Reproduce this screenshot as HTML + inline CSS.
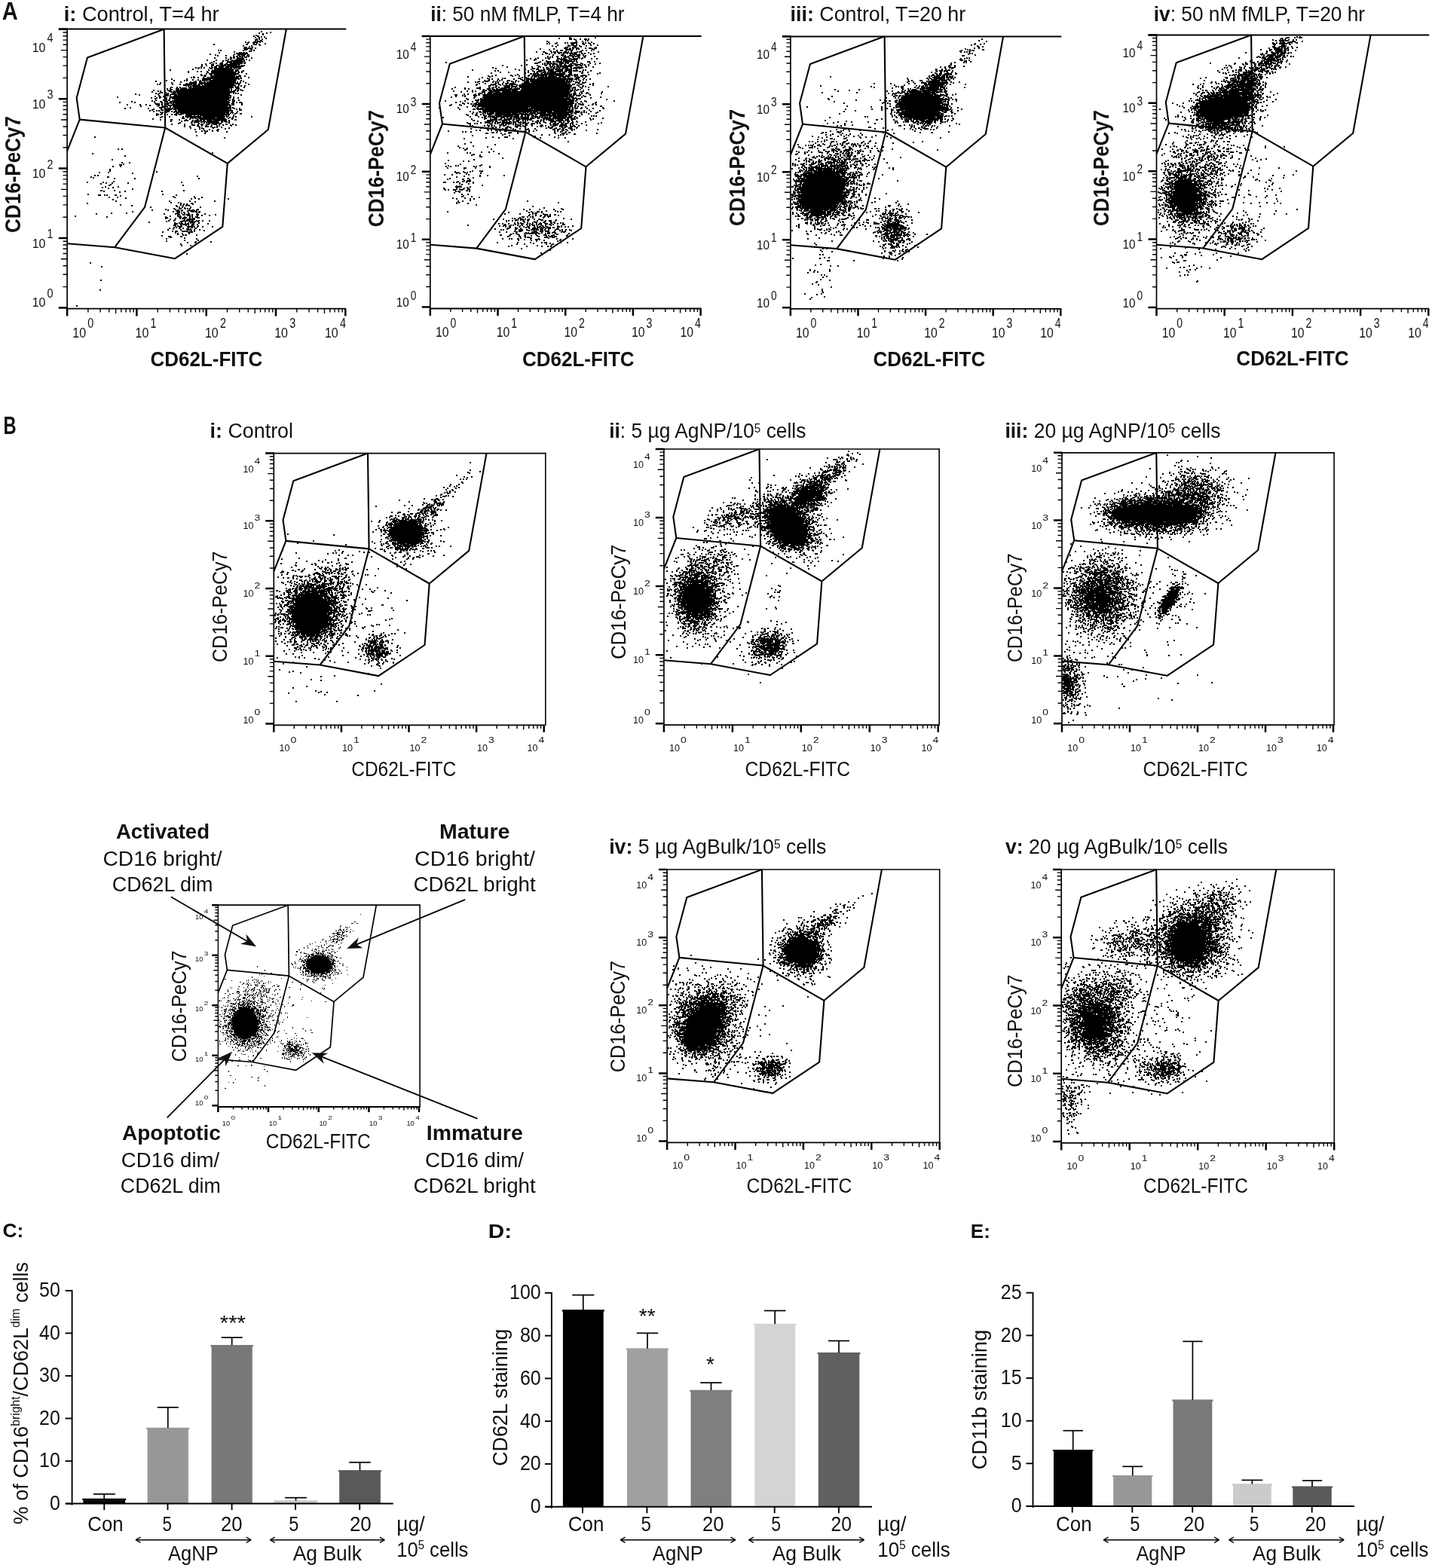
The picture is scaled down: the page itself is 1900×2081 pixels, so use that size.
<!DOCTYPE html>
<html><head><meta charset="utf-8"><title>Figure</title><style>html,body{margin:0;padding:0;background:#fff;}svg{display:block;}text{font-family:"Liberation Sans",Arial,sans-serif;fill:#111;}</style></head><body>
<svg width="1900" height="2081" viewBox="0 0 1900 2081">
<path d="M89.1 200.3 L105.7 158.6 L101.7 130.1 L115.9 76.5 L217.6 38.8" fill="none" stroke="#000" stroke-width="2.1" stroke-linejoin="round"/>
<path d="M217.6 38.8 L219.2 169.5" fill="none" stroke="#000" stroke-width="2.1" stroke-linejoin="round"/>
<path d="M105.7 158.6 L219.2 169.5" fill="none" stroke="#000" stroke-width="2.1" stroke-linejoin="round"/>
<path d="M219.2 169.5 L301.8 216.9 L355.8 172 L379.8 38.8" fill="none" stroke="#000" stroke-width="2.1" stroke-linejoin="round"/>
<path d="M219.2 169.5 L192.1 274.8 L152.2 328.2" fill="none" stroke="#000" stroke-width="2.1" stroke-linejoin="round"/>
<path d="M152.2 328.2 L232.2 343.2 L295.3 300.8 L301.8 216.9" fill="none" stroke="#000" stroke-width="2.1" stroke-linejoin="round"/>
<path d="M89.1 323.2 L152.2 328.2" fill="none" stroke="#000" stroke-width="2.1" stroke-linejoin="round"/>
<line x1="77.8" y1="38.5" x2="459.3" y2="38.5" stroke="#000" stroke-width="2"/>
<line x1="89.1" y1="37.5" x2="89.1" y2="410.7" stroke="#000" stroke-width="1.7"/>
<line x1="89.1" y1="409.7" x2="459.1" y2="409.7" stroke="#000" stroke-width="1.8"/>
<path d="M77.8 408.4h11.3M77.8 316h11.3M77.8 223.6h11.3M77.8 131.2h11.3M77.8 38.8h11.3M89.1 409.7v9.7M181.4 409.7v9.7M273.7 409.7v9.7M366 409.7v9.7M458.3 409.7v9.7" stroke="#000" stroke-width="2.5"/>
<path d="M83.5 380.6h5.6M83.5 364.3h5.6M83.5 352.8h5.6M80.9 343.8h8.2M83.5 336.5h5.6M83.5 330.3h5.6M83.5 325h5.6M83.5 320.2h5.6M83.5 288.2h5.6M83.5 271.9h5.6M83.5 260.4h5.6M80.9 251.4h8.2M83.5 244.1h5.6M83.5 237.9h5.6M83.5 232.6h5.6M83.5 227.8h5.6M83.5 195.8h5.6M83.5 179.5h5.6M83.5 168h5.6M80.9 159h8.2M83.5 151.7h5.6M83.5 145.5h5.6M83.5 140.2h5.6M83.5 135.4h5.6M83.5 103.4h5.6M83.5 87.1h5.6M83.5 75.6h5.6M80.9 66.6h8.2M83.5 59.3h5.6M83.5 53.1h5.6M83.5 47.8h5.6M83.5 43h5.6M116.9 409.7v4.7M133.1 409.7v4.7M144.7 409.7v4.7M153.6 409.7v6.2M160.9 409.7v4.7M167.1 409.7v4.7M172.5 409.7v4.7M177.2 409.7v4.7M209.2 409.7v4.7M225.4 409.7v4.7M237 409.7v4.7M245.9 409.7v6.2M253.2 409.7v4.7M259.4 409.7v4.7M264.8 409.7v4.7M269.5 409.7v4.7M301.5 409.7v4.7M317.7 409.7v4.7M329.3 409.7v4.7M338.2 409.7v6.2M345.5 409.7v4.7M351.7 409.7v4.7M357.1 409.7v4.7M361.8 409.7v4.7M393.8 409.7v4.7M410 409.7v4.7M421.6 409.7v4.7M430.5 409.7v6.2M437.8 409.7v4.7M444 409.7v4.7M449.4 409.7v4.7M454.1 409.7v4.7" stroke="#000" stroke-width="1.4"/>
<text x="60.4" y="407.4" font-size="16.2" text-anchor="end" textLength="17.7" lengthAdjust="spacingAndGlyphs">10</text>
<text x="62.6" y="394.5" font-size="16.2" textLength="8" lengthAdjust="spacingAndGlyphs">0</text>
<text x="60.4" y="328.8" font-size="16.2" text-anchor="end" textLength="17.7" lengthAdjust="spacingAndGlyphs">10</text>
<text x="62.6" y="315.9" font-size="16.2" textLength="8" lengthAdjust="spacingAndGlyphs">1</text>
<text x="60.4" y="236.4" font-size="16.2" text-anchor="end" textLength="17.7" lengthAdjust="spacingAndGlyphs">10</text>
<text x="62.6" y="223.5" font-size="16.2" textLength="8" lengthAdjust="spacingAndGlyphs">2</text>
<text x="60.4" y="144" font-size="16.2" text-anchor="end" textLength="17.7" lengthAdjust="spacingAndGlyphs">10</text>
<text x="62.6" y="131.1" font-size="16.2" textLength="8" lengthAdjust="spacingAndGlyphs">3</text>
<text x="60.4" y="69.3" font-size="16.2" text-anchor="end" textLength="17.7" lengthAdjust="spacingAndGlyphs">10</text>
<text x="62.6" y="56.4" font-size="16.2" textLength="8" lengthAdjust="spacingAndGlyphs">4</text>
<text x="96.3" y="448.4" font-size="18" textLength="17.8" lengthAdjust="spacingAndGlyphs">10</text>
<text x="116.3" y="435.4" font-size="18" textLength="8" lengthAdjust="spacingAndGlyphs">0</text>
<text x="179.6" y="448.4" font-size="18" textLength="17.8" lengthAdjust="spacingAndGlyphs">10</text>
<text x="199.6" y="435.4" font-size="18" textLength="8" lengthAdjust="spacingAndGlyphs">1</text>
<text x="271.9" y="448.4" font-size="18" textLength="17.8" lengthAdjust="spacingAndGlyphs">10</text>
<text x="291.9" y="435.4" font-size="18" textLength="8" lengthAdjust="spacingAndGlyphs">2</text>
<text x="364.2" y="448.4" font-size="18" textLength="17.8" lengthAdjust="spacingAndGlyphs">10</text>
<text x="384.2" y="435.4" font-size="18" textLength="8" lengthAdjust="spacingAndGlyphs">3</text>
<text x="430.9" y="448.4" font-size="18" textLength="17.8" lengthAdjust="spacingAndGlyphs">10</text>
<text x="450.9" y="435.4" font-size="18" textLength="8" lengthAdjust="spacingAndGlyphs">4</text>
<path d="M570.8 205.1 L586.9 164.5 L583 136.8 L596.8 84.7 L695.7 48" fill="none" stroke="#000" stroke-width="2.1" stroke-linejoin="round"/>
<path d="M695.7 48 L697.3 175.1" fill="none" stroke="#000" stroke-width="2.1" stroke-linejoin="round"/>
<path d="M586.9 164.5 L697.3 175.1" fill="none" stroke="#000" stroke-width="2.1" stroke-linejoin="round"/>
<path d="M697.3 175.1 L777.5 221.3 L830 177.6 L853.4 48" fill="none" stroke="#000" stroke-width="2.1" stroke-linejoin="round"/>
<path d="M697.3 175.1 L670.9 277.6 L632.2 329.6" fill="none" stroke="#000" stroke-width="2.1" stroke-linejoin="round"/>
<path d="M632.2 329.6 L709.8 344.1 L771.2 303 L777.5 221.3" fill="none" stroke="#000" stroke-width="2.1" stroke-linejoin="round"/>
<path d="M570.8 324.7 L632.2 329.6" fill="none" stroke="#000" stroke-width="2.1" stroke-linejoin="round"/>
<line x1="559.8" y1="47.9" x2="930.6" y2="47.9" stroke="#000" stroke-width="2"/>
<line x1="570.8" y1="46.9" x2="570.8" y2="410.5" stroke="#000" stroke-width="1.7"/>
<line x1="570.8" y1="409.5" x2="930.4" y2="409.5" stroke="#000" stroke-width="1.8"/>
<path d="M559.8 407.6h11M559.8 317.7h11M559.8 227.8h11M559.8 137.9h11M559.8 48h11M570.8 409.5v9.5M660.5 409.5v9.5M750.2 409.5v9.5M839.9 409.5v9.5M929.6 409.5v9.5" stroke="#000" stroke-width="2.5"/>
<path d="M565.3 380.5h5.5M565.3 364.7h5.5M565.3 353.5h5.5M562.8 344.8h8M565.3 337.6h5.5M565.3 331.6h5.5M565.3 326.4h5.5M565.3 321.8h5.5M565.3 290.6h5.5M565.3 274.8h5.5M565.3 263.6h5.5M562.8 254.9h8M565.3 247.7h5.5M565.3 241.7h5.5M565.3 236.5h5.5M565.3 231.9h5.5M565.3 200.7h5.5M565.3 184.9h5.5M565.3 173.7h5.5M562.8 165h8M565.3 157.8h5.5M565.3 151.8h5.5M565.3 146.6h5.5M565.3 142h5.5M565.3 110.8h5.5M565.3 95h5.5M565.3 83.8h5.5M562.8 75.1h8M565.3 67.9h5.5M565.3 61.9h5.5M565.3 56.7h5.5M565.3 52.1h5.5M597.8 409.5v4.6M613.6 409.5v4.6M624.8 409.5v4.6M633.5 409.5v6M640.6 409.5v4.6M646.6 409.5v4.6M651.8 409.5v4.6M656.4 409.5v4.6M687.5 409.5v4.6M703.3 409.5v4.6M714.5 409.5v4.6M723.2 409.5v6M730.3 409.5v4.6M736.3 409.5v4.6M741.5 409.5v4.6M746.1 409.5v4.6M777.2 409.5v4.6M793 409.5v4.6M804.2 409.5v4.6M812.9 409.5v6M820 409.5v4.6M826 409.5v4.6M831.2 409.5v4.6M835.8 409.5v4.6M866.9 409.5v4.6M882.7 409.5v4.6M893.9 409.5v4.6M902.6 409.5v6M909.7 409.5v4.6M915.7 409.5v4.6M920.9 409.5v4.6M925.5 409.5v4.6" stroke="#000" stroke-width="1.4"/>
<text x="542.8" y="407.3" font-size="15.8" text-anchor="end" textLength="17" lengthAdjust="spacingAndGlyphs">10</text>
<text x="544.8" y="397.8" font-size="15.8" textLength="7.6" lengthAdjust="spacingAndGlyphs">0</text>
<text x="542.8" y="330" font-size="15.8" text-anchor="end" textLength="17" lengthAdjust="spacingAndGlyphs">10</text>
<text x="544.8" y="320.5" font-size="15.8" textLength="7.6" lengthAdjust="spacingAndGlyphs">1</text>
<text x="542.8" y="240.1" font-size="15.8" text-anchor="end" textLength="17" lengthAdjust="spacingAndGlyphs">10</text>
<text x="544.8" y="230.6" font-size="15.8" textLength="7.6" lengthAdjust="spacingAndGlyphs">2</text>
<text x="542.8" y="150.2" font-size="15.8" text-anchor="end" textLength="17" lengthAdjust="spacingAndGlyphs">10</text>
<text x="544.8" y="140.7" font-size="15.8" textLength="7.6" lengthAdjust="spacingAndGlyphs">3</text>
<text x="542.8" y="77.5" font-size="15.8" text-anchor="end" textLength="17" lengthAdjust="spacingAndGlyphs">10</text>
<text x="544.8" y="68" font-size="15.8" textLength="7.6" lengthAdjust="spacingAndGlyphs">4</text>
<text x="578" y="447.3" font-size="18" textLength="17.5" lengthAdjust="spacingAndGlyphs">10</text>
<text x="597.5" y="434.8" font-size="18" textLength="7.8" lengthAdjust="spacingAndGlyphs">0</text>
<text x="658.7" y="447.3" font-size="18" textLength="17.5" lengthAdjust="spacingAndGlyphs">10</text>
<text x="678.2" y="434.8" font-size="18" textLength="7.8" lengthAdjust="spacingAndGlyphs">1</text>
<text x="748.4" y="447.3" font-size="18" textLength="17.5" lengthAdjust="spacingAndGlyphs">10</text>
<text x="767.9" y="434.8" font-size="18" textLength="7.8" lengthAdjust="spacingAndGlyphs">2</text>
<text x="838.1" y="447.3" font-size="18" textLength="17.5" lengthAdjust="spacingAndGlyphs">10</text>
<text x="857.6" y="434.8" font-size="18" textLength="7.8" lengthAdjust="spacingAndGlyphs">3</text>
<text x="902.6" y="447.3" font-size="18" textLength="17.5" lengthAdjust="spacingAndGlyphs">10</text>
<text x="922.1" y="434.8" font-size="18" textLength="7.8" lengthAdjust="spacingAndGlyphs">4</text>
<path d="M1048.9 205.5 L1065 164.8 L1061.1 137.1 L1074.9 84.9 L1173.6 48.2" fill="none" stroke="#000" stroke-width="2.1" stroke-linejoin="round"/>
<path d="M1173.6 48.2 L1175.2 175.5" fill="none" stroke="#000" stroke-width="2.1" stroke-linejoin="round"/>
<path d="M1065 164.8 L1175.2 175.5" fill="none" stroke="#000" stroke-width="2.1" stroke-linejoin="round"/>
<path d="M1175.2 175.5 L1255.3 221.7 L1307.8 178 L1331.1 48.2" fill="none" stroke="#000" stroke-width="2.1" stroke-linejoin="round"/>
<path d="M1175.2 175.5 L1148.9 278.1 L1110.2 330.1" fill="none" stroke="#000" stroke-width="2.1" stroke-linejoin="round"/>
<path d="M1110.2 330.1 L1187.8 344.7 L1249.1 303.4 L1255.3 221.7" fill="none" stroke="#000" stroke-width="2.1" stroke-linejoin="round"/>
<path d="M1048.9 325.2 L1110.2 330.1" fill="none" stroke="#000" stroke-width="2.1" stroke-linejoin="round"/>
<line x1="1037.9" y1="48.4" x2="1408.3" y2="48.4" stroke="#000" stroke-width="2"/>
<line x1="1048.9" y1="47.4" x2="1048.9" y2="410.8" stroke="#000" stroke-width="1.7"/>
<line x1="1048.9" y1="409.8" x2="1408.1" y2="409.8" stroke="#000" stroke-width="1.8"/>
<path d="M1037.9 408.2h11M1037.9 318.2h11M1037.9 228.2h11M1037.9 138.2h11M1037.9 48.2h11M1048.9 409.8v9.5M1138.5 409.8v9.5M1228.1 409.8v9.5M1317.7 409.8v9.5M1407.3 409.8v9.5" stroke="#000" stroke-width="2.5"/>
<path d="M1043.4 381.1h5.5M1043.4 365.3h5.5M1043.4 354h5.5M1040.9 345.3h8M1043.4 338.2h5.5M1043.4 332.1h5.5M1043.4 326.9h5.5M1043.4 322.3h5.5M1043.4 291.1h5.5M1043.4 275.3h5.5M1043.4 264h5.5M1040.9 255.3h8M1043.4 248.2h5.5M1043.4 242.1h5.5M1043.4 236.9h5.5M1043.4 232.3h5.5M1043.4 201.1h5.5M1043.4 185.3h5.5M1043.4 174h5.5M1040.9 165.3h8M1043.4 158.2h5.5M1043.4 152.1h5.5M1043.4 146.9h5.5M1043.4 142.3h5.5M1043.4 111.1h5.5M1043.4 95.3h5.5M1043.4 84h5.5M1040.9 75.3h8M1043.4 68.2h5.5M1043.4 62.1h5.5M1043.4 56.9h5.5M1043.4 52.3h5.5M1075.9 409.8v4.6M1091.7 409.8v4.6M1102.8 409.8v4.6M1111.5 409.8v6M1118.6 409.8v4.6M1124.6 409.8v4.6M1129.8 409.8v4.6M1134.4 409.8v4.6M1165.5 409.8v4.6M1181.3 409.8v4.6M1192.4 409.8v4.6M1201.1 409.8v6M1208.2 409.8v4.6M1214.2 409.8v4.6M1219.4 409.8v4.6M1224 409.8v4.6M1255.1 409.8v4.6M1270.9 409.8v4.6M1282 409.8v4.6M1290.7 409.8v6M1297.8 409.8v4.6M1303.8 409.8v4.6M1309 409.8v4.6M1313.6 409.8v4.6M1344.7 409.8v4.6M1360.5 409.8v4.6M1371.6 409.8v4.6M1380.3 409.8v6M1387.4 409.8v4.6M1393.4 409.8v4.6M1398.6 409.8v4.6M1403.2 409.8v4.6" stroke="#000" stroke-width="1.4"/>
<text x="1020.9" y="407.9" font-size="15.8" text-anchor="end" textLength="17" lengthAdjust="spacingAndGlyphs">10</text>
<text x="1022.9" y="398.4" font-size="15.8" textLength="7.6" lengthAdjust="spacingAndGlyphs">0</text>
<text x="1020.9" y="330.5" font-size="15.8" text-anchor="end" textLength="17" lengthAdjust="spacingAndGlyphs">10</text>
<text x="1022.9" y="321" font-size="15.8" textLength="7.6" lengthAdjust="spacingAndGlyphs">1</text>
<text x="1020.9" y="240.5" font-size="15.8" text-anchor="end" textLength="17" lengthAdjust="spacingAndGlyphs">10</text>
<text x="1022.9" y="231" font-size="15.8" textLength="7.6" lengthAdjust="spacingAndGlyphs">2</text>
<text x="1020.9" y="150.5" font-size="15.8" text-anchor="end" textLength="17" lengthAdjust="spacingAndGlyphs">10</text>
<text x="1022.9" y="141" font-size="15.8" textLength="7.6" lengthAdjust="spacingAndGlyphs">3</text>
<text x="1020.9" y="77.7" font-size="15.8" text-anchor="end" textLength="17" lengthAdjust="spacingAndGlyphs">10</text>
<text x="1022.9" y="68.2" font-size="15.8" textLength="7.6" lengthAdjust="spacingAndGlyphs">4</text>
<text x="1056.1" y="447.9" font-size="18" textLength="17.5" lengthAdjust="spacingAndGlyphs">10</text>
<text x="1075.6" y="435.4" font-size="18" textLength="7.8" lengthAdjust="spacingAndGlyphs">0</text>
<text x="1136.7" y="447.9" font-size="18" textLength="17.5" lengthAdjust="spacingAndGlyphs">10</text>
<text x="1156.2" y="435.4" font-size="18" textLength="7.8" lengthAdjust="spacingAndGlyphs">1</text>
<text x="1226.3" y="447.9" font-size="18" textLength="17.5" lengthAdjust="spacingAndGlyphs">10</text>
<text x="1245.8" y="435.4" font-size="18" textLength="7.8" lengthAdjust="spacingAndGlyphs">2</text>
<text x="1315.9" y="447.9" font-size="18" textLength="17.5" lengthAdjust="spacingAndGlyphs">10</text>
<text x="1335.4" y="435.4" font-size="18" textLength="7.8" lengthAdjust="spacingAndGlyphs">3</text>
<text x="1380.3" y="447.9" font-size="18" textLength="17.5" lengthAdjust="spacingAndGlyphs">10</text>
<text x="1399.8" y="435.4" font-size="18" textLength="7.8" lengthAdjust="spacingAndGlyphs">4</text>
<path d="M1534.5 204.4 L1550.7 163.6 L1546.8 135.7 L1560.7 83.3 L1660.1 46.4" fill="none" stroke="#000" stroke-width="2.1" stroke-linejoin="round"/>
<path d="M1660.1 46.4 L1661.7 174.2" fill="none" stroke="#000" stroke-width="2.1" stroke-linejoin="round"/>
<path d="M1550.7 163.6 L1661.7 174.2" fill="none" stroke="#000" stroke-width="2.1" stroke-linejoin="round"/>
<path d="M1661.7 174.2 L1742.3 220.7 L1795.2 176.8 L1818.6 46.4" fill="none" stroke="#000" stroke-width="2.1" stroke-linejoin="round"/>
<path d="M1661.7 174.2 L1635.2 277.3 L1596.2 329.5" fill="none" stroke="#000" stroke-width="2.1" stroke-linejoin="round"/>
<path d="M1596.2 329.5 L1674.3 344.2 L1736 302.8 L1742.3 220.7" fill="none" stroke="#000" stroke-width="2.1" stroke-linejoin="round"/>
<path d="M1534.5 324.7 L1596.2 329.5" fill="none" stroke="#000" stroke-width="2.1" stroke-linejoin="round"/>
<line x1="1523.5" y1="46.5" x2="1896.3" y2="46.5" stroke="#000" stroke-width="2"/>
<line x1="1534.5" y1="45.5" x2="1534.5" y2="410.7" stroke="#000" stroke-width="1.7"/>
<line x1="1534.5" y1="409.7" x2="1896.1" y2="409.7" stroke="#000" stroke-width="1.8"/>
<path d="M1523.5 408h11M1523.5 317.6h11M1523.5 227.2h11M1523.5 136.8h11M1523.5 46.4h11M1534.5 409.7v9.5M1624.7 409.7v9.5M1714.9 409.7v9.5M1805.1 409.7v9.5M1895.3 409.7v9.5" stroke="#000" stroke-width="2.5"/>
<path d="M1529 380.8h5.5M1529 364.9h5.5M1529 353.6h5.5M1526.5 344.8h8M1529 337.7h5.5M1529 331.6h5.5M1529 326.4h5.5M1529 321.7h5.5M1529 290.4h5.5M1529 274.5h5.5M1529 263.2h5.5M1526.5 254.4h8M1529 247.3h5.5M1529 241.2h5.5M1529 236h5.5M1529 231.3h5.5M1529 200h5.5M1529 184.1h5.5M1529 172.8h5.5M1526.5 164h8M1529 156.9h5.5M1529 150.8h5.5M1529 145.6h5.5M1529 140.9h5.5M1529 109.6h5.5M1529 93.7h5.5M1529 82.4h5.5M1526.5 73.6h8M1529 66.5h5.5M1529 60.4h5.5M1529 55.2h5.5M1529 50.5h5.5M1561.7 409.7v4.6M1577.5 409.7v4.6M1588.8 409.7v4.6M1597.5 409.7v6M1604.7 409.7v4.6M1610.7 409.7v4.6M1616 409.7v4.6M1620.6 409.7v4.6M1651.9 409.7v4.6M1667.7 409.7v4.6M1679 409.7v4.6M1687.7 409.7v6M1694.9 409.7v4.6M1700.9 409.7v4.6M1706.2 409.7v4.6M1710.8 409.7v4.6M1742.1 409.7v4.6M1757.9 409.7v4.6M1769.2 409.7v4.6M1777.9 409.7v6M1785.1 409.7v4.6M1791.1 409.7v4.6M1796.4 409.7v4.6M1801 409.7v4.6M1832.3 409.7v4.6M1848.1 409.7v4.6M1859.4 409.7v4.6M1868.1 409.7v6M1875.3 409.7v4.6M1881.3 409.7v4.6M1886.6 409.7v4.6M1891.2 409.7v4.6" stroke="#000" stroke-width="1.4"/>
<text x="1506.5" y="407.7" font-size="15.8" text-anchor="end" textLength="17" lengthAdjust="spacingAndGlyphs">10</text>
<text x="1508.5" y="398.2" font-size="15.8" textLength="7.6" lengthAdjust="spacingAndGlyphs">0</text>
<text x="1506.5" y="329.9" font-size="15.8" text-anchor="end" textLength="17" lengthAdjust="spacingAndGlyphs">10</text>
<text x="1508.5" y="320.4" font-size="15.8" textLength="7.6" lengthAdjust="spacingAndGlyphs">1</text>
<text x="1506.5" y="239.5" font-size="15.8" text-anchor="end" textLength="17" lengthAdjust="spacingAndGlyphs">10</text>
<text x="1508.5" y="230" font-size="15.8" textLength="7.6" lengthAdjust="spacingAndGlyphs">2</text>
<text x="1506.5" y="149.1" font-size="15.8" text-anchor="end" textLength="17" lengthAdjust="spacingAndGlyphs">10</text>
<text x="1508.5" y="139.6" font-size="15.8" textLength="7.6" lengthAdjust="spacingAndGlyphs">3</text>
<text x="1506.5" y="75.9" font-size="15.8" text-anchor="end" textLength="17" lengthAdjust="spacingAndGlyphs">10</text>
<text x="1508.5" y="66.4" font-size="15.8" textLength="7.6" lengthAdjust="spacingAndGlyphs">4</text>
<text x="1541.7" y="447.7" font-size="18" textLength="17.5" lengthAdjust="spacingAndGlyphs">10</text>
<text x="1561.2" y="435.2" font-size="18" textLength="7.8" lengthAdjust="spacingAndGlyphs">0</text>
<text x="1622.9" y="447.7" font-size="18" textLength="17.5" lengthAdjust="spacingAndGlyphs">10</text>
<text x="1642.4" y="435.2" font-size="18" textLength="7.8" lengthAdjust="spacingAndGlyphs">1</text>
<text x="1713.1" y="447.7" font-size="18" textLength="17.5" lengthAdjust="spacingAndGlyphs">10</text>
<text x="1732.6" y="435.2" font-size="18" textLength="7.8" lengthAdjust="spacingAndGlyphs">2</text>
<text x="1803.3" y="447.7" font-size="18" textLength="17.5" lengthAdjust="spacingAndGlyphs">10</text>
<text x="1822.8" y="435.2" font-size="18" textLength="7.8" lengthAdjust="spacingAndGlyphs">3</text>
<text x="1868.3" y="447.7" font-size="18" textLength="17.5" lengthAdjust="spacingAndGlyphs">10</text>
<text x="1887.8" y="435.2" font-size="18" textLength="7.8" lengthAdjust="spacingAndGlyphs">4</text>
<path d="M363.3 758.4 L379.4 717.9 L375.5 690.2 L389.3 638.2 L488 601.6" fill="none" stroke="#000" stroke-width="2.1" stroke-linejoin="round"/>
<path d="M488 601.6 L489.6 728.4" fill="none" stroke="#000" stroke-width="2.1" stroke-linejoin="round"/>
<path d="M379.4 717.9 L489.6 728.4" fill="none" stroke="#000" stroke-width="2.1" stroke-linejoin="round"/>
<path d="M489.6 728.4 L569.7 774.5 L622.2 730.9 L645.5 601.6" fill="none" stroke="#000" stroke-width="2.1" stroke-linejoin="round"/>
<path d="M489.6 728.4 L463.3 830.7 L424.6 882.5" fill="none" stroke="#000" stroke-width="2.1" stroke-linejoin="round"/>
<path d="M424.6 882.5 L502.2 897.1 L563.5 856 L569.7 774.5" fill="none" stroke="#000" stroke-width="2.1" stroke-linejoin="round"/>
<path d="M363.3 877.7 L424.6 882.5" fill="none" stroke="#000" stroke-width="2.1" stroke-linejoin="round"/>
<line x1="352.3" y1="601.6" x2="723.8" y2="601.6" stroke="#000" stroke-width="1.7"/>
<line x1="723.8" y1="600.8" x2="723.8" y2="963.1" stroke="#000" stroke-width="1.6"/>
<line x1="363.3" y1="600.6" x2="363.3" y2="963.3" stroke="#000" stroke-width="1.7"/>
<line x1="363.3" y1="962.3" x2="722.5" y2="962.3" stroke="#000" stroke-width="1.8"/>
<path d="M352.3 960.4h11M352.3 870.7h11M352.3 781h11M352.3 691.3h11M352.3 601.6h11M363.3 962.3v9.5M452.9 962.3v9.5M542.5 962.3v9.5M632.1 962.3v9.5M721.7 962.3v9.5" stroke="#000" stroke-width="2.5"/>
<path d="M357.8 933.4h5.5M357.8 917.6h5.5M357.8 906.4h5.5M355.3 897.7h8M357.8 890.6h5.5M357.8 884.6h5.5M357.8 879.4h5.5M357.8 874.8h5.5M357.8 843.7h5.5M357.8 827.9h5.5M357.8 816.7h5.5M355.3 808h8M357.8 800.9h5.5M357.8 794.9h5.5M357.8 789.7h5.5M357.8 785.1h5.5M357.8 754h5.5M357.8 738.2h5.5M357.8 727h5.5M355.3 718.3h8M357.8 711.2h5.5M357.8 705.2h5.5M357.8 700h5.5M357.8 695.4h5.5M357.8 664.3h5.5M357.8 648.5h5.5M357.8 637.3h5.5M355.3 628.6h8M357.8 621.5h5.5M357.8 615.5h5.5M357.8 610.3h5.5M357.8 605.7h5.5M390.3 962.3v4.6M406.1 962.3v4.6M417.2 962.3v4.6M425.9 962.3v6M433 962.3v4.6M439 962.3v4.6M444.2 962.3v4.6M448.8 962.3v4.6M479.9 962.3v4.6M495.7 962.3v4.6M506.8 962.3v4.6M515.5 962.3v6M522.6 962.3v4.6M528.6 962.3v4.6M533.8 962.3v4.6M538.4 962.3v4.6M569.5 962.3v4.6M585.3 962.3v4.6M596.4 962.3v4.6M605.1 962.3v6M612.2 962.3v4.6M618.2 962.3v4.6M623.4 962.3v4.6M628 962.3v4.6M659.1 962.3v4.6M674.9 962.3v4.6M686 962.3v4.6M694.7 962.3v6M701.8 962.3v4.6M707.8 962.3v4.6M713 962.3v4.6M717.6 962.3v4.6" stroke="#000" stroke-width="1.4"/>
<text x="336.5" y="960.4" font-size="12" text-anchor="end" textLength="14" lengthAdjust="spacingAndGlyphs">10</text>
<text x="337.5" y="949.4" font-size="11.2" textLength="7.8" lengthAdjust="spacingAndGlyphs">0</text>
<text x="336.5" y="881.7" font-size="12" text-anchor="end" textLength="14" lengthAdjust="spacingAndGlyphs">10</text>
<text x="337.5" y="870.7" font-size="11.2" textLength="7.8" lengthAdjust="spacingAndGlyphs">1</text>
<text x="336.5" y="792" font-size="12" text-anchor="end" textLength="14" lengthAdjust="spacingAndGlyphs">10</text>
<text x="337.5" y="781" font-size="11.2" textLength="7.8" lengthAdjust="spacingAndGlyphs">2</text>
<text x="336.5" y="702.3" font-size="12" text-anchor="end" textLength="14" lengthAdjust="spacingAndGlyphs">10</text>
<text x="337.5" y="691.3" font-size="11.2" textLength="7.8" lengthAdjust="spacingAndGlyphs">3</text>
<text x="336.5" y="626.9" font-size="12" text-anchor="end" textLength="14" lengthAdjust="spacingAndGlyphs">10</text>
<text x="337.5" y="615.9" font-size="11.2" textLength="7.8" lengthAdjust="spacingAndGlyphs">4</text>
<text x="370.5" y="996.9" font-size="12" textLength="14" lengthAdjust="spacingAndGlyphs">10</text>
<text x="385.5" y="985.9" font-size="11.2" textLength="7.8" lengthAdjust="spacingAndGlyphs">0</text>
<text x="453.9" y="996.9" font-size="12" textLength="14" lengthAdjust="spacingAndGlyphs">10</text>
<text x="468.9" y="985.9" font-size="11.2" textLength="7.8" lengthAdjust="spacingAndGlyphs">1</text>
<text x="543.5" y="996.9" font-size="12" textLength="14" lengthAdjust="spacingAndGlyphs">10</text>
<text x="558.5" y="985.9" font-size="11.2" textLength="7.8" lengthAdjust="spacingAndGlyphs">2</text>
<text x="633.1" y="996.9" font-size="12" textLength="14" lengthAdjust="spacingAndGlyphs">10</text>
<text x="648.1" y="985.9" font-size="11.2" textLength="7.8" lengthAdjust="spacingAndGlyphs">3</text>
<text x="699.4" y="996.9" font-size="12" textLength="14" lengthAdjust="spacingAndGlyphs">10</text>
<text x="714.4" y="985.9" font-size="11.2" textLength="7.8" lengthAdjust="spacingAndGlyphs">4</text>
<path d="M880.9 755.1 L897.3 714 L893.3 685.9 L907.3 633.1 L1007.5 595.9" fill="none" stroke="#000" stroke-width="2.1" stroke-linejoin="round"/>
<path d="M1007.5 595.9 L1009.1 724.7" fill="none" stroke="#000" stroke-width="2.1" stroke-linejoin="round"/>
<path d="M897.3 714 L1009.1 724.7" fill="none" stroke="#000" stroke-width="2.1" stroke-linejoin="round"/>
<path d="M1009.1 724.7 L1090.4 771.5 L1143.7 727.3 L1167.4 595.9" fill="none" stroke="#000" stroke-width="2.1" stroke-linejoin="round"/>
<path d="M1009.1 724.7 L982.4 828.6 L943.1 881.2" fill="none" stroke="#000" stroke-width="2.1" stroke-linejoin="round"/>
<path d="M943.1 881.2 L1021.9 896 L1084.1 854.3 L1090.4 771.5" fill="none" stroke="#000" stroke-width="2.1" stroke-linejoin="round"/>
<path d="M880.9 876.3 L943.1 881.2" fill="none" stroke="#000" stroke-width="2.1" stroke-linejoin="round"/>
<line x1="869.8" y1="596" x2="1246.2" y2="596" stroke="#000" stroke-width="1.7"/>
<line x1="1246.2" y1="595.2" x2="1246.2" y2="963" stroke="#000" stroke-width="1.6"/>
<line x1="880.9" y1="595" x2="880.9" y2="963.2" stroke="#000" stroke-width="1.7"/>
<line x1="880.9" y1="962.2" x2="1245.5" y2="962.2" stroke="#000" stroke-width="1.8"/>
<path d="M869.8 960.3h11.1M869.8 869.2h11.1M869.8 778.1h11.1M869.8 687h11.1M869.8 595.9h11.1M880.9 962.2v9.6M971.9 962.2v9.6M1062.8 962.2v9.6M1153.8 962.2v9.6M1244.7 962.2v9.6" stroke="#000" stroke-width="2.5"/>
<path d="M875.3 932.9h5.6M875.3 916.8h5.6M875.3 905.5h5.6M872.8 896.6h8.1M875.3 889.4h5.6M875.3 883.3h5.6M875.3 878h5.6M875.3 873.4h5.6M875.3 841.8h5.6M875.3 825.7h5.6M875.3 814.4h5.6M872.8 805.5h8.1M875.3 798.3h5.6M875.3 792.2h5.6M875.3 786.9h5.6M875.3 782.3h5.6M875.3 750.7h5.6M875.3 734.6h5.6M875.3 723.3h5.6M872.8 714.4h8.1M875.3 707.2h5.6M875.3 701.1h5.6M875.3 695.8h5.6M875.3 691.2h5.6M875.3 659.6h5.6M875.3 643.5h5.6M875.3 632.2h5.6M872.8 623.3h8.1M875.3 616.1h5.6M875.3 610h5.6M875.3 604.7h5.6M875.3 600.1h5.6M908.3 962.2v4.6M924.3 962.2v4.6M935.7 962.2v4.6M944.5 962.2v6.1M951.7 962.2v4.6M957.8 962.2v4.6M963 962.2v4.6M967.7 962.2v4.6M999.2 962.2v4.6M1015.2 962.2v4.6M1026.6 962.2v4.6M1035.4 962.2v6.1M1042.6 962.2v4.6M1048.7 962.2v4.6M1054 962.2v4.6M1058.6 962.2v4.6M1090.2 962.2v4.6M1106.2 962.2v4.6M1117.6 962.2v4.6M1126.4 962.2v6.1M1133.6 962.2v4.6M1139.7 962.2v4.6M1144.9 962.2v4.6M1149.6 962.2v4.6M1181.1 962.2v4.6M1197.1 962.2v4.6M1208.5 962.2v4.6M1217.3 962.2v6.1M1224.5 962.2v4.6M1230.6 962.2v4.6M1235.9 962.2v4.6M1240.5 962.2v4.6" stroke="#000" stroke-width="1.4"/>
<text x="854.1" y="960.3" font-size="12" text-anchor="end" textLength="14" lengthAdjust="spacingAndGlyphs">10</text>
<text x="855.1" y="949.3" font-size="11.2" textLength="7.8" lengthAdjust="spacingAndGlyphs">0</text>
<text x="854.1" y="880.2" font-size="12" text-anchor="end" textLength="14" lengthAdjust="spacingAndGlyphs">10</text>
<text x="855.1" y="869.2" font-size="11.2" textLength="7.8" lengthAdjust="spacingAndGlyphs">1</text>
<text x="854.1" y="789.1" font-size="12" text-anchor="end" textLength="14" lengthAdjust="spacingAndGlyphs">10</text>
<text x="855.1" y="778.1" font-size="11.2" textLength="7.8" lengthAdjust="spacingAndGlyphs">2</text>
<text x="854.1" y="698" font-size="12" text-anchor="end" textLength="14" lengthAdjust="spacingAndGlyphs">10</text>
<text x="855.1" y="687" font-size="11.2" textLength="7.8" lengthAdjust="spacingAndGlyphs">3</text>
<text x="854.1" y="621.2" font-size="12" text-anchor="end" textLength="14" lengthAdjust="spacingAndGlyphs">10</text>
<text x="855.1" y="610.2" font-size="11.2" textLength="7.8" lengthAdjust="spacingAndGlyphs">4</text>
<text x="888.1" y="996.8" font-size="12" textLength="14" lengthAdjust="spacingAndGlyphs">10</text>
<text x="903.1" y="985.8" font-size="11.2" textLength="7.8" lengthAdjust="spacingAndGlyphs">0</text>
<text x="972.9" y="996.8" font-size="12" textLength="14" lengthAdjust="spacingAndGlyphs">10</text>
<text x="987.9" y="985.8" font-size="11.2" textLength="7.8" lengthAdjust="spacingAndGlyphs">1</text>
<text x="1063.8" y="996.8" font-size="12" textLength="14" lengthAdjust="spacingAndGlyphs">10</text>
<text x="1078.8" y="985.8" font-size="11.2" textLength="7.8" lengthAdjust="spacingAndGlyphs">2</text>
<text x="1154.8" y="996.8" font-size="12" textLength="14" lengthAdjust="spacingAndGlyphs">10</text>
<text x="1169.8" y="985.8" font-size="11.2" textLength="7.8" lengthAdjust="spacingAndGlyphs">3</text>
<text x="1222.4" y="996.8" font-size="12" textLength="14" lengthAdjust="spacingAndGlyphs">10</text>
<text x="1237.4" y="985.8" font-size="11.2" textLength="7.8" lengthAdjust="spacingAndGlyphs">4</text>
<path d="M1409 757.8 L1425.2 717.2 L1421.2 689.5 L1435.1 637.4 L1534.3 600.7" fill="none" stroke="#000" stroke-width="2.1" stroke-linejoin="round"/>
<path d="M1534.3 600.7 L1535.9 727.8" fill="none" stroke="#000" stroke-width="2.1" stroke-linejoin="round"/>
<path d="M1425.2 717.2 L1535.9 727.8" fill="none" stroke="#000" stroke-width="2.1" stroke-linejoin="round"/>
<path d="M1535.9 727.8 L1616.4 774 L1669.1 730.3 L1692.5 600.7" fill="none" stroke="#000" stroke-width="2.1" stroke-linejoin="round"/>
<path d="M1535.9 727.8 L1509.4 830.3 L1470.6 882.3" fill="none" stroke="#000" stroke-width="2.1" stroke-linejoin="round"/>
<path d="M1470.6 882.3 L1548.5 896.8 L1610.1 855.7 L1616.4 774" fill="none" stroke="#000" stroke-width="2.1" stroke-linejoin="round"/>
<path d="M1409 877.4 L1470.6 882.3" fill="none" stroke="#000" stroke-width="2.1" stroke-linejoin="round"/>
<line x1="1398" y1="600.8" x2="1770.1" y2="600.8" stroke="#000" stroke-width="1.7"/>
<line x1="1770.1" y1="600" x2="1770.1" y2="963" stroke="#000" stroke-width="1.6"/>
<line x1="1409" y1="599.8" x2="1409" y2="963.2" stroke="#000" stroke-width="1.7"/>
<line x1="1409" y1="962.2" x2="1769.8" y2="962.2" stroke="#000" stroke-width="1.8"/>
<path d="M1398 960.3h11M1398 870.4h11M1398 780.5h11M1398 690.6h11M1398 600.7h11M1409 962.2v9.5M1499 962.2v9.5M1589 962.2v9.5M1679 962.2v9.5M1769 962.2v9.5" stroke="#000" stroke-width="2.5"/>
<path d="M1403.5 933.2h5.5M1403.5 917.4h5.5M1403.5 906.2h5.5M1401 897.5h8M1403.5 890.3h5.5M1403.5 884.3h5.5M1403.5 879.1h5.5M1403.5 874.5h5.5M1403.5 843.3h5.5M1403.5 827.5h5.5M1403.5 816.3h5.5M1401 807.6h8M1403.5 800.4h5.5M1403.5 794.4h5.5M1403.5 789.2h5.5M1403.5 784.6h5.5M1403.5 753.4h5.5M1403.5 737.6h5.5M1403.5 726.4h5.5M1401 717.7h8M1403.5 710.5h5.5M1403.5 704.5h5.5M1403.5 699.3h5.5M1403.5 694.7h5.5M1403.5 663.5h5.5M1403.5 647.7h5.5M1403.5 636.5h5.5M1401 627.8h8M1403.5 620.6h5.5M1403.5 614.6h5.5M1403.5 609.4h5.5M1403.5 604.8h5.5M1436.1 962.2v4.6M1451.9 962.2v4.6M1463.2 962.2v4.6M1471.9 962.2v6M1479 962.2v4.6M1485.1 962.2v4.6M1490.3 962.2v4.6M1494.9 962.2v4.6M1526.1 962.2v4.6M1541.9 962.2v4.6M1553.2 962.2v4.6M1561.9 962.2v6M1569 962.2v4.6M1575.1 962.2v4.6M1580.3 962.2v4.6M1584.9 962.2v4.6M1616.1 962.2v4.6M1631.9 962.2v4.6M1643.2 962.2v4.6M1651.9 962.2v6M1659 962.2v4.6M1665.1 962.2v4.6M1670.3 962.2v4.6M1674.9 962.2v4.6M1706.1 962.2v4.6M1721.9 962.2v4.6M1733.2 962.2v4.6M1741.9 962.2v6M1749 962.2v4.6M1755.1 962.2v4.6M1760.3 962.2v4.6M1764.9 962.2v4.6" stroke="#000" stroke-width="1.4"/>
<text x="1382.2" y="960.3" font-size="12" text-anchor="end" textLength="14" lengthAdjust="spacingAndGlyphs">10</text>
<text x="1383.2" y="949.3" font-size="11.2" textLength="7.8" lengthAdjust="spacingAndGlyphs">0</text>
<text x="1382.2" y="881.4" font-size="12" text-anchor="end" textLength="14" lengthAdjust="spacingAndGlyphs">10</text>
<text x="1383.2" y="870.4" font-size="11.2" textLength="7.8" lengthAdjust="spacingAndGlyphs">1</text>
<text x="1382.2" y="791.5" font-size="12" text-anchor="end" textLength="14" lengthAdjust="spacingAndGlyphs">10</text>
<text x="1383.2" y="780.5" font-size="11.2" textLength="7.8" lengthAdjust="spacingAndGlyphs">2</text>
<text x="1382.2" y="701.6" font-size="12" text-anchor="end" textLength="14" lengthAdjust="spacingAndGlyphs">10</text>
<text x="1383.2" y="690.6" font-size="11.2" textLength="7.8" lengthAdjust="spacingAndGlyphs">3</text>
<text x="1382.2" y="626" font-size="12" text-anchor="end" textLength="14" lengthAdjust="spacingAndGlyphs">10</text>
<text x="1383.2" y="615" font-size="11.2" textLength="7.8" lengthAdjust="spacingAndGlyphs">4</text>
<text x="1416.2" y="996.8" font-size="12" textLength="14" lengthAdjust="spacingAndGlyphs">10</text>
<text x="1431.2" y="985.8" font-size="11.2" textLength="7.8" lengthAdjust="spacingAndGlyphs">0</text>
<text x="1500" y="996.8" font-size="12" textLength="14" lengthAdjust="spacingAndGlyphs">10</text>
<text x="1515" y="985.8" font-size="11.2" textLength="7.8" lengthAdjust="spacingAndGlyphs">1</text>
<text x="1590" y="996.8" font-size="12" textLength="14" lengthAdjust="spacingAndGlyphs">10</text>
<text x="1605" y="985.8" font-size="11.2" textLength="7.8" lengthAdjust="spacingAndGlyphs">2</text>
<text x="1680" y="996.8" font-size="12" textLength="14" lengthAdjust="spacingAndGlyphs">10</text>
<text x="1695" y="985.8" font-size="11.2" textLength="7.8" lengthAdjust="spacingAndGlyphs">3</text>
<text x="1746.7" y="996.8" font-size="12" textLength="14" lengthAdjust="spacingAndGlyphs">10</text>
<text x="1761.7" y="985.8" font-size="11.2" textLength="7.8" lengthAdjust="spacingAndGlyphs">4</text>
<path d="M885.1 1311.6 L901.4 1270.9 L897.4 1243.1 L911.3 1190.9 L1010.9 1154.1" fill="none" stroke="#000" stroke-width="2.1" stroke-linejoin="round"/>
<path d="M1010.9 1154.1 L1012.6 1281.5" fill="none" stroke="#000" stroke-width="2.1" stroke-linejoin="round"/>
<path d="M901.4 1270.9 L1012.6 1281.5" fill="none" stroke="#000" stroke-width="2.1" stroke-linejoin="round"/>
<path d="M1012.6 1281.5 L1093.4 1327.8 L1146.4 1284 L1169.9 1154.1" fill="none" stroke="#000" stroke-width="2.1" stroke-linejoin="round"/>
<path d="M1012.6 1281.5 L986 1384.2 L946.9 1436.3" fill="none" stroke="#000" stroke-width="2.1" stroke-linejoin="round"/>
<path d="M946.9 1436.3 L1025.2 1450.9 L1087.1 1409.6 L1093.4 1327.8" fill="none" stroke="#000" stroke-width="2.1" stroke-linejoin="round"/>
<path d="M885.1 1431.4 L946.9 1436.3" fill="none" stroke="#000" stroke-width="2.1" stroke-linejoin="round"/>
<line x1="874.1" y1="1154" x2="1246.7" y2="1154" stroke="#000" stroke-width="1.7"/>
<line x1="1246.7" y1="1153.2" x2="1246.7" y2="1517.2" stroke="#000" stroke-width="1.6"/>
<line x1="885.1" y1="1153" x2="885.1" y2="1517.4" stroke="#000" stroke-width="1.7"/>
<line x1="885.1" y1="1516.4" x2="1247.5" y2="1516.4" stroke="#000" stroke-width="1.8"/>
<path d="M874.1 1514.5h11M874.1 1424.4h11M874.1 1334.3h11M874.1 1244.2h11M874.1 1154.1h11M885.1 1516.4v9.5M975.5 1516.4v9.5M1065.9 1516.4v9.5M1156.3 1516.4v9.5M1246.7 1516.4v9.5" stroke="#000" stroke-width="2.5"/>
<path d="M879.6 1487.4h5.5M879.6 1471.5h5.5M879.6 1460.3h5.5M877.1 1451.5h8M879.6 1444.4h5.5M879.6 1438.4h5.5M879.6 1433.1h5.5M879.6 1428.5h5.5M879.6 1397.3h5.5M879.6 1381.4h5.5M879.6 1370.2h5.5M877.1 1361.4h8M879.6 1354.3h5.5M879.6 1348.3h5.5M879.6 1343h5.5M879.6 1338.4h5.5M879.6 1307.2h5.5M879.6 1291.3h5.5M879.6 1280.1h5.5M877.1 1271.3h8M879.6 1264.2h5.5M879.6 1258.2h5.5M879.6 1252.9h5.5M879.6 1248.3h5.5M879.6 1217.1h5.5M879.6 1201.2h5.5M879.6 1190h5.5M877.1 1181.2h8M879.6 1174.1h5.5M879.6 1168.1h5.5M879.6 1162.8h5.5M879.6 1158.2h5.5M912.3 1516.4v4.6M928.2 1516.4v4.6M939.5 1516.4v4.6M948.3 1516.4v6M955.4 1516.4v4.6M961.5 1516.4v4.6M966.7 1516.4v4.6M971.4 1516.4v4.6M1002.7 1516.4v4.6M1018.6 1516.4v4.6M1029.9 1516.4v4.6M1038.7 1516.4v6M1045.8 1516.4v4.6M1051.9 1516.4v4.6M1057.1 1516.4v4.6M1061.8 1516.4v4.6M1093.1 1516.4v4.6M1109 1516.4v4.6M1120.3 1516.4v4.6M1129.1 1516.4v6M1136.2 1516.4v4.6M1142.3 1516.4v4.6M1147.5 1516.4v4.6M1152.2 1516.4v4.6M1183.5 1516.4v4.6M1199.4 1516.4v4.6M1210.7 1516.4v4.6M1219.5 1516.4v6M1226.6 1516.4v4.6M1232.7 1516.4v4.6M1237.9 1516.4v4.6M1242.6 1516.4v4.6" stroke="#000" stroke-width="1.4"/>
<text x="858.3" y="1514.5" font-size="12" text-anchor="end" textLength="14" lengthAdjust="spacingAndGlyphs">10</text>
<text x="859.3" y="1503.5" font-size="11.2" textLength="7.8" lengthAdjust="spacingAndGlyphs">0</text>
<text x="858.3" y="1435.4" font-size="12" text-anchor="end" textLength="14" lengthAdjust="spacingAndGlyphs">10</text>
<text x="859.3" y="1424.4" font-size="11.2" textLength="7.8" lengthAdjust="spacingAndGlyphs">1</text>
<text x="858.3" y="1345.3" font-size="12" text-anchor="end" textLength="14" lengthAdjust="spacingAndGlyphs">10</text>
<text x="859.3" y="1334.3" font-size="11.2" textLength="7.8" lengthAdjust="spacingAndGlyphs">2</text>
<text x="858.3" y="1255.2" font-size="12" text-anchor="end" textLength="14" lengthAdjust="spacingAndGlyphs">10</text>
<text x="859.3" y="1244.2" font-size="11.2" textLength="7.8" lengthAdjust="spacingAndGlyphs">3</text>
<text x="858.3" y="1179.4" font-size="12" text-anchor="end" textLength="14" lengthAdjust="spacingAndGlyphs">10</text>
<text x="859.3" y="1168.4" font-size="11.2" textLength="7.8" lengthAdjust="spacingAndGlyphs">4</text>
<text x="892.3" y="1551" font-size="12" textLength="14" lengthAdjust="spacingAndGlyphs">10</text>
<text x="907.3" y="1540" font-size="11.2" textLength="7.8" lengthAdjust="spacingAndGlyphs">0</text>
<text x="976.5" y="1551" font-size="12" textLength="14" lengthAdjust="spacingAndGlyphs">10</text>
<text x="991.5" y="1540" font-size="11.2" textLength="7.8" lengthAdjust="spacingAndGlyphs">1</text>
<text x="1066.9" y="1551" font-size="12" textLength="14" lengthAdjust="spacingAndGlyphs">10</text>
<text x="1081.9" y="1540" font-size="11.2" textLength="7.8" lengthAdjust="spacingAndGlyphs">2</text>
<text x="1157.3" y="1551" font-size="12" textLength="14" lengthAdjust="spacingAndGlyphs">10</text>
<text x="1172.3" y="1540" font-size="11.2" textLength="7.8" lengthAdjust="spacingAndGlyphs">3</text>
<text x="1224.4" y="1551" font-size="12" textLength="14" lengthAdjust="spacingAndGlyphs">10</text>
<text x="1239.4" y="1540" font-size="11.2" textLength="7.8" lengthAdjust="spacingAndGlyphs">4</text>
<path d="M1408.2 1311.8 L1424.5 1271 L1420.5 1243.2 L1434.4 1190.8 L1534.2 1154" fill="none" stroke="#000" stroke-width="2.1" stroke-linejoin="round"/>
<path d="M1534.2 1154 L1535.8 1281.6" fill="none" stroke="#000" stroke-width="2.1" stroke-linejoin="round"/>
<path d="M1424.5 1271 L1535.8 1281.6" fill="none" stroke="#000" stroke-width="2.1" stroke-linejoin="round"/>
<path d="M1535.8 1281.6 L1616.7 1328 L1669.7 1284.1 L1693.3 1154" fill="none" stroke="#000" stroke-width="2.1" stroke-linejoin="round"/>
<path d="M1535.8 1281.6 L1509.2 1384.5 L1470.1 1436.7" fill="none" stroke="#000" stroke-width="2.1" stroke-linejoin="round"/>
<path d="M1470.1 1436.7 L1548.5 1451.3 L1610.4 1409.9 L1616.7 1328" fill="none" stroke="#000" stroke-width="2.1" stroke-linejoin="round"/>
<path d="M1408.2 1431.8 L1470.1 1436.7" fill="none" stroke="#000" stroke-width="2.1" stroke-linejoin="round"/>
<line x1="1397.1" y1="1154" x2="1770.3" y2="1154" stroke="#000" stroke-width="1.7"/>
<line x1="1770.3" y1="1153.2" x2="1770.3" y2="1517.7" stroke="#000" stroke-width="1.6"/>
<line x1="1408.2" y1="1153" x2="1408.2" y2="1517.9" stroke="#000" stroke-width="1.7"/>
<line x1="1408.2" y1="1516.9" x2="1771" y2="1516.9" stroke="#000" stroke-width="1.8"/>
<path d="M1397.1 1515h11.1M1397.1 1424.8h11.1M1397.1 1334.5h11.1M1397.1 1244.2h11.1M1397.1 1154h11.1M1408.2 1516.9v9.6M1498.7 1516.9v9.6M1589.2 1516.9v9.6M1679.7 1516.9v9.6M1770.2 1516.9v9.6" stroke="#000" stroke-width="2.5"/>
<path d="M1402.7 1487.8h5.5M1402.7 1471.9h5.5M1402.7 1460.7h5.5M1400.2 1451.9h8M1402.7 1444.8h5.5M1402.7 1438.7h5.5M1402.7 1433.5h5.5M1402.7 1428.9h5.5M1402.7 1397.6h5.5M1402.7 1381.7h5.5M1402.7 1370.4h5.5M1400.2 1361.7h8M1402.7 1354.5h5.5M1402.7 1348.5h5.5M1402.7 1343.2h5.5M1402.7 1338.6h5.5M1402.7 1307.3h5.5M1402.7 1291.4h5.5M1402.7 1280.2h5.5M1400.2 1271.4h8M1402.7 1264.3h5.5M1402.7 1258.2h5.5M1402.7 1253h5.5M1402.7 1248.4h5.5M1402.7 1217.1h5.5M1402.7 1201.2h5.5M1402.7 1189.9h5.5M1400.2 1181.2h8M1402.7 1174h5.5M1402.7 1168h5.5M1402.7 1162.7h5.5M1402.7 1158.1h5.5M1435.4 1516.9v4.6M1451.4 1516.9v4.6M1462.7 1516.9v4.6M1471.5 1516.9v6M1478.6 1516.9v4.6M1484.7 1516.9v4.6M1489.9 1516.9v4.6M1494.6 1516.9v4.6M1525.9 1516.9v4.6M1541.9 1516.9v4.6M1553.2 1516.9v4.6M1562 1516.9v6M1569.1 1516.9v4.6M1575.2 1516.9v4.6M1580.4 1516.9v4.6M1585.1 1516.9v4.6M1616.4 1516.9v4.6M1632.4 1516.9v4.6M1643.7 1516.9v4.6M1652.5 1516.9v6M1659.6 1516.9v4.6M1665.7 1516.9v4.6M1670.9 1516.9v4.6M1675.6 1516.9v4.6M1706.9 1516.9v4.6M1722.9 1516.9v4.6M1734.2 1516.9v4.6M1743 1516.9v6M1750.1 1516.9v4.6M1756.2 1516.9v4.6M1761.4 1516.9v4.6M1766.1 1516.9v4.6" stroke="#000" stroke-width="1.4"/>
<text x="1381.4" y="1515" font-size="12" text-anchor="end" textLength="14" lengthAdjust="spacingAndGlyphs">10</text>
<text x="1382.4" y="1504" font-size="11.2" textLength="7.8" lengthAdjust="spacingAndGlyphs">0</text>
<text x="1381.4" y="1435.8" font-size="12" text-anchor="end" textLength="14" lengthAdjust="spacingAndGlyphs">10</text>
<text x="1382.4" y="1424.8" font-size="11.2" textLength="7.8" lengthAdjust="spacingAndGlyphs">1</text>
<text x="1381.4" y="1345.5" font-size="12" text-anchor="end" textLength="14" lengthAdjust="spacingAndGlyphs">10</text>
<text x="1382.4" y="1334.5" font-size="11.2" textLength="7.8" lengthAdjust="spacingAndGlyphs">2</text>
<text x="1381.4" y="1255.2" font-size="12" text-anchor="end" textLength="14" lengthAdjust="spacingAndGlyphs">10</text>
<text x="1382.4" y="1244.2" font-size="11.2" textLength="7.8" lengthAdjust="spacingAndGlyphs">3</text>
<text x="1381.4" y="1179.3" font-size="12" text-anchor="end" textLength="14" lengthAdjust="spacingAndGlyphs">10</text>
<text x="1382.4" y="1168.3" font-size="11.2" textLength="7.8" lengthAdjust="spacingAndGlyphs">4</text>
<text x="1415.4" y="1551.5" font-size="12" textLength="14" lengthAdjust="spacingAndGlyphs">10</text>
<text x="1430.4" y="1540.5" font-size="11.2" textLength="7.8" lengthAdjust="spacingAndGlyphs">0</text>
<text x="1499.7" y="1551.5" font-size="12" textLength="14" lengthAdjust="spacingAndGlyphs">10</text>
<text x="1514.7" y="1540.5" font-size="11.2" textLength="7.8" lengthAdjust="spacingAndGlyphs">1</text>
<text x="1590.2" y="1551.5" font-size="12" textLength="14" lengthAdjust="spacingAndGlyphs">10</text>
<text x="1605.2" y="1540.5" font-size="11.2" textLength="7.8" lengthAdjust="spacingAndGlyphs">2</text>
<text x="1680.7" y="1551.5" font-size="12" textLength="14" lengthAdjust="spacingAndGlyphs">10</text>
<text x="1695.7" y="1540.5" font-size="11.2" textLength="7.8" lengthAdjust="spacingAndGlyphs">3</text>
<text x="1747.9" y="1551.5" font-size="12" textLength="14" lengthAdjust="spacingAndGlyphs">10</text>
<text x="1762.9" y="1540.5" font-size="11.2" textLength="7.8" lengthAdjust="spacingAndGlyphs">4</text>
<path d="M289.4 1317.4 L301.4 1287.4 L298.5 1266.9 L308.7 1228.3 L382.2 1201.2" fill="none" stroke="#000" stroke-width="1.7" stroke-linejoin="round"/>
<path d="M382.2 1201.2 L383.4 1295.2" fill="none" stroke="#000" stroke-width="1.7" stroke-linejoin="round"/>
<path d="M301.4 1287.4 L383.4 1295.2" fill="none" stroke="#000" stroke-width="1.7" stroke-linejoin="round"/>
<path d="M383.4 1295.2 L443 1329.4 L482 1297.1 L499.3 1201.2" fill="none" stroke="#000" stroke-width="1.7" stroke-linejoin="round"/>
<path d="M383.4 1295.2 L363.8 1371 L335 1409.5" fill="none" stroke="#000" stroke-width="1.7" stroke-linejoin="round"/>
<path d="M335 1409.5 L392.7 1420.3 L438.3 1389.8 L443 1329.4" fill="none" stroke="#000" stroke-width="1.7" stroke-linejoin="round"/>
<path d="M289.4 1405.9 L335 1409.5" fill="none" stroke="#000" stroke-width="1.7" stroke-linejoin="round"/>
<line x1="281.3" y1="1201.1" x2="557.1" y2="1201.1" stroke="#000" stroke-width="1.7"/>
<line x1="557.1" y1="1200.3" x2="557.1" y2="1469.8" stroke="#000" stroke-width="1.6"/>
<line x1="289.4" y1="1200.1" x2="289.4" y2="1470" stroke="#000" stroke-width="1.4"/>
<line x1="289.4" y1="1469" x2="556.8" y2="1469" stroke="#000" stroke-width="1.8"/>
<path d="M281.3 1467.2h8.1M281.3 1400.7h8.1M281.3 1334.2h8.1M281.3 1267.7h8.1M281.3 1201.2h8.1M289.4 1469v7M356 1469v7M422.7 1469v7M489.4 1469v7M556 1469v7" stroke="#000" stroke-width="2.5"/>
<path d="M285.3 1447.2h4.1M285.3 1435.5h4.1M285.3 1427.2h4.1M283.5 1420.7h5.9M285.3 1415.5h4.1M285.3 1411h4.1M285.3 1407.1h4.1M285.3 1403.7h4.1M285.3 1380.7h4.1M285.3 1369h4.1M285.3 1360.7h4.1M283.5 1354.2h5.9M285.3 1349h4.1M285.3 1344.5h4.1M285.3 1340.6h4.1M285.3 1337.2h4.1M285.3 1314.2h4.1M285.3 1302.5h4.1M285.3 1294.2h4.1M283.5 1287.7h5.9M285.3 1282.5h4.1M285.3 1278h4.1M285.3 1274.1h4.1M285.3 1270.7h4.1M285.3 1247.7h4.1M285.3 1236h4.1M285.3 1227.7h4.1M283.5 1221.2h5.9M285.3 1216h4.1M285.3 1211.5h4.1M285.3 1207.6h4.1M285.3 1204.2h4.1M309.5 1469v3.4M321.2 1469v3.4M329.5 1469v3.4M336 1469v4.4M341.3 1469v3.4M345.7 1469v3.4M349.6 1469v3.4M353 1469v3.4M376.1 1469v3.4M387.9 1469v3.4M396.2 1469v3.4M402.6 1469v4.4M407.9 1469v3.4M412.4 1469v3.4M416.2 1469v3.4M419.7 1469v3.4M442.8 1469v3.4M454.5 1469v3.4M462.8 1469v3.4M469.3 1469v4.4M474.6 1469v3.4M479 1469v3.4M482.9 1469v3.4M486.3 1469v3.4M509.4 1469v3.4M521.2 1469v3.4M529.5 1469v3.4M535.9 1469v4.4M541.2 1469v3.4M545.7 1469v3.4M549.5 1469v3.4M553 1469v3.4" stroke="#000" stroke-width="1.4"/>
<text x="269.4" y="1467.2" font-size="9" text-anchor="end" textLength="10.4" lengthAdjust="spacingAndGlyphs">10</text>
<text x="270.8" y="1459" font-size="8" textLength="5.6" lengthAdjust="spacingAndGlyphs">0</text>
<text x="269.4" y="1408.9" font-size="9" text-anchor="end" textLength="10.4" lengthAdjust="spacingAndGlyphs">10</text>
<text x="270.8" y="1400.7" font-size="8" textLength="5.6" lengthAdjust="spacingAndGlyphs">1</text>
<text x="269.4" y="1342.4" font-size="9" text-anchor="end" textLength="10.4" lengthAdjust="spacingAndGlyphs">10</text>
<text x="270.8" y="1334.2" font-size="8" textLength="5.6" lengthAdjust="spacingAndGlyphs">2</text>
<text x="269.4" y="1275.9" font-size="9" text-anchor="end" textLength="10.4" lengthAdjust="spacingAndGlyphs">10</text>
<text x="270.8" y="1267.7" font-size="8" textLength="5.6" lengthAdjust="spacingAndGlyphs">3</text>
<text x="269.4" y="1220" font-size="9" text-anchor="end" textLength="10.4" lengthAdjust="spacingAndGlyphs">10</text>
<text x="270.8" y="1211.8" font-size="8" textLength="5.6" lengthAdjust="spacingAndGlyphs">4</text>
<text x="294.8" y="1494.4" font-size="9" textLength="10.4" lengthAdjust="spacingAndGlyphs">10</text>
<text x="306.6" y="1486.2" font-size="8" textLength="5.6" lengthAdjust="spacingAndGlyphs">0</text>
<text x="356.7" y="1494.4" font-size="9" textLength="10.4" lengthAdjust="spacingAndGlyphs">10</text>
<text x="368.5" y="1486.2" font-size="8" textLength="5.6" lengthAdjust="spacingAndGlyphs">1</text>
<text x="423.4" y="1494.4" font-size="9" textLength="10.4" lengthAdjust="spacingAndGlyphs">10</text>
<text x="435.2" y="1486.2" font-size="8" textLength="5.6" lengthAdjust="spacingAndGlyphs">2</text>
<text x="490.1" y="1494.4" font-size="9" textLength="10.4" lengthAdjust="spacingAndGlyphs">10</text>
<text x="501.8" y="1486.2" font-size="8" textLength="5.6" lengthAdjust="spacingAndGlyphs">3</text>
<text x="539.4" y="1494.4" font-size="9" textLength="10.4" lengthAdjust="spacingAndGlyphs">10</text>
<text x="551.2" y="1486.2" font-size="8" textLength="5.6" lengthAdjust="spacingAndGlyphs">4</text>
<text x="2.8" y="25.9" font-size="32.5" font-weight="bold" textLength="21" lengthAdjust="spacingAndGlyphs">A</text>
<text x="4.4" y="575.6" font-size="32.5" font-weight="bold" textLength="17.1" lengthAdjust="spacingAndGlyphs">B</text>
<text x="84.7" y="28" font-size="28.5" textLength="206" lengthAdjust="spacingAndGlyphs"><tspan font-weight="bold">i:</tspan> Control, T=4 hr</text>
<text x="571.2" y="27.8" font-size="28.5" textLength="257.3" lengthAdjust="spacingAndGlyphs"><tspan font-weight="bold">ii</tspan>: 50 nM fMLP, T=4 hr</text>
<text x="1048.6" y="27.8" font-size="28.5" textLength="232.6" lengthAdjust="spacingAndGlyphs"><tspan font-weight="bold">iii:</tspan> Control, T=20 hr</text>
<text x="1530.8" y="27.8" font-size="28.5" textLength="280.3" lengthAdjust="spacingAndGlyphs"><tspan font-weight="bold">iv</tspan>: 50 nM fMLP, T=20 hr</text>
<text x="278.6" y="580.9" font-size="27" textLength="110.4" lengthAdjust="spacingAndGlyphs"><tspan font-weight="bold">i:</tspan> Control</text>
<text x="808.2" y="581.2" font-size="27" textLength="261.2" lengthAdjust="spacingAndGlyphs"><tspan font-weight="bold">ii</tspan>: 5 µg AgNP/10<tspan font-size="15.7" dy="-7.5">5</tspan><tspan dy="7.5"> cells</tspan></text>
<text x="1333.4" y="581.2" font-size="27" textLength="286" lengthAdjust="spacingAndGlyphs"><tspan font-weight="bold">iii:</tspan> 20 µg AgNP/10<tspan font-size="15.7" dy="-7.5">5</tspan><tspan dy="7.5"> cells</tspan></text>
<text x="808.2" y="1133.1" font-size="27" textLength="288.2" lengthAdjust="spacingAndGlyphs"><tspan font-weight="bold">iv:</tspan> 5 µg AgBulk/10<tspan font-size="15.7" dy="-7.5">5</tspan><tspan dy="7.5"> cells</tspan></text>
<text x="1333.9" y="1133.1" font-size="27" textLength="295.2" lengthAdjust="spacingAndGlyphs"><tspan font-weight="bold">v:</tspan> 20 µg AgBulk/10<tspan font-size="15.7" dy="-7.5">5</tspan><tspan dy="7.5"> cells</tspan></text>
<text x="199.5" y="485.6" font-size="27" font-weight="bold" textLength="148.7" lengthAdjust="spacingAndGlyphs">CD62L-FITC</text>
<text x="693" y="485.6" font-size="27" font-weight="bold" textLength="148.6" lengthAdjust="spacingAndGlyphs">CD62L-FITC</text>
<text x="1158.6" y="485.6" font-size="27" font-weight="bold" textLength="148.6" lengthAdjust="spacingAndGlyphs">CD62L-FITC</text>
<text x="1640.3" y="485.3" font-size="27" font-weight="bold" textLength="149.4" lengthAdjust="spacingAndGlyphs">CD62L-FITC</text>
<text x="26.5" y="309" font-size="29.5" font-weight="bold" textLength="155" lengthAdjust="spacingAndGlyphs" transform="rotate(-90 26.5 309)">CD16-PeCy7</text>
<text x="509.1" y="301.2" font-size="29.5" font-weight="bold" textLength="155.2" lengthAdjust="spacingAndGlyphs" transform="rotate(-90 509.1 301.2)">CD16-PeCy7</text>
<text x="987.8" y="299.9" font-size="29.5" font-weight="bold" textLength="155.2" lengthAdjust="spacingAndGlyphs" transform="rotate(-90 987.8 299.9)">CD16-PeCy7</text>
<text x="1470.8" y="299.9" font-size="29.5" font-weight="bold" textLength="153.9" lengthAdjust="spacingAndGlyphs" transform="rotate(-90 1470.8 299.9)">CD16-PeCy7</text>
<text x="466.2" y="1029.5" font-size="27" textLength="139" lengthAdjust="spacingAndGlyphs">CD62L-FITC</text>
<text x="988.6" y="1030.2" font-size="27" textLength="139.5" lengthAdjust="spacingAndGlyphs">CD62L-FITC</text>
<text x="1516.4" y="1030.2" font-size="27" textLength="139.5" lengthAdjust="spacingAndGlyphs">CD62L-FITC</text>
<text x="990.5" y="1582.8" font-size="27" textLength="139.8" lengthAdjust="spacingAndGlyphs">CD62L-FITC</text>
<text x="1517" y="1582.8" font-size="27" textLength="138.9" lengthAdjust="spacingAndGlyphs">CD62L-FITC</text>
<text x="352.7" y="1524" font-size="27" textLength="139" lengthAdjust="spacingAndGlyphs">CD62L-FITC</text>
<text x="300.8" y="879" font-size="27" textLength="147.4" lengthAdjust="spacingAndGlyphs" transform="rotate(-90 300.8 879)">CD16-PeCy7</text>
<text x="830.5" y="875.1" font-size="27" textLength="152.6" lengthAdjust="spacingAndGlyphs" transform="rotate(-90 830.5 875.1)">CD16-PeCy7</text>
<text x="1355.8" y="879" font-size="27" textLength="144.7" lengthAdjust="spacingAndGlyphs" transform="rotate(-90 1355.8 879)">CD16-PeCy7</text>
<text x="829.5" y="1423.2" font-size="27" textLength="148.3" lengthAdjust="spacingAndGlyphs" transform="rotate(-90 829.5 1423.2)">CD16-PeCy7</text>
<text x="1355.8" y="1443" font-size="27" textLength="149.7" lengthAdjust="spacingAndGlyphs" transform="rotate(-90 1355.8 1443)">CD16-PeCy7</text>
<text x="247" y="1409.3" font-size="27" textLength="147.7" lengthAdjust="spacingAndGlyphs" transform="rotate(-90 247 1409.3)">CD16-PeCy7</text>
<text x="153.9" y="1112.8" font-size="27" font-weight="bold" textLength="124.1" lengthAdjust="spacingAndGlyphs">Activated</text>
<text x="136.5" y="1148.6" font-size="27" textLength="158.1" lengthAdjust="spacingAndGlyphs">CD16 bright/</text>
<text x="148.7" y="1183.4" font-size="27" textLength="133.8" lengthAdjust="spacingAndGlyphs">CD62L dim</text>
<text x="583.1" y="1112.8" font-size="27" font-weight="bold" textLength="93.2" lengthAdjust="spacingAndGlyphs">Mature</text>
<text x="550.1" y="1148.6" font-size="27" textLength="159.9" lengthAdjust="spacingAndGlyphs">CD16 bright/</text>
<text x="548.4" y="1183.4" font-size="27" textLength="162.3" lengthAdjust="spacingAndGlyphs">CD62L bright</text>
<text x="161.9" y="1513.4" font-size="27" font-weight="bold" textLength="131" lengthAdjust="spacingAndGlyphs">Apoptotic</text>
<text x="160.8" y="1548.5" font-size="27" textLength="130.4" lengthAdjust="spacingAndGlyphs">CD16 dim/</text>
<text x="159.8" y="1583.4" font-size="27" textLength="133.1" lengthAdjust="spacingAndGlyphs">CD62L dim</text>
<text x="565.8" y="1513.4" font-size="27" font-weight="bold" textLength="127.9" lengthAdjust="spacingAndGlyphs">Immature</text>
<text x="564" y="1548.5" font-size="27" textLength="131" lengthAdjust="spacingAndGlyphs">CD16 dim/</text>
<text x="548.4" y="1583.4" font-size="27" textLength="162.3" lengthAdjust="spacingAndGlyphs">CD62L bright</text>
<line x1="226.9" y1="1190.3" x2="328.9" y2="1249.8" stroke="#000" stroke-width="1.8"/>
<path d="M340.1 1256.3L319 1252.7L328 1249.2L326.6 1239.7Z" fill="#111"/>
<line x1="617.2" y1="1193.8" x2="472.2" y2="1253.9" stroke="#000" stroke-width="1.8"/>
<path d="M460.2 1258.9L475.8 1244.3L473.1 1253.5L481.5 1258.2Z" fill="#111"/>
<line x1="221.7" y1="1483.4" x2="299" y2="1405.1" stroke="#000" stroke-width="1.8"/>
<path d="M308.1 1395.8L299.4 1415.3L298.3 1405.8L288.7 1404.8Z" fill="#111"/>
<line x1="633.5" y1="1484.7" x2="425.9" y2="1402.1" stroke="#000" stroke-width="1.8"/>
<path d="M413.8 1397.3L435.2 1397.7L426.8 1402.5L429.6 1411.7Z" fill="#111"/>
<rect x="110.4" y="1989.1" width="55.7" height="6.5" fill="#080808"/>
<line x1="109.2" y1="1989.9" x2="167.3" y2="1989.9" stroke="#080808" stroke-width="2.2"/>
<line x1="138.2" y1="1989.1" x2="138.2" y2="1982.9" stroke="#000" stroke-width="1.7"/>
<line x1="123.8" y1="1982.9" x2="152.8" y2="1982.9" stroke="#000" stroke-width="1.7"/>
<rect x="195.6" y="1895" width="54.3" height="100.6" fill="#979797"/>
<line x1="194.4" y1="1895.8" x2="251.1" y2="1895.8" stroke="#979797" stroke-width="2.2"/>
<line x1="222.8" y1="1895" x2="222.8" y2="1867.8" stroke="#000" stroke-width="1.7"/>
<line x1="208.8" y1="1867.8" x2="236.8" y2="1867.8" stroke="#000" stroke-width="1.7"/>
<rect x="280.6" y="1785.3" width="54.2" height="210.3" fill="#787878"/>
<line x1="279.4" y1="1786.1" x2="336" y2="1786.1" stroke="#787878" stroke-width="2.2"/>
<line x1="307.7" y1="1785.3" x2="307.7" y2="1775.1" stroke="#000" stroke-width="1.7"/>
<line x1="293.7" y1="1775.1" x2="321.7" y2="1775.1" stroke="#000" stroke-width="1.7"/>
<rect x="364.4" y="1991.6" width="56.3" height="4" fill="#cccccc"/>
<line x1="363.2" y1="1992.4" x2="421.9" y2="1992.4" stroke="#cccccc" stroke-width="2.2"/>
<line x1="392.5" y1="1991.6" x2="392.5" y2="1987.7" stroke="#000" stroke-width="1.7"/>
<line x1="378" y1="1987.7" x2="407" y2="1987.7" stroke="#000" stroke-width="1.7"/>
<rect x="450.2" y="1951.5" width="54.7" height="44.1" fill="#595959"/>
<line x1="449" y1="1952.3" x2="506.1" y2="1952.3" stroke="#595959" stroke-width="2.2"/>
<line x1="477.5" y1="1951.5" x2="477.5" y2="1940.8" stroke="#000" stroke-width="1.7"/>
<line x1="463.2" y1="1940.8" x2="491.8" y2="1940.8" stroke="#000" stroke-width="1.7"/>
<line x1="95.6" y1="1712.1" x2="95.6" y2="1997.6" stroke="#000" stroke-width="1.9"/>
<line x1="87.6" y1="1995.6" x2="521.7" y2="1995.6" stroke="#000" stroke-width="2"/>
<line x1="86.6" y1="1995.6" x2="95.6" y2="1995.6" stroke="#000" stroke-width="1.9"/>
<line x1="86.6" y1="1939.1" x2="95.6" y2="1939.1" stroke="#000" stroke-width="1.9"/>
<line x1="86.6" y1="1882.5" x2="95.6" y2="1882.5" stroke="#000" stroke-width="1.9"/>
<line x1="86.6" y1="1826" x2="95.6" y2="1826" stroke="#000" stroke-width="1.9"/>
<line x1="86.6" y1="1769.4" x2="95.6" y2="1769.4" stroke="#000" stroke-width="1.9"/>
<line x1="86.6" y1="1712.9" x2="95.6" y2="1712.9" stroke="#000" stroke-width="1.9"/>
<line x1="138.3" y1="1995.6" x2="138.3" y2="2004.1" stroke="#000" stroke-width="1.9"/>
<line x1="222.5" y1="1995.6" x2="222.5" y2="2004.1" stroke="#000" stroke-width="1.9"/>
<line x1="307.6" y1="1995.6" x2="307.6" y2="2004.1" stroke="#000" stroke-width="1.9"/>
<line x1="392" y1="1995.6" x2="392" y2="2004.1" stroke="#000" stroke-width="1.9"/>
<line x1="477.2" y1="1995.6" x2="477.2" y2="2004.1" stroke="#000" stroke-width="1.9"/>
<text x="65.9" y="2003.9" font-size="27.5" textLength="13.9" lengthAdjust="spacingAndGlyphs">0</text>
<text x="52" y="1947.4" font-size="27.5" textLength="27.8" lengthAdjust="spacingAndGlyphs">10</text>
<text x="52" y="1890.8" font-size="27.5" textLength="27.8" lengthAdjust="spacingAndGlyphs">20</text>
<text x="52" y="1834.3" font-size="27.5" textLength="27.8" lengthAdjust="spacingAndGlyphs">30</text>
<text x="52" y="1777.7" font-size="27.5" textLength="27.8" lengthAdjust="spacingAndGlyphs">40</text>
<text x="52" y="1721.2" font-size="27.5" textLength="27.8" lengthAdjust="spacingAndGlyphs">50</text>
<rect x="746.9" y="1738.6" width="53.8" height="261.1" fill="#000000"/>
<line x1="745.7" y1="1739.4" x2="801.9" y2="1739.4" stroke="#000000" stroke-width="2.2"/>
<line x1="773.8" y1="1738.6" x2="773.8" y2="1718.7" stroke="#000" stroke-width="1.7"/>
<line x1="759.3" y1="1718.7" x2="788.3" y2="1718.7" stroke="#000" stroke-width="1.7"/>
<rect x="832" y="1789.7" width="53.9" height="210" fill="#a0a0a0"/>
<line x1="830.8" y1="1790.5" x2="887.1" y2="1790.5" stroke="#a0a0a0" stroke-width="2.2"/>
<line x1="859" y1="1789.7" x2="859" y2="1769.3" stroke="#000" stroke-width="1.7"/>
<line x1="844.7" y1="1769.3" x2="873.2" y2="1769.3" stroke="#000" stroke-width="1.7"/>
<rect x="916.5" y="1845" width="53.9" height="154.7" fill="#7f7f7f"/>
<line x1="915.3" y1="1845.8" x2="971.6" y2="1845.8" stroke="#7f7f7f" stroke-width="2.2"/>
<line x1="943.5" y1="1845" x2="943.5" y2="1835.1" stroke="#000" stroke-width="1.7"/>
<line x1="929.2" y1="1835.1" x2="957.7" y2="1835.1" stroke="#000" stroke-width="1.7"/>
<rect x="1001.3" y="1757.1" width="53.9" height="242.6" fill="#d4d4d4"/>
<line x1="1000.1" y1="1757.9" x2="1056.4" y2="1757.9" stroke="#d4d4d4" stroke-width="2.2"/>
<line x1="1028.2" y1="1757.1" x2="1028.2" y2="1739.5" stroke="#000" stroke-width="1.7"/>
<line x1="1014" y1="1739.5" x2="1042.5" y2="1739.5" stroke="#000" stroke-width="1.7"/>
<rect x="1085.8" y="1795.4" width="54.5" height="204.3" fill="#606060"/>
<line x1="1084.6" y1="1796.2" x2="1141.5" y2="1796.2" stroke="#606060" stroke-width="2.2"/>
<line x1="1113" y1="1795.4" x2="1113" y2="1779.5" stroke="#000" stroke-width="1.7"/>
<line x1="1099" y1="1779.5" x2="1127" y2="1779.5" stroke="#000" stroke-width="1.7"/>
<line x1="731.9" y1="1715.1" x2="731.9" y2="2001.7" stroke="#000" stroke-width="1.9"/>
<line x1="723.2" y1="1999.7" x2="1157" y2="1999.7" stroke="#000" stroke-width="2"/>
<line x1="722.9" y1="1999.7" x2="731.9" y2="1999.7" stroke="#000" stroke-width="1.9"/>
<line x1="722.9" y1="1942.9" x2="731.9" y2="1942.9" stroke="#000" stroke-width="1.9"/>
<line x1="722.9" y1="1886.2" x2="731.9" y2="1886.2" stroke="#000" stroke-width="1.9"/>
<line x1="722.9" y1="1829.4" x2="731.9" y2="1829.4" stroke="#000" stroke-width="1.9"/>
<line x1="722.9" y1="1772.7" x2="731.9" y2="1772.7" stroke="#000" stroke-width="1.9"/>
<line x1="722.9" y1="1715.9" x2="731.9" y2="1715.9" stroke="#000" stroke-width="1.9"/>
<line x1="773" y1="1999.7" x2="773" y2="2008.2" stroke="#000" stroke-width="1.9"/>
<line x1="858.4" y1="1999.7" x2="858.4" y2="2008.2" stroke="#000" stroke-width="1.9"/>
<line x1="943.3" y1="1999.7" x2="943.3" y2="2008.2" stroke="#000" stroke-width="1.9"/>
<line x1="1027.7" y1="1999.7" x2="1027.7" y2="2008.2" stroke="#000" stroke-width="1.9"/>
<line x1="1112.9" y1="1999.7" x2="1112.9" y2="2008.2" stroke="#000" stroke-width="1.9"/>
<text x="703.8" y="2008" font-size="27.5" textLength="13.9" lengthAdjust="spacingAndGlyphs">0</text>
<text x="689.9" y="1951.2" font-size="27.5" textLength="27.8" lengthAdjust="spacingAndGlyphs">20</text>
<text x="689.9" y="1894.5" font-size="27.5" textLength="27.8" lengthAdjust="spacingAndGlyphs">40</text>
<text x="689.9" y="1837.7" font-size="27.5" textLength="27.8" lengthAdjust="spacingAndGlyphs">60</text>
<text x="689.9" y="1781" font-size="27.5" textLength="27.8" lengthAdjust="spacingAndGlyphs">80</text>
<text x="676" y="1724.2" font-size="27.5" textLength="41.7" lengthAdjust="spacingAndGlyphs">100</text>
<rect x="1398" y="1924.2" width="51.4" height="74.8" fill="#000000"/>
<line x1="1396.8" y1="1925" x2="1450.6" y2="1925" stroke="#000000" stroke-width="2.2"/>
<line x1="1423.7" y1="1924.2" x2="1423.7" y2="1898.7" stroke="#000" stroke-width="1.7"/>
<line x1="1410.5" y1="1898.7" x2="1436.9" y2="1898.7" stroke="#000" stroke-width="1.7"/>
<rect x="1477.2" y="1958.2" width="51.1" height="40.8" fill="#979797"/>
<line x1="1476" y1="1959" x2="1529.5" y2="1959" stroke="#979797" stroke-width="2.2"/>
<line x1="1502.8" y1="1958.2" x2="1502.8" y2="1946.3" stroke="#000" stroke-width="1.7"/>
<line x1="1489.3" y1="1946.3" x2="1516.2" y2="1946.3" stroke="#000" stroke-width="1.7"/>
<rect x="1556.5" y="1857.9" width="51.8" height="141.1" fill="#797979"/>
<line x1="1555.3" y1="1858.7" x2="1609.5" y2="1858.7" stroke="#797979" stroke-width="2.2"/>
<line x1="1582.4" y1="1857.9" x2="1582.4" y2="1780.3" stroke="#000" stroke-width="1.7"/>
<line x1="1569.4" y1="1780.3" x2="1595.5" y2="1780.3" stroke="#000" stroke-width="1.7"/>
<rect x="1636.1" y="1969.5" width="50.7" height="29.5" fill="#cbcbcb"/>
<line x1="1634.9" y1="1970.3" x2="1688" y2="1970.3" stroke="#cbcbcb" stroke-width="2.2"/>
<line x1="1661.4" y1="1969.5" x2="1661.4" y2="1964.4" stroke="#000" stroke-width="1.7"/>
<line x1="1647.5" y1="1964.4" x2="1675.3" y2="1964.4" stroke="#000" stroke-width="1.7"/>
<rect x="1715.3" y="1972.9" width="51.5" height="26.1" fill="#5a5a5a"/>
<line x1="1714.1" y1="1973.7" x2="1768" y2="1973.7" stroke="#5a5a5a" stroke-width="2.2"/>
<line x1="1741" y1="1972.9" x2="1741" y2="1965" stroke="#000" stroke-width="1.7"/>
<line x1="1728" y1="1965" x2="1754.1" y2="1965" stroke="#000" stroke-width="1.7"/>
<line x1="1370.5" y1="1714.9" x2="1370.5" y2="2001" stroke="#000" stroke-width="1.9"/>
<line x1="1361.8" y1="1999" x2="1797" y2="1999" stroke="#000" stroke-width="2"/>
<line x1="1361.5" y1="1999" x2="1370.5" y2="1999" stroke="#000" stroke-width="1.9"/>
<line x1="1361.5" y1="1942.3" x2="1370.5" y2="1942.3" stroke="#000" stroke-width="1.9"/>
<line x1="1361.5" y1="1885.7" x2="1370.5" y2="1885.7" stroke="#000" stroke-width="1.9"/>
<line x1="1361.5" y1="1829" x2="1370.5" y2="1829" stroke="#000" stroke-width="1.9"/>
<line x1="1361.5" y1="1772.4" x2="1370.5" y2="1772.4" stroke="#000" stroke-width="1.9"/>
<line x1="1361.5" y1="1715.7" x2="1370.5" y2="1715.7" stroke="#000" stroke-width="1.9"/>
<line x1="1422.7" y1="1999" x2="1422.7" y2="2007.5" stroke="#000" stroke-width="1.9"/>
<line x1="1502.3" y1="1999" x2="1502.3" y2="2007.5" stroke="#000" stroke-width="1.9"/>
<line x1="1582.2" y1="1999" x2="1582.2" y2="2007.5" stroke="#000" stroke-width="1.9"/>
<line x1="1661.5" y1="1999" x2="1661.5" y2="2007.5" stroke="#000" stroke-width="1.9"/>
<line x1="1740.7" y1="1999" x2="1740.7" y2="2007.5" stroke="#000" stroke-width="1.9"/>
<text x="1341.7" y="2007.3" font-size="27.5" textLength="13.9" lengthAdjust="spacingAndGlyphs">0</text>
<text x="1341.7" y="1950.6" font-size="27.5" textLength="13.9" lengthAdjust="spacingAndGlyphs">5</text>
<text x="1327.8" y="1894" font-size="27.5" textLength="27.8" lengthAdjust="spacingAndGlyphs">10</text>
<text x="1327.8" y="1837.3" font-size="27.5" textLength="27.8" lengthAdjust="spacingAndGlyphs">15</text>
<text x="1327.8" y="1780.7" font-size="27.5" textLength="27.8" lengthAdjust="spacingAndGlyphs">20</text>
<text x="1327.8" y="1724" font-size="27.5" textLength="27.8" lengthAdjust="spacingAndGlyphs">25</text>
<text x="3.5" y="1642.4" font-size="26" font-weight="bold" textLength="27.8" lengthAdjust="spacingAndGlyphs">C:</text>
<text x="647.8" y="1643.4" font-size="26" font-weight="bold" textLength="31.3" lengthAdjust="spacingAndGlyphs">D:</text>
<text x="1287.8" y="1643.4" font-size="26" font-weight="bold" textLength="26.1" lengthAdjust="spacingAndGlyphs">E:</text>
<text x="291.8" y="1764.5" font-size="27" textLength="34.2" lengthAdjust="spacingAndGlyphs">***</text>
<text x="847.7" y="1756" font-size="27" textLength="21.9" lengthAdjust="spacingAndGlyphs">**</text>
<text x="937" y="1819.5" font-size="27" textLength="11" lengthAdjust="spacingAndGlyphs">*</text>
<text x="116.3" y="2031.5" font-size="27.5" textLength="47.2" lengthAdjust="spacingAndGlyphs">Con</text>
<text x="215.4" y="2031.5" font-size="27.5" textLength="12.4" lengthAdjust="spacingAndGlyphs">5</text>
<text x="293" y="2031.5" font-size="27.5" textLength="28.6" lengthAdjust="spacingAndGlyphs">20</text>
<text x="383.3" y="2031.5" font-size="27.5" textLength="13.1" lengthAdjust="spacingAndGlyphs">5</text>
<text x="463.9" y="2031.5" font-size="27.5" textLength="28.9" lengthAdjust="spacingAndGlyphs">20</text>
<text x="753.8" y="2031.5" font-size="27.5" textLength="47.5" lengthAdjust="spacingAndGlyphs">Con</text>
<text x="850.6" y="2031.5" font-size="27.5" textLength="13.4" lengthAdjust="spacingAndGlyphs">5</text>
<text x="932.1" y="2031.5" font-size="27.5" textLength="28.4" lengthAdjust="spacingAndGlyphs">20</text>
<text x="1023.3" y="2031.5" font-size="27.5" textLength="12.8" lengthAdjust="spacingAndGlyphs">5</text>
<text x="1102.4" y="2031.5" font-size="27.5" textLength="27.5" lengthAdjust="spacingAndGlyphs">20</text>
<text x="1401.1" y="2031.5" font-size="27.5" textLength="47.5" lengthAdjust="spacingAndGlyphs">Con</text>
<text x="1499.3" y="2031.5" font-size="27.5" textLength="13.2" lengthAdjust="spacingAndGlyphs">5</text>
<text x="1570.3" y="2031.5" font-size="27.5" textLength="27.9" lengthAdjust="spacingAndGlyphs">20</text>
<text x="1657.7" y="2031.5" font-size="27.5" textLength="12.7" lengthAdjust="spacingAndGlyphs">5</text>
<text x="1731.7" y="2031.5" font-size="27.5" textLength="27.8" lengthAdjust="spacingAndGlyphs">20</text>
<text x="526.2" y="2031.5" font-size="27.5" textLength="37.5" lengthAdjust="spacingAndGlyphs">µg/</text>
<text x="526.2" y="2066.2" font-size="27.5" textLength="95.2" lengthAdjust="spacingAndGlyphs">10<tspan font-size="16" dy="-10">5</tspan><tspan dy="10"> cells</tspan></text>
<text x="1164.3" y="2031.5" font-size="27.5" textLength="38.2" lengthAdjust="spacingAndGlyphs">µg/</text>
<text x="1164.3" y="2066.2" font-size="27.5" textLength="96.5" lengthAdjust="spacingAndGlyphs">10<tspan font-size="16" dy="-10">5</tspan><tspan dy="10"> cells</tspan></text>
<text x="1799.5" y="2031.5" font-size="27.5" textLength="37.2" lengthAdjust="spacingAndGlyphs">µg/</text>
<text x="1799.5" y="2066.2" font-size="27.5" textLength="95.8" lengthAdjust="spacingAndGlyphs">10<tspan font-size="16" dy="-10">5</tspan><tspan dy="10"> cells</tspan></text>
<line x1="180.5" y1="2043.7" x2="332.7" y2="2043.7" stroke="#000" stroke-width="1.4"/>
<path d="M333.2 2043.7l-6.5 -3.6M333.2 2043.7l-6.5 3.6M180 2043.7l6.5 -3.6M180 2043.7l6.5 3.6" stroke="#000" stroke-width="1.4" fill="none"/>
<line x1="358.8" y1="2043.7" x2="509.9" y2="2043.7" stroke="#000" stroke-width="1.4"/>
<path d="M510.4 2043.7l-6.5 -3.6M510.4 2043.7l-6.5 3.6M358.3 2043.7l6.5 -3.6M358.3 2043.7l6.5 3.6" stroke="#000" stroke-width="1.4" fill="none"/>
<text x="223" y="2071" font-size="27.5" textLength="66.9" lengthAdjust="spacingAndGlyphs">AgNP</text>
<text x="388.7" y="2071" font-size="27.5" textLength="91.3" lengthAdjust="spacingAndGlyphs">Ag Bulk</text>
<line x1="823.6" y1="2043.7" x2="975.5" y2="2043.7" stroke="#000" stroke-width="1.4"/>
<path d="M976 2043.7l-6.5 -3.6M976 2043.7l-6.5 3.6M823.1 2043.7l6.5 -3.6M823.1 2043.7l6.5 3.6" stroke="#000" stroke-width="1.4" fill="none"/>
<line x1="993.9" y1="2043.7" x2="1146.1" y2="2043.7" stroke="#000" stroke-width="1.4"/>
<path d="M1146.6 2043.7l-6.5 -3.6M1146.6 2043.7l-6.5 3.6M993.4 2043.7l6.5 -3.6M993.4 2043.7l6.5 3.6" stroke="#000" stroke-width="1.4" fill="none"/>
<text x="865.8" y="2071" font-size="27.5" textLength="67.2" lengthAdjust="spacingAndGlyphs">AgNP</text>
<text x="1024.7" y="2071" font-size="27.5" textLength="91.2" lengthAdjust="spacingAndGlyphs">Ag Bulk</text>
<line x1="1464.6" y1="2043.7" x2="1617.1" y2="2043.7" stroke="#000" stroke-width="1.4"/>
<path d="M1617.6 2043.7l-6.5 -3.6M1617.6 2043.7l-6.5 3.6M1464.1 2043.7l6.5 -3.6M1464.1 2043.7l6.5 3.6" stroke="#000" stroke-width="1.4" fill="none"/>
<line x1="1631" y1="2043.7" x2="1782.8" y2="2043.7" stroke="#000" stroke-width="1.4"/>
<path d="M1783.3 2043.7l-6.5 -3.6M1783.3 2043.7l-6.5 3.6M1630.5 2043.7l6.5 -3.6M1630.5 2043.7l6.5 3.6" stroke="#000" stroke-width="1.4" fill="none"/>
<text x="1507.5" y="2070.5" font-size="27.5" textLength="66" lengthAdjust="spacingAndGlyphs">AgNP</text>
<text x="1662.1" y="2070.5" font-size="27.5" textLength="90.4" lengthAdjust="spacingAndGlyphs">Ag Bulk</text>
<text x="36.8" y="2023.2" font-size="27.5" textLength="348.1" lengthAdjust="spacingAndGlyphs" transform="rotate(-90 36.8 2023.2)">% of CD16<tspan font-size="16" dy="-10.5">bright</tspan><tspan dy="10.5">/CD62L</tspan><tspan font-size="16" dy="-10.5">dim</tspan><tspan dy="10.5"> cells</tspan></text>
<text x="672.8" y="1945.8" font-size="27.5" textLength="182.3" lengthAdjust="spacingAndGlyphs" transform="rotate(-90 672.8 1945.8)">CD62L staining</text>
<text x="1309.2" y="1950.5" font-size="27.5" textLength="185.9" lengthAdjust="spacingAndGlyphs" transform="rotate(-90 1309.2 1950.5)">CD11b staining</text>
<path d="M346 41.5h2m-2 1h2m10 0h2m-17 1h2m8 0h2m3 0h2m-17 1h2m3 0h2m3 0h2m-7 1h2m-11 1h2m7 0h2m-14 1h2m1 0h5m-8 1h2m3 0h3m2 0h2m2 0h2m1368 0h2m2 0h2m-1388 1h2m2 0h3m1 0h2m2 0h2m403 0h2m32 0h2m916 0h4m6 0h2m1 0h2m1 0h5m-1390 1h2m3 0h2m7 0h2m387 0h2m12 0h4m30 0h2m909 0h2m3 0h6m6 0h2m4 0h5m-1388 1h2m1 0h2m2 0h2m3 0h2m387 0h2m12 0h4m2 0h2m6 0h2m4 0h4m1 0h2m520 0h2m394 0h5m2 0h2m-1369 1h4m1 0h2m2 0h2m406 0h4m2 0h4m4 0h2m4 0h4m1 0h2m520 0h2m384 0h2m8 0h2m1 0h2m1 0h2m3 0h2m4 0h2m2 0h2m-1383 1h4m3 0h3m415 0h2m11 0h2m1 0h2m517 0h2m388 0h2m2 0h2m3 0h14m4 0h2m2 0h2m-1383 1h2m1 0h8m376 0h2m37 0h2m6 0h2m2 0h2m1 0h2m517 0h2m8 0h2m382 0h2m3 0h7m1 0h4m5 0h4m9 0h2m-1404 1h2m2 0h2m5 0h10m1 0h2m376 0h4m34 0h3m6 0h2m10 0h2m522 0h2m388 0h2m1 0h4m4 0h11m7 0h2m-1404 1h2m1 0h3m4 0h7m2 0h2m381 0h2m9 0h2m9 0h2m1 0h2m3 0h9m7 0h2m1 0h2m2 0h2m2 0h2m902 0h2m3 0h2m3 0h7m3 0h7m3 0h4m-1394 1h2m5 0h3m2 0h2m9 0h2m372 0h2m1 0h2m6 0h4m9 0h2m1 0h2m3 0h9m6 0h3m1 0h2m2 0h4m3 0h2m504 0h2m10 0h2m381 0h4m1 0h2m2 0h15m1 0h2m5 0h2m-1439 1h2m41 0h3m7 0h5m2 0h2m6 0h2m372 0h2m1 0h2m6 0h2m19 0h5m2 0h2m6 0h4m6 0h2m3 0h2m503 0h3m5 0h2m3 0h2m381 0h5m4 0h11m2 0h3m-1430 1h2m41 0h3m7 0h5m2 0h3m393 0h2m12 0h2m3 0h4m2 0h2m8 0h2m7 0h2m7 0h2m494 0h2m2 0h2m6 0h2m387 0h4m7 0h5m5 0h3m-1391 1h2m9 0h2m9 0h2m386 0h2m5 0h2m12 0h4m1 0h8m2 0h2m7 0h2m4 0h2m7 0h2m494 0h2m6 0h2m392 0h2m8 0h7m-1385 1h2m6 0h2m1 0h2m397 0h2m3 0h2m14 0h4m4 0h4m3 0h4m5 0h2m517 0h3m4 0h2m383 0h4m5 0h10m6 0h2m-1391 1h4m2 0h2m2 0h2m401 0h2m11 0h4m5 0h6m5 0h2m18 0h2m505 0h3m3 0h2m383 0h5m3 0h10m2 0h2m3 0h2m5 0h2m-1399 1h5m1 0h2m1 0h4m2 0h2m408 0h6m1 0h2m2 0h3m1 0h5m8 0h2m3 0h4m3 0h4m500 0h2m4 0h2m383 0h2m4 0h9m2 0h2m1 0h3m1 0h3m4 0h2m4 0h2m-1399 1h12m3 0h2m376 0h2m16 0h2m12 0h5m2 0h3m1 0h3m2 0h5m7 0h2m3 0h6m1 0h4m488 0h2m10 0h2m4 0h2m383 0h2m5 0h12m1 0h7m4 0h2m-1392 1h5m2 0h4m381 0h2m10 0h2m4 0h2m14 0h8m1 0h2m3 0h2m1 0h2m16 0h4m491 0h2m1 0h2m1 0h2m15 0h3m366 0h2m10 0h4m2 0h12m2 0h3m1 0h2m-1421 1h2m1 0h2m28 0h6m5 0h2m1 0h2m390 0h2m8 0h2m3 0h4m3 0h10m4 0h2m6 0h2m3 0h2m5 0h2m1 0h2m486 0h2m6 0h2m1 0h2m1 0h4m10 0h3m366 0h2m10 0h4m3 0h11m1 0h4m1 0h2m8 0h2m-1431 1h2m1 0h2m28 0h2m6 0h4m2 0h2m392 0h2m6 0h2m3 0h4m3 0h2m5 0h3m10 0h4m3 0h2m5 0h2m487 0h4m9 0h2m1 0h4m387 0h2m2 0h2m6 0h10m1 0h4m1 0h2m8 0h2m-1410 1h2m18 0h4m377 0h2m7 0h3m7 0h2m2 0h4m1 0h2m7 0h4m1 0h2m2 0h2m6 0h2m1 0h4m21 0h2m478 0h3m3 0h2m1 0h2m1 0h3m392 0h2m4 0h3m3 0h10m1 0h3m-1416 1h2m18 0h2m5 0h4m1 0h3m1 0h2m383 0h2m7 0h5m6 0h2m1 0h4m1 0h7m1 0h8m2 0h3m1 0h6m1 0h4m8 0h2m11 0h2m479 0h2m3 0h2m1 0h2m1 0h2m365 0h2m26 0h2m4 0h5m1 0h15m2 0h2m1 0h2m-1424 1h2m21 0h16m394 0h4m4 0h2m2 0h3m2 0h6m1 0h7m1 0h5m1 0h4m6 0h3m1 0h2m3 0h2m5 0h2m497 0h2m1 0h2m361 0h2m20 0h2m3 0h3m5 0h10m2 0h8m1 0h3m1 0h2m-1436 1h2m30 0h2m1 0h16m390 0h2m2 0h4m1 0h2m5 0h2m4 0h2m3 0h3m3 0h2m1 0h11m2 0h2m1 0h3m1 0h2m6 0h2m2 0h2m495 0h4m1 0h2m381 0h4m3 0h2m6 0h6m1 0h3m1 0h7m3 0h2m-1432 1h2m5 0h2m23 0h2m3 0h11m2 0h3m388 0h2m7 0h2m3 0h2m9 0h5m7 0h2m1 0h11m3 0h2m8 0h2m499 0h2m7 0h2m377 0h6m3 0h12m1 0h2m1 0h5m1 0h2m-1420 1h2m1 0h2m9 0h2m8 0h2m4 0h4m1 0h5m2 0h4m402 0h2m9 0h4m1 0h2m4 0h5m1 0h2m2 0h5m3 0h2m1 0h2m498 0h4m13 0h2m378 0h2m1 0h2m3 0h12m1 0h11m2 0h2m-1421 1h2m9 0h2m8 0h2m2 0h3m1 0h3m1 0h4m2 0h4m395 0h2m4 0h2m4 0h3m4 0h6m2 0h17m4 0h4m10 0h2m486 0h4m389 0h2m5 0h2m1 0h11m1 0h9m2 0h3m2 0h2m3 0h2m1 0h2m-1412 1h2m2 0h3m1 0h3m1 0h6m1 0h4m1 0h2m395 0h2m1 0h2m1 0h2m4 0h3m7 0h7m4 0h3m1 0h2m1 0h3m5 0h3m11 0h2m877 0h6m1 0h4m1 0h3m1 0h7m1 0h9m1 0h5m6 0h2m1 0h2m-1433 1h2m13 0h2m4 0h3m1 0h3m2 0h4m1 0h4m1 0h4m5 0h2m378 0h2m8 0h2m1 0h2m1 0h2m1 0h2m5 0h2m3 0h2m1 0h6m1 0h2m3 0h3m4 0h4m2 0h2m1 0h2m505 0h2m1 0h2m356 0h2m22 0h2m2 0h2m1 0h6m2 0h8m1 0h7m3 0h2m1 0h2m-1422 1h2m13 0h2m4 0h3m1 0h3m2 0h10m9 0h2m368 0h2m5 0h2m1 0h2m8 0h2m1 0h4m9 0h4m1 0h2m1 0h4m3 0h4m2 0h7m1 0h2m1 0h3m10 0h2m5 0h2m481 0h2m3 0h2m1 0h2m1 0h2m356 0h2m29 0h6m1 0h11m1 0h3m2 0h2m1 0h2m-1401 1h2m1 0h2m6 0h11m2 0h2m375 0h2m4 0h3m15 0h3m9 0h13m3 0h12m4 0h2m11 0h2m5 0h2m480 0h3m3 0h2m393 0h2m1 0h15m1 0h7m1 0h2m-1429 1h2m10 0h2m11 0h2m1 0h2m1 0h4m2 0h14m1 0h2m2 0h2m366 0h2m8 0h4m7 0h2m17 0h3m2 0h13m1 0h9m507 0h5m7 0h2m373 0h2m14 0h17m1 0h6m1 0h2m4 0h2m-1435 1h2m10 0h2m7 0h2m2 0h4m4 0h15m1 0h2m5 0h2m366 0h2m8 0h2m9 0h2m3 0h2m12 0h4m2 0h2m1 0h12m2 0h2m1 0h2m508 0h4m1 0h4m2 0h2m371 0h4m11 0h5m2 0h17m2 0h2m6 0h2m-1426 1h2m10 0h2m4 0h24m391 0h2m6 0h7m2 0h3m1 0h9m1 0h16m1 0h2m13 0h4m5 0h2m489 0h4m4 0h2m369 0h2m8 0h2m3 0h3m1 0h11m2 0h7m1 0h4m4 0h2m-1428 1h2m1 0h2m9 0h2m5 0h7m1 0h14m1 0h2m265 0h2m121 0h4m7 0h6m2 0h3m1 0h11m1 0h7m1 0h4m3 0h3m12 0h4m5 0h2m476 0h2m10 0h2m1 0h2m4 0h2m363 0h2m5 0h6m3 0h2m2 0h3m2 0h7m1 0h5m5 0h7m4 0h2m-1430 1h4m4 0h2m4 0h4m4 0h3m1 0h18m1 0h3m265 0h2m116 0h7m6 0h2m1 0h4m1 0h2m2 0h2m5 0h7m1 0h6m4 0h2m4 0h2m3 0h2m10 0h2m11 0h2m464 0h2m3 0h2m10 0h2m1 0h2m322 0h2m31 0h2m12 0h2m5 0h6m5 0h6m1 0h7m1 0h8m1 0h4m1 0h2m-1429 1h2m4 0h2m2 0h2m2 0h2m3 0h5m3 0h3m3 0h17m1 0h3m383 0h5m5 0h2m1 0h2m1 0h15m2 0h6m1 0h2m1 0h3m1 0h9m5 0h4m8 0h2m5 0h2m4 0h2m464 0h2m342 0h2m30 0h3m8 0h2m2 0h4m7 0h4m2 0h19m1 0h4m1 0h2m3 0h2m9 0h2m-1445 1h2m3 0h2m6 0h4m7 0h5m1 0h22m379 0h2m19 0h2m1 0h2m1 0h2m1 0h3m1 0h8m2 0h4m2 0h3m4 0h4m2 0h10m1 0h2m1 0h2m3 0h2m7 0h2m470 0h2m374 0h2m9 0h3m1 0h4m8 0h3m2 0h5m1 0h2m1 0h10m5 0h3m14 0h2m-1445 1h2m4 0h2m5 0h4m3 0h4m1 0h8m1 0h14m1 0h2m2 0h2m1 0h2m341 0h2m23 0h2m5 0h2m12 0h2m8 0h4m3 0h2m2 0h2m3 0h8m2 0h4m2 0h7m2 0h11m1 0h2m3 0h2m477 0h4m3 0h2m358 0h2m2 0h2m17 0h2m13 0h2m3 0h12m2 0h3m1 0h2m2 0h7m-1431 1h2m4 0h2m5 0h4m2 0h39m341 0h2m23 0h2m19 0h4m7 0h3m3 0h2m1 0h5m1 0h4m1 0h18m2 0h3m4 0h2m4 0h2m2 0h2m476 0h3m5 0h2m10 0h2m346 0h2m2 0h4m17 0h2m11 0h3m2 0h2m2 0h8m2 0h2m1 0h3m2 0h3m1 0h3m-1432 1h3m11 0h2m2 0h4m2 0h7m2 0h24m349 0h2m31 0h2m7 0h4m11 0h5m1 0h2m1 0h21m6 0h5m1 0h2m3 0h3m7 0h2m459 0h2m4 0h2m3 0h4m4 0h2m10 0h2m352 0h2m10 0h2m5 0h2m11 0h3m4 0h3m5 0h3m1 0h2m1 0h2m2 0h4m1 0h2m1 0h2m5 0h2m-1448 1h2m2 0h2m1 0h2m2 0h2m5 0h2m1 0h3m1 0h4m2 0h7m1 0h6m1 0h15m333 0h2m17 0h2m31 0h2m6 0h2m1 0h2m2 0h2m2 0h4m2 0h2m1 0h4m1 0h7m1 0h8m2 0h3m2 0h13m3 0h2m7 0h2m459 0h2m4 0h2m4 0h9m356 0h2m1 0h2m4 0h2m9 0h4m2 0h2m5 0h2m1 0h4m1 0h5m1 0h4m4 0h7m4 0h3m4 0h3m5 0h2m-1448 1h2m1 0h3m1 0h2m2 0h2m5 0h6m1 0h24m2 0h5m1 0h4m333 0h2m2 0h2m47 0h4m3 0h2m5 0h2m2 0h5m1 0h2m1 0h4m1 0h2m1 0h2m3 0h8m3 0h2m1 0h14m479 0h2m4 0h2m1 0h4m358 0h2m1 0h2m4 0h2m11 0h2m2 0h2m5 0h7m1 0h7m1 0h2m1 0h2m1 0h4m1 0h5m1 0h3m4 0h3m-1445 1h2m5 0h2m15 0h2m3 0h28m2 0h5m338 0h2m24 0h2m11 0h2m6 0h6m1 0h4m6 0h2m2 0h5m1 0h4m1 0h12m2 0h9m1 0h2m1 0h3m2 0h2m471 0h2m6 0h2m3 0h2m6 0h2m357 0h2m21 0h4m2 0h2m7 0h4m1 0h8m1 0h6m1 0h2m4 0h8m-1469 1h2m28 0h2m19 0h2m3 0h2m1 0h26m2 0h4m310 0h2m55 0h2m3 0h2m6 0h2m6 0h2m5 0h5m1 0h2m1 0h3m2 0h10m1 0h11m2 0h10m5 0h2m7 0h2m1 0h2m463 0h3m5 0h2m3 0h2m2 0h3m360 0h2m5 0h2m9 0h2m2 0h5m4 0h2m8 0h8m2 0h7m7 0h2m1 0h2m1 0h2m-1469 1h2m49 0h2m3 0h29m2 0h5m5 0h2m302 0h2m28 0h2m2 0h2m26 0h2m10 0h2m4 0h2m6 0h10m3 0h8m3 0h9m2 0h10m1 0h7m6 0h2m1 0h2m5 0h2m456 0h3m2 0h5m1 0h9m2 0h2m350 0h2m11 0h2m5 0h2m2 0h2m2 0h5m4 0h3m1 0h2m1 0h2m1 0h6m1 0h2m1 0h7m1 0h4m-1435 1h2m10 0h2m3 0h2m6 0h2m4 0h30m2 0h5m3 0h4m332 0h2m2 0h2m38 0h2m4 0h4m2 0h8m1 0h3m3 0h8m1 0h11m2 0h4m1 0h5m1 0h7m1 0h3m1 0h2m9 0h2m456 0h3m2 0h5m1 0h6m5 0h2m350 0h2m18 0h2m6 0h5m5 0h2m1 0h7m1 0h2m3 0h7m1 0h7m3 0h2m-1440 1h2m10 0h2m3 0h2m6 0h3m3 0h34m2 0h2m2 0h2m341 0h2m9 0h2m24 0h2m6 0h2m2 0h7m1 0h5m1 0h2m1 0h16m1 0h6m2 0h5m9 0h3m1 0h2m5 0h2m454 0h2m5 0h2m3 0h3m2 0h2m1 0h3m4 0h2m353 0h2m10 0h2m4 0h2m2 0h2m1 0h2m5 0h11m1 0h2m1 0h2m4 0h6m3 0h5m3 0h2m2 0h2m-1444 1h2m23 0h3m3 0h33m2 0h3m2 0h2m329 0h2m10 0h2m9 0h2m20 0h2m2 0h2m6 0h2m1 0h3m4 0h7m1 0h12m4 0h2m1 0h5m4 0h5m12 0h3m5 0h2m14 0h2m438 0h2m3 0h2m5 0h3m6 0h3m3 0h2m3 0h2m348 0h2m3 0h2m1 0h2m2 0h2m8 0h2m1 0h3m4 0h11m1 0h3m10 0h2m4 0h2m2 0h2m2 0h2m1 0h2m-1420 1h2m2 0h40m9 0h2m323 0h2m42 0h3m5 0h3m1 0h8m2 0h3m2 0h28m5 0h4m12 0h3m18 0h2m1 0h2m443 0h4m2 0h4m3 0h10m4 0h3m352 0h2m1 0h3m15 0h2m4 0h6m1 0h4m1 0h5m4 0h2m8 0h2m2 0h2m2 0h2m-1424 1h2m5 0h2m2 0h5m1 0h34m9 0h2m358 0h2m7 0h2m6 0h3m1 0h4m1 0h4m1 0h33m4 0h5m2 0h3m1 0h2m13 0h2m10 0h2m443 0h2m3 0h2m2 0h4m2 0h11m4 0h3m356 0h2m8 0h2m1 0h2m2 0h18m1 0h6m1 0h6m3 0h2m4 0h2m-1420 1h3m2 0h2m6 0h3m2 0h29m4 0h2m338 0h2m18 0h2m4 0h2m1 0h2m13 0h2m3 0h21m1 0h21m1 0h2m1 0h7m1 0h6m5 0h5m3 0h2m454 0h5m1 0h7m1 0h10m1 0h2m368 0h2m1 0h7m1 0h20m1 0h5m1 0h6m3 0h2m-1414 1h3m1 0h4m5 0h33m1 0h2m1 0h4m4 0h2m321 0h2m3 0h2m3 0h2m18 0h4m2 0h2m3 0h2m10 0h3m3 0h20m1 0h9m1 0h11m2 0h7m1 0h2m1 0h6m3 0h9m453 0h2m1 0h6m1 0h7m1 0h4m1 0h3m1 0h2m2 0h2m366 0h2m1 0h2m1 0h2m2 0h9m1 0h8m1 0h5m1 0h2m1 0h2m1 0h2m-1418 1h2m12 0h4m5 0h33m1 0h7m4 0h2m294 0h2m25 0h4m1 0h2m25 0h2m7 0h2m10 0h2m3 0h2m1 0h8m1 0h5m1 0h3m1 0h12m3 0h15m5 0h3m1 0h2m2 0h4m2 0h3m322 0h2m129 0h2m1 0h2m2 0h8m2 0h5m1 0h3m1 0h6m373 0h2m1 0h4m1 0h15m1 0h4m1 0h2m1 0h6m-1423 1h2m1 0h3m3 0h2m5 0h2m4 0h3m1 0h38m1 0h2m9 0h2m289 0h2m17 0h2m8 0h2m41 0h2m3 0h2m5 0h3m1 0h4m2 0h25m1 0h5m1 0h5m1 0h3m7 0h8m2 0h2m2 0h2m323 0h2m129 0h2m3 0h17m1 0h10m1 0h2m331 0h2m24 0h4m9 0h2m1 0h4m2 0h10m1 0h5m1 0h2m1 0h2m1 0h6m4 0h2m-1429 1h2m1 0h3m3 0h2m5 0h4m1 0h43m1 0h3m8 0h2m308 0h2m5 0h2m18 0h2m1 0h2m16 0h4m1 0h2m3 0h5m2 0h2m2 0h2m2 0h33m1 0h5m2 0h7m4 0h6m4 0h2m427 0h2m24 0h3m1 0h2m2 0h17m1 0h5m1 0h4m1 0h2m324 0h2m5 0h2m24 0h4m4 0h7m1 0h4m2 0h13m1 0h8m1 0h5m5 0h2m-1455 1h2m18 0h2m19 0h50m1 0h2m314 0h2m9 0h4m2 0h2m6 0h2m4 0h2m1 0h2m10 0h2m4 0h5m6 0h12m2 0h49m1 0h6m6 0h2m6 0h2m419 0h2m24 0h3m1 0h4m2 0h15m3 0h2m2 0h2m1 0h2m326 0h2m33 0h2m3 0h6m1 0h2m1 0h4m1 0h13m2 0h6m4 0h3m-1448 1h2m18 0h2m6 0h2m5 0h2m4 0h12m2 0h32m2 0h2m317 0h2m11 0h2m2 0h2m6 0h2m3 0h2m14 0h2m7 0h4m4 0h63m1 0h4m1 0h2m4 0h2m2 0h2m3 0h2m420 0h2m25 0h2m2 0h9m1 0h9m1 0h6m3 0h2m357 0h2m7 0h2m1 0h6m1 0h4m1 0h11m1 0h12m1 0h2m-1454 1h2m8 0h2m12 0h2m1 0h2m6 0h2m5 0h2m1 0h2m1 0h46m5 0h2m321 0h2m3 0h3m9 0h2m1 0h2m1 0h2m6 0h4m7 0h2m6 0h3m3 0h4m1 0h51m1 0h5m4 0h2m1 0h4m2 0h2m2 0h2m425 0h2m3 0h2m9 0h4m7 0h2m3 0h21m1 0h3m336 0h2m24 0h2m1 0h2m4 0h9m1 0h2m2 0h21m1 0h4m-1466 1h2m12 0h2m8 0h2m12 0h2m1 0h2m10 0h2m3 0h3m1 0h4m1 0h2m3 0h35m6 0h2m1 0h2m311 0h2m5 0h8m4 0h2m3 0h2m1 0h2m8 0h5m1 0h2m3 0h3m1 0h2m4 0h2m3 0h4m1 0h47m1 0h5m1 0h2m1 0h2m7 0h2m434 0h2m2 0h2m9 0h4m5 0h2m1 0h15m2 0h8m2 0h2m336 0h2m21 0h2m1 0h2m1 0h4m3 0h20m1 0h15m1 0h2m-1466 1h2m31 0h2m11 0h2m2 0h5m3 0h4m3 0h2m1 0h39m1 0h2m2 0h2m2 0h2m296 0h2m8 0h2m1 0h4m3 0h2m1 0h5m5 0h3m1 0h2m1 0h2m5 0h2m3 0h2m4 0h4m1 0h2m2 0h2m6 0h7m1 0h56m1 0h2m1 0h4m1 0h2m2 0h2m2 0h2m425 0h4m4 0h2m10 0h2m4 0h19m1 0h3m1 0h4m4 0h2m9 0h2m333 0h2m3 0h2m6 0h2m1 0h4m1 0h6m1 0h18m1 0h10m3 0h2m1 0h2m3 0h2m-1465 1h2m13 0h2m10 0h2m10 0h10m3 0h9m1 0h39m1 0h2m2 0h2m5 0h2m293 0h2m8 0h2m1 0h2m5 0h2m11 0h2m2 0h2m1 0h2m5 0h2m4 0h2m5 0h2m1 0h2m10 0h8m2 0h52m6 0h7m2 0h6m425 0h2m6 0h2m9 0h7m2 0h27m3 0h2m1 0h2m6 0h2m332 0h3m3 0h2m11 0h2m1 0h6m1 0h17m2 0h15m1 0h2m3 0h2m1 0h2m-1468 1h2m13 0h2m18 0h2m2 0h10m3 0h56m5 0h2m308 0h2m6 0h2m12 0h2m1 0h2m4 0h2m2 0h5m2 0h6m9 0h61m1 0h3m6 0h2m1 0h3m3 0h4m10 0h2m371 0h2m20 0h2m22 0h2m6 0h2m7 0h8m1 0h27m6 0h2m330 0h2m8 0h2m5 0h2m1 0h2m11 0h3m2 0h4m2 0h3m1 0h24m1 0h4m5 0h3m-1473 1h2m1 0h2m15 0h2m8 0h2m5 0h16m2 0h6m1 0h41m1 0h6m11 0h2m301 0h2m1 0h2m6 0h2m6 0h2m1 0h5m2 0h2m3 0h2m2 0h4m1 0h10m7 0h64m3 0h4m4 0h6m9 0h2m2 0h2m371 0h2m20 0h2m22 0h2m6 0h2m11 0h4m1 0h23m1 0h2m3 0h2m18 0h2m300 0h2m8 0h2m2 0h2m15 0h2m1 0h2m2 0h2m7 0h44m6 0h2m-1473 1h2m1 0h2m15 0h2m8 0h2m3 0h12m1 0h5m1 0h4m1 0h2m2 0h41m4 0h2m11 0h2m300 0h3m16 0h8m3 0h4m1 0h2m3 0h2m2 0h12m2 0h7m1 0h61m1 0h4m2 0h2m2 0h4m9 0h2m2 0h2m398 0h2m11 0h2m25 0h27m2 0h2m3 0h2m18 0h2m300 0h2m8 0h2m26 0h2m6 0h12m1 0h26m1 0h4m3 0h2m1 0h2m-1437 1h10m1 0h12m2 0h45m3 0h2m1 0h2m3 0h2m305 0h2m15 0h4m1 0h2m2 0h3m3 0h2m3 0h9m1 0h3m4 0h2m1 0h71m6 0h4m4 0h2m11 0h2m300 0h2m96 0h2m11 0h2m14 0h2m2 0h2m3 0h2m1 0h4m1 0h20m1 0h2m334 0h2m4 0h2m24 0h2m3 0h10m1 0h30m2 0h3m3 0h2m1 0h2m-1434 1h2m1 0h2m1 0h58m1 0h2m2 0h2m2 0h2m3 0h2m322 0h3m6 0h3m8 0h9m1 0h8m2 0h71m8 0h2m3 0h3m1 0h2m28 0h2m280 0h2m65 0h2m31 0h2m1 0h2m2 0h4m16 0h2m2 0h2m1 0h4m1 0h4m2 0h19m1 0h2m334 0h2m4 0h2m10 0h2m6 0h2m4 0h2m1 0h45m3 0h2m4 0h2m-1454 1h3m5 0h2m2 0h2m10 0h4m2 0h54m2 0h5m6 0h2m278 0h2m31 0h2m10 0h2m4 0h2m1 0h2m2 0h2m6 0h8m1 0h8m3 0h69m2 0h4m5 0h2m1 0h2m2 0h2m2 0h2m24 0h2m347 0h2m2 0h2m27 0h2m1 0h2m2 0h4m14 0h2m3 0h2m2 0h6m1 0h17m1 0h7m25 0h2m307 0h2m5 0h2m10 0h2m5 0h3m3 0h3m1 0h9m1 0h7m1 0h20m4 0h3m3 0h2m4 0h2m-1454 1h3m5 0h2m2 0h2m1 0h7m2 0h60m2 0h6m5 0h2m278 0h2m11 0h2m14 0h6m10 0h3m1 0h4m1 0h2m2 0h2m2 0h12m1 0h2m3 0h2m1 0h2m1 0h68m1 0h6m5 0h4m7 0h2m377 0h2m22 0h2m10 0h4m14 0h2m1 0h4m2 0h24m1 0h7m1 0h2m22 0h2m307 0h3m4 0h2m13 0h2m1 0h3m1 0h2m1 0h4m2 0h15m1 0h9m1 0h14m1 0h2m2 0h3m4 0h2m-1459 1h2m2 0h2m6 0h5m1 0h9m2 0h55m1 0h2m5 0h5m281 0h2m15 0h2m3 0h2m9 0h6m8 0h5m1 0h3m3 0h3m2 0h10m1 0h6m1 0h9m2 0h65m1 0h3m1 0h2m7 0h2m410 0h2m11 0h3m5 0h2m1 0h2m7 0h3m1 0h26m1 0h2m2 0h3m1 0h2m332 0h2m1 0h2m16 0h2m1 0h2m2 0h8m2 0h4m2 0h4m1 0h7m1 0h20m1 0h2m2 0h2m1 0h3m-1456 1h2m2 0h4m4 0h5m1 0h66m1 0h2m4 0h2m1 0h2m1 0h2m279 0h2m15 0h2m3 0h2m13 0h2m3 0h2m3 0h5m2 0h4m1 0h32m1 0h66m2 0h2m1 0h2m2 0h2m1 0h2m9 0h2m325 0h2m30 0h2m55 0h3m5 0h2m1 0h2m1 0h6m4 0h7m2 0h22m1 0h3m337 0h2m18 0h2m4 0h4m1 0h6m3 0h29m1 0h5m3 0h7m-1474 1h2m17 0h2m1 0h4m4 0h72m1 0h2m3 0h3m1 0h2m1 0h5m303 0h2m12 0h3m1 0h2m2 0h39m4 0h70m1 0h6m1 0h2m2 0h2m5 0h2m325 0h2m17 0h2m11 0h2m56 0h2m1 0h2m3 0h2m2 0h9m3 0h30m1 0h3m340 0h2m2 0h3m6 0h2m2 0h2m2 0h12m2 0h31m1 0h5m2 0h7m-1473 1h2m4 0h2m1 0h2m8 0h5m3 0h2m1 0h72m1 0h2m1 0h4m1 0h3m3 0h3m278 0h2m16 0h2m5 0h2m2 0h2m8 0h6m2 0h5m1 0h24m1 0h8m3 0h65m1 0h4m1 0h2m1 0h2m7 0h2m336 0h2m13 0h2m48 0h2m5 0h2m11 0h2m2 0h2m2 0h18m1 0h21m3 0h3m3 0h4m338 0h2m2 0h3m6 0h3m5 0h2m1 0h10m1 0h28m1 0h5m3 0h4m3 0h2m-1475 1h2m6 0h2m1 0h2m10 0h5m1 0h82m2 0h2m285 0h2m8 0h2m6 0h2m5 0h2m2 0h2m7 0h5m5 0h14m3 0h93m2 0h3m6 0h5m23 0h2m311 0h2m63 0h2m5 0h2m6 0h2m3 0h5m2 0h32m1 0h15m1 0h5m333 0h2m9 0h2m6 0h2m6 0h3m1 0h23m4 0h16m3 0h2m3 0h2m11 0h2m-1486 1h2m9 0h4m3 0h2m5 0h86m299 0h2m13 0h2m11 0h5m3 0h8m1 0h9m1 0h91m5 0h2m6 0h3m5 0h2m18 0h2m290 0h2m44 0h2m52 0h4m2 0h5m2 0h2m1 0h17m1 0h17m1 0h9m1 0h4m332 0h4m3 0h4m2 0h3m2 0h2m1 0h3m1 0h51m4 0h2m2 0h2m11 0h2m-1481 1h2m3 0h2m1 0h2m3 0h2m1 0h2m5 0h4m2 0h72m2 0h2m1 0h2m1 0h2m318 0h6m1 0h2m3 0h6m1 0h103m3 0h4m4 0h2m1 0h2m4 0h5m15 0h2m291 0h2m44 0h2m40 0h2m4 0h2m1 0h11m2 0h45m9 0h2m327 0h2m3 0h2m4 0h5m3 0h3m1 0h6m1 0h4m1 0h43m3 0h2m2 0h2m4 0h3m17 0h2m-1517 1h2m25 0h2m1 0h4m7 0h4m3 0h78m4 0h2m1 0h2m1 0h2m298 0h2m3 0h2m8 0h2m2 0h5m3 0h2m2 0h110m1 0h2m1 0h5m3 0h2m1 0h2m4 0h2m1 0h2m15 0h2m379 0h2m4 0h6m4 0h2m4 0h6m1 0h28m1 0h6m5 0h2m5 0h4m9 0h2m314 0h2m1 0h2m5 0h3m7 0h2m2 0h5m1 0h7m3 0h6m1 0h33m1 0h2m2 0h2m4 0h3m17 0h2m-1517 1h2m3 0h2m23 0h2m8 0h5m1 0h10m1 0h69m14 0h2m282 0h4m8 0h2m3 0h2m6 0h4m2 0h3m3 0h119m1 0h5m4 0h2m11 0h2m399 0h2m1 0h2m12 0h45m2 0h6m2 0h3m5 0h2m2 0h2m317 0h2m5 0h2m7 0h5m1 0h14m1 0h40m1 0h9m1 0h2m13 0h2m-1507 1h2m24 0h2m7 0h5m1 0h2m4 0h76m12 0h2m282 0h4m6 0h2m1 0h2m10 0h5m1 0h3m3 0h119m1 0h3m1 0h7m2 0h2m7 0h2m399 0h2m2 0h4m2 0h3m1 0h2m1 0h38m1 0h19m5 0h2m321 0h2m4 0h2m3 0h3m1 0h3m1 0h41m1 0h8m1 0h18m15 0h2m-1486 1h2m3 0h3m3 0h2m1 0h5m1 0h2m3 0h77m297 0h2m7 0h2m1 0h2m10 0h5m8 0h113m1 0h7m2 0h6m3 0h5m325 0h2m80 0h6m1 0h4m1 0h53m3 0h4m331 0h2m2 0h4m1 0h21m1 0h28m1 0h12m2 0h2m1 0h6m1 0h2m6 0h2m-1527 1h2m48 0h2m4 0h3m2 0h4m5 0h79m1 0h2m2 0h2m287 0h2m4 0h2m10 0h2m11 0h2m9 0h121m10 0h2m2 0h3m18 0h2m305 0h2m69 0h2m9 0h3m4 0h2m2 0h52m3 0h2m2 0h4m329 0h2m4 0h2m1 0h63m2 0h5m1 0h2m1 0h3m6 0h3m1 0h2m-1531 1h2m43 0h2m5 0h2m2 0h3m3 0h5m3 0h82m2 0h2m4 0h2m281 0h2m28 0h3m9 0h109m1 0h6m1 0h5m1 0h2m6 0h2m10 0h2m11 0h2m376 0h3m10 0h2m2 0h2m2 0h52m4 0h2m4 0h3m1 0h2m328 0h2m3 0h13m1 0h13m1 0h42m2 0h6m1 0h2m4 0h2m1 0h2m-1486 1h2m3 0h4m2 0h2m5 0h4m2 0h3m1 0h78m3 0h2m4 0h2m301 0h2m8 0h2m7 0h3m1 0h116m2 0h7m1 0h4m12 0h2m313 0h2m75 0h2m10 0h2m2 0h2m2 0h57m2 0h2m2 0h2m1 0h2m316 0h2m10 0h2m1 0h6m2 0h63m5 0h2m3 0h2m-1472 1h2m11 0h4m2 0h2m2 0h76m4 0h3m307 0h4m12 0h2m1 0h121m1 0h4m1 0h7m33 0h2m292 0h3m92 0h67m3 0h2m2 0h3m309 0h2m7 0h2m1 0h2m1 0h2m3 0h2m1 0h58m1 0h3m2 0h2m3 0h4m17 0h2m-1488 1h2m8 0h3m1 0h2m1 0h3m5 0h75m2 0h3m5 0h2m302 0h2m8 0h6m1 0h125m2 0h3m37 0h2m293 0h2m34 0h2m30 0h2m4 0h2m14 0h2m1 0h68m3 0h2m2 0h3m316 0h7m2 0h2m2 0h3m1 0h67m1 0h4m5 0h2m10 0h2m-1493 1h2m3 0h2m8 0h3m1 0h2m1 0h3m2 0h74m1 0h3m2 0h4m4 0h2m272 0h2m24 0h2m12 0h6m1 0h116m1 0h8m1 0h3m9 0h2m37 0h2m319 0h2m30 0h2m4 0h4m2 0h3m5 0h4m1 0h2m1 0h57m1 0h2m3 0h2m8 0h2m307 0h2m1 0h2m4 0h7m2 0h64m1 0h6m2 0h2m10 0h2m-1508 1h2m25 0h2m1 0h2m6 0h3m5 0h3m2 0h79m4 0h4m278 0h2m18 0h2m4 0h2m8 0h2m4 0h3m2 0h125m1 0h2m5 0h2m3 0h4m35 0h2m290 0h2m67 0h2m2 0h3m5 0h4m1 0h58m1 0h4m1 0h3m9 0h2m307 0h2m1 0h2m8 0h66m1 0h2m1 0h9m7 0h2m10 0h2m-1532 1h2m14 0h2m2 0h2m24 0h2m6 0h4m4 0h3m2 0h80m3 0h3m2 0h2m2 0h4m283 0h2m4 0h2m14 0h2m4 0h3m2 0h124m4 0h2m3 0h2m5 0h2m11 0h2m314 0h2m64 0h2m13 0h3m2 0h63m1 0h3m324 0h2m6 0h64m3 0h2m1 0h10m1 0h2m2 0h2m10 0h2m-1532 1h2m18 0h2m25 0h2m7 0h2m5 0h7m1 0h76m2 0h4m2 0h2m2 0h5m282 0h2m7 0h2m5 0h2m8 0h132m3 0h2m5 0h2m15 0h3m327 0h2m49 0h4m3 0h2m9 0h63m6 0h2m296 0h2m12 0h2m12 0h2m2 0h75m1 0h2m2 0h4m1 0h2m-1469 1h7m2 0h2m3 0h6m1 0h5m1 0h72m3 0h4m9 0h2m291 0h4m3 0h2m2 0h3m1 0h5m1 0h128m1 0h2m2 0h4m1 0h2m12 0h2m1 0h2m328 0h2m49 0h2m5 0h2m1 0h2m8 0h66m1 0h2m3 0h2m291 0h2m12 0h2m16 0h75m1 0h2m2 0h3m-1502 1h2m15 0h2m6 0h2m11 0h6m2 0h2m2 0h6m4 0h78m1 0h4m9 0h2m276 0h2m9 0h2m4 0h2m7 0h3m1 0h132m3 0h2m2 0h8m10 0h3m2 0h2m388 0h2m7 0h59m2 0h9m3 0h2m297 0h2m23 0h4m1 0h68m3 0h2m2 0h2m-1500 1h2m15 0h2m6 0h2m3 0h2m7 0h5m2 0h2m2 0h2m1 0h85m1 0h4m9 0h2m274 0h4m9 0h4m14 0h2m1 0h130m2 0h3m5 0h5m5 0h2m3 0h2m3 0h2m396 0h71m302 0h2m23 0h4m2 0h67m1 0h4m1 0h3m12 0h2m-1496 1h2m10 0h2m9 0h3m3 0h2m1 0h4m1 0h5m1 0h74m1 0h3m289 0h2m13 0h2m13 0h6m2 0h121m1 0h4m2 0h3m1 0h2m12 0h2m14 0h3m324 0h2m55 0h2m6 0h3m1 0h59m1 0h2m1 0h3m1 0h2m303 0h2m2 0h2m11 0h2m2 0h74m1 0h4m1 0h2m7 0h2m4 0h2m-1496 1h2m21 0h2m3 0h4m2 0h3m2 0h2m2 0h73m1 0h4m312 0h2m5 0h2m1 0h3m1 0h127m2 0h2m2 0h2m8 0h2m18 0h3m271 0h2m51 0h2m30 0h2m12 0h2m9 0h2m6 0h66m1 0h3m1 0h2m303 0h2m2 0h2m11 0h80m3 0h4m6 0h2m-1504 1h2m37 0h7m3 0h2m2 0h2m2 0h78m1 0h2m272 0h2m23 0h2m10 0h2m9 0h2m1 0h2m4 0h64m1 0h54m1 0h2m1 0h2m1 0h2m4 0h2m3 0h2m21 0h2m269 0h2m83 0h2m12 0h2m14 0h2m1 0h70m3 0h2m7 0h2m298 0h2m7 0h2m2 0h78m3 0h4m-1503 1h2m5 0h2m22 0h2m13 0h5m3 0h2m1 0h5m1 0h2m1 0h76m1 0h4m5 0h2m263 0h2m23 0h2m23 0h4m1 0h5m1 0h58m1 0h52m1 0h2m2 0h2m1 0h5m3 0h3m5 0h2m6 0h2m11 0h3m367 0h2m5 0h2m7 0h2m1 0h2m4 0h65m2 0h2m7 0h2m298 0h2m7 0h2m1 0h9m1 0h69m1 0h2m2 0h2m-1503 1h2m29 0h2m5 0h2m8 0h2m4 0h88m3 0h2m1 0h2m2 0h2m290 0h2m16 0h4m1 0h125m1 0h3m1 0h4m4 0h2m6 0h2m6 0h2m12 0h2m319 0h2m33 0h2m11 0h2m5 0h2m4 0h2m8 0h67m1 0h2m13 0h2m261 0h2m40 0h7m1 0h2m1 0h67m1 0h5m2 0h2m-1467 1h4m8 0h4m2 0h9m2 0h4m1 0h69m1 0h2m6 0h2m2 0h4m288 0h2m16 0h4m2 0h74m1 0h49m1 0h3m20 0h2m338 0h2m33 0h2m11 0h2m11 0h4m3 0h75m11 0h2m261 0h2m36 0h2m2 0h2m2 0h4m1 0h70m1 0h4m4 0h2m2 0h2m4 0h2m-1482 1h2m1 0h2m4 0h2m1 0h2m1 0h4m2 0h7m6 0h3m1 0h73m8 0h4m319 0h121m2 0h2m9 0h2m5 0h2m12 0h2m337 0h2m33 0h2m11 0h4m3 0h10m1 0h60m2 0h2m6 0h2m304 0h2m2 0h2m2 0h4m1 0h70m3 0h2m4 0h2m2 0h2m1 0h2m1 0h2m-1482 1h2m3 0h2m2 0h2m1 0h2m7 0h6m2 0h2m2 0h4m1 0h73m5 0h2m307 0h2m10 0h3m2 0h93m1 0h19m1 0h7m2 0h7m4 0h2m7 0h2m10 0h2m322 0h2m13 0h2m46 0h2m6 0h4m2 0h51m1 0h4m1 0h4m4 0h2m7 0h2m305 0h2m8 0h70m5 0h2m2 0h2m4 0h5m-1474 1h2m7 0h2m1 0h2m3 0h5m2 0h2m1 0h74m3 0h2m5 0h2m307 0h2m2 0h2m6 0h4m1 0h66m1 0h7m2 0h17m1 0h27m2 0h7m1 0h2m1 0h2m1 0h2m4 0h2m7 0h2m325 0h2m61 0h2m2 0h2m2 0h3m3 0h51m3 0h6m5 0h4m301 0h2m9 0h2m2 0h2m1 0h2m1 0h70m9 0h2m6 0h2m-1464 1h5m3 0h2m8 0h2m1 0h71m1 0h5m3 0h2m312 0h2m3 0h2m2 0h3m1 0h5m1 0h2m1 0h7m1 0h35m1 0h5m1 0h3m1 0h8m1 0h13m1 0h34m1 0h8m1 0h3m1 0h2m1 0h2m11 0h4m388 0h2m2 0h2m1 0h60m3 0h4m6 0h3m301 0h2m13 0h2m1 0h2m1 0h70m-1450 1h2m5 0h2m17 0h4m2 0h60m1 0h4m1 0h2m1 0h2m1 0h4m3 0h3m305 0h2m3 0h3m6 0h2m1 0h2m1 0h10m1 0h21m1 0h8m1 0h7m1 0h4m2 0h9m1 0h13m1 0h29m2 0h3m1 0h4m5 0h2m8 0h2m8 0h2m321 0h2m66 0h2m6 0h2m1 0h60m10 0h2m2 0h2m316 0h2m1 0h70m6 0h2m-1458 1h4m1 0h4m5 0h2m4 0h2m2 0h13m2 0h59m6 0h2m5 0h3m297 0h2m6 0h2m3 0h2m4 0h2m1 0h2m1 0h2m1 0h9m2 0h40m1 0h9m1 0h6m2 0h15m1 0h27m4 0h2m6 0h2m7 0h2m331 0h2m66 0h3m8 0h55m1 0h4m14 0h2m317 0h6m1 0h57m1 0h6m7 0h2m-1458 1h4m1 0h2m7 0h2m4 0h2m2 0h4m2 0h4m5 0h59m4 0h2m307 0h4m8 0h4m3 0h2m2 0h2m4 0h6m3 0h33m2 0h12m1 0h4m2 0h3m3 0h22m1 0h18m1 0h3m10 0h2m409 0h2m2 0h2m4 0h60m310 0h2m19 0h74m1 0h2m3 0h2m16 0h2m-1476 1h2m24 0h2m11 0h9m2 0h2m3 0h2m1 0h33m1 0h2m1 0h2m5 0h2m309 0h2m8 0h4m7 0h5m2 0h4m1 0h2m1 0h10m1 0h14m1 0h7m2 0h3m2 0h2m1 0h4m2 0h4m1 0h2m4 0h37m1 0h7m7 0h2m14 0h2m1 0h2m1 0h2m391 0h2m1 0h2m4 0h5m2 0h53m2 0h3m1 0h2m2 0h2m298 0h2m15 0h2m2 0h2m2 0h75m19 0h2m-1469 1h2m8 0h2m16 0h2m2 0h21m1 0h31m1 0h4m5 0h2m1 0h2m19 0h2m288 0h2m9 0h2m6 0h4m1 0h10m1 0h31m1 0h4m2 0h2m1 0h3m3 0h9m1 0h9m1 0h2m1 0h4m1 0h19m2 0h6m2 0h2m4 0h2m14 0h2m1 0h2m1 0h2m355 0h2m1 0h2m31 0h2m3 0h2m4 0h4m1 0h52m1 0h5m1 0h2m2 0h2m295 0h2m1 0h2m4 0h2m9 0h2m6 0h64m1 0h2m1 0h3m2 0h2m10 0h2m-1462 1h4m8 0h2m16 0h2m2 0h22m1 0h30m1 0h2m2 0h2m2 0h2m2 0h2m19 0h2m252 0h2m34 0h2m9 0h2m3 0h2m1 0h3m2 0h4m1 0h11m1 0h6m1 0h4m1 0h4m1 0h8m1 0h12m3 0h3m1 0h8m1 0h3m1 0h5m1 0h4m1 0h26m2 0h5m334 0h2m45 0h2m1 0h2m31 0h2m3 0h3m3 0h47m2 0h8m1 0h2m305 0h2m1 0h2m4 0h2m1 0h2m16 0h4m1 0h42m1 0h14m4 0h2m6 0h2m7 0h2m3 0h2m-1467 1h2m27 0h4m3 0h2m2 0h9m1 0h24m1 0h11m4 0h4m1 0h3m277 0h2m50 0h2m1 0h4m4 0h2m1 0h7m4 0h6m2 0h3m1 0h4m1 0h9m1 0h11m1 0h8m1 0h5m1 0h13m2 0h18m1 0h8m1 0h2m1 0h3m15 0h2m15 0h2m299 0h2m87 0h2m4 0h2m1 0h3m1 0h49m12 0h2m279 0h2m25 0h2m6 0h2m6 0h9m2 0h45m5 0h2m2 0h2m1 0h4m4 0h2m6 0h2m4 0h2m-1477 1h2m37 0h4m6 0h3m1 0h2m2 0h4m1 0h36m2 0h2m3 0h3m315 0h2m15 0h4m4 0h2m3 0h5m3 0h3m3 0h3m1 0h7m1 0h2m1 0h18m1 0h6m4 0h3m4 0h31m1 0h3m2 0h7m1 0h2m15 0h2m2 0h2m11 0h2m368 0h2m24 0h3m2 0h4m1 0h5m1 0h40m2 0h2m8 0h3m278 0h2m26 0h2m5 0h2m2 0h2m2 0h7m1 0h38m1 0h3m1 0h4m1 0h2m2 0h3m1 0h3m1 0h4m12 0h2m-1471 1h2m8 0h2m12 0h3m8 0h2m7 0h2m3 0h2m8 0h3m1 0h36m6 0h2m2 0h3m311 0h2m15 0h2m6 0h10m1 0h5m2 0h11m1 0h3m1 0h2m1 0h4m1 0h4m2 0h8m11 0h2m1 0h3m1 0h11m1 0h2m1 0h8m3 0h5m2 0h7m19 0h2m1 0h2m374 0h3m4 0h2m14 0h2m9 0h2m2 0h10m1 0h19m1 0h15m1 0h4m2 0h2m2 0h2m5 0h2m280 0h2m24 0h2m8 0h3m2 0h4m2 0h6m1 0h33m1 0h11m1 0h4m1 0h3m8 0h2m7 0h2m-1461 1h2m12 0h3m8 0h2m5 0h6m5 0h2m1 0h6m1 0h3m1 0h3m2 0h8m1 0h18m2 0h2m6 0h3m313 0h3m16 0h14m1 0h16m3 0h3m1 0h6m3 0h2m4 0h2m1 0h4m6 0h3m2 0h2m1 0h3m1 0h2m1 0h8m3 0h10m1 0h6m3 0h2m23 0h2m309 0h2m66 0h3m20 0h2m13 0h6m2 0h2m1 0h2m2 0h3m1 0h8m2 0h16m2 0h4m6 0h2m3 0h2m282 0h2m22 0h2m9 0h3m3 0h8m1 0h2m3 0h25m3 0h4m3 0h5m1 0h2m2 0h4m1 0h3m8 0h2m7 0h2m-1447 1h2m12 0h2m2 0h6m4 0h3m1 0h10m1 0h4m1 0h18m1 0h8m2 0h2m322 0h3m3 0h2m11 0h9m2 0h3m6 0h7m2 0h2m3 0h2m3 0h4m4 0h2m4 0h2m5 0h2m4 0h3m1 0h3m1 0h2m6 0h20m1 0h2m1 0h4m2 0h2m4 0h2m328 0h2m26 0h2m63 0h4m9 0h6m2 0h5m2 0h4m2 0h17m1 0h3m1 0h2m2 0h3m6 0h2m4 0h2m306 0h2m9 0h3m3 0h6m3 0h3m1 0h24m5 0h4m1 0h15m3 0h3m-1429 1h2m12 0h2m12 0h2m1 0h8m1 0h7m1 0h16m3 0h3m1 0h5m1 0h2m328 0h2m8 0h9m1 0h2m1 0h5m2 0h2m1 0h4m1 0h3m1 0h4m1 0h9m1 0h2m1 0h2m11 0h2m2 0h5m1 0h2m2 0h3m7 0h8m3 0h4m2 0h2m3 0h4m3 0h2m3 0h3m9 0h2m333 0h2m9 0h2m5 0h2m20 0h2m34 0h4m7 0h2m1 0h5m3 0h4m1 0h6m2 0h16m1 0h3m5 0h5m1 0h2m1 0h2m322 0h4m5 0h2m2 0h3m1 0h2m1 0h25m3 0h5m1 0h15m1 0h5m3 0h4m1 0h2m-1427 1h2m13 0h3m1 0h7m2 0h3m1 0h2m1 0h18m2 0h3m3 0h3m1 0h2m314 0h2m16 0h2m4 0h8m1 0h2m2 0h2m1 0h6m1 0h13m1 0h5m2 0h5m1 0h3m4 0h2m8 0h4m1 0h2m4 0h4m5 0h4m1 0h3m3 0h5m1 0h2m4 0h2m3 0h3m4 0h2m9 0h2m19 0h2m306 0h2m4 0h2m16 0h2m20 0h2m34 0h2m1 0h2m6 0h2m1 0h2m1 0h2m5 0h5m1 0h3m1 0h5m1 0h10m2 0h3m6 0h4m1 0h2m325 0h4m5 0h2m2 0h8m1 0h2m1 0h3m1 0h37m1 0h2m1 0h3m5 0h4m1 0h2m-1429 1h4m13 0h2m2 0h2m4 0h2m5 0h2m1 0h2m1 0h18m9 0h2m314 0h6m4 0h2m1 0h2m3 0h2m4 0h2m1 0h5m1 0h2m2 0h2m1 0h5m1 0h14m1 0h2m1 0h2m2 0h5m1 0h3m2 0h4m3 0h5m2 0h2m1 0h3m5 0h2m4 0h2m3 0h4m1 0h3m2 0h4m1 0h6m1 0h5m10 0h2m20 0h2m2 0h2m298 0h2m6 0h2m13 0h2m38 0h2m25 0h2m1 0h2m19 0h4m1 0h3m1 0h5m1 0h11m3 0h2m5 0h2m19 0h2m311 0h3m7 0h2m2 0h2m2 0h29m1 0h9m1 0h7m1 0h3m1 0h2m3 0h2m6 0h2m-1439 1h2m7 0h2m6 0h2m8 0h2m6 0h3m1 0h4m4 0h5m2 0h8m1 0h4m5 0h3m6 0h2m311 0h4m4 0h2m1 0h2m15 0h4m3 0h2m1 0h2m4 0h4m1 0h9m1 0h2m1 0h3m4 0h2m1 0h2m3 0h2m4 0h6m2 0h2m2 0h2m11 0h2m2 0h9m2 0h4m1 0h4m3 0h2m1 0h2m3 0h2m5 0h2m20 0h2m302 0h2m21 0h2m38 0h2m54 0h3m1 0h2m1 0h5m2 0h5m12 0h2m19 0h2m2 0h2m291 0h2m20 0h6m3 0h2m1 0h32m3 0h4m2 0h5m3 0h2m1 0h2m3 0h2m6 0h2m-1439 1h2m15 0h2m8 0h5m3 0h2m2 0h4m3 0h5m2 0h2m1 0h5m2 0h2m3 0h2m2 0h3m3 0h2m1 0h2m2 0h2m309 0h2m21 0h2m3 0h3m8 0h7m1 0h2m2 0h2m4 0h2m1 0h9m6 0h2m4 0h3m11 0h2m10 0h2m1 0h7m3 0h9m4 0h2m1 0h2m3 0h2m11 0h2m341 0h2m8 0h2m67 0h2m5 0h2m1 0h2m6 0h2m6 0h2m2 0h2m1 0h3m37 0h2m291 0h2m20 0h4m3 0h4m1 0h8m1 0h11m1 0h25m4 0h2m-1407 1h2m8 0h5m2 0h3m3 0h2m3 0h3m5 0h2m5 0h2m1 0h2m3 0h2m8 0h3m4 0h2m300 0h2m7 0h2m1 0h2m14 0h2m2 0h4m1 0h3m1 0h2m5 0h4m1 0h5m11 0h2m1 0h5m2 0h2m3 0h2m5 0h2m9 0h5m2 0h2m5 0h2m1 0h7m2 0h10m4 0h2m2 0h3m4 0h2m8 0h2m313 0h2m16 0h2m3 0h2m3 0h2m8 0h2m60 0h4m3 0h2m5 0h2m1 0h2m1 0h2m10 0h2m1 0h6m3 0h2m1 0h2m18 0h2m316 0h2m4 0h2m9 0h4m1 0h2m2 0h4m1 0h18m1 0h2m2 0h14m4 0h3m1 0h2m5 0h2m12 0h2m-1432 1h2m5 0h2m8 0h4m2 0h2m3 0h5m2 0h2m6 0h2m1 0h2m14 0h2m306 0h2m7 0h2m1 0h2m14 0h2m3 0h3m1 0h2m2 0h2m6 0h2m2 0h3m2 0h3m8 0h9m1 0h4m8 0h2m5 0h2m2 0h5m2 0h2m2 0h2m3 0h6m4 0h11m3 0h8m3 0h2m323 0h2m16 0h2m3 0h2m75 0h4m12 0h3m1 0h2m8 0h4m1 0h3m1 0h2m3 0h2m1 0h2m2 0h2m14 0h2m301 0h2m13 0h2m4 0h2m1 0h2m7 0h20m1 0h17m6 0h2m1 0h6m1 0h3m1 0h2m5 0h2m12 0h2m-1432 1h2m5 0h2m10 0h3m6 0h5m2 0h4m1 0h2m1 0h2m4 0h2m335 0h2m7 0h2m6 0h2m3 0h3m2 0h2m3 0h2m8 0h6m5 0h4m3 0h2m3 0h2m15 0h2m3 0h2m8 0h2m2 0h3m8 0h5m2 0h4m3 0h4m2 0h2m1 0h2m385 0h4m52 0h3m1 0h2m8 0h2m2 0h2m7 0h2m6 0h2m317 0h2m17 0h2m3 0h2m2 0h2m6 0h11m1 0h5m1 0h7m1 0h9m1 0h2m1 0h6m1 0h4m1 0h2m1 0h2m4 0h2m-1408 1h2m10 0h2m1 0h2m12 0h5m1 0h2m4 0h2m8 0h2m325 0h2m5 0h4m3 0h2m6 0h4m1 0h2m3 0h2m6 0h4m1 0h4m6 0h2m37 0h2m1 0h7m3 0h2m6 0h6m3 0h5m5 0h3m385 0h4m15 0h2m35 0h2m2 0h2m4 0h3m1 0h6m7 0h2m5 0h2m337 0h2m2 0h2m3 0h7m2 0h15m2 0h2m1 0h4m1 0h12m1 0h3m1 0h2m1 0h6m2 0h2m4 0h2m1 0h2m-1411 1h2m10 0h2m1 0h4m11 0h2m14 0h2m3 0h2m319 0h2m11 0h2m5 0h2m8 0h2m10 0h2m2 0h4m3 0h2m1 0h2m7 0h2m9 0h2m7 0h2m13 0h2m3 0h4m2 0h4m3 0h2m2 0h3m5 0h6m4 0h2m353 0h4m3 0h2m32 0h2m9 0h2m26 0h2m6 0h2m5 0h2m2 0h3m3 0h8m10 0h2m337 0h3m1 0h2m5 0h5m2 0h2m1 0h13m5 0h4m3 0h9m1 0h3m1 0h2m2 0h5m3 0h2m1 0h2m3 0h2m-1405 1h2m4 0h2m3 0h2m6 0h2m9 0h3m7 0h2m324 0h2m20 0h2m16 0h4m1 0h4m7 0h2m1 0h2m4 0h2m7 0h4m7 0h2m22 0h4m2 0h5m1 0h3m2 0h2m4 0h4m1 0h2m29 0h2m315 0h2m8 0h4m2 0h3m32 0h2m21 0h2m14 0h2m6 0h2m1 0h2m2 0h2m5 0h2m3 0h6m2 0h2m2 0h2m327 0h2m2 0h2m8 0h3m16 0h9m1 0h2m1 0h4m3 0h11m3 0h2m3 0h4m2 0h4m4 0h2m1 0h3m3 0h2m-1406 1h2m10 0h2m5 0h2m2 0h2m4 0h4m340 0h2m3 0h2m8 0h3m2 0h2m4 0h2m3 0h4m3 0h4m5 0h2m1 0h4m13 0h2m1 0h2m8 0h2m20 0h4m2 0h3m3 0h4m1 0h4m4 0h2m1 0h2m14 0h2m13 0h2m315 0h2m7 0h2m5 0h2m13 0h2m35 0h2m4 0h2m25 0h2m9 0h2m11 0h2m2 0h2m327 0h2m2 0h2m13 0h2m7 0h2m1 0h15m1 0h13m2 0h2m3 0h2m2 0h4m5 0h2m2 0h2m4 0h2m3 0h2m-1397 1h2m1 0h3m1 0h2m5 0h2m4 0h3m304 0h2m35 0h2m3 0h2m9 0h2m2 0h2m4 0h4m1 0h3m4 0h4m5 0h2m1 0h2m18 0h2m4 0h2m2 0h2m22 0h2m2 0h2m4 0h4m3 0h2m4 0h2m17 0h2m322 0h2m12 0h2m1 0h2m6 0h2m12 0h2m35 0h2m34 0h2m357 0h2m2 0h2m3 0h2m3 0h2m2 0h2m3 0h2m1 0h2m3 0h4m2 0h4m1 0h2m1 0h5m4 0h2m1 0h4m1 0h7m1 0h2m5 0h4m-1394 1h2m6 0h2m2 0h5m5 0h2m5 0h2m10 0h2m292 0h2m17 0h2m2 0h2m5 0h2m33 0h2m2 0h2m4 0h4m13 0h2m5 0h2m6 0h2m4 0h2m26 0h2m2 0h2m2 0h4m3 0h2m349 0h2m7 0h4m1 0h2m9 0h2m85 0h2m43 0h2m312 0h2m2 0h2m3 0h2m7 0h4m9 0h6m2 0h2m1 0h3m1 0h2m6 0h7m3 0h5m1 0h2m1 0h6m3 0h2m8 0h2m-1407 1h2m11 0h2m26 0h2m311 0h2m2 0h2m5 0h2m26 0h4m2 0h2m14 0h5m7 0h2m5 0h2m6 0h2m32 0h2m6 0h2m4 0h3m2 0h3m334 0h2m2 0h2m13 0h6m55 0h2m47 0h2m13 0h3m20 0h2m298 0h2m24 0h2m6 0h2m12 0h4m1 0h2m1 0h3m3 0h2m5 0h5m6 0h2m5 0h4m5 0h2m8 0h2m1 0h2m-1398 1h2m371 0h4m4 0h4m2 0h2m4 0h2m8 0h5m7 0h2m47 0h3m7 0h6m3 0h3m34 0h2m296 0h4m2 0h2m15 0h4m1 0h2m22 0h2m28 0h2m12 0h2m33 0h2m13 0h3m312 0h2m6 0h2m1 0h2m21 0h2m20 0h4m1 0h2m2 0h2m3 0h2m5 0h2m7 0h2m29 0h2m-1398 1h2m371 0h4m16 0h2m3 0h2m4 0h2m9 0h2m48 0h2m7 0h4m2 0h2m8 0h3m27 0h2m296 0h2m13 0h2m11 0h2m8 0h2m12 0h2m42 0h2m363 0h2m9 0h2m28 0h2m8 0h2m8 0h6m3 0h2m2 0h2m10 0h2m-972 1h2m1 0h2m47 0h2m8 0h2m13 0h2m1 0h3m2 0h2m8 0h3m331 0h2m4 0h2m1 0h2m9 0h2m5 0h2m3 0h2m14 0h2m431 0h2m13 0h2m8 0h2m9 0h3m3 0h8m28 0h2m-1396 1h2m364 0h2m38 0h2m7 0h2m41 0h2m8 0h2m10 0h2m1 0h2m1 0h2m347 0h2m4 0h2m12 0h2m5 0h2m1 0h2m11 0h2m3 0h2m16 0h2m413 0h2m5 0h2m1 0h2m1 0h2m16 0h2m3 0h2m3 0h3m1 0h3m7 0h2m21 0h2m-1396 1h2m364 0h2m47 0h2m32 0h2m29 0h2m335 0h2m22 0h2m8 0h2m6 0h2m4 0h2m5 0h2m4 0h2m21 0h2m13 0h2m5 0h2m384 0h2m8 0h2m2 0h2m1 0h2m1 0h2m6 0h2m8 0h2m1 0h2m5 0h2m3 0h2m7 0h2m6 0h2m9 0h2m-1527 1h2m526 0h2m14 0h5m33 0h4m24 0h2m340 0h2m6 0h2m9 0h2m13 0h2m6 0h2m11 0h2m6 0h2m6 0h2m6 0h2m18 0h2m5 0h2m384 0h2m2 0h2m4 0h2m1 0h2m13 0h2m11 0h2m15 0h2m10 0h2m9 0h2m8 0h2m-1537 1h2m170 0h2m345 0h2m7 0h2m6 0h2m6 0h5m33 0h2m7 0h2m17 0h2m3 0h2m7 0h2m334 0h2m3 0h2m4 0h2m24 0h2m16 0h3m5 0h2m6 0h2m23 0h2m64 0h2m324 0h4m2 0h2m1 0h2m6 0h2m9 0h2m7 0h3m8 0h2m4 0h2m31 0h2m-1365 1h2m316 0h2m27 0h2m15 0h2m17 0h2m34 0h2m22 0h2m7 0h2m339 0h2m9 0h4m14 0h5m17 0h2m38 0h2m64 0h2m326 0h2m2 0h2m6 0h2m1 0h2m4 0h2m3 0h2m8 0h2m3 0h2m1 0h4m8 0h2m-1018 1h2m63 0h2m402 0h2m15 0h4m1 0h2m11 0h3m458 0h2m5 0h2m3 0h2m2 0h2m18 0h2m1 0h2m10 0h2m-549 1h2m7 0h2m1 0h2m8 0h2m15 0h2m455 0h2m10 0h2m13 0h2m-516 1h2m1 0h2m25 0h2m29 0h2m418 0h2m31 0h4m3 0h2m-863 1h2m318 0h2m2 0h2m5 0h2m3 0h2m2 0h2m8 0h4m2 0h2m8 0h4m22 0h2m6 0h3m67 0h2m349 0h2m21 0h2m7 0h2m1 0h2m2 0h3m7 0h2m3 0h4m-1008 1h2m127 0h2m318 0h2m2 0h2m5 0h2m3 0h2m2 0h2m7 0h5m2 0h2m7 0h5m20 0h4m6 0h2m56 0h2m10 0h2m331 0h2m14 0h2m12 0h2m1 0h2m6 0h4m5 0h2m5 0h2m8 0h2m3 0h4m-1008 1h2m455 0h2m19 0h2m13 0h4m4 0h2m15 0h3m6 0h2m8 0h2m21 0h2m25 0h2m343 0h2m14 0h2m4 0h4m3 0h3m1 0h2m7 0h3m11 0h2m-998 1h2m463 0h2m8 0h2m8 0h2m7 0h2m2 0h2m1 0h2m3 0h5m3 0h2m1 0h2m2 0h2m3 0h2m3 0h2m2 0h2m8 0h2m21 0h2m369 0h2m16 0h2m3 0h4m3 0h2m10 0h3m12 0h2m-998 1h2m38 0h2m400 0h2m18 0h2m6 0h2m3 0h4m6 0h2m7 0h2m2 0h2m1 0h2m3 0h3m4 0h7m1 0h2m8 0h2m397 0h2m7 0h2m16 0h4m11 0h2m1 0h4m1 0h3m15 0h2m12 0h2m-974 1h2m400 0h2m8 0h2m2 0h2m1 0h2m1 0h2m4 0h4m5 0h2m6 0h2m3 0h3m1 0h2m4 0h3m10 0h2m1 0h4m3 0h4m2 0h2m399 0h2m25 0h4m6 0h2m3 0h2m1 0h4m1 0h2m12 0h3m1 0h2m12 0h2m3 0h2m1 0h2m11 0h2m-1044 1h2m18 0h2m423 0h2m14 0h2m2 0h2m1 0h4m5 0h6m10 0h2m1 0h2m1 0h3m7 0h3m1 0h2m9 0h2m2 0h2m2 0h4m2 0h2m2 0h4m7 0h2m394 0h3m14 0h2m8 0h2m6 0h2m9 0h2m6 0h3m4 0h2m14 0h2m1 0h2m11 0h2m27 0h2m-1073 1h2m18 0h2m17 0h2m404 0h2m5 0h2m16 0h2m1 0h2m6 0h2m9 0h3m1 0h2m4 0h2m9 0h2m4 0h2m3 0h2m2 0h2m3 0h2m7 0h4m7 0h2m9 0h2m379 0h2m2 0h3m1 0h2m10 0h2m19 0h2m6 0h3m6 0h2m4 0h3m22 0h2m35 0h2m23 0h2m-1096 1h2m35 0h2m411 0h4m10 0h6m1 0h2m15 0h4m8 0h2m7 0h4m4 0h3m11 0h2m9 0h2m18 0h2m379 0h2m6 0h2m9 0h3m4 0h2m12 0h5m4 0h2m7 0h2m4 0h2m5 0h2m16 0h2m1 0h2m32 0h2m23 0h2m-1096 1h2m3 0h2m3 0h2m440 0h2m1 0h2m7 0h6m5 0h2m11 0h2m9 0h2m8 0h2m6 0h5m16 0h2m2 0h2m3 0h2m5 0h2m406 0h2m2 0h2m1 0h2m10 0h4m1 0h2m4 0h2m4 0h2m13 0h3m4 0h2m1 0h2m10 0h2m5 0h2m25 0h2m-1524 1h2m3 0h2m451 0h2m2 0h3m30 0h2m411 0h2m18 0h2m17 0h4m1 0h6m7 0h2m3 0h5m16 0h2m7 0h2m5 0h2m18 0h2m356 0h2m12 0h2m8 0h2m8 0h2m8 0h2m3 0h2m8 0h5m2 0h2m13 0h2m3 0h4m1 0h2m17 0h2m-1497 1h2m3 0h2m453 0h4m31 0h2m439 0h3m8 0h5m2 0h5m6 0h8m1 0h2m9 0h2m40 0h2m58 0h2m296 0h2m12 0h2m5 0h2m1 0h4m13 0h2m1 0h3m5 0h3m1 0h2m1 0h5m10 0h2m10 0h4m21 0h2m2 0h2m-1042 1h2m454 0h2m11 0h2m5 0h3m8 0h7m2 0h3m4 0h10m1 0h2m5 0h2m1 0h3m11 0h2m8 0h2m4 0h2m71 0h2m316 0h3m3 0h4m2 0h2m7 0h8m3 0h6m1 0h2m13 0h5m32 0h2m2 0h2m-1004 1h2m400 0h2m14 0h2m11 0h2m8 0h2m2 0h2m2 0h4m1 0h4m3 0h2m2 0h8m7 0h2m1 0h6m1 0h2m8 0h2m8 0h3m3 0h2m380 0h2m3 0h2m2 0h3m3 0h4m2 0h2m9 0h6m2 0h6m2 0h2m3 0h2m2 0h2m5 0h4m3 0h2m2 0h4m9 0h2m-1004 1h2m8 0h2m4 0h2m400 0h2m1 0h2m6 0h2m1 0h2m4 0h2m8 0h4m5 0h6m4 0h2m2 0h3m2 0h3m2 0h2m2 0h4m2 0h2m3 0h2m2 0h2m1 0h2m1 0h2m8 0h2m9 0h2m385 0h2m2 0h3m8 0h2m4 0h4m6 0h7m2 0h2m5 0h2m1 0h5m2 0h2m5 0h4m3 0h2m2 0h4m1 0h5m3 0h2m-1361 1h2m310 0h2m24 0h2m2 0h2m13 0h2m8 0h2m409 0h2m6 0h2m1 0h2m4 0h2m8 0h6m5 0h3m5 0h2m7 0h3m1 0h2m2 0h2m1 0h3m1 0h3m5 0h4m13 0h2m121 0h2m277 0h4m10 0h2m1 0h4m6 0h2m1 0h4m9 0h7m5 0h2m19 0h5m7 0h4m-1526 1h2m157 0h2m310 0h2m24 0h2m2 0h2m36 0h2m394 0h2m8 0h2m21 0h2m5 0h2m9 0h5m4 0h3m1 0h7m1 0h3m5 0h4m136 0h2m265 0h2m12 0h2m3 0h2m1 0h2m2 0h2m6 0h4m6 0h2m5 0h2m2 0h4m2 0h2m3 0h3m8 0h2m7 0h2m12 0h4m-1526 1h2m503 0h3m31 0h2m392 0h4m8 0h2m28 0h2m1 0h2m6 0h5m1 0h2m1 0h2m2 0h2m1 0h4m1 0h2m6 0h2m4 0h2m399 0h2m16 0h3m1 0h2m10 0h4m6 0h2m5 0h2m1 0h5m2 0h4m1 0h3m8 0h3m6 0h2m-1007 1h5m6 0h2m417 0h2m15 0h2m16 0h2m8 0h4m2 0h2m2 0h2m2 0h2m3 0h2m2 0h4m1 0h3m12 0h2m6 0h2m14 0h2m372 0h2m19 0h2m1 0h2m6 0h2m3 0h4m1 0h2m3 0h2m7 0h3m7 0h2m5 0h2m3 0h2m1 0h4m-1461 1h2m458 0h2m9 0h2m434 0h2m12 0h2m2 0h2m6 0h2m2 0h2m2 0h4m4 0h2m3 0h3m1 0h8m2 0h3m10 0h2m3 0h2m6 0h2m6 0h2m372 0h2m11 0h2m4 0h2m3 0h3m5 0h3m2 0h7m3 0h2m5 0h4m3 0h6m1 0h2m3 0h3m2 0h9m6 0h2m23 0h2m-1496 1h2m469 0h4m439 0h2m2 0h2m1 0h2m1 0h2m1 0h2m4 0h2m1 0h2m5 0h2m1 0h2m1 0h2m4 0h2m2 0h5m3 0h4m8 0h4m11 0h2m393 0h2m2 0h4m1 0h2m1 0h2m5 0h3m6 0h2m11 0h3m4 0h6m1 0h3m3 0h2m2 0h3m4 0h2m6 0h2m23 0h2m-1025 1h4m437 0h4m2 0h2m4 0h5m2 0h2m1 0h4m1 0h2m2 0h2m1 0h2m3 0h3m3 0h7m3 0h4m8 0h2m7 0h2m39 0h2m360 0h6m1 0h2m8 0h2m5 0h2m8 0h3m1 0h4m3 0h5m1 0h2m1 0h2m2 0h2m3 0h2m13 0h2m-970 1h2m391 0h2m8 0h2m6 0h6m6 0h3m2 0h12m2 0h2m2 0h2m2 0h3m3 0h2m2 0h2m13 0h2m3 0h2m5 0h2m3 0h2m34 0h2m360 0h2m2 0h2m1 0h2m2 0h2m2 0h2m7 0h3m7 0h3m1 0h2m5 0h4m2 0h2m1 0h2m1 0h3m3 0h2m2 0h2m7 0h4m29 0h2m-1001 1h2m391 0h2m7 0h3m2 0h2m6 0h2m10 0h9m1 0h5m4 0h4m3 0h2m2 0h6m2 0h8m2 0h2m3 0h3m9 0h2m12 0h2m393 0h2m2 0h2m5 0h2m1 0h2m2 0h2m4 0h2m1 0h2m2 0h2m2 0h2m6 0h5m8 0h2m7 0h2m9 0h2m20 0h2m12 0h2m-1533 1h2m478 0h2m425 0h2m11 0h2m3 0h5m8 0h2m5 0h3m2 0h3m1 0h8m1 0h2m1 0h2m3 0h10m2 0h8m7 0h4m6 0h2m14 0h2m393 0h2m7 0h4m5 0h4m1 0h2m1 0h3m2 0h2m2 0h2m2 0h2m1 0h2m1 0h2m3 0h2m24 0h2m16 0h2m9 0h2m5 0h2m-1533 1h2m444 0h2m32 0h2m425 0h2m9 0h2m1 0h2m3 0h4m8 0h2m1 0h2m3 0h2m2 0h2m2 0h8m1 0h4m1 0h2m2 0h4m2 0h2m1 0h4m7 0h2m2 0h10m2 0h2m391 0h2m16 0h2m4 0h2m1 0h2m9 0h2m1 0h7m6 0h2m1 0h2m1 0h4m4 0h2m42 0h2m9 0h2m-1080 1h2m18 0h2m5 0h2m436 0h2m5 0h2m1 0h2m1 0h3m3 0h2m5 0h6m3 0h2m9 0h7m1 0h2m1 0h2m2 0h3m6 0h2m3 0h8m2 0h4m2 0h4m392 0h2m1 0h2m21 0h3m7 0h3m2 0h2m3 0h5m6 0h2m6 0h2m54 0h2m-1055 1h2m5 0h2m436 0h2m8 0h2m1 0h3m3 0h2m2 0h2m1 0h5m7 0h7m1 0h7m1 0h2m1 0h7m4 0h2m5 0h9m3 0h2m398 0h2m19 0h2m3 0h2m3 0h3m1 0h5m1 0h2m4 0h2m5 0h2m11 0h5m8 0h2m39 0h2m-1508 1h2m8 0h2m896 0h2m2 0h2m3 0h2m1 0h3m1 0h5m5 0h13m2 0h12m1 0h2m2 0h2m4 0h2m1 0h2m3 0h2m33 0h2m366 0h2m18 0h2m1 0h2m4 0h2m2 0h3m1 0h2m1 0h2m4 0h3m7 0h2m4 0h2m5 0h5m1 0h2m5 0h2m-1467 1h2m8 0h2m417 0h2m459 0h2m13 0h2m8 0h7m3 0h2m1 0h3m3 0h2m1 0h10m2 0h3m1 0h8m1 0h2m8 0h2m6 0h2m5 0h2m26 0h2m363 0h2m1 0h2m3 0h2m2 0h2m3 0h2m3 0h3m3 0h2m2 0h3m5 0h2m3 0h7m11 0h6m7 0h4m3 0h2m-1463 1h2m425 0h2m18 0h2m439 0h2m1 0h2m6 0h6m1 0h2m5 0h6m3 0h2m1 0h5m2 0h2m1 0h6m2 0h2m1 0h2m2 0h2m1 0h6m1 0h2m6 0h2m3 0h2m3 0h4m3 0h2m10 0h2m379 0h2m2 0h2m2 0h2m2 0h3m2 0h2m3 0h4m2 0h2m2 0h3m3 0h3m4 0h4m9 0h3m2 0h2m2 0h3m5 0h5m3 0h2m10 0h2m3 0h2m-1485 1h4m1 0h2m445 0h2m26 0h2m411 0h2m1 0h2m1 0h2m3 0h5m2 0h2m2 0h7m5 0h8m2 0h3m4 0h3m1 0h2m1 0h3m1 0h8m1 0h2m4 0h2m1 0h4m1 0h2m5 0h3m6 0h2m6 0h2m383 0h2m2 0h2m2 0h5m1 0h2m4 0h5m9 0h5m2 0h3m10 0h6m4 0h4m3 0h2m18 0h2m3 0h2m-1485 1h4m432 0h2m8 0h2m1 0h2m27 0h4m411 0h2m1 0h2m1 0h2m5 0h4m5 0h4m6 0h2m1 0h2m1 0h10m2 0h17m1 0h6m3 0h2m3 0h5m5 0h3m6 0h2m395 0h2m4 0h3m1 0h2m3 0h8m3 0h3m1 0h2m1 0h3m1 0h3m9 0h2m1 0h4m1 0h2m2 0h3m8 0h2m1 0h2m19 0h2m-1498 1h2m8 0h2m430 0h2m1 0h2m1 0h2m5 0h2m1 0h2m19 0h2m1 0h2m3 0h2m11 0h2m403 0h2m8 0h4m7 0h3m3 0h4m1 0h2m1 0h10m2 0h24m3 0h2m4 0h2m7 0h2m4 0h2m11 0h2m381 0h3m4 0h2m1 0h2m7 0h8m3 0h3m1 0h6m1 0h2m3 0h2m5 0h2m2 0h2m2 0h3m1 0h2m9 0h2m1 0h2m13 0h2m4 0h2m-1498 1h2m8 0h2m430 0h2m4 0h2m29 0h2m1 0h2m16 0h2m412 0h2m2 0h3m3 0h15m1 0h4m1 0h2m1 0h12m1 0h4m1 0h7m2 0h2m2 0h2m4 0h3m12 0h2m6 0h2m1 0h4m381 0h3m3 0h3m1 0h2m2 0h2m5 0h4m1 0h2m2 0h3m3 0h4m1 0h2m3 0h2m1 0h7m4 0h4m1 0h6m11 0h2m10 0h2m-1048 1h2m20 0h4m11 0h2m17 0h2m408 0h2m2 0h2m2 0h4m1 0h3m1 0h15m2 0h3m1 0h4m1 0h2m2 0h10m1 0h2m2 0h5m7 0h4m1 0h2m1 0h2m14 0h2m1 0h2m17 0h2m3 0h2m365 0h2m6 0h2m7 0h5m2 0h3m1 0h2m2 0h2m7 0h9m4 0h2m4 0h5m2 0h2m7 0h2m15 0h2m24 0h2m24 0h2m-1105 1h2m20 0h4m11 0h2m418 0h2m7 0h2m4 0h2m2 0h2m1 0h8m1 0h24m1 0h7m1 0h13m6 0h2m3 0h5m16 0h2m18 0h2m3 0h2m360 0h2m14 0h4m2 0h6m1 0h6m2 0h2m2 0h2m3 0h2m4 0h2m3 0h4m1 0h5m3 0h4m24 0h2m1 0h2m21 0h2m24 0h2m-1553 1h2m468 0h2m433 0h2m13 0h3m1 0h2m2 0h7m3 0h38m1 0h5m10 0h2m1 0h4m14 0h3m23 0h2m354 0h2m4 0h2m1 0h3m10 0h4m6 0h2m1 0h5m1 0h4m1 0h6m6 0h4m1 0h4m1 0h3m4 0h5m1 0h2m24 0h2m-1504 1h2m913 0h4m2 0h2m1 0h2m1 0h9m1 0h9m1 0h12m1 0h3m2 0h2m1 0h11m13 0h2m3 0h2m14 0h2m24 0h2m354 0h2m3 0h2m1 0h4m10 0h6m2 0h13m3 0h6m3 0h2m2 0h3m6 0h2m1 0h2m2 0h2m1 0h5m7 0h2m3 0h2m22 0h2m-1516 1h2m479 0h2m8 0h2m1 0h2m419 0h6m2 0h3m1 0h12m1 0h23m1 0h15m421 0h2m1 0h2m3 0h2m3 0h2m2 0h22m1 0h2m3 0h2m3 0h3m1 0h2m1 0h2m3 0h6m1 0h2m2 0h4m8 0h4m1 0h2m22 0h2m58 0h2m-1576 1h2m60 0h2m394 0h2m9 0h2m7 0h2m1 0h2m8 0h5m419 0h3m1 0h2m1 0h7m1 0h3m1 0h29m1 0h10m1 0h2m13 0h2m1 0h2m409 0h2m2 0h2m1 0h4m1 0h13m1 0h2m2 0h5m1 0h2m1 0h2m6 0h3m3 0h2m3 0h4m1 0h4m16 0h2m1 0h2m6 0h2m74 0h2m-1590 1h2m10 0h2m62 0h2m394 0h3m1 0h2m5 0h4m1 0h2m2 0h2m13 0h2m415 0h2m1 0h5m4 0h2m1 0h8m1 0h45m4 0h2m1 0h2m2 0h2m1 0h4m10 0h2m389 0h3m3 0h4m3 0h2m2 0h9m5 0h2m3 0h2m7 0h2m3 0h2m2 0h2m7 0h2m4 0h4m7 0h2m18 0h2m-1514 1h2m10 0h2m30 0h2m427 0h7m5 0h2m1 0h2m16 0h2m416 0h2m1 0h2m5 0h14m1 0h44m3 0h3m1 0h2m2 0h3m2 0h4m8 0h2m389 0h3m4 0h7m2 0h9m6 0h2m2 0h2m6 0h2m1 0h2m2 0h2m2 0h4m4 0h4m4 0h3m3 0h2m2 0h2m30 0h2m-1482 1h2m428 0h2m2 0h2m7 0h2m17 0h2m415 0h2m9 0h49m1 0h7m2 0h5m2 0h7m4 0h2m6 0h2m392 0h2m4 0h8m1 0h2m2 0h2m2 0h2m9 0h7m1 0h2m1 0h2m2 0h5m1 0h4m2 0h5m1 0h4m4 0h4m6 0h2m24 0h2m12 0h2m-1082 1h2m8 0h2m17 0h2m1 0h2m431 0h5m3 0h9m1 0h43m1 0h6m2 0h5m1 0h5m5 0h5m5 0h2m18 0h2m372 0h2m4 0h4m1 0h7m1 0h3m1 0h2m1 0h2m1 0h2m1 0h9m2 0h2m4 0h5m3 0h9m1 0h4m3 0h2m1 0h2m6 0h2m12 0h4m22 0h2m44 0h2m-1592 1h2m2 0h2m458 0h2m8 0h2m20 0h2m13 0h2m8 0h2m20 0h2m384 0h6m2 0h53m2 0h4m3 0h2m1 0h2m1 0h2m1 0h3m1 0h8m25 0h2m374 0h2m3 0h3m2 0h10m1 0h2m1 0h12m2 0h2m1 0h5m1 0h5m4 0h3m9 0h2m2 0h2m4 0h2m17 0h4m41 0h2m13 0h2m10 0h2m-1592 1h2m2 0h2m130 0h2m352 0h2m19 0h2m8 0h2m20 0h2m385 0h9m1 0h56m6 0h2m1 0h6m1 0h4m8 0h2m395 0h2m3 0h2m5 0h6m2 0h10m2 0h4m2 0h3m2 0h3m1 0h5m1 0h2m1 0h2m1 0h2m3 0h2m2 0h2m8 0h2m17 0h2m6 0h2m35 0h2m13 0h2m-1585 1h2m20 0h3m116 0h2m342 0h2m8 0h2m19 0h2m417 0h9m2 0h57m3 0h2m1 0h5m1 0h2m2 0h2m8 0h2m397 0h2m8 0h6m2 0h9m2 0h4m3 0h9m3 0h5m4 0h2m3 0h2m39 0h2m9 0h2m-1544 1h2m1 0h2m17 0h3m460 0h2m20 0h2m429 0h2m1 0h2m3 0h52m2 0h17m2 0h2m402 0h2m2 0h3m1 0h8m1 0h15m2 0h4m6 0h6m1 0h5m8 0h2m4 0h2m5 0h2m27 0h4m9 0h2m38 0h2m-1581 1h2m26 0h2m25 0h2m83 0h2m331 0h2m22 0h2m5 0h2m429 0h10m1 0h52m1 0h5m1 0h2m1 0h6m2 0h2m24 0h2m376 0h2m2 0h2m1 0h9m1 0h14m2 0h4m4 0h3m2 0h2m1 0h9m6 0h4m2 0h2m5 0h2m27 0h2m35 0h2m14 0h2m-1553 1h2m25 0h2m83 0h2m328 0h2m1 0h2m15 0h3m4 0h4m428 0h2m4 0h68m6 0h2m31 0h2m381 0h5m6 0h2m2 0h7m1 0h10m2 0h4m3 0h4m2 0h5m4 0h2m2 0h2m5 0h2m2 0h4m43 0h2m17 0h2m-1095 1h2m18 0h3m6 0h2m428 0h2m2 0h2m1 0h2m2 0h63m1 0h2m3 0h2m3 0h2m403 0h2m3 0h3m1 0h2m4 0h4m2 0h18m1 0h5m3 0h2m13 0h2m9 0h2m2 0h4m41 0h4m14 0h2m-1070 1h2m2 0h6m428 0h72m1 0h3m3 0h2m3 0h2m1 0h4m46 0h2m349 0h3m3 0h3m4 0h2m1 0h3m1 0h25m2 0h9m5 0h5m13 0h2m43 0h2m3 0h2m11 0h4m-1537 1h2m455 0h2m4 0h4m2 0h6m428 0h71m1 0h3m1 0h5m6 0h4m46 0h2m348 0h3m5 0h3m3 0h3m2 0h38m5 0h6m2 0h2m3 0h2m53 0h2m13 0h2m-1572 1h2m19 0h2m12 0h2m88 0h2m346 0h4m9 0h2m2 0h4m4 0h2m3 0h3m1 0h2m3 0h2m426 0h72m1 0h6m406 0h2m7 0h8m2 0h23m2 0h5m1 0h4m1 0h2m1 0h7m1 0h3m1 0h2m3 0h2m62 0h2m-1566 1h2m19 0h2m2 0h2m6 0h2m19 0h2m69 0h2m346 0h4m9 0h2m2 0h2m2 0h2m7 0h2m7 0h2m426 0h2m4 0h3m2 0h56m1 0h3m2 0h2m2 0h2m2 0h2m13 0h2m392 0h2m4 0h5m2 0h24m2 0h5m1 0h3m5 0h5m4 0h2m5 0h3m3 0h2m57 0h2m7 0h2m-1557 1h2m5 0h2m6 0h2m19 0h2m438 0h2m10 0h2m4 0h2m426 0h2m4 0h3m1 0h62m1 0h7m1 0h2m7 0h2m3 0h5m390 0h44m1 0h5m1 0h2m3 0h2m1 0h2m1 0h2m4 0h4m3 0h2m24 0h2m40 0h2m-1557 1h2m11 0h2m461 0h2m1 0h2m7 0h2m433 0h2m1 0h68m1 0h4m1 0h2m1 0h2m1 0h2m4 0h3m2 0h5m391 0h7m1 0h41m1 0h7m1 0h4m5 0h2m23 0h2m6 0h2m39 0h2m-1545 1h4m94 0h2m368 0h2m25 0h2m412 0h5m1 0h4m1 0h59m1 0h2m10 0h2m1 0h5m1 0h3m395 0h2m3 0h2m1 0h6m1 0h33m1 0h9m2 0h2m1 0h2m8 0h2m1 0h4m3 0h2m10 0h2m5 0h2m40 0h2m-1545 1h2m96 0h2m361 0h2m2 0h2m28 0h2m412 0h7m1 0h2m1 0h62m14 0h4m1 0h2m396 0h2m7 0h2m1 0h2m1 0h33m1 0h7m4 0h2m7 0h2m2 0h2m1 0h4m3 0h2m6 0h2m9 0h2m36 0h2m-1546 1h2m15 0h2m446 0h9m10 0h2m425 0h3m2 0h8m1 0h57m2 0h2m3 0h2m410 0h2m4 0h2m1 0h38m2 0h5m1 0h5m8 0h2m2 0h2m2 0h2m15 0h3m47 0h2m-1550 1h2m2 0h2m8 0h2m5 0h2m446 0h9m6 0h2m2 0h2m425 0h3m2 0h2m3 0h61m7 0h2m1 0h3m2 0h2m7 0h2m2 0h2m389 0h3m3 0h10m1 0h32m1 0h4m3 0h5m6 0h2m23 0h2m6 0h2m-1508 1h2m6 0h2m4 0h2m437 0h2m15 0h2m8 0h2m2 0h4m431 0h2m1 0h66m8 0h3m2 0h2m7 0h2m2 0h2m386 0h2m2 0h2m1 0h2m2 0h3m1 0h4m1 0h39m1 0h5m3 0h2m34 0h2m34 0h2m18 0h2m-1556 1h2m30 0h2m411 0h3m14 0h2m2 0h2m3 0h3m3 0h3m431 0h2m1 0h66m4 0h2m3 0h2m1 0h2m2 0h2m4 0h2m390 0h6m1 0h2m3 0h2m2 0h45m7 0h2m5 0h2m7 0h2m54 0h2m2 0h2m14 0h2m-1524 1h2m412 0h3m2 0h2m5 0h6m2 0h7m4 0h4m430 0h2m1 0h64m1 0h3m1 0h3m1 0h4m1 0h2m2 0h2m4 0h2m392 0h2m1 0h2m5 0h2m3 0h38m1 0h2m1 0h2m9 0h2m3 0h2m7 0h2m20 0h2m36 0h2m4 0h2m-1556 1h3m15 0h2m90 0h2m345 0h2m2 0h2m5 0h4m6 0h3m4 0h3m1 0h2m430 0h6m1 0h60m1 0h12m9 0h2m397 0h4m7 0h3m3 0h33m1 0h2m1 0h2m9 0h2m2 0h2m30 0h2m11 0h2m29 0h2m-1556 1h3m1 0h2m12 0h2m12 0h2m47 0h2m27 0h2m359 0h2m1 0h4m7 0h3m1 0h2m428 0h2m1 0h2m1 0h2m2 0h57m4 0h4m1 0h2m2 0h2m1 0h2m6 0h2m397 0h6m3 0h4m1 0h38m3 0h5m9 0h2m43 0h2m20 0h2m19 0h2m-1564 1h2m19 0h2m5 0h2m47 0h2m388 0h2m1 0h4m11 0h2m428 0h3m2 0h71m4 0h5m6 0h2m391 0h2m7 0h50m2 0h5m1 0h2m6 0h2m5 0h2m58 0h2m19 0h2m-1543 1h2m442 0h2m5 0h2m441 0h4m1 0h71m4 0h3m8 0h2m391 0h4m2 0h10m2 0h35m1 0h7m1 0h4m1 0h3m3 0h4m2 0h2m1 0h2m-1018 1h2m448 0h4m2 0h3m1 0h65m3 0h4m41 0h2m361 0h10m2 0h2m1 0h35m3 0h10m2 0h5m1 0h2m4 0h2m22 0h2m-1525 1h2m97 0h2m395 0h2m6 0h2m428 0h2m1 0h2m4 0h3m1 0h55m1 0h4m2 0h2m3 0h5m3 0h3m7 0h2m25 0h2m363 0h2m2 0h11m1 0h39m1 0h4m1 0h2m3 0h4m1 0h2m7 0h2m3 0h3m11 0h2m15 0h2m-1542 1h2m12 0h4m4 0h2m1 0h2m9 0h3m60 0h2m16 0h2m377 0h2m6 0h2m428 0h7m1 0h69m4 0h4m3 0h3m7 0h2m396 0h9m1 0h49m3 0h6m2 0h2m2 0h2m3 0h3m15 0h2m11 0h4m32 0h2m-1564 1h4m4 0h2m1 0h2m9 0h3m4 0h2m72 0h2m379 0h2m434 0h4m1 0h71m5 0h3m5 0h2m7 0h2m396 0h3m1 0h55m5 0h4m2 0h2m25 0h2m13 0h2m20 0h2m10 0h2m-1535 1h2m68 0h2m26 0h2m353 0h4m9 0h2m424 0h73m5 0h5m5 0h2m398 0h2m6 0h2m1 0h50m2 0h4m5 0h2m3 0h2m48 0h2m12 0h2m-1538 1h2m9 0h2m72 0h4m24 0h2m8 0h2m343 0h2m11 0h2m8 0h2m413 0h2m1 0h3m3 0h66m4 0h5m1 0h2m400 0h4m6 0h2m3 0h42m3 0h4m1 0h4m1 0h2m3 0h2m20 0h4m12 0h2m14 0h2m10 0h2m-1536 1h2m9 0h2m9 0h2m63 0h2m25 0h2m7 0h2m331 0h2m14 0h2m17 0h2m413 0h2m4 0h65m1 0h3m3 0h3m4 0h2m4 0h2m17 0h2m375 0h2m5 0h2m1 0h2m1 0h45m2 0h4m6 0h2m3 0h2m20 0h4m12 0h2m26 0h2m-1514 1h2m85 0h2m3 0h2m3 0h2m37 0h2m296 0h2m3 0h2m9 0h2m5 0h2m3 0h2m423 0h2m1 0h5m1 0h60m6 0h2m11 0h2m17 0h2m4 0h2m376 0h2m1 0h2m1 0h45m1 0h6m91 0h2m-1546 1h2m102 0h2m8 0h2m37 0h2m301 0h2m16 0h2m3 0h2m420 0h2m1 0h2m1 0h66m17 0h3m24 0h2m370 0h2m1 0h2m4 0h5m2 0h48m26 0h2m63 0h2m-1546 1h2m472 0h2m425 0h2m7 0h60m1 0h2m17 0h5m392 0h7m3 0h52m1 0h3m5 0h2m19 0h2m-1477 1h2m69 0h2m25 0h2m31 0h2m321 0h2m4 0h2m8 0h2m74 0h2m356 0h67m1 0h5m6 0h2m1 0h2m1 0h2m46 0h2m344 0h2m1 0h2m5 0h3m1 0h45m1 0h2m1 0h2m5 0h3m3 0h2m4 0h6m70 0h2m-1543 1h2m69 0h2m25 0h2m5 0h2m24 0h2m321 0h2m4 0h2m84 0h2m351 0h2m3 0h67m1 0h5m3 0h2m1 0h2m22 0h2m28 0h2m354 0h3m1 0h40m1 0h4m1 0h5m3 0h7m1 0h2m4 0h6m70 0h2m-1470 1h2m8 0h2m20 0h2m345 0h2m1 0h2m130 0h2m310 0h4m1 0h2m1 0h67m1 0h4m1 0h2m1 0h2m18 0h2m2 0h2m26 0h2m353 0h2m2 0h39m1 0h2m2 0h9m1 0h2m1 0h2m1 0h4m38 0h2m19 0h2m8 0h2m-1567 1h2m109 0h2m8 0h2m1 0h2m12 0h3m349 0h2m1 0h2m10 0h2m118 0h2m310 0h62m2 0h7m1 0h3m1 0h4m4 0h2m18 0h2m30 0h2m353 0h2m4 0h51m1 0h2m4 0h2m2 0h2m5 0h2m9 0h2m18 0h2m8 0h2m9 0h2m8 0h2m8 0h2m6 0h2m-1585 1h2m122 0h2m2 0h2m2 0h2m4 0h4m348 0h2m13 0h2m428 0h2m2 0h6m1 0h52m1 0h10m3 0h3m3 0h2m57 0h2m10 0h2m331 0h2m6 0h2m4 0h5m1 0h36m1 0h6m3 0h6m2 0h3m4 0h2m9 0h2m28 0h2m29 0h2m6 0h2m-1541 1h2m78 0h2m2 0h2m2 0h3m5 0h2m374 0h2m417 0h2m2 0h6m1 0h49m1 0h2m1 0h2m1 0h7m3 0h2m4 0h2m57 0h2m10 0h2m331 0h2m2 0h3m1 0h5m2 0h37m1 0h10m1 0h7m1 0h2m1 0h3m-1456 1h2m13 0h2m57 0h2m4 0h2m1 0h2m2 0h6m379 0h2m425 0h54m1 0h2m4 0h2m2 0h2m1 0h2m1 0h2m3 0h2m8 0h2m32 0h4m9 0h2m345 0h2m1 0h3m1 0h6m1 0h38m1 0h3m1 0h2m4 0h2m2 0h3m1 0h2m1 0h3m-1441 1h2m57 0h3m6 0h2m2 0h2m2 0h2m454 0h2m349 0h55m1 0h4m3 0h5m1 0h2m1 0h2m3 0h4m6 0h2m32 0h4m9 0h2m1 0h2m342 0h2m5 0h3m1 0h2m1 0h46m5 0h2m1 0h2m4 0h2m4 0h2m51 0h2m-1474 1h2m33 0h2m1 0h2m2 0h2m9 0h2m11 0h2m439 0h2m343 0h2m2 0h8m1 0h47m1 0h2m1 0h2m1 0h6m2 0h5m3 0h5m35 0h2m3 0h2m13 0h2m350 0h2m1 0h11m2 0h25m1 0h7m1 0h2m5 0h2m2 0h2m9 0h2m51 0h2m-1474 1h2m36 0h2m2 0h2m1 0h2m6 0h2m11 0h2m454 0h2m328 0h2m2 0h61m2 0h4m3 0h5m1 0h5m1 0h2m2 0h2m31 0h2m366 0h3m4 0h10m2 0h35m3 0h4m4 0h2m-1379 1h2m5 0h4m3 0h3m1 0h2m1 0h2m468 0h2m21 0h2m304 0h2m4 0h3m2 0h48m1 0h2m2 0h2m4 0h3m2 0h5m1 0h3m4 0h2m1 0h5m14 0h3m2 0h2m22 0h2m5 0h2m344 0h3m10 0h4m2 0h30m1 0h5m2 0h6m-1386 1h2m9 0h4m3 0h4m4 0h2m1 0h2m1 0h2m8 0h3m430 0h2m6 0h2m11 0h2m17 0h2m8 0h4m302 0h2m4 0h3m3 0h3m2 0h45m1 0h3m4 0h3m2 0h4m9 0h2m2 0h4m14 0h3m2 0h2m7 0h2m8 0h3m2 0h2m1 0h2m1 0h3m4 0h2m335 0h2m3 0h2m1 0h2m6 0h4m1 0h29m3 0h5m4 0h4m3 0h2m110 0h2m-1521 1h2m16 0h2m1 0h2m8 0h2m1 0h2m4 0h2m7 0h2m2 0h4m2 0h4m430 0h2m6 0h2m11 0h2m17 0h2m10 0h2m309 0h2m1 0h2m1 0h2m2 0h6m2 0h25m1 0h9m3 0h7m1 0h2m2 0h4m45 0h3m7 0h3m5 0h5m5 0h2m332 0h2m1 0h2m3 0h2m1 0h2m1 0h4m1 0h8m1 0h26m2 0h3m6 0h4m3 0h2m110 0h2m-1521 1h2m19 0h2m9 0h6m1 0h3m5 0h11m1 0h2m436 0h2m24 0h2m10 0h2m319 0h2m1 0h4m2 0h26m1 0h6m1 0h12m2 0h9m2 0h3m34 0h2m1 0h2m8 0h2m3 0h2m2 0h2m7 0h4m8 0h2m329 0h2m7 0h2m3 0h4m1 0h35m13 0h2m4 0h2m38 0h2m41 0h2m-1519 1h2m52 0h2m2 0h6m1 0h2m6 0h2m2 0h10m1 0h3m327 0h2m103 0h2m4 0h2m6 0h4m2 0h2m4 0h2m10 0h2m1 0h2m2 0h2m317 0h2m2 0h6m1 0h23m1 0h8m1 0h2m2 0h4m4 0h5m2 0h3m26 0h2m6 0h2m1 0h2m7 0h2m4 0h2m2 0h2m4 0h2m3 0h4m6 0h2m337 0h3m3 0h7m3 0h26m1 0h3m2 0h2m2 0h2m2 0h2m1 0h2m4 0h3m37 0h2m41 0h2m-1519 1h2m52 0h2m4 0h4m4 0h2m4 0h2m3 0h4m1 0h3m1 0h3m327 0h2m79 0h2m25 0h2m1 0h4m4 0h4m2 0h2m19 0h2m2 0h2m306 0h2m11 0h3m5 0h24m1 0h6m2 0h10m3 0h3m1 0h2m25 0h2m3 0h2m18 0h2m4 0h2m8 0h2m4 0h3m19 0h2m316 0h2m6 0h2m3 0h2m2 0h4m4 0h2m4 0h16m1 0h14m2 0h2m1 0h2m5 0h4m38 0h2m-1507 1h2m18 0h2m65 0h5m1 0h2m1 0h3m3 0h2m9 0h2m1 0h2m409 0h2m25 0h2m3 0h2m1 0h4m5 0h2m331 0h2m3 0h2m4 0h5m2 0h27m1 0h6m1 0h3m1 0h7m1 0h2m1 0h2m1 0h2m7 0h2m16 0h2m20 0h2m1 0h2m2 0h8m2 0h3m5 0h2m20 0h2m316 0h2m1 0h2m8 0h2m1 0h3m5 0h7m1 0h14m1 0h16m1 0h2m1 0h2m7 0h4m25 0h2m9 0h2m-1527 1h2m18 0h2m18 0h2m48 0h2m13 0h6m2 0h2m2 0h2m3 0h3m9 0h2m8 0h2m396 0h2m18 0h2m15 0h2m1 0h4m7 0h2m329 0h2m3 0h2m4 0h12m2 0h20m1 0h6m1 0h3m3 0h4m2 0h4m6 0h2m3 0h2m37 0h6m2 0h8m1 0h4m10 0h2m336 0h2m3 0h2m6 0h4m2 0h37m2 0h4m13 0h2m3 0h2m20 0h2m28 0h2m17 0h2m14 0h2m-1581 1h2m88 0h2m13 0h2m1 0h4m3 0h4m1 0h5m2 0h2m4 0h4m7 0h2m12 0h2m382 0h2m18 0h2m11 0h2m2 0h2m2 0h2m8 0h7m2 0h2m4 0h3m313 0h2m5 0h2m4 0h2m1 0h6m2 0h28m1 0h9m4 0h3m5 0h3m33 0h2m7 0h5m1 0h2m2 0h5m2 0h2m2 0h2m8 0h2m335 0h2m4 0h2m4 0h6m2 0h2m1 0h33m1 0h2m2 0h4m16 0h2m33 0h2m15 0h2m17 0h2m14 0h2m-1473 1h4m3 0h4m1 0h6m1 0h2m4 0h4m3 0h2m8 0h2m6 0h2m414 0h3m6 0h2m5 0h2m3 0h5m2 0h2m4 0h3m2 0h2m316 0h2m6 0h7m1 0h17m2 0h9m2 0h2m1 0h8m2 0h5m3 0h4m3 0h2m8 0h2m17 0h2m4 0h2m2 0h4m1 0h2m2 0h13m1 0h4m340 0h2m1 0h2m4 0h2m1 0h3m1 0h3m1 0h2m1 0h11m1 0h4m2 0h5m1 0h4m6 0h2m2 0h6m44 0h2m3 0h2m-1557 1h2m124 0h2m8 0h2m1 0h2m8 0h5m1 0h2m5 0h2m4 0h2m8 0h2m422 0h2m3 0h2m2 0h2m4 0h3m3 0h2m2 0h5m9 0h2m313 0h2m1 0h4m4 0h6m2 0h17m2 0h6m3 0h4m1 0h2m4 0h2m4 0h3m3 0h6m1 0h2m8 0h2m13 0h2m8 0h3m10 0h4m1 0h6m2 0h7m2 0h2m337 0h3m3 0h2m6 0h2m1 0h15m1 0h3m1 0h2m3 0h6m1 0h7m1 0h4m1 0h3m11 0h2m16 0h2m12 0h2m-1552 1h2m40 0h2m76 0h2m4 0h2m8 0h6m3 0h2m5 0h2m1 0h2m3 0h4m429 0h4m3 0h2m2 0h2m1 0h2m8 0h2m3 0h3m2 0h5m324 0h2m1 0h4m8 0h2m1 0h5m4 0h5m2 0h7m1 0h2m2 0h3m3 0h4m18 0h2m26 0h2m9 0h2m1 0h4m2 0h2m3 0h2m3 0h2m4 0h2m2 0h10m1 0h2m332 0h2m4 0h2m2 0h2m2 0h3m1 0h8m2 0h3m1 0h7m1 0h7m1 0h7m1 0h3m2 0h3m11 0h2m16 0h2m3 0h2m28 0h2m-1531 1h2m76 0h4m14 0h4m2 0h5m3 0h2m1 0h2m3 0h6m424 0h2m1 0h4m3 0h2m2 0h2m1 0h2m12 0h3m4 0h2m340 0h9m4 0h14m5 0h2m4 0h4m13 0h2m6 0h2m36 0h5m2 0h2m1 0h2m5 0h3m2 0h7m1 0h2m2 0h3m1 0h2m327 0h2m9 0h2m1 0h3m2 0h3m2 0h12m1 0h15m1 0h7m5 0h3m3 0h2m30 0h2m28 0h2m-1453 1h4m9 0h2m4 0h2m1 0h7m3 0h2m2 0h4m2 0h4m414 0h2m1 0h2m3 0h5m14 0h2m12 0h2m25 0h2m314 0h3m3 0h4m1 0h2m4 0h2m2 0h5m1 0h4m1 0h2m4 0h2m1 0h2m15 0h5m6 0h2m32 0h2m1 0h3m2 0h4m2 0h2m1 0h2m2 0h3m2 0h5m2 0h2m336 0h2m9 0h2m1 0h4m2 0h2m2 0h2m1 0h10m2 0h2m3 0h8m1 0h4m8 0h8m46 0h2m-1439 1h2m4 0h2m5 0h2m4 0h2m1 0h5m2 0h11m395 0h2m11 0h2m10 0h2m1 0h2m3 0h2m1 0h5m1 0h2m3 0h2m5 0h2m4 0h3m30 0h2m8 0h2m299 0h2m3 0h3m2 0h2m1 0h2m1 0h5m1 0h2m1 0h4m3 0h3m2 0h2m4 0h2m1 0h4m5 0h2m1 0h8m6 0h2m34 0h2m1 0h2m3 0h11m2 0h3m3 0h2m4 0h2m347 0h2m3 0h3m1 0h2m5 0h5m2 0h3m2 0h3m2 0h3m1 0h4m3 0h3m5 0h2m3 0h3m6 0h2m24 0h2m5 0h2m7 0h2m2 0h2m-1437 1h2m4 0h2m11 0h2m1 0h12m395 0h2m11 0h2m14 0h5m2 0h5m1 0h2m1 0h4m5 0h2m4 0h7m16 0h2m18 0h2m299 0h2m7 0h6m1 0h5m2 0h6m2 0h4m2 0h2m9 0h2m5 0h2m1 0h6m8 0h2m7 0h2m8 0h4m17 0h2m6 0h5m3 0h7m16 0h2m343 0h2m3 0h5m3 0h7m2 0h3m2 0h2m2 0h2m1 0h2m2 0h3m5 0h2m6 0h2m4 0h2m2 0h2m3 0h2m15 0h2m1 0h2m1 0h3m8 0h2m1 0h2m-1439 1h2m5 0h3m9 0h4m1 0h6m1 0h3m3 0h2m1 0h2m3 0h2m7 0h2m392 0h2m1 0h2m3 0h2m2 0h5m2 0h2m1 0h3m3 0h3m10 0h2m3 0h4m2 0h2m3 0h4m4 0h3m328 0h2m1 0h2m3 0h4m2 0h5m3 0h2m4 0h3m14 0h2m25 0h2m8 0h4m17 0h2m2 0h2m1 0h6m3 0h7m1 0h2m13 0h2m348 0h5m5 0h5m1 0h3m3 0h6m1 0h4m4 0h2m10 0h2m1 0h2m5 0h2m3 0h2m18 0h2m1 0h2m9 0h2m9 0h2m-1450 1h2m1 0h2m5 0h2m7 0h18m1 0h7m3 0h2m7 0h2m392 0h2m1 0h2m3 0h2m2 0h2m8 0h3m4 0h2m6 0h2m2 0h2m8 0h3m3 0h4m4 0h2m339 0h2m2 0h2m1 0h2m2 0h2m4 0h4m14 0h2m3 0h2m53 0h4m1 0h6m5 0h8m5 0h2m345 0h2m6 0h6m2 0h2m1 0h11m5 0h9m4 0h2m4 0h2m2 0h2m3 0h5m40 0h2m10 0h2m-1473 1h2m21 0h2m17 0h4m2 0h2m4 0h9m2 0h2m407 0h2m13 0h2m6 0h3m2 0h2m7 0h5m7 0h4m5 0h3m2 0h2m334 0h2m3 0h2m7 0h2m2 0h3m3 0h2m18 0h2m1 0h3m25 0h2m2 0h2m8 0h2m7 0h2m2 0h2m2 0h4m1 0h2m1 0h10m1 0h3m3 0h2m345 0h2m6 0h4m4 0h8m1 0h3m8 0h4m2 0h2m4 0h4m2 0h2m2 0h2m4 0h4m19 0h2m15 0h2m2 0h2m-1461 1h2m32 0h2m4 0h2m1 0h2m3 0h2m2 0h2m1 0h7m4 0h2m417 0h2m2 0h2m2 0h2m3 0h2m2 0h2m5 0h2m1 0h4m3 0h2m2 0h4m6 0h3m1 0h3m6 0h2m1 0h2m320 0h4m3 0h2m4 0h2m1 0h4m1 0h4m5 0h2m14 0h2m2 0h2m13 0h2m4 0h2m4 0h2m2 0h4m6 0h5m4 0h2m6 0h5m3 0h5m1 0h4m1 0h5m9 0h2m345 0h4m3 0h5m1 0h2m3 0h2m3 0h4m1 0h5m1 0h2m4 0h4m12 0h2m10 0h2m9 0h2m11 0h2m2 0h2m-1423 1h5m1 0h6m2 0h2m1 0h3m1 0h2m1 0h3m5 0h2m10 0h2m384 0h2m3 0h2m6 0h2m6 0h2m2 0h3m1 0h5m4 0h2m1 0h2m2 0h2m3 0h2m2 0h4m3 0h5m3 0h3m2 0h2m2 0h2m2 0h2m1 0h2m320 0h4m3 0h2m4 0h2m1 0h4m1 0h4m1 0h2m2 0h2m11 0h2m20 0h2m4 0h2m10 0h2m6 0h8m6 0h2m2 0h16m5 0h2m9 0h2m327 0h2m23 0h2m3 0h3m8 0h4m3 0h3m1 0h9m1 0h4m8 0h2m7 0h2m1 0h2m8 0h2m8 0h2m2 0h2m9 0h2m1 0h2m-1433 1h5m3 0h12m3 0h4m3 0h2m12 0h2m384 0h2m3 0h2m1 0h2m3 0h2m6 0h3m2 0h2m2 0h4m3 0h3m1 0h2m1 0h2m4 0h2m1 0h5m4 0h4m1 0h4m1 0h2m4 0h2m5 0h4m309 0h2m9 0h2m3 0h2m2 0h2m1 0h6m1 0h2m3 0h2m15 0h2m5 0h4m22 0h2m13 0h8m3 0h2m1 0h2m1 0h18m344 0h2m10 0h2m15 0h3m1 0h2m4 0h2m13 0h4m1 0h2m1 0h4m17 0h2m10 0h3m1 0h2m1 0h2m2 0h2m5 0h2m6 0h2m1 0h2m-1434 1h4m5 0h3m1 0h5m1 0h2m3 0h4m3 0h2m357 0h2m46 0h4m5 0h2m1 0h2m1 0h2m1 0h2m3 0h3m4 0h2m2 0h2m1 0h5m1 0h2m1 0h2m1 0h2m4 0h2m3 0h4m1 0h2m11 0h4m309 0h2m17 0h3m1 0h4m5 0h4m4 0h2m9 0h2m4 0h6m7 0h2m9 0h2m2 0h2m24 0h3m1 0h23m6 0h2m345 0h2m10 0h7m2 0h2m3 0h3m6 0h2m2 0h2m5 0h2m3 0h4m10 0h2m15 0h3m2 0h2m1 0h2m2 0h4m2 0h3m2 0h2m-1427 1h4m1 0h2m2 0h3m4 0h2m1 0h2m2 0h4m5 0h2m356 0h2m40 0h2m3 0h5m3 0h4m1 0h2m4 0h2m1 0h2m1 0h2m5 0h2m1 0h2m2 0h4m2 0h2m3 0h4m2 0h2m5 0h2m7 0h2m3 0h2m13 0h2m295 0h2m1 0h2m17 0h3m7 0h2m1 0h4m4 0h2m9 0h2m4 0h2m1 0h2m8 0h2m9 0h2m5 0h2m5 0h2m15 0h28m4 0h2m338 0h2m5 0h2m10 0h5m3 0h3m3 0h2m7 0h2m2 0h2m4 0h3m4 0h3m10 0h2m10 0h4m1 0h2m1 0h4m1 0h3m1 0h4m2 0h3m2 0h3m4 0h2m1 0h2m-1435 1h2m1 0h7m6 0h11m2 0h3m4 0h2m11 0h2m379 0h2m3 0h2m1 0h2m3 0h3m10 0h3m3 0h2m3 0h4m5 0h2m2 0h2m1 0h3m1 0h3m1 0h4m12 0h4m1 0h2m3 0h2m2 0h2m4 0h2m295 0h2m1 0h2m19 0h2m6 0h2m29 0h2m26 0h2m5 0h2m13 0h2m2 0h27m343 0h2m5 0h2m3 0h2m8 0h2m3 0h4m21 0h3m7 0h2m14 0h2m4 0h4m1 0h5m4 0h2m1 0h2m1 0h2m2 0h3m2 0h2m4 0h2m1 0h2m-1437 1h2m1 0h2m2 0h4m7 0h8m1 0h2m2 0h2m5 0h2m11 0h2m387 0h2m3 0h3m5 0h2m3 0h2m4 0h2m1 0h6m5 0h3m1 0h7m1 0h3m2 0h6m2 0h3m3 0h4m1 0h2m3 0h2m2 0h2m304 0h2m19 0h2m19 0h2m5 0h2m22 0h2m2 0h2m23 0h2m1 0h3m2 0h23m2 0h9m339 0h2m1 0h2m8 0h2m7 0h2m6 0h2m3 0h3m16 0h2m7 0h2m6 0h4m4 0h4m7 0h5m7 0h10m4 0h2m-1436 1h2m4 0h2m1 0h2m2 0h3m2 0h2m5 0h2m3 0h2m2 0h3m412 0h5m5 0h4m3 0h2m5 0h2m2 0h2m3 0h5m1 0h4m1 0h14m2 0h3m3 0h2m318 0h2m19 0h2m19 0h2m2 0h2m1 0h2m9 0h2m11 0h2m2 0h2m23 0h2m1 0h3m3 0h4m1 0h8m1 0h19m2 0h2m335 0h2m1 0h2m17 0h2m1 0h2m8 0h3m16 0h2m15 0h4m6 0h2m8 0h4m1 0h2m3 0h9m4 0h4m16 0h2m-1454 1h2m3 0h2m6 0h2m3 0h2m3 0h4m1 0h2m4 0h3m395 0h2m14 0h4m7 0h4m3 0h2m9 0h2m3 0h8m2 0h5m2 0h2m2 0h4m7 0h4m338 0h2m2 0h2m3 0h2m5 0h2m1 0h2m4 0h2m12 0h2m2 0h2m23 0h2m16 0h2m2 0h8m1 0h24m1 0h3m360 0h2m15 0h2m14 0h2m9 0h2m8 0h4m8 0h3m1 0h4m2 0h9m4 0h2m18 0h2m-1456 1h2m5 0h2m8 0h2m6 0h7m3 0h2m5 0h2m390 0h2m6 0h2m1 0h2m3 0h2m9 0h3m2 0h6m4 0h2m4 0h11m1 0h5m1 0h2m3 0h2m7 0h6m3 0h2m3 0h2m3 0h2m323 0h2m2 0h7m5 0h2m1 0h4m15 0h2m3 0h2m23 0h2m16 0h2m2 0h9m2 0h3m1 0h14m1 0h3m1 0h2m341 0h2m7 0h2m9 0h5m12 0h7m2 0h2m2 0h2m1 0h2m9 0h2m8 0h2m10 0h2m2 0h4m2 0h3m1 0h5m4 0h2m15 0h2m-1453 1h2m15 0h2m7 0h7m2 0h2m5 0h2m4 0h2m392 0h2m1 0h2m14 0h2m3 0h6m4 0h5m1 0h6m1 0h4m2 0h4m1 0h2m3 0h2m7 0h2m4 0h2m1 0h2m3 0h2m3 0h4m291 0h2m34 0h4m3 0h2m1 0h2m3 0h2m15 0h2m45 0h2m6 0h11m1 0h11m3 0h3m345 0h2m6 0h3m7 0h7m13 0h6m2 0h2m2 0h2m4 0h2m7 0h2m1 0h2m11 0h2m1 0h2m1 0h2m1 0h4m6 0h7m1 0h3m2 0h2m11 0h2m-1447 1h2m2 0h4m5 0h8m4 0h2m2 0h2m11 0h2m410 0h2m4 0h6m6 0h3m5 0h4m4 0h5m2 0h6m6 0h2m5 0h2m1 0h2m2 0h2m6 0h2m291 0h2m17 0h2m4 0h2m16 0h2m4 0h2m11 0h2m49 0h7m1 0h11m3 0h5m2 0h6m1 0h2m339 0h2m13 0h2m1 0h2m3 0h6m1 0h2m31 0h2m7 0h2m1 0h2m6 0h2m3 0h5m1 0h7m6 0h4m1 0h2m1 0h4m1 0h2m-1447 1h2m11 0h2m2 0h4m5 0h15m1 0h2m403 0h2m7 0h2m9 0h5m1 0h4m13 0h8m3 0h5m2 0h6m5 0h3m7 0h7m318 0h2m4 0h2m22 0h2m8 0h2m1 0h2m46 0h2m1 0h2m1 0h4m1 0h2m3 0h3m1 0h2m2 0h10m1 0h4m6 0h2m333 0h2m16 0h2m3 0h2m5 0h3m17 0h2m25 0h2m4 0h2m3 0h5m2 0h3m8 0h8m3 0h2m3 0h2m8 0h2m-1459 1h2m15 0h2m15 0h7m406 0h2m7 0h2m11 0h3m10 0h2m1 0h2m3 0h9m4 0h2m6 0h4m2 0h6m6 0h2m1 0h3m339 0h2m4 0h2m12 0h2m3 0h2m42 0h4m2 0h6m4 0h4m2 0h14m1 0h7m3 0h2m4 0h2m346 0h2m9 0h3m2 0h2m1 0h2m2 0h2m6 0h2m24 0h5m4 0h2m1 0h2m1 0h2m2 0h2m5 0h2m1 0h4m1 0h7m5 0h3m7 0h2m-1442 1h2m1 0h2m4 0h2m7 0h2m428 0h2m2 0h2m9 0h22m1 0h2m3 0h2m1 0h4m2 0h2m1 0h3m16 0h2m314 0h2m17 0h2m3 0h3m17 0h2m42 0h2m4 0h2m2 0h2m3 0h11m1 0h3m1 0h4m2 0h2m1 0h4m1 0h2m6 0h2m346 0h2m6 0h2m1 0h2m1 0h4m1 0h6m6 0h2m24 0h2m1 0h3m1 0h5m3 0h2m9 0h6m5 0h4m6 0h2m2 0h2m-1434 1h2m4 0h2m7 0h2m425 0h2m1 0h2m2 0h4m7 0h2m1 0h2m1 0h7m1 0h3m2 0h3m6 0h2m1 0h4m6 0h5m13 0h2m314 0h3m21 0h2m6 0h2m67 0h10m1 0h2m2 0h11m1 0h3m2 0h3m7 0h2m14 0h2m333 0h2m1 0h2m4 0h2m5 0h2m38 0h2m1 0h5m3 0h5m7 0h5m5 0h4m10 0h4m-1436 1h2m5 0h2m1 0h3m12 0h2m401 0h3m10 0h3m7 0h4m6 0h2m12 0h3m8 0h4m8 0h3m2 0h3m11 0h2m317 0h2m9 0h2m18 0h2m2 0h2m6 0h4m51 0h10m3 0h15m2 0h9m5 0h2m14 0h2m333 0h2m3 0h2m54 0h2m5 0h6m2 0h2m2 0h4m7 0h2m11 0h3m-1457 1h2m26 0h2m1 0h3m12 0h2m401 0h3m9 0h3m10 0h2m5 0h3m6 0h2m5 0h3m7 0h5m1 0h2m2 0h5m15 0h3m328 0h2m22 0h2m6 0h4m43 0h3m5 0h2m3 0h5m2 0h16m1 0h7m1 0h2m361 0h2m12 0h4m31 0h2m5 0h2m5 0h6m2 0h2m5 0h2m2 0h2m1 0h3m11 0h2m-1456 1h2m7 0h4m12 0h3m431 0h4m11 0h3m4 0h3m6 0h2m6 0h4m8 0h2m1 0h7m1 0h4m12 0h2m408 0h3m2 0h2m4 0h8m1 0h7m1 0h6m3 0h3m3 0h2m5 0h2m344 0h2m6 0h2m16 0h4m2 0h2m9 0h2m4 0h4m6 0h4m5 0h6m2 0h4m2 0h2m6 0h6m1 0h3m16 0h2m-1452 1h5m11 0h3m431 0h2m13 0h3m5 0h2m1 0h4m11 0h2m6 0h5m2 0h10m423 0h2m2 0h2m1 0h2m1 0h2m2 0h4m1 0h7m1 0h2m3 0h2m3 0h2m3 0h2m5 0h2m339 0h2m3 0h2m4 0h4m2 0h2m18 0h2m5 0h2m2 0h2m4 0h5m5 0h2m7 0h9m1 0h3m1 0h2m1 0h4m3 0h2m22 0h2m-1450 1h3m16 0h2m444 0h2m4 0h2m1 0h7m16 0h7m3 0h4m350 0h2m81 0h2m1 0h2m2 0h4m1 0h6m2 0h9m354 0h2m7 0h4m4 0h2m1 0h3m7 0h2m12 0h2m1 0h2m6 0h4m5 0h3m10 0h5m2 0h5m1 0h4m1 0h2m2 0h2m2 0h3m3 0h2m-1443 1h2m22 0h2m14 0h2m404 0h2m7 0h2m1 0h2m6 0h3m1 0h2m11 0h3m8 0h2m11 0h2m9 0h2m19 0h2m310 0h2m13 0h2m81 0h2m1 0h3m1 0h7m2 0h9m2 0h2m6 0h4m351 0h4m3 0h2m4 0h3m7 0h2m3 0h2m10 0h2m15 0h5m4 0h2m1 0h13m1 0h7m1 0h3m2 0h3m3 0h2m-1443 1h2m38 0h2m404 0h2m7 0h2m1 0h2m6 0h3m6 0h2m6 0h2m5 0h7m21 0h2m3 0h2m14 0h2m310 0h2m96 0h2m2 0h2m3 0h14m4 0h2m4 0h6m351 0h2m5 0h2m12 0h4m3 0h2m15 0h2m9 0h2m1 0h5m2 0h2m1 0h3m1 0h5m2 0h9m2 0h3m7 0h5m1 0h2m-1424 1h2m16 0h2m423 0h2m6 0h2m7 0h2m4 0h4m1 0h2m4 0h2m19 0h3m426 0h2m1 0h2m2 0h2m1 0h11m3 0h4m3 0h2m1 0h3m372 0h2m5 0h2m2 0h2m11 0h2m9 0h2m1 0h2m1 0h2m5 0h3m1 0h4m4 0h6m7 0h2m1 0h2m2 0h5m1 0h2m10 0h2m-1460 1h2m22 0h2m16 0h2m423 0h2m15 0h2m5 0h2m8 0h2m16 0h2m1 0h2m359 0h2m53 0h2m11 0h6m1 0h8m1 0h3m1 0h10m5 0h2m355 0h3m10 0h2m13 0h2m16 0h2m12 0h4m1 0h3m1 0h5m1 0h2m4 0h3m1 0h2m1 0h7m20 0h2m-1460 1h2m37 0h2m18 0h2m430 0h2m26 0h2m362 0h2m53 0h2m5 0h2m5 0h2m1 0h2m3 0h6m5 0h5m2 0h3m8 0h2m351 0h4m10 0h4m29 0h2m8 0h2m1 0h5m2 0h2m1 0h5m1 0h2m4 0h3m1 0h2m1 0h2m1 0h2m11 0h2m-1421 1h2m8 0h3m18 0h2m378 0h2m25 0h2m15 0h2m13 0h2m2 0h4m17 0h2m7 0h2m411 0h2m14 0h6m5 0h4m1 0h3m9 0h2m344 0h2m5 0h2m14 0h2m19 0h2m7 0h2m9 0h2m1 0h4m1 0h4m2 0h4m4 0h2m1 0h2m7 0h3m11 0h2m-1421 1h2m8 0h2m399 0h2m25 0h2m15 0h2m2 0h2m9 0h2m2 0h4m3 0h2m12 0h2m7 0h2m326 0h2m100 0h2m1 0h2m2 0h2m1 0h3m2 0h3m6 0h2m344 0h2m1 0h2m25 0h3m14 0h2m4 0h2m1 0h2m2 0h2m1 0h2m10 0h2m4 0h4m3 0h3m10 0h2m-1416 1h2m444 0h2m8 0h2m10 0h2m15 0h2m3 0h2m2 0h2m345 0h2m92 0h2m2 0h5m2 0h2m2 0h4m10 0h2m1 0h2m344 0h2m4 0h2m22 0h4m19 0h2m4 0h3m1 0h2m10 0h3m4 0h2m4 0h2m1 0h2m11 0h3m-1420 1h2m444 0h2m8 0h2m27 0h2m5 0h4m347 0h2m87 0h5m2 0h6m5 0h4m10 0h2m353 0h2m24 0h2m25 0h4m11 0h4m4 0h2m2 0h4m1 0h2m9 0h5m-1419 1h2m10 0h2m424 0h2m32 0h2m17 0h2m349 0h2m87 0h3m7 0h4m4 0h4m4 0h2m14 0h2m398 0h2m11 0h2m10 0h4m1 0h2m4 0h2m3 0h2m-1416 1h2m10 0h2m420 0h2m2 0h2m18 0h2m12 0h2m4 0h2m6 0h2m2 0h2m435 0h2m3 0h2m8 0h5m1 0h5m4 0h2m14 0h2m407 0h3m13 0h2m7 0h4m9 0h2m-988 1h2m22 0h2m18 0h2m6 0h2m2 0h2m435 0h2m1 0h2m10 0h9m1 0h2m7 0h2m14 0h2m333 0h2m66 0h7m6 0h2m12 0h2m6 0h2m3 0h2m-492 1h2m2 0h2m5 0h7m1 0h2m1 0h2m7 0h2m14 0h2m333 0h2m18 0h2m46 0h2m3 0h2m6 0h2m20 0h2m-966 1h2m398 0h2m3 0h2m73 0h2m1 0h2m5 0h7m351 0h2m31 0h2m57 0h2m5 0h2m13 0h2m-964 1h2m398 0h2m3 0h2m73 0h2m24 0h2m4 0h2m2 0h2m330 0h2m49 0h2m20 0h2m17 0h2m5 0h2m10 0h2m1 0h2m-926 1h2m357 0h2m97 0h2m8 0h2m2 0h4m2 0h2m381 0h2m20 0h2m36 0h2m4 0h2m-929 1h2m357 0h2m83 0h2m9 0h2m1 0h2m4 0h2m1 0h2m3 0h2m449 0h2m2 0h2m-568 1h2m11 0h2m68 0h2m9 0h4m5 0h2m1 0h4m1 0h2m2 0h2m445 0h2m-564 1h2m11 0h2m68 0h2m4 0h4m3 0h2m10 0h2m5 0h2m367 0h2m15 0h2m-876 1h2m450 0h2m8 0h5m9 0h2m363 0h2m14 0h2m15 0h2m20 0h2m27 0h2m-1397 1h2m468 0h2m450 0h2m9 0h4m8 0h3m363 0h2m25 0h2m26 0h2m27 0h2m-1397 1h2m838 0h2m2 0h2m87 0h4m8 0h2m377 0h4m10 0h2m22 0h2m-524 1h2m2 0h2m89 0h2m3 0h2m377 0h2m3 0h4m18 0h2m14 0h2m36 0h2m-477 1h2m5 0h2m6 0h2m367 0h2m8 0h4m2 0h2m19 0h2m37 0h2m13 0h2m-477 1h2m5 0h2m370 0h2m3 0h2m10 0h2m62 0h2m-541 1h2m4 0h2m78 0h2m16 0h2m341 0h2m9 0h4m13 0h2m49 0h2m-570 1h2m34 0h2m4 0h2m4 0h2m70 0h2m6 0h2m16 0h2m341 0h2m11 0h2m13 0h2m49 0h2m-570 1h2m34 0h2m82 0h2m23 0h2m-2 1h2m362 0h2m52 0h2m-519 1h4m31 0h2m56 0h2m368 0h2m8 0h4m40 0h2m-519 1h4m31 0h2m56 0h2m378 0h4m-19 1h2m4 0h4m-1446 1h2m1434 0h4m2 0h4m-1446 1h2m1436 0h2m-471 1h2m-9 1h2m5 0h2m493 0h2m-504 1h2m18 0h2m8 0h2m464 0h2m4 0h2m-1451 1h2m965 0h2m8 0h2m464 0h2m14 0h2m-1461 1h2m1429 0h2m3 0h2m21 0h2m-48 1h2m16 0h2m3 0h2m15 0h2m15 0h2m-59 1h2m38 0h2m15 0h2m-532 1h2m24 0h2m476 0h2m5 0h2m-513 1h2m4 0h2m18 0h2m472 0h2m2 0h2m5 0h2m-513 1h2m4 0h2m18 0h2m472 0h2m-497 1h2m3 0h2m14 0h2m462 0h2m10 0h2m-507 1h2m6 0h2m3 0h2m478 0h2m10 0h2m-507 1h2m16 2h2m2 0h2m476 0h2m2 0h2m-488 1h2m2 0h2m470 0h2m4 0h2m2 0h2m-481 1h2m467 0h2m-476 1h2m3 0h2m-7 1h2m-5 2h2m-957 1h2m953 0h2m10 0h2m-969 1h2m965 0h2m486 0h2m-507 1h2m502 0h3m-508 1h3m502 0h2m-507 1h2m-7 1h2m-2 1h2m6 0h2m-2 1h2m15 2h2m-2 1h2m-14 2h2m-960 1h2m956 0h2m-960 1h2m956 0h2m-2 1h2m-1 1h2m-2 1h2m-26 1h2m20 0h2m-24 1h2m14 0h2m4 0h2m-8 1h2m8 2h2m-19 1h2m15 0h2m-19 1h2m-4 1h2m-2 1h2m-975 8h2m-2 1h2m1022 192h2m-2 1h2m10 1h2m-9 1h2m5 0h2m-15 1h2m4 0h2m8 0h2m-19 1h3m14 0h2m406 0h2m-427 1h4m421 0h2m-425 1h2m461 0h2m-478 1h2m2 0h2m10 0h2m458 0h2m-493 1h2m13 0h2m2 0h3m9 0h2m1 0h2m473 0h2m-511 1h2m15 0h2m1 0h2m4 0h2m3 0h2m1 0h3m472 0h2m-591 1h2m86 0h6m3 0h2m7 0h2m3 0h3m1 0h2m2 0h2m-121 1h2m86 0h6m12 0h2m4 0h2m5 0h2m429 0h2m-459 1h2m12 0h4m7 0h2m429 0h3m6 0h2m-468 1h3m1 0h2m4 0h2m3 0h4m7 0h2m429 0h2m7 0h2m-954 1h2m470 0h2m12 0h6m3 0h3m439 0h2m1 0h2m-942 1h2m470 0h2m13 0h3m4 0h3m440 0h2m1 0h2m40 0h2m-499 1h2m6 0h5m23 0h2m459 0h2m-508 1h2m7 0h7m1 0h2m1 0h2m23 0h2m-47 1h2m9 0h5m3 0h2m1 0h2m435 0h2m-467 1h2m1 0h2m2 0h2m1 0h2m1 0h2m1 0h2m2 0h4m1 0h2m1 0h2m435 0h2m7 0h2m-476 1h2m1 0h2m1 0h3m1 0h2m1 0h6m2 0h3m1 0h4m11 0h2m428 0h2m2 0h2m38 0h2m-535 1h2m22 0h4m1 0h2m1 0h3m1 0h2m1 0h3m1 0h6m10 0h2m428 0h2m14 0h2m26 0h2m7 0h2m-544 1h2m12 0h2m8 0h2m7 0h5m1 0h2m2 0h6m402 0h2m47 0h2m3 0h2m27 0h2m6 0h2m-530 1h2m11 0h2m2 0h6m7 0h2m405 0h2m39 0h2m6 0h3m5 0h2m1 0h2m8 0h2m11 0h2m-987 1h2m463 0h4m5 0h2m1 0h4m1 0h10m4 0h4m443 0h2m7 0h5m2 0h2m1 0h2m8 0h2m8 0h2m5 0h2m-991 1h2m465 0h2m2 0h2m1 0h7m1 0h11m2 0h5m454 0h3m15 0h3m1 0h2m4 0h2m5 0h2m12 0h2m-992 1h2m454 0h9m4 0h6m1 0h5m1 0h4m4 0h2m438 0h3m2 0h2m5 0h2m2 0h2m12 0h2m1 0h2m1 0h2m20 0h4m-1008 1h2m14 0h2m448 0h2m3 0h8m9 0h9m9 0h2m423 0h2m10 0h2m1 0h3m2 0h3m8 0h2m18 0h2m20 0h2m-1006 1h4m456 0h2m4 0h2m3 0h6m7 0h12m2 0h2m431 0h2m10 0h2m6 0h7m2 0h3m1 0h2m6 0h2m29 0h2m-1003 1h2m436 0h2m10 0h2m6 0h2m4 0h2m2 0h3m11 0h6m3 0h2m3 0h2m422 0h2m7 0h2m3 0h2m7 0h2m7 0h4m2 0h3m1 0h2m6 0h8m21 0h4m1 0h2m-568 1h2m10 0h2m16 0h2m2 0h2m2 0h4m3 0h2m1 0h7m427 0h2m12 0h2m7 0h2m13 0h2m12 0h6m21 0h2m3 0h2m-1023 1h2m419 0h2m35 0h2m16 0h2m2 0h3m1 0h7m1 0h5m4 0h9m5 0h2m431 0h2m12 0h6m12 0h2m16 0h2m-1000 1h2m419 0h2m27 0h2m2 0h2m2 0h2m4 0h2m7 0h2m1 0h2m1 0h11m1 0h6m2 0h5m1 0h3m7 0h2m431 0h2m12 0h6m5 0h2m5 0h2m1 0h4m1 0h2m2 0h3m2 0h3m-990 1h2m8 0h2m428 0h2m2 0h2m8 0h2m7 0h2m3 0h3m2 0h5m1 0h5m1 0h9m7 0h2m402 0h2m38 0h2m4 0h2m2 0h3m2 0h2m1 0h2m4 0h8m1 0h2m2 0h7m13 0h2m-1004 1h2m2 0h2m4 0h2m369 0h2m61 0h2m17 0h7m3 0h11m1 0h4m1 0h2m2 0h2m5 0h2m402 0h2m17 0h2m19 0h2m4 0h2m2 0h2m3 0h2m3 0h2m1 0h5m4 0h2m6 0h4m2 0h2m9 0h2m10 0h2m-1012 1h2m375 0h2m75 0h2m4 0h5m4 0h17m2 0h5m427 0h2m18 0h2m9 0h2m5 0h5m1 0h5m4 0h2m8 0h2m2 0h2m21 0h2m25 0h2m-1048 1h2m2 0h2m2 0h2m441 0h2m10 0h2m1 0h2m1 0h5m5 0h3m1 0h9m1 0h2m2 0h2m1 0h2m447 0h6m3 0h2m2 0h2m3 0h3m2 0h8m4 0h2m1 0h3m14 0h2m11 0h2m7 0h2m18 0h2m-1048 1h2m2 0h2m2 0h2m374 0h2m52 0h2m11 0h2m1 0h5m1 0h2m2 0h4m2 0h4m2 0h2m2 0h13m18 0h2m436 0h6m3 0h6m2 0h3m1 0h4m2 0h4m4 0h6m1 0h2m6 0h2m3 0h2m11 0h2m3 0h2m2 0h2m-644 1h2m52 0h2m13 0h6m1 0h3m1 0h2m4 0h2m1 0h5m1 0h2m1 0h4m1 0h6m18 0h3m419 0h2m9 0h4m1 0h2m2 0h2m5 0h2m4 0h3m1 0h2m2 0h2m8 0h3m2 0h6m4 0h2m5 0h2m14 0h2m-571 1h6m1 0h3m2 0h6m2 0h5m1 0h3m2 0h2m3 0h2m4 0h4m13 0h2m418 0h3m4 0h2m3 0h4m5 0h4m3 0h2m3 0h6m1 0h5m1 0h2m4 0h3m1 0h7m5 0h3m3 0h2m12 0h2m-1020 1h2m442 0h2m3 0h3m3 0h2m1 0h22m2 0h4m1 0h4m2 0h4m433 0h2m1 0h2m2 0h2m14 0h2m3 0h4m1 0h9m1 0h2m1 0h2m5 0h8m6 0h4m8 0h2m7 0h2m-1020 1h3m382 0h2m7 0h2m45 0h6m2 0h3m2 0h2m3 0h7m1 0h7m1 0h5m1 0h5m3 0h2m398 0h2m11 0h2m29 0h2m11 0h2m7 0h2m1 0h8m3 0h2m1 0h2m1 0h4m2 0h2m1 0h2m2 0h3m3 0h2m1 0h2m3 0h2m5 0h2m23 0h2m-1035 1h2m382 0h2m7 0h2m45 0h6m6 0h3m5 0h12m2 0h5m1 0h3m1 0h2m402 0h2m11 0h2m32 0h2m8 0h4m5 0h2m1 0h8m1 0h7m1 0h4m2 0h2m1 0h2m5 0h2m1 0h3m5 0h2m8 0h2m20 0h2m-1051 1h2m9 0h2m408 0h2m45 0h2m2 0h8m1 0h13m4 0h6m423 0h2m22 0h2m4 0h2m4 0h3m4 0h7m5 0h8m1 0h2m1 0h4m1 0h4m1 0h8m8 0h2m5 0h2m3 0h2m-1034 1h2m9 0h2m408 0h2m2 0h2m4 0h2m27 0h4m1 0h2m1 0h2m2 0h4m1 0h17m1 0h5m1 0h3m423 0h2m21 0h2m5 0h2m3 0h4m1 0h2m1 0h8m1 0h3m3 0h5m1 0h15m1 0h5m5 0h2m1 0h2m10 0h2m-1035 1h2m7 0h2m415 0h2m4 0h2m22 0h2m1 0h6m1 0h5m2 0h3m1 0h18m1 0h3m3 0h2m426 0h2m9 0h2m8 0h2m3 0h2m5 0h3m2 0h2m1 0h2m2 0h8m1 0h2m3 0h13m1 0h2m1 0h2m3 0h2m5 0h4m2 0h3m-1027 1h2m4 0h2m1 0h2m411 0h2m32 0h2m1 0h4m3 0h5m1 0h14m1 0h12m431 0h2m9 0h2m13 0h2m6 0h2m3 0h4m2 0h2m1 0h9m1 0h6m2 0h4m6 0h7m3 0h2m1 0h3m2 0h3m-1035 1h2m12 0h2m4 0h2m390 0h2m15 0h3m2 0h2m14 0h2m2 0h2m12 0h2m3 0h2m1 0h22m1 0h9m1 0h3m428 0h4m5 0h2m13 0h2m9 0h4m4 0h5m1 0h3m1 0h5m6 0h4m5 0h2m1 0h5m1 0h6m2 0h2m8 0h2m5 0h2m-1049 1h2m3 0h2m9 0h2m2 0h2m383 0h2m5 0h2m14 0h3m3 0h2m13 0h3m2 0h2m7 0h2m1 0h46m428 0h4m5 0h3m6 0h2m4 0h2m3 0h2m4 0h2m1 0h2m1 0h8m1 0h3m1 0h3m1 0h9m1 0h2m3 0h3m3 0h5m2 0h2m2 0h3m1 0h2m4 0h2m5 0h2m-1044 1h2m9 0h2m387 0h2m21 0h2m19 0h6m8 0h2m1 0h2m1 0h4m1 0h25m1 0h6m1 0h3m26 0h2m381 0h2m23 0h2m1 0h2m1 0h2m1 0h2m3 0h2m9 0h3m2 0h3m1 0h2m1 0h9m1 0h5m2 0h12m4 0h2m3 0h6m1 0h3m2 0h2m1 0h2m-1033 1h2m6 0h2m424 0h2m4 0h2m6 0h4m11 0h7m1 0h10m2 0h13m1 0h5m1 0h4m4 0h2m5 0h2m13 0h2m362 0h2m17 0h2m23 0h2m1 0h2m4 0h2m13 0h9m4 0h2m1 0h3m1 0h4m1 0h4m2 0h6m1 0h4m1 0h6m3 0h2m1 0h2m1 0h6m34 0h2m-1065 1h2m6 0h3m400 0h2m21 0h2m4 0h2m5 0h3m4 0h2m9 0h27m1 0h12m6 0h2m5 0h2m377 0h2m33 0h2m8 0h2m3 0h2m16 0h9m1 0h8m2 0h4m3 0h2m2 0h3m1 0h2m1 0h11m5 0h2m3 0h9m30 0h2m-1060 1h2m2 0h2m400 0h2m14 0h2m1 0h2m15 0h3m4 0h2m5 0h42m5 0h2m386 0h3m23 0h2m8 0h2m8 0h4m1 0h2m1 0h2m1 0h2m3 0h5m1 0h2m2 0h6m1 0h7m2 0h2m1 0h3m1 0h3m1 0h2m3 0h2m5 0h5m2 0h2m3 0h9m1 0h4m-1032 1h2m2 0h2m5 0h2m397 0h4m12 0h2m1 0h2m14 0h2m3 0h2m8 0h41m2 0h2m2 0h2m5 0h2m375 0h2m2 0h2m7 0h2m3 0h2m10 0h2m20 0h2m4 0h2m1 0h10m1 0h2m4 0h4m4 0h4m2 0h3m1 0h2m1 0h6m3 0h2m1 0h5m1 0h2m1 0h4m5 0h4m4 0h2m5 0h2m8 0h2m-1050 1h2m1 0h2m2 0h2m5 0h2m399 0h2m31 0h2m3 0h2m3 0h2m1 0h2m1 0h6m1 0h31m2 0h4m1 0h4m1 0h2m1 0h2m375 0h2m11 0h2m3 0h2m16 0h2m12 0h2m5 0h3m3 0h10m4 0h9m1 0h4m2 0h2m1 0h4m1 0h5m2 0h8m1 0h2m1 0h4m7 0h2m11 0h2m8 0h2m2 0h2m-1054 1h2m2 0h5m432 0h3m14 0h2m1 0h42m1 0h4m1 0h7m360 0h2m11 0h2m27 0h2m1 0h2m7 0h2m8 0h2m2 0h3m4 0h5m1 0h2m1 0h7m4 0h9m1 0h4m1 0h3m1 0h12m1 0h9m1 0h5m2 0h2m2 0h2m26 0h2m-1058 1h2m6 0h3m417 0h2m3 0h2m1 0h2m7 0h3m2 0h2m13 0h42m3 0h2m4 0h3m361 0h2m11 0h2m26 0h3m1 0h2m6 0h2m9 0h2m2 0h3m7 0h2m1 0h2m1 0h3m2 0h4m1 0h10m1 0h10m2 0h12m1 0h6m1 0h4m3 0h2m2 0h2m4 0h2m-1037 1h3m414 0h2m10 0h2m3 0h2m1 0h3m6 0h2m1 0h4m13 0h6m3 0h32m4 0h3m392 0h2m12 0h4m3 0h2m5 0h2m10 0h2m11 0h2m1 0h2m1 0h4m1 0h13m1 0h25m2 0h7m6 0h2m1 0h2m6 0h4m29 0h2m-1076 1h2m4 0h2m5 0h2m1 0h2m405 0h2m15 0h2m1 0h4m4 0h3m1 0h3m2 0h2m4 0h2m4 0h6m3 0h32m1 0h2m2 0h2m392 0h2m3 0h2m2 0h2m3 0h5m2 0h2m8 0h2m2 0h2m2 0h3m2 0h5m3 0h3m1 0h2m1 0h11m1 0h25m2 0h9m3 0h3m5 0h2m1 0h2m2 0h3m3 0h2m3 0h2m24 0h2m-1076 1h2m7 0h6m1 0h2m4 0h2m399 0h2m9 0h3m3 0h2m3 0h2m4 0h2m7 0h2m4 0h3m1 0h2m1 0h3m3 0h37m2 0h2m397 0h2m2 0h2m5 0h3m2 0h2m5 0h5m2 0h3m1 0h3m2 0h5m3 0h2m1 0h3m1 0h11m3 0h2m1 0h13m1 0h5m3 0h17m1 0h4m1 0h2m2 0h3m8 0h2m20 0h2m-1066 1h2m1 0h4m9 0h2m410 0h3m10 0h2m1 0h4m1 0h3m2 0h2m1 0h2m1 0h3m1 0h5m3 0h26m1 0h11m396 0h2m1 0h2m9 0h4m1 0h2m2 0h3m2 0h6m2 0h2m2 0h2m2 0h5m2 0h2m1 0h4m2 0h2m5 0h2m4 0h2m1 0h6m2 0h4m2 0h6m3 0h16m1 0h4m1 0h2m2 0h3m2 0h2m26 0h2m-1066 1h2m385 0h2m1 0h2m37 0h2m2 0h2m6 0h2m1 0h8m1 0h3m1 0h6m1 0h4m2 0h42m356 0h2m36 0h2m1 0h2m7 0h4m3 0h2m2 0h3m1 0h2m1 0h29m1 0h5m2 0h2m2 0h5m3 0h19m1 0h2m1 0h6m2 0h6m9 0h8m-1061 1h2m14 0h4m389 0h2m1 0h2m25 0h2m5 0h2m3 0h2m2 0h2m3 0h2m7 0h2m1 0h5m3 0h37m2 0h16m11 0h2m342 0h2m24 0h2m5 0h2m1 0h2m2 0h5m3 0h4m5 0h5m3 0h14m1 0h2m1 0h14m1 0h6m1 0h2m1 0h6m3 0h8m1 0h17m1 0h10m4 0h2m3 0h2m1 0h2m1 0h2m1 0h2m3 0h3m-1070 1h2m8 0h3m1 0h6m5 0h2m412 0h2m1 0h2m2 0h2m3 0h4m1 0h2m2 0h3m2 0h2m3 0h2m1 0h6m5 0h5m1 0h45m11 0h2m359 0h2m7 0h2m1 0h3m1 0h2m1 0h3m1 0h5m2 0h3m2 0h2m5 0h3m1 0h2m2 0h14m2 0h2m1 0h5m1 0h12m1 0h6m2 0h12m3 0h7m1 0h7m1 0h6m1 0h2m5 0h2m6 0h2m4 0h4m1 0h3m17 0h2m-1122 1h2m41 0h3m1 0h3m1 0h4m3 0h2m396 0h2m14 0h2m1 0h2m1 0h2m4 0h4m1 0h2m3 0h2m2 0h2m3 0h2m2 0h5m2 0h2m1 0h4m4 0h41m372 0h4m3 0h2m5 0h3m5 0h18m1 0h9m4 0h17m3 0h2m1 0h2m2 0h15m1 0h9m1 0h2m1 0h8m1 0h22m2 0h2m6 0h2m6 0h2m21 0h2m-1122 1h2m44 0h4m2 0h3m401 0h2m20 0h2m4 0h3m3 0h8m1 0h2m2 0h2m1 0h10m1 0h5m3 0h36m1 0h2m1 0h2m362 0h2m7 0h2m5 0h3m7 0h2m2 0h6m3 0h10m1 0h13m1 0h7m2 0h21m1 0h10m1 0h8m5 0h6m2 0h15m1 0h2m2 0h3m9 0h3m1 0h2m3 0h2m-1086 1h2m31 0h5m8 0h2m414 0h2m8 0h2m1 0h7m1 0h2m1 0h5m1 0h10m5 0h3m2 0h27m2 0h2m9 0h2m1 0h2m351 0h2m6 0h2m12 0h2m1 0h2m7 0h2m1 0h7m1 0h8m1 0h8m1 0h2m2 0h17m1 0h18m1 0h17m4 0h8m2 0h2m1 0h2m2 0h2m1 0h8m5 0h2m1 0h2m4 0h2m2 0h2m-1081 1h2m17 0h2m13 0h4m3 0h2m3 0h2m369 0h2m8 0h2m28 0h2m3 0h2m5 0h2m3 0h8m2 0h10m1 0h6m4 0h24m1 0h2m1 0h2m2 0h3m1 0h4m10 0h2m3 0h2m346 0h2m20 0h2m1 0h4m1 0h2m5 0h10m1 0h5m1 0h4m1 0h8m1 0h16m3 0h5m1 0h28m2 0h10m1 0h5m2 0h12m3 0h4m1 0h2m2 0h2m1 0h2m9 0h2m-1070 1h3m1 0h2m9 0h9m1 0h4m369 0h2m8 0h2m3 0h2m2 0h2m18 0h3m1 0h2m7 0h2m3 0h2m2 0h5m1 0h6m1 0h12m1 0h3m1 0h24m1 0h7m2 0h4m1 0h2m11 0h2m354 0h2m17 0h19m1 0h6m1 0h3m1 0h20m1 0h13m1 0h34m1 0h4m2 0h5m2 0h6m1 0h5m1 0h8m3 0h2m1 0h2m9 0h2m-1069 1h2m1 0h2m2 0h2m4 0h2m2 0h10m384 0h3m2 0h2m1 0h2m4 0h2m9 0h2m2 0h2m1 0h4m2 0h2m8 0h4m2 0h7m1 0h3m2 0h2m1 0h2m1 0h3m1 0h34m2 0h5m3 0h2m356 0h2m2 0h4m5 0h2m1 0h2m2 0h2m1 0h5m2 0h21m1 0h8m1 0h56m1 0h10m1 0h4m6 0h5m2 0h5m1 0h8m5 0h2m4 0h2m-1065 1h2m5 0h4m1 0h2m1 0h2m2 0h2m1 0h7m383 0h3m2 0h2m2 0h2m4 0h2m14 0h6m2 0h2m6 0h20m1 0h6m4 0h20m1 0h15m2 0h2m4 0h2m356 0h2m2 0h2m1 0h2m3 0h3m1 0h2m2 0h8m5 0h12m3 0h11m2 0h19m1 0h15m1 0h20m3 0h6m3 0h7m1 0h2m1 0h4m1 0h3m1 0h9m5 0h4m2 0h4m-1089 1h2m8 0h2m12 0h2m4 0h5m1 0h4m4 0h4m1 0h4m376 0h6m1 0h2m3 0h2m16 0h2m1 0h2m3 0h3m3 0h2m1 0h2m1 0h2m2 0h10m2 0h17m1 0h11m1 0h3m1 0h5m1 0h11m1 0h9m354 0h2m6 0h2m3 0h2m3 0h2m1 0h2m5 0h2m2 0h5m3 0h69m1 0h35m1 0h7m3 0h2m4 0h2m5 0h2m4 0h2m4 0h2m3 0h2m2 0h2m-1140 1h2m36 0h2m8 0h2m17 0h3m2 0h6m4 0h4m1 0h2m376 0h8m11 0h2m1 0h2m8 0h2m1 0h2m3 0h4m1 0h3m1 0h2m1 0h3m3 0h27m1 0h21m1 0h3m1 0h3m1 0h3m1 0h2m1 0h2m2 0h2m6 0h2m346 0h2m6 0h2m11 0h2m5 0h9m2 0h2m1 0h8m1 0h95m1 0h10m6 0h2m4 0h2m10 0h2m3 0h2m2 0h2m-1140 1h2m65 0h9m389 0h2m17 0h2m1 0h2m9 0h4m3 0h4m1 0h2m2 0h2m1 0h3m1 0h5m1 0h18m1 0h10m2 0h3m1 0h13m1 0h7m17 0h2m362 0h2m4 0h3m1 0h112m2 0h6m1 0h2m1 0h9m3 0h5m2 0h2m-1055 1h11m1 0h2m1 0h2m365 0h2m9 0h2m9 0h2m9 0h2m1 0h4m12 0h2m1 0h2m5 0h2m9 0h7m1 0h48m1 0h7m1 0h3m349 0h2m8 0h2m16 0h4m2 0h3m1 0h4m2 0h2m1 0h7m1 0h101m1 0h4m1 0h9m3 0h5m2 0h2m22 0h2m-1099 1h2m17 0h6m1 0h5m1 0h5m365 0h2m9 0h2m9 0h2m1 0h2m6 0h2m1 0h7m1 0h2m3 0h2m4 0h2m5 0h2m4 0h2m3 0h2m2 0h45m3 0h4m1 0h3m2 0h7m348 0h2m8 0h2m8 0h4m6 0h3m2 0h3m3 0h2m1 0h2m1 0h114m1 0h2m1 0h2m2 0h2m1 0h2m1 0h2m6 0h2m20 0h2m-1099 1h2m11 0h2m3 0h6m1 0h2m2 0h2m3 0h2m2 0h3m368 0h2m3 0h2m8 0h2m1 0h2m2 0h2m7 0h10m1 0h2m6 0h6m5 0h2m1 0h44m1 0h2m2 0h2m1 0h2m1 0h3m4 0h9m368 0h4m7 0h2m3 0h2m1 0h4m1 0h117m3 0h3m1 0h2m2 0h2m6 0h2m1 0h2m-1065 1h3m1 0h4m1 0h3m1 0h2m2 0h3m1 0h2m2 0h4m1 0h2m5 0h2m358 0h2m3 0h2m8 0h2m1 0h6m8 0h2m2 0h5m3 0h2m4 0h6m1 0h2m3 0h46m1 0h2m5 0h2m1 0h4m2 0h9m3 0h2m375 0h7m1 0h2m2 0h113m1 0h5m2 0h3m1 0h2m10 0h2m38 0h2m-1102 1h2m2 0h4m1 0h7m2 0h2m1 0h3m1 0h2m3 0h2m5 0h2m348 0h2m8 0h2m6 0h2m10 0h2m2 0h2m5 0h3m1 0h3m1 0h2m1 0h4m11 0h2m3 0h48m2 0h3m1 0h7m1 0h5m1 0h4m3 0h2m373 0h2m1 0h7m2 0h126m8 0h2m7 0h2m34 0h2m-1115 1h2m14 0h4m1 0h8m1 0h7m363 0h2m8 0h2m6 0h2m14 0h2m5 0h7m1 0h2m1 0h2m2 0h2m3 0h2m8 0h54m3 0h5m1 0h5m375 0h2m3 0h2m1 0h2m1 0h8m1 0h125m9 0h2m5 0h6m4 0h2m-1109 1h2m7 0h4m9 0h2m14 0h4m1 0h4m5 0h8m380 0h2m13 0h4m4 0h5m3 0h5m2 0h2m3 0h2m5 0h2m1 0h44m1 0h8m1 0h7m1 0h2m1 0h2m372 0h2m2 0h2m3 0h2m2 0h4m2 0h125m1 0h7m1 0h2m8 0h4m2 0h2m4 0h2m-1109 1h2m6 0h5m21 0h8m1 0h3m1 0h2m3 0h8m380 0h2m6 0h2m1 0h2m2 0h4m4 0h6m1 0h5m12 0h10m1 0h54m3 0h2m375 0h2m11 0h131m1 0h2m1 0h7m3 0h2m3 0h2m-1089 1h2m6 0h2m7 0h4m3 0h6m2 0h6m1 0h2m4 0h4m1 0h2m388 0h2m1 0h2m2 0h3m4 0h4m1 0h2m1 0h5m1 0h5m2 0h14m1 0h52m10 0h2m8 0h2m355 0h2m8 0h4m3 0h7m2 0h125m1 0h3m1 0h2m3 0h4m-1077 1h4m2 0h2m2 0h4m3 0h2m3 0h2m2 0h2m2 0h2m5 0h5m1 0h4m363 0h2m3 0h3m11 0h4m3 0h2m1 0h6m1 0h3m2 0h3m7 0h12m7 0h5m1 0h53m6 0h2m3 0h2m3 0h2m355 0h2m8 0h4m3 0h6m6 0h114m1 0h7m1 0h3m1 0h3m1 0h3m-1085 1h2m8 0h4m2 0h4m7 0h2m2 0h3m3 0h2m1 0h3m4 0h2m3 0h5m358 0h2m3 0h2m3 0h3m5 0h2m1 0h2m1 0h4m2 0h3m1 0h2m2 0h2m1 0h2m1 0h4m13 0h2m3 0h2m7 0h5m1 0h43m2 0h8m11 0h5m374 0h3m1 0h4m3 0h115m3 0h6m4 0h3m1 0h2m9 0h2m-1102 1h4m3 0h2m2 0h2m6 0h2m4 0h2m5 0h4m2 0h2m4 0h2m2 0h4m5 0h7m358 0h2m3 0h2m11 0h2m1 0h2m1 0h14m6 0h3m2 0h2m4 0h4m4 0h6m5 0h47m1 0h2m1 0h4m3 0h2m4 0h2m6 0h4m364 0h2m8 0h3m1 0h4m3 0h121m1 0h4m2 0h2m1 0h2m1 0h2m7 0h2m2 0h2m2 0h2m-1110 1h4m7 0h2m6 0h4m2 0h4m3 0h4m2 0h3m5 0h3m1 0h2m5 0h2m382 0h2m2 0h3m1 0h11m1 0h3m3 0h2m2 0h4m2 0h6m2 0h6m3 0h52m1 0h6m3 0h2m2 0h2m11 0h2m361 0h2m14 0h127m2 0h2m5 0h2m1 0h2m11 0h2m2 0h2m-1115 1h2m2 0h2m6 0h2m7 0h4m1 0h2m1 0h5m4 0h2m2 0h4m1 0h7m7 0h2m376 0h3m1 0h2m1 0h10m1 0h3m2 0h7m6 0h7m1 0h5m2 0h2m3 0h2m2 0h55m1 0h3m2 0h3m3 0h2m2 0h2m6 0h2m378 0h6m1 0h122m11 0h2m7 0h2m-1109 1h2m2 0h2m4 0h4m7 0h6m2 0h2m2 0h2m3 0h2m2 0h2m3 0h4m10 0h2m376 0h6m2 0h3m2 0h6m3 0h9m3 0h5m2 0h2m1 0h4m1 0h4m2 0h3m2 0h2m1 0h56m1 0h3m2 0h4m2 0h2m2 0h2m8 0h2m372 0h117m2 0h5m2 0h3m4 0h2m4 0h3m7 0h2m8 0h2m-1112 1h2m1 0h2m1 0h3m5 0h3m1 0h6m2 0h2m6 0h6m2 0h2m1 0h2m372 0h2m13 0h3m3 0h3m3 0h7m1 0h11m1 0h2m11 0h4m1 0h2m1 0h2m6 0h2m2 0h52m1 0h4m1 0h3m7 0h2m8 0h2m365 0h4m5 0h115m1 0h6m2 0h2m5 0h2m3 0h3m18 0h2m-1114 1h7m1 0h5m3 0h3m1 0h6m1 0h16m1 0h2m1 0h2m2 0h2m3 0h2m363 0h4m6 0h4m1 0h2m4 0h4m2 0h2m2 0h3m3 0h3m3 0h3m1 0h2m11 0h2m3 0h2m11 0h52m1 0h2m1 0h6m6 0h2m6 0h2m16 0h2m351 0h4m2 0h2m2 0h2m1 0h3m2 0h102m1 0h7m5 0h2m2 0h3m5 0h2m17 0h2m-1126 1h2m12 0h2m2 0h6m1 0h12m2 0h11m1 0h6m1 0h2m5 0h2m3 0h2m1 0h2m7 0h2m347 0h2m4 0h2m6 0h4m1 0h2m3 0h5m2 0h2m2 0h2m5 0h3m5 0h3m20 0h65m1 0h4m1 0h2m4 0h2m6 0h2m16 0h2m357 0h2m4 0h4m2 0h109m6 0h2m2 0h3m24 0h2m2 0h2m-1141 1h2m9 0h2m15 0h39m1 0h3m13 0h2m7 0h2m347 0h2m7 0h2m3 0h3m7 0h3m3 0h5m8 0h2m5 0h2m3 0h3m12 0h2m1 0h10m1 0h2m1 0h46m1 0h7m2 0h3m1 0h2m378 0h2m12 0h3m3 0h2m1 0h2m2 0h12m1 0h89m2 0h3m1 0h2m1 0h2m30 0h2m-1141 1h2m8 0h2m9 0h2m5 0h8m1 0h33m14 0h2m365 0h2m1 0h7m1 0h2m6 0h4m1 0h2m8 0h2m10 0h3m9 0h5m9 0h2m1 0h53m1 0h3m2 0h8m364 0h2m5 0h2m3 0h2m6 0h10m4 0h3m2 0h57m1 0h44m2 0h3m1 0h2m1 0h2m11 0h3m-1113 1h2m8 0h3m3 0h2m1 0h5m1 0h27m1 0h7m8 0h2m362 0h2m10 0h4m1 0h2m1 0h2m6 0h5m10 0h6m7 0h2m9 0h4m10 0h60m2 0h5m1 0h2m364 0h4m3 0h2m6 0h2m3 0h7m1 0h3m2 0h5m1 0h19m2 0h81m5 0h2m8 0h2m5 0h3m-1103 1h2m1 0h6m2 0h36m1 0h2m2 0h2m4 0h2m4 0h2m356 0h2m11 0h5m2 0h2m7 0h8m7 0h5m3 0h2m2 0h4m7 0h2m3 0h2m1 0h2m2 0h8m1 0h44m3 0h6m1 0h3m371 0h3m11 0h2m5 0h6m1 0h2m1 0h15m1 0h2m1 0h20m1 0h50m1 0h3m1 0h3m3 0h7m1 0h3m1 0h4m3 0h2m2 0h2m14 0h2m-1111 1h2m1 0h7m1 0h32m1 0h3m5 0h2m1 0h2m1 0h2m4 0h2m359 0h2m11 0h2m2 0h2m5 0h3m3 0h4m8 0h3m1 0h2m1 0h2m3 0h3m7 0h2m2 0h3m1 0h2m2 0h2m3 0h60m4 0h2m362 0h2m2 0h2m12 0h2m5 0h6m2 0h4m4 0h4m2 0h3m1 0h21m1 0h51m1 0h5m4 0h9m1 0h3m1 0h4m3 0h2m18 0h2m-1112 1h3m1 0h40m1 0h4m3 0h2m2 0h2m5 0h2m361 0h3m5 0h5m9 0h5m3 0h2m10 0h6m6 0h2m6 0h2m4 0h2m10 0h56m1 0h2m6 0h2m1 0h2m1 0h2m3 0h4m349 0h2m16 0h2m3 0h2m2 0h3m3 0h4m4 0h2m2 0h27m1 0h7m1 0h36m2 0h5m1 0h5m4 0h2m1 0h2m1 0h2m2 0h2m9 0h2m30 0h2m-1134 1h2m8 0h4m1 0h4m2 0h38m3 0h4m4 0h2m1 0h2m362 0h2m2 0h2m1 0h7m3 0h6m8 0h2m1 0h2m6 0h3m16 0h2m3 0h2m4 0h2m5 0h56m11 0h3m1 0h2m3 0h4m362 0h2m5 0h5m3 0h2m2 0h3m4 0h4m2 0h14m2 0h6m1 0h4m1 0h5m2 0h2m1 0h11m1 0h2m1 0h11m2 0h3m1 0h13m12 0h2m13 0h2m30 0h2m-1134 1h2m5 0h2m3 0h2m3 0h2m2 0h39m2 0h4m4 0h2m369 0h2m6 0h2m1 0h9m7 0h5m5 0h3m14 0h2m3 0h2m1 0h2m4 0h5m1 0h56m1 0h4m1 0h2m4 0h2m373 0h2m1 0h2m2 0h3m8 0h4m3 0h6m2 0h12m2 0h4m2 0h2m1 0h2m1 0h7m1 0h2m1 0h14m1 0h8m1 0h2m5 0h14m2 0h2m2 0h2m3 0h3m2 0h2m-1085 1h3m5 0h46m2 0h2m6 0h2m21 0h2m323 0h2m16 0h4m12 0h2m1 0h2m2 0h2m8 0h2m4 0h2m1 0h2m13 0h4m3 0h2m1 0h2m4 0h70m382 0h2m13 0h2m5 0h12m1 0h2m1 0h2m2 0h5m3 0h5m1 0h10m1 0h3m1 0h10m1 0h6m4 0h2m2 0h4m3 0h2m1 0h4m2 0h4m2 0h2m3 0h3m2 0h2m8 0h2m-1100 1h2m3 0h2m4 0h52m29 0h2m323 0h2m16 0h4m1 0h3m15 0h2m14 0h2m13 0h2m1 0h2m8 0h2m4 0h61m1 0h3m2 0h4m397 0h2m5 0h10m1 0h3m5 0h5m4 0h4m2 0h5m1 0h7m1 0h9m2 0h3m1 0h2m2 0h4m2 0h3m3 0h4m1 0h10m2 0h4m4 0h2m8 0h3m-1100 1h2m5 0h2m2 0h2m3 0h49m21 0h2m352 0h3m1 0h2m16 0h2m25 0h2m17 0h2m1 0h58m1 0h3m4 0h2m19 0h2m365 0h2m9 0h2m7 0h4m5 0h2m7 0h5m3 0h4m3 0h6m2 0h7m5 0h7m5 0h3m4 0h2m1 0h7m2 0h3m3 0h2m2 0h4m4 0h2m7 0h3m12 0h2m4 0h2m-1123 1h2m4 0h3m2 0h2m5 0h46m1 0h5m3 0h2m11 0h2m2 0h3m355 0h2m12 0h2m2 0h2m2 0h2m2 0h2m36 0h2m2 0h2m2 0h60m1 0h2m7 0h2m10 0h2m353 0h2m10 0h2m2 0h2m14 0h4m6 0h2m6 0h5m3 0h4m4 0h6m2 0h6m2 0h2m1 0h8m8 0h2m1 0h2m1 0h7m2 0h2m4 0h4m10 0h2m2 0h2m1 0h2m2 0h2m9 0h2m4 0h2m-1123 1h2m4 0h3m1 0h7m1 0h53m2 0h2m6 0h2m3 0h2m3 0h2m334 0h2m9 0h2m16 0h2m4 0h2m6 0h2m2 0h2m11 0h2m2 0h2m1 0h2m16 0h7m5 0h59m5 0h4m363 0h4m14 0h2m10 0h2m12 0h4m7 0h2m4 0h5m2 0h15m1 0h2m3 0h6m5 0h2m1 0h12m9 0h4m1 0h2m7 0h2m2 0h2m3 0h4m-1099 1h2m1 0h61m10 0h2m344 0h2m7 0h4m16 0h2m29 0h2m2 0h2m1 0h2m17 0h6m2 0h54m5 0h3m5 0h2m365 0h2m28 0h2m6 0h2m2 0h2m2 0h2m5 0h2m1 0h2m2 0h2m1 0h3m2 0h2m2 0h4m1 0h3m1 0h6m2 0h7m2 0h4m3 0h5m3 0h3m2 0h2m2 0h4m3 0h2m16 0h2m-1108 1h2m9 0h2m3 0h2m3 0h46m1 0h5m357 0h2m8 0h2m7 0h2m28 0h2m2 0h2m39 0h54m1 0h2m3 0h2m3 0h2m4 0h2m386 0h2m7 0h2m3 0h2m2 0h2m9 0h2m1 0h6m2 0h2m5 0h3m3 0h3m1 0h10m2 0h8m3 0h2m2 0h2m4 0h2m2 0h2m2 0h4m13 0h2m6 0h2m-1108 1h2m9 0h2m3 0h3m3 0h47m1 0h2m2 0h2m2 0h4m348 0h2m17 0h2m7 0h2m19 0h2m2 0h2m29 0h2m7 0h4m1 0h50m1 0h2m8 0h2m4 0h2m381 0h2m3 0h2m7 0h2m3 0h2m14 0h2m2 0h2m2 0h2m2 0h2m3 0h2m8 0h2m4 0h4m2 0h2m1 0h2m4 0h4m7 0h2m7 0h2m4 0h2m9 0h2m-1083 1h2m3 0h54m2 0h4m369 0h2m5 0h2m54 0h2m7 0h4m3 0h48m2 0h4m2 0h2m4 0h5m1 0h2m8 0h2m368 0h2m12 0h2m3 0h6m3 0h2m5 0h3m5 0h2m2 0h2m2 0h2m9 0h2m2 0h2m3 0h2m4 0h2m4 0h4m2 0h2m2 0h3m5 0h2m6 0h2m-1202 1h2m125 0h3m3 0h54m6 0h2m369 0h2m17 0h2m2 0h2m14 0h2m30 0h4m2 0h3m1 0h52m1 0h4m1 0h6m2 0h2m8 0h2m387 0h6m3 0h6m2 0h4m4 0h2m3 0h5m1 0h3m4 0h2m2 0h2m3 0h2m4 0h2m1 0h4m2 0h2m1 0h2m2 0h2m6 0h2m4 0h2m20 0h2m-1222 1h2m59 0h2m64 0h3m3 0h49m11 0h2m384 0h2m2 0h2m2 0h2m6 0h2m6 0h2m15 0h2m6 0h2m5 0h4m2 0h54m3 0h8m8 0h2m389 0h2m13 0h5m4 0h4m2 0h2m2 0h3m1 0h2m1 0h3m22 0h4m2 0h2m11 0h2m6 0h2m15 0h2m3 0h2m-1161 1h2m61 0h2m8 0h48m3 0h2m2 0h2m12 0h2m353 0h2m19 0h2m14 0h2m23 0h2m6 0h2m2 0h2m7 0h49m1 0h6m1 0h7m9 0h2m389 0h2m24 0h2m6 0h2m49 0h2m23 0h2m-1093 1h2m8 0h45m1 0h7m2 0h2m12 0h2m353 0h2m53 0h2m17 0h2m3 0h2m2 0h56m1 0h2m15 0h2m414 0h2m6 0h2m-1010 1h5m2 0h49m383 0h2m41 0h2m1 0h2m19 0h2m1 0h3m3 0h49m10 0h2m8 0h2m20 0h2m385 0h2m12 0h3m4 0h2m6 0h2m4 0h2m9 0h2m16 0h2m-1060 1h4m2 0h46m3 0h2m374 0h2m7 0h2m44 0h2m22 0h2m3 0h44m1 0h7m3 0h2m3 0h2m30 0h2m385 0h2m12 0h2m5 0h2m4 0h4m4 0h3m8 0h2m16 0h2m-1060 1h2m1 0h2m1 0h2m1 0h40m1 0h2m3 0h2m366 0h4m4 0h2m25 0h2m43 0h2m9 0h45m2 0h7m2 0h2m449 0h2m2 0h2m3 0h2m-1038 1h2m7 0h2m3 0h41m3 0h2m1 0h2m366 0h4m31 0h2m43 0h2m6 0h2m1 0h2m1 0h46m1 0h4m3 0h3m2 0h3m10 0h3m3 0h2m352 0h2m43 0h2m17 0h2m10 0h2m15 0h2m-1050 1h2m9 0h46m1 0h2m3 0h2m452 0h2m3 0h45m3 0h5m2 0h3m2 0h3m10 0h3m3 0h2m352 0h2m43 0h2m17 0h2m27 0h2m-1140 1h2m99 0h47m5 0h2m14 0h2m355 0h2m11 0h3m15 0h2m46 0h2m5 0h4m1 0h40m4 0h6m3 0h2m1 0h2m-675 1h2m76 0h2m9 0h2m7 0h2m1 0h4m2 0h3m1 0h39m1 0h4m14 0h2m2 0h2m351 0h2m11 0h3m15 0h2m44 0h5m2 0h6m1 0h4m1 0h36m3 0h6m1 0h4m374 0h2m27 0h2m85 0h2m-1086 1h2m9 0h2m6 0h3m5 0h3m1 0h2m1 0h34m2 0h2m1 0h3m19 0h2m343 0h2m2 0h2m27 0h2m50 0h2m1 0h2m2 0h4m3 0h47m4 0h4m1 0h2m371 0h2m27 0h2m85 0h2m-1185 1h2m100 0h2m13 0h3m6 0h6m1 0h30m1 0h4m5 0h2m3 0h2m359 0h2m2 0h2m27 0h2m48 0h2m2 0h2m2 0h2m4 0h47m4 0h2m1 0h2m2 0h4m429 0h2m-1129 1h2m100 0h2m7 0h2m1 0h2m1 0h5m4 0h18m1 0h17m1 0h5m3 0h2m4 0h3m381 0h2m5 0h2m52 0h2m1 0h3m2 0h8m2 0h3m2 0h29m2 0h3m2 0h2m4 0h2m1 0h2m1 0h2m1 0h2m328 0h2m99 0h2m-1065 1h2m45 0h2m1 0h2m4 0h2m4 0h9m2 0h12m1 0h9m4 0h2m6 0h2m4 0h2m382 0h2m5 0h2m55 0h2m5 0h4m4 0h2m1 0h10m2 0h20m1 0h4m13 0h2m331 0h2m-964 1h2m45 0h3m8 0h2m4 0h3m2 0h6m1 0h18m2 0h2m7 0h2m1 0h2m355 0h2m31 0h2m66 0h3m4 0h3m1 0h11m2 0h26m22 0h3m-593 1h2m6 0h4m4 0h3m2 0h21m1 0h4m1 0h2m2 0h2m1 0h4m1 0h2m10 0h2m2 0h2m13 0h2m324 0h2m24 0h2m5 0h2m40 0h2m24 0h3m4 0h3m1 0h20m1 0h5m1 0h5m2 0h3m5 0h2m2 0h2m1 0h2m10 0h3m334 0h2m-923 1h4m7 0h2m1 0h2m1 0h6m1 0h9m1 0h7m5 0h2m1 0h2m1 0h2m12 0h2m2 0h2m13 0h2m326 0h4m17 0h2m1 0h2m5 0h2m40 0h2m31 0h2m1 0h8m4 0h10m3 0h2m2 0h3m4 0h5m2 0h6m1 0h2m347 0h2m35 0h2m-960 1h2m3 0h4m3 0h8m1 0h2m2 0h2m1 0h4m2 0h3m15 0h6m2 0h2m351 0h4m3 0h2m9 0h5m73 0h2m8 0h2m1 0h6m1 0h2m5 0h9m2 0h8m5 0h3m1 0h2m1 0h4m6 0h2m379 0h2m55 0h2m-1032 1h2m15 0h2m1 0h4m3 0h8m1 0h2m2 0h6m1 0h3m4 0h2m7 0h3m3 0h4m2 0h2m346 0h2m5 0h2m3 0h2m9 0h4m74 0h2m10 0h2m1 0h7m3 0h2m2 0h14m1 0h2m3 0h4m2 0h2m3 0h2m6 0h2m375 0h2m11 0h2m46 0h2m-1032 1h2m5 0h4m6 0h2m8 0h18m2 0h5m2 0h3m6 0h3m357 0h2m5 0h2m6 0h2m24 0h2m24 0h2m44 0h2m2 0h6m2 0h6m2 0h8m3 0h3m3 0h4m7 0h2m367 0h2m14 0h2m11 0h2m-1107 1h2m73 0h2m53 0h4m1 0h2m13 0h5m1 0h12m1 0h2m1 0h8m349 0h2m2 0h2m18 0h2m2 0h2m2 0h2m3 0h2m15 0h3m1 0h2m24 0h2m46 0h2m3 0h3m2 0h6m2 0h10m1 0h2m5 0h3m3 0h2m371 0h2m10 0h2m24 0h2m-1116 1h2m68 0h2m3 0h2m58 0h2m15 0h2m3 0h6m1 0h3m2 0h2m4 0h2m6 0h2m8 0h2m2 0h2m2 0h2m326 0h2m2 0h2m22 0h2m5 0h4m6 0h2m5 0h6m74 0h2m1 0h2m6 0h4m3 0h2m2 0h3m1 0h4m7 0h2m3 0h3m9 0h2m365 0h2m4 0h2m24 0h2m22 0h2m-1070 1h2m8 0h2m20 0h2m31 0h3m19 0h2m2 0h2m1 0h3m16 0h2m1 0h2m5 0h2m2 0h2m2 0h2m361 0h2m8 0h2m5 0h2m2 0h2m2 0h2m72 0h3m2 0h2m2 0h2m13 0h4m13 0h2m9 0h2m335 0h2m10 0h2m16 0h2m54 0h2m-1060 1h2m20 0h2m4 0h2m5 0h2m19 0h2m12 0h2m3 0h4m16 0h2m9 0h2m14 0h2m344 0h2m16 0h6m10 0h2m1 0h6m5 0h2m53 0h2m10 0h2m3 0h2m2 0h2m7 0h2m3 0h3m25 0h2m336 0h2m10 0h2m39 0h2m-1089 1h2m47 0h2m2 0h2m6 0h2m27 0h2m5 0h2m26 0h2m4 0h3m3 0h4m6 0h3m7 0h2m25 0h2m334 0h2m8 0h2m16 0h6m10 0h2m3 0h2m3 0h2m2 0h2m53 0h2m28 0h2m3 0h3m3 0h2m20 0h2m362 0h2m4 0h2m6 0h2m8 0h2m1 0h2m2 0h2m-1093 1h2m40 0h2m5 0h2m2 0h2m6 0h2m62 0h2m4 0h2m14 0h3m25 0h3m342 0h2m16 0h2m7 0h2m11 0h2m12 0h2m6 0h2m56 0h2m6 0h2m23 0h3m13 0h4m367 0h2m4 0h2m2 0h2m2 0h2m1 0h2m5 0h4m3 0h2m3 0h2m-1056 1h2m104 0h2m25 0h3m333 0h4m7 0h2m4 0h2m8 0h2m4 0h2m1 0h2m1 0h2m3 0h2m3 0h3m2 0h2m13 0h4m16 0h2m38 0h2m6 0h2m19 0h2m2 0h3m13 0h4m33 0h2m331 0h2m5 0h2m2 0h2m5 0h2m6 0h3m2 0h2m4 0h2m-1041 1h2m10 0h2m4 0h2m50 0h2m15 0h2m2 0h2m14 0h2m30 0h2m313 0h4m7 0h2m4 0h2m14 0h2m4 0h2m3 0h2m4 0h6m2 0h4m3 0h2m2 0h2m18 0h2m67 0h4m1 0h4m48 0h2m299 0h2m25 0h2m3 0h2m7 0h2m11 0h3m1 0h2m3 0h2m27 0h2m-1064 1h2m10 0h2m4 0h2m50 0h3m14 0h2m5 0h2m11 0h2m2 0h2m12 0h2m12 0h2m322 0h2m14 0h2m21 0h2m2 0h2m3 0h5m3 0h2m6 0h2m85 0h2m3 0h2m349 0h2m21 0h2m2 0h2m10 0h4m2 0h2m7 0h3m35 0h2m-1021 1h2m26 0h2m12 0h4m5 0h2m7 0h4m4 0h2m12 0h2m331 0h2m3 0h3m13 0h2m1 0h6m9 0h2m3 0h2m5 0h4m14 0h2m65 0h2m3 0h2m10 0h2m12 0h2m366 0h2m3 0h2m5 0h6m4 0h2m-974 1h2m30 0h2m8 0h2m5 0h2m5 0h2m2 0h6m341 0h2m6 0h2m4 0h2m9 0h2m5 0h6m5 0h2m1 0h3m10 0h6m4 0h2m58 0h2m13 0h4m1 0h2m10 0h2m8 0h2m2 0h2m8 0h2m356 0h2m3 0h2m5 0h8m8 0h2m6 0h2m4 0h2m7 0h2m54 0h2m-1155 1h2m59 0h3m51 0h2m11 0h2m15 0h2m4 0h3m6 0h2m338 0h2m1 0h2m13 0h2m8 0h2m2 0h2m1 0h2m1 0h2m3 0h2m1 0h2m1 0h3m1 0h2m7 0h6m4 0h2m58 0h2m15 0h2m9 0h2m12 0h2m9 0h2m1 0h2m356 0h2m14 0h4m8 0h2m6 0h2m4 0h2m2 0h2m3 0h2m54 0h2m-1178 1h2m21 0h2m50 0h2m7 0h3m51 0h2m7 0h2m17 0h4m4 0h2m347 0h2m16 0h5m9 0h2m1 0h2m4 0h4m4 0h2m1 0h4m6 0h2m24 0h2m70 0h2m23 0h2m365 0h2m3 0h2m28 0h2m3 0h2m-1117 1h2m56 0h2m15 0h2m70 0h2m17 0h2m6 0h2m366 0h4m1 0h2m2 0h6m4 0h7m7 0h8m2 0h2m3 0h3m1 0h2m15 0h2m8 0h2m70 0h2m377 0h2m1 0h2m1 0h4m4 0h2m4 0h2m4 0h3m9 0h2m-1063 1h2m7 0h2m15 0h2m466 0h2m2 0h2m2 0h5m1 0h8m2 0h2m6 0h3m1 0h8m3 0h3m1 0h2m25 0h2m70 0h2m4 0h2m29 0h2m316 0h2m14 0h2m6 0h8m6 0h2m4 0h2m4 0h7m9 0h3m-1084 1h2m14 0h2m3 0h2m19 0h2m86 0h2m356 0h2m16 0h2m1 0h3m1 0h2m1 0h4m4 0h7m3 0h2m4 0h6m1 0h2m1 0h2m114 0h2m3 0h2m6 0h2m16 0h2m6 0h2m308 0h2m14 0h2m7 0h2m2 0h4m1 0h2m3 0h2m3 0h2m1 0h2m4 0h4m9 0h3m-1084 1h2m19 0h2m10 0h2m25 0h2m63 0h2m3 0h2m356 0h2m1 0h2m13 0h2m1 0h3m1 0h2m1 0h2m10 0h4m8 0h6m1 0h2m3 0h2m10 0h2m79 0h3m12 0h2m9 0h2m6 0h2m24 0h2m301 0h2m29 0h2m5 0h2m1 0h2m3 0h2m1 0h2m1 0h4m15 0h2m-1095 1h2m33 0h2m5 0h3m2 0h2m8 0h2m15 0h2m63 0h2m364 0h2m16 0h3m4 0h2m3 0h7m2 0h2m8 0h3m1 0h2m4 0h5m2 0h4m1 0h4m79 0h3m12 0h2m7 0h2m337 0h2m29 0h2m3 0h2m11 0h2m1 0h4m15 0h2m19 0h2m-1136 1h2m18 0h2m23 0h2m15 0h3m9 0h2m1 0h2m7 0h2m64 0h2m11 0h2m378 0h2m3 0h2m3 0h7m1 0h2m1 0h2m1 0h3m2 0h3m1 0h2m4 0h2m1 0h2m2 0h4m1 0h2m53 0h2m50 0h2m360 0h2m6 0h2m2 0h3m12 0h2m3 0h2m4 0h2m4 0h2m23 0h2m-1136 1h2m39 0h2m2 0h3m26 0h2m10 0h5m61 0h4m9 0h2m5 0h2m369 0h4m2 0h2m2 0h2m8 0h5m1 0h3m8 0h2m10 0h3m3 0h2m51 0h2m407 0h2m1 0h6m4 0h3m1 0h2m1 0h2m10 0h2m1 0h4m4 0h2m4 0h4m9 0h2m-1105 1h2m20 0h2m3 0h2m31 0h2m6 0h4m63 0h2m7 0h2m7 0h2m369 0h3m2 0h7m2 0h2m6 0h5m4 0h2m2 0h4m11 0h2m3 0h2m460 0h2m1 0h3m1 0h2m5 0h2m4 0h4m4 0h2m5 0h2m8 0h2m4 0h2m9 0h2m17 0h2m-1124 1h3m24 0h2m20 0h2m8 0h3m82 0h2m375 0h15m2 0h4m6 0h3m4 0h6m10 0h2m1 0h2m9 0h4m91 0h2m7 0h2m344 0h2m22 0h2m2 0h2m4 0h4m6 0h4m3 0h2m5 0h2m27 0h2m-1123 1h2m27 0h2m17 0h2m8 0h2m74 0h2m384 0h4m1 0h3m2 0h3m4 0h4m1 0h4m1 0h2m3 0h8m6 0h2m2 0h3m8 0h2m1 0h4m91 0h2m7 0h2m344 0h2m2 0h2m1 0h2m8 0h2m4 0h3m3 0h2m3 0h4m5 0h10m4 0h3m6 0h2m57 0h2m-1167 1h2m33 0h2m3 0h2m3 0h2m1 0h2m21 0h2m67 0h2m4 0h2m350 0h2m23 0h2m6 0h2m3 0h6m1 0h4m1 0h4m1 0h3m2 0h4m5 0h2m1 0h5m2 0h4m6 0h2m446 0h2m7 0h2m1 0h2m5 0h7m2 0h4m2 0h2m3 0h3m1 0h2m3 0h8m6 0h3m6 0h2m57 0h2m-1167 1h2m35 0h2m1 0h2m3 0h2m1 0h2m14 0h2m2 0h2m1 0h2m2 0h2m69 0h2m350 0h2m14 0h2m7 0h2m6 0h4m4 0h4m2 0h4m4 0h9m5 0h2m1 0h5m2 0h6m79 0h2m369 0h7m6 0h7m1 0h3m1 0h3m1 0h2m1 0h2m3 0h2m3 0h7m3 0h2m2 0h2m2 0h2m1 0h4m6 0h4m2 0h2m-1097 1h2m18 0h4m3 0h4m2 0h2m7 0h2m3 0h2m1 0h3m2 0h5m38 0h2m35 0h2m359 0h3m8 0h3m3 0h5m1 0h2m2 0h3m2 0h5m5 0h3m2 0h2m4 0h3m8 0h2m2 0h4m77 0h2m22 0h2m343 0h4m2 0h3m2 0h2m2 0h2m1 0h4m4 0h3m2 0h2m6 0h2m1 0h2m2 0h7m9 0h2m1 0h2m4 0h2m2 0h4m2 0h2m33 0h2m-1140 1h3m5 0h2m12 0h2m6 0h2m3 0h4m2 0h4m5 0h4m1 0h2m1 0h3m1 0h4m25 0h2m13 0h2m35 0h2m359 0h2m9 0h3m1 0h5m3 0h2m2 0h2m1 0h2m3 0h4m1 0h2m4 0h3m4 0h6m5 0h2m4 0h2m101 0h2m343 0h2m9 0h2m2 0h2m3 0h2m3 0h5m5 0h2m1 0h3m1 0h2m3 0h6m8 0h2m6 0h4m43 0h2m19 0h2m-1169 1h3m5 0h3m3 0h2m14 0h2m12 0h2m1 0h2m2 0h2m5 0h4m1 0h2m2 0h2m1 0h3m26 0h2m409 0h2m5 0h2m5 0h2m1 0h9m6 0h4m2 0h3m1 0h2m4 0h2m7 0h4m5 0h2m8 0h2m450 0h2m5 0h2m5 0h8m5 0h9m3 0h7m1 0h4m2 0h3m5 0h2m5 0h2m59 0h2m2 0h2m1 0h2m-1189 1h2m11 0h3m1 0h2m7 0h3m24 0h2m2 0h2m1 0h2m2 0h2m2 0h4m3 0h3m6 0h2m7 0h2m415 0h2m11 0h2m5 0h2m8 0h11m6 0h2m2 0h6m4 0h2m6 0h5m6 0h2m7 0h2m450 0h2m5 0h3m4 0h6m2 0h2m3 0h4m1 0h3m1 0h10m1 0h4m3 0h2m1 0h4m3 0h2m2 0h2m63 0h2m1 0h2m-1190 1h4m14 0h2m6 0h3m25 0h5m6 0h2m2 0h4m3 0h3m14 0h3m415 0h2m5 0h2m4 0h2m7 0h6m1 0h5m1 0h3m1 0h2m1 0h2m2 0h2m5 0h2m4 0h4m1 0h2m3 0h5m5 0h4m3 0h2m438 0h2m3 0h2m8 0h6m2 0h2m4 0h4m2 0h5m1 0h4m4 0h7m3 0h2m1 0h3m2 0h2m1 0h7m2 0h2m78 0h2m-1199 1h5m4 0h2m16 0h2m18 0h3m7 0h9m1 0h3m5 0h3m6 0h3m7 0h2m423 0h2m8 0h2m3 0h10m1 0h5m2 0h10m3 0h10m1 0h3m10 0h6m3 0h2m438 0h2m3 0h2m2 0h2m6 0h4m8 0h8m1 0h2m1 0h19m2 0h3m1 0h3m1 0h7m2 0h2m23 0h2m53 0h2m-1199 1h3m6 0h2m34 0h7m3 0h2m2 0h7m1 0h3m1 0h2m2 0h4m1 0h2m2 0h3m15 0h2m425 0h2m2 0h3m1 0h7m1 0h2m1 0h2m1 0h11m3 0h6m1 0h4m1 0h2m9 0h3m2 0h2m76 0h2m374 0h2m4 0h4m5 0h2m5 0h29m6 0h8m5 0h2m9 0h2m5 0h2m5 0h2m-1136 1h2m33 0h10m2 0h2m3 0h2m2 0h2m1 0h2m2 0h2m3 0h3m1 0h4m11 0h2m5 0h2m429 0h2m2 0h4m1 0h2m1 0h2m2 0h11m1 0h3m2 0h2m4 0h7m3 0h2m4 0h2m12 0h2m2 0h2m63 0h2m380 0h4m5 0h4m7 0h17m2 0h4m6 0h12m14 0h2m5 0h2m46 0h2m13 0h4m-1201 1h2m5 0h2m27 0h2m4 0h3m3 0h5m2 0h2m6 0h2m10 0h2m2 0h4m3 0h2m6 0h2m15 0h2m1 0h2m406 0h2m5 0h5m2 0h3m2 0h2m1 0h13m3 0h4m3 0h2m6 0h2m4 0h2m3 0h2m13 0h2m2 0h2m456 0h5m4 0h2m2 0h9m1 0h10m1 0h2m2 0h6m1 0h5m16 0h2m3 0h4m44 0h2m13 0h4m-1201 1h2m14 0h2m1 0h2m15 0h3m4 0h2m5 0h7m28 0h3m8 0h2m13 0h2m1 0h2m8 0h2m390 0h2m4 0h3m1 0h8m1 0h2m4 0h14m2 0h12m1 0h2m9 0h2m1 0h4m6 0h2m47 0h2m396 0h2m19 0h2m1 0h4m3 0h2m4 0h6m2 0h5m1 0h8m2 0h2m1 0h2m3 0h2m17 0h2m1 0h6m47 0h2m26 0h2m-1200 1h3m1 0h4m1 0h2m1 0h2m2 0h3m1 0h4m11 0h2m1 0h5m9 0h7m2 0h2m1 0h2m4 0h2m9 0h2m26 0h2m390 0h4m3 0h8m4 0h5m2 0h3m3 0h8m1 0h10m3 0h4m7 0h2m1 0h2m7 0h3m47 0h2m396 0h2m16 0h5m3 0h2m9 0h5m3 0h4m3 0h8m3 0h3m2 0h4m2 0h2m4 0h2m9 0h2m51 0h2m8 0h2m16 0h2m-1220 1h2m18 0h2m4 0h2m1 0h5m2 0h3m1 0h2m7 0h2m3 0h4m3 0h4m7 0h7m1 0h3m1 0h2m4 0h2m2 0h2m427 0h2m4 0h2m2 0h2m1 0h3m1 0h5m2 0h3m3 0h8m1 0h3m1 0h16m15 0h3m462 0h6m4 0h2m1 0h2m2 0h2m2 0h4m1 0h6m3 0h2m1 0h6m3 0h9m1 0h3m2 0h4m72 0h2m-1202 1h2m5 0h2m4 0h3m4 0h2m8 0h3m9 0h2m5 0h2m3 0h4m1 0h2m1 0h3m4 0h2m5 0h6m6 0h4m2 0h2m438 0h15m1 0h9m3 0h16m1 0h3m4 0h2m9 0h2m450 0h2m8 0h5m1 0h3m7 0h6m1 0h4m2 0h6m1 0h4m1 0h9m2 0h5m1 0h5m2 0h2m75 0h4m-1198 1h2m4 0h3m4 0h2m3 0h2m15 0h2m3 0h4m5 0h5m1 0h2m2 0h2m1 0h2m5 0h6m5 0h3m431 0h2m1 0h4m5 0h3m2 0h2m1 0h2m1 0h14m4 0h14m3 0h2m1 0h2m1 0h3m23 0h2m431 0h3m2 0h3m4 0h2m1 0h3m6 0h2m4 0h14m3 0h3m1 0h2m2 0h24m1 0h2m13 0h2m60 0h4m-1185 1h2m3 0h2m18 0h8m3 0h4m2 0h2m2 0h2m2 0h4m4 0h4m3 0h4m6 0h2m417 0h2m5 0h2m1 0h4m3 0h4m2 0h3m1 0h2m1 0h10m1 0h3m4 0h7m2 0h2m1 0h3m2 0h5m1 0h2m1 0h2m3 0h3m4 0h2m9 0h2m431 0h3m3 0h4m1 0h3m7 0h2m1 0h2m4 0h5m1 0h2m1 0h11m2 0h5m1 0h4m3 0h8m1 0h5m1 0h6m9 0h2m59 0h2m-1173 1h4m4 0h2m3 0h2m1 0h2m1 0h5m4 0h3m2 0h2m4 0h6m6 0h2m3 0h2m7 0h3m417 0h2m10 0h2m3 0h4m1 0h6m2 0h9m1 0h12m1 0h5m3 0h8m5 0h2m3 0h3m1 0h2m1 0h2m442 0h2m6 0h2m1 0h2m3 0h2m3 0h2m3 0h2m3 0h4m2 0h2m2 0h21m1 0h3m2 0h5m1 0h3m1 0h2m2 0h4m2 0h2m66 0h2m-1185 1h2m10 0h4m2 0h4m3 0h2m2 0h2m2 0h4m3 0h2m3 0h4m2 0h5m7 0h2m6 0h2m4 0h2m425 0h2m3 0h2m8 0h6m1 0h4m1 0h18m1 0h8m2 0h2m3 0h2m13 0h2m445 0h2m14 0h2m2 0h5m1 0h2m4 0h4m1 0h15m1 0h13m2 0h2m1 0h6m1 0h2m3 0h2m3 0h4m-1123 1h2m2 0h2m3 0h2m8 0h2m1 0h2m2 0h2m1 0h2m2 0h2m1 0h9m4 0h4m3 0h4m7 0h2m1 0h4m1 0h2m1 0h2m428 0h2m11 0h2m4 0h25m1 0h9m4 0h2m1 0h2m16 0h2m444 0h2m3 0h2m11 0h6m3 0h13m1 0h8m2 0h10m1 0h10m2 0h2m5 0h2m5 0h3m21 0h2m10 0h2m28 0h2m-1197 1h2m6 0h2m1 0h2m4 0h2m1 0h2m5 0h2m1 0h2m2 0h3m4 0h2m1 0h9m4 0h2m6 0h3m1 0h2m3 0h3m1 0h4m2 0h4m433 0h11m2 0h36m4 0h2m19 0h2m444 0h2m3 0h2m5 0h2m6 0h6m1 0h13m2 0h8m1 0h10m1 0h4m1 0h6m1 0h3m4 0h3m1 0h2m1 0h3m1 0h2m18 0h2m10 0h2m13 0h2m4 0h4m5 0h2m-1197 1h4m7 0h4m5 0h2m8 0h2m2 0h3m9 0h5m3 0h4m6 0h7m3 0h4m1 0h3m2 0h6m1 0h2m418 0h2m8 0h12m1 0h2m1 0h4m1 0h25m1 0h8m5 0h6m11 0h2m7 0h2m429 0h2m9 0h6m4 0h2m3 0h8m2 0h8m1 0h8m1 0h7m2 0h14m1 0h2m3 0h7m1 0h2m2 0h2m16 0h2m27 0h2m4 0h4m9 0h2m-1199 1h2m9 0h2m2 0h2m4 0h2m2 0h2m1 0h2m2 0h7m3 0h2m1 0h2m5 0h16m4 0h7m1 0h2m2 0h4m1 0h2m1 0h2m415 0h2m8 0h4m1 0h11m1 0h3m1 0h2m1 0h9m3 0h10m1 0h8m1 0h12m9 0h2m7 0h2m429 0h2m2 0h2m3 0h7m5 0h2m2 0h9m1 0h10m2 0h6m1 0h11m1 0h7m2 0h2m1 0h4m1 0h6m3 0h2m5 0h2m12 0h2m8 0h2m19 0h4m5 0h2m2 0h2m2 0h2m-1196 1h2m10 0h4m2 0h2m2 0h5m2 0h13m3 0h2m1 0h11m1 0h2m1 0h2m4 0h3m1 0h2m2 0h3m9 0h2m4 0h2m10 0h2m405 0h7m2 0h39m1 0h2m1 0h2m1 0h7m5 0h3m453 0h2m3 0h2m3 0h4m2 0h2m3 0h4m1 0h12m1 0h3m1 0h18m4 0h4m4 0h5m2 0h2m1 0h2m3 0h2m5 0h2m3 0h2m17 0h2m19 0h4m3 0h4m2 0h2m5 0h2m-1199 1h2m5 0h2m5 0h4m2 0h2m1 0h3m1 0h5m1 0h9m1 0h4m1 0h6m3 0h2m1 0h2m6 0h4m5 0h3m15 0h2m10 0h2m405 0h7m1 0h2m3 0h7m1 0h27m4 0h8m5 0h4m2 0h2m67 0h2m390 0h2m1 0h2m2 0h4m1 0h3m2 0h5m2 0h2m1 0h6m2 0h12m1 0h2m1 0h8m5 0h2m1 0h2m1 0h2m5 0h2m9 0h2m1 0h2m31 0h2m10 0h4m11 0h2m-1192 1h2m2 0h2m3 0h2m1 0h7m1 0h12m2 0h15m1 0h2m8 0h3m2 0h2m3 0h2m4 0h2m1 0h2m9 0h2m419 0h2m2 0h4m1 0h6m1 0h28m3 0h12m2 0h2m4 0h2m67 0h4m375 0h2m6 0h2m3 0h5m4 0h4m1 0h31m1 0h3m1 0h9m5 0h2m1 0h2m1 0h4m3 0h2m5 0h2m2 0h2m34 0h2m9 0h4m-1174 1h2m2 0h3m1 0h17m1 0h2m2 0h15m6 0h3m2 0h3m2 0h2m3 0h2m4 0h2m1 0h2m9 0h2m410 0h2m5 0h4m3 0h46m1 0h7m79 0h2m375 0h2m6 0h2m3 0h8m1 0h9m1 0h10m2 0h10m1 0h17m1 0h2m2 0h3m3 0h4m10 0h2m20 0h2m22 0h2m1 0h4m1 0h4m1 0h2m-1176 1h2m1 0h4m3 0h14m2 0h13m3 0h8m1 0h2m4 0h2m2 0h2m4 0h3m37 0h2m385 0h2m5 0h2m5 0h46m1 0h3m21 0h2m443 0h2m8 0h7m1 0h3m1 0h7m1 0h4m2 0h21m3 0h11m1 0h2m4 0h3m3 0h4m1 0h2m17 0h2m3 0h2m21 0h18m-1192 1h2m7 0h2m1 0h4m1 0h6m1 0h5m1 0h22m2 0h9m1 0h5m2 0h6m4 0h4m11 0h2m23 0h2m396 0h2m2 0h3m1 0h29m2 0h9m3 0h2m8 0h2m11 0h2m49 0h2m390 0h4m4 0h2m2 0h3m1 0h3m1 0h3m1 0h37m1 0h8m1 0h2m6 0h3m2 0h6m1 0h3m16 0h2m24 0h20m-1192 1h2m2 0h3m1 0h3m1 0h4m1 0h6m1 0h8m2 0h13m3 0h19m2 0h5m7 0h2m11 0h2m3 0h2m8 0h2m393 0h2m1 0h2m6 0h4m2 0h44m1 0h2m3 0h4m3 0h2m20 0h2m40 0h2m390 0h2m6 0h2m3 0h2m1 0h2m1 0h6m1 0h9m1 0h14m2 0h9m1 0h24m2 0h2m2 0h2m10 0h2m17 0h2m11 0h7m2 0h5m1 0h5m-1189 1h4m1 0h2m2 0h4m1 0h5m3 0h3m1 0h4m1 0h8m2 0h2m1 0h14m2 0h5m3 0h2m1 0h2m7 0h2m16 0h2m8 0h2m393 0h2m1 0h4m2 0h4m1 0h2m1 0h47m3 0h4m25 0h2m45 0h2m380 0h2m3 0h2m6 0h2m2 0h3m1 0h14m1 0h29m3 0h6m1 0h9m3 0h2m4 0h3m1 0h2m10 0h2m17 0h2m13 0h13m-1200 1h3m10 0h7m4 0h5m2 0h4m1 0h4m2 0h4m1 0h8m1 0h10m1 0h8m2 0h6m4 0h2m41 0h2m12 0h2m373 0h4m1 0h2m2 0h3m2 0h7m1 0h40m1 0h8m2 0h2m68 0h2m4 0h2m374 0h2m2 0h5m4 0h22m1 0h23m1 0h7m3 0h5m13 0h2m4 0h2m1 0h2m8 0h2m29 0h2m3 0h13m-1200 1h3m1 0h2m7 0h4m1 0h2m3 0h6m6 0h37m1 0h2m5 0h3m2 0h4m1 0h4m2 0h2m28 0h2m2 0h2m12 0h2m373 0h4m5 0h3m1 0h5m1 0h43m1 0h4m6 0h2m74 0h2m375 0h5m1 0h2m5 0h3m1 0h5m1 0h7m1 0h26m3 0h10m1 0h3m1 0h3m2 0h4m3 0h2m17 0h4m27 0h16m-1194 1h2m8 0h6m3 0h6m3 0h2m1 0h33m1 0h3m1 0h2m8 0h11m2 0h2m28 0h4m398 0h6m1 0h2m1 0h43m1 0h2m8 0h4m65 0h2m2 0h4m376 0h3m1 0h2m5 0h37m1 0h23m2 0h4m2 0h4m1 0h2m17 0h3m1 0h2m29 0h14m4 0h2m7 0h2m-1203 1h2m2 0h8m3 0h4m3 0h14m1 0h18m1 0h2m1 0h3m1 0h3m2 0h2m1 0h4m1 0h5m8 0h2m27 0h2m22 0h2m376 0h3m1 0h47m1 0h2m5 0h2m3 0h2m9 0h2m16 0h2m36 0h2m2 0h4m380 0h2m5 0h2m1 0h4m2 0h11m1 0h46m7 0h2m17 0h3m11 0h2m19 0h14m1 0h2m1 0h2m7 0h2m-1203 1h2m4 0h2m2 0h2m3 0h4m1 0h2m1 0h4m1 0h19m1 0h11m1 0h2m2 0h2m2 0h2m1 0h2m5 0h2m9 0h2m51 0h2m365 0h3m7 0h2m3 0h43m3 0h4m5 0h2m8 0h2m4 0h3m15 0h2m27 0h2m391 0h2m2 0h2m9 0h3m2 0h37m3 0h18m8 0h5m27 0h2m17 0h15m2 0h2m8 0h2m4 0h2m15 0h2m-1224 1h2m4 0h4m5 0h4m1 0h27m1 0h11m1 0h6m2 0h2m5 0h2m2 0h2m8 0h2m418 0h3m5 0h4m5 0h43m1 0h4m15 0h4m3 0h2m44 0h2m391 0h2m2 0h4m2 0h2m9 0h2m1 0h3m1 0h13m1 0h27m2 0h9m6 0h9m1 0h2m39 0h16m1 0h2m4 0h2m2 0h2m4 0h2m15 0h2m-1228 1h2m2 0h2m4 0h4m2 0h6m1 0h39m4 0h4m4 0h2m3 0h8m3 0h2m1 0h2m418 0h2m2 0h2m2 0h4m3 0h5m1 0h44m17 0h2m15 0h2m424 0h2m5 0h2m2 0h2m1 0h2m2 0h6m1 0h5m1 0h39m2 0h2m1 0h2m2 0h5m6 0h6m1 0h2m39 0h16m1 0h2m4 0h2m-1206 1h2m3 0h2m8 0h2m3 0h49m2 0h4m2 0h4m3 0h9m2 0h2m420 0h3m2 0h4m5 0h52m10 0h2m22 0h2m37 0h2m385 0h5m6 0h11m1 0h4m1 0h35m3 0h4m1 0h2m1 0h4m3 0h3m4 0h2m5 0h4m35 0h20m-1199 1h4m11 0h5m2 0h4m1 0h6m1 0h37m3 0h8m7 0h3m1 0h2m424 0h2m5 0h2m5 0h52m10 0h4m57 0h4m8 0h2m375 0h5m4 0h2m1 0h2m2 0h2m4 0h5m2 0h34m2 0h2m1 0h2m1 0h2m1 0h4m5 0h2m2 0h5m3 0h4m33 0h6m1 0h15m-1199 1h4m1 0h2m5 0h2m1 0h5m4 0h2m1 0h36m2 0h8m1 0h8m1 0h2m4 0h4m18 0h2m418 0h2m2 0h4m1 0h37m1 0h7m6 0h2m4 0h2m3 0h2m52 0h2m3 0h2m5 0h2m384 0h2m2 0h2m2 0h4m1 0h2m1 0h2m1 0h15m1 0h20m1 0h2m2 0h6m1 0h2m2 0h5m2 0h5m40 0h21m5 0h2m-1203 1h8m2 0h4m1 0h9m1 0h37m1 0h20m2 0h6m18 0h2m36 0h2m378 0h4m1 0h5m1 0h40m2 0h6m2 0h3m7 0h4m52 0h2m3 0h2m395 0h8m1 0h2m2 0h16m1 0h25m1 0h6m1 0h2m2 0h4m4 0h2m1 0h2m9 0h2m11 0h2m18 0h17m1 0h2m3 0h2m-1202 1h2m1 0h5m3 0h2m2 0h46m1 0h3m1 0h5m2 0h8m3 0h4m28 0h2m28 0h2m378 0h3m1 0h59m8 0h2m456 0h5m2 0h3m2 0h47m1 0h2m1 0h6m3 0h2m4 0h3m8 0h2m11 0h2m18 0h17m1 0h3m13 0h2m-1207 1h2m11 0h51m1 0h2m2 0h3m2 0h2m11 0h2m6 0h2m13 0h2m409 0h2m1 0h50m2 0h2m1 0h2m6 0h2m451 0h2m1 0h4m3 0h4m2 0h7m1 0h41m1 0h10m5 0h2m5 0h4m1 0h2m32 0h18m1 0h6m13 0h2m-1203 1h4m5 0h47m1 0h11m2 0h2m2 0h2m7 0h2m6 0h2m68 0h2m347 0h2m8 0h5m1 0h45m10 0h4m69 0h2m380 0h2m1 0h6m3 0h4m1 0h7m1 0h40m1 0h8m1 0h5m1 0h2m7 0h2m1 0h2m9 0h2m20 0h19m1 0h5m-1192 1h3m2 0h12m1 0h55m6 0h2m1 0h2m13 0h2m67 0h2m347 0h2m5 0h2m1 0h51m4 0h2m4 0h3m70 0h2m383 0h6m2 0h2m1 0h2m1 0h14m1 0h28m1 0h9m1 0h2m2 0h5m1 0h2m6 0h2m11 0h4m20 0h20m-1187 1h4m5 0h8m1 0h57m1 0h2m4 0h5m10 0h2m416 0h2m5 0h2m3 0h49m1 0h2m1 0h2m1 0h2m2 0h3m453 0h2m1 0h2m1 0h2m1 0h2m1 0h3m1 0h4m1 0h9m1 0h5m2 0h33m2 0h4m4 0h2m4 0h2m10 0h5m15 0h2m5 0h20m16 0h2m-1206 1h3m4 0h4m1 0h4m2 0h48m1 0h10m5 0h4m428 0h2m9 0h55m2 0h2m3 0h4m448 0h2m1 0h5m1 0h2m1 0h3m1 0h3m1 0h2m1 0h16m1 0h24m1 0h14m5 0h2m16 0h5m15 0h6m1 0h20m16 0h2m3 0h2m-1219 1h2m2 0h2m2 0h2m5 0h3m1 0h2m1 0h61m450 0h2m2 0h42m1 0h8m8 0h3m448 0h2m1 0h4m6 0h6m1 0h37m1 0h6m1 0h13m4 0h3m3 0h2m11 0h2m14 0h2m5 0h4m1 0h17m24 0h2m-1219 1h2m2 0h2m8 0h4m1 0h2m1 0h60m3 0h2m27 0h2m412 0h2m1 0h4m2 0h50m461 0h2m1 0h2m7 0h4m2 0h5m4 0h6m1 0h22m1 0h6m1 0h7m2 0h5m3 0h3m3 0h4m9 0h2m14 0h2m5 0h2m1 0h19m7 0h2m5 0h2m-1204 1h3m3 0h7m5 0h54m1 0h2m4 0h3m4 0h4m19 0h2m24 0h3m382 0h2m1 0h2m1 0h13m1 0h38m2 0h2m461 0h2m1 0h2m1 0h2m2 0h5m3 0h5m4 0h36m1 0h3m2 0h2m4 0h3m3 0h2m3 0h8m32 0h19m7 0h2m5 0h2m-1204 1h3m3 0h5m3 0h52m2 0h7m4 0h2m1 0h2m2 0h4m4 0h2m39 0h3m382 0h4m5 0h47m1 0h2m3 0h2m458 0h2m5 0h2m2 0h11m3 0h35m2 0h6m3 0h2m2 0h3m2 0h5m2 0h3m1 0h4m6 0h2m11 0h2m11 0h16m1 0h2m5 0h2m-1195 1h3m2 0h2m2 0h10m1 0h47m2 0h4m2 0h2m3 0h4m10 0h3m3 0h2m416 0h2m2 0h2m4 0h2m3 0h39m2 0h2m1 0h4m1 0h2m23 0h2m433 0h2m5 0h2m1 0h2m3 0h4m2 0h2m2 0h5m1 0h13m1 0h22m4 0h2m2 0h10m7 0h2m2 0h2m3 0h2m11 0h2m9 0h17m9 0h4m3 0h2m-1205 1h2m2 0h3m1 0h2m4 0h58m2 0h3m1 0h7m13 0h3m2 0h2m416 0h2m2 0h2m4 0h46m5 0h3m25 0h2m48 0h2m390 0h5m1 0h2m1 0h2m3 0h23m1 0h20m1 0h3m2 0h11m10 0h2m2 0h2m5 0h2m20 0h17m6 0h2m3 0h2m3 0h2m-1205 1h2m3 0h2m8 0h58m1 0h3m1 0h5m4 0h2m9 0h3m16 0h2m5 0h2m25 0h2m379 0h6m1 0h33m2 0h3m2 0h6m75 0h2m386 0h2m2 0h11m1 0h36m1 0h2m2 0h2m1 0h7m1 0h6m1 0h2m16 0h2m5 0h2m7 0h2m5 0h2m2 0h16m1 0h2m6 0h2m-1189 1h2m8 0h5m1 0h51m2 0h5m1 0h2m3 0h3m1 0h2m6 0h2m17 0h3m4 0h2m25 0h2m372 0h2m5 0h6m1 0h43m2 0h7m6 0h2m49 0h2m11 0h2m385 0h2m6 0h3m1 0h8m1 0h28m1 0h5m2 0h3m1 0h7m1 0h5m1 0h4m1 0h2m7 0h2m18 0h2m5 0h2m2 0h4m1 0h13m-1184 1h2m2 0h2m5 0h60m2 0h5m1 0h2m3 0h6m7 0h2m1 0h2m14 0h2m405 0h2m2 0h2m5 0h2m1 0h44m1 0h7m6 0h2m49 0h2m11 0h2m385 0h2m8 0h7m3 0h2m1 0h5m2 0h30m2 0h17m1 0h2m7 0h2m31 0h2m1 0h9m2 0h2m27 0h2m-1213 1h4m7 0h4m1 0h61m3 0h2m3 0h4m8 0h2m1 0h2m20 0h2m27 0h2m374 0h5m2 0h2m1 0h36m1 0h3m1 0h3m3 0h2m8 0h2m450 0h2m8 0h4m3 0h12m3 0h5m1 0h21m4 0h10m1 0h3m4 0h2m20 0h2m14 0h5m1 0h8m3 0h2m27 0h2m-1211 1h2m7 0h67m2 0h2m3 0h2m9 0h2m20 0h6m27 0h2m370 0h2m3 0h4m4 0h2m3 0h32m1 0h3m1 0h2m14 0h2m456 0h2m5 0h2m1 0h5m1 0h4m1 0h10m3 0h19m2 0h7m2 0h3m8 0h2m10 0h2m8 0h2m14 0h5m1 0h10m1 0h2m-1182 1h2m5 0h58m1 0h3m1 0h7m1 0h8m8 0h2m20 0h4m401 0h2m1 0h4m3 0h42m9 0h2m5 0h2m9 0h2m448 0h2m1 0h2m1 0h3m1 0h5m1 0h2m3 0h5m1 0h6m1 0h19m1 0h3m2 0h2m23 0h2m1 0h2m25 0h4m1 0h10m-1180 1h2m6 0h4m1 0h66m2 0h6m438 0h2m1 0h34m1 0h12m8 0h2m5 0h2m9 0h2m451 0h2m1 0h3m3 0h2m2 0h4m1 0h4m3 0h29m2 0h4m9 0h2m3 0h2m2 0h2m1 0h2m24 0h2m2 0h4m2 0h7m-1184 1h2m4 0h2m9 0h63m3 0h2m13 0h2m2 0h2m10 0h2m406 0h2m2 0h2m4 0h20m1 0h24m2 0h2m1 0h2m18 0h2m460 0h2m5 0h2m2 0h6m4 0h20m1 0h6m2 0h2m1 0h3m4 0h2m3 0h2m3 0h2m2 0h2m27 0h2m4 0h2m1 0h7m-1183 1h2m2 0h2m1 0h7m3 0h52m1 0h6m1 0h3m3 0h5m1 0h2m3 0h2m2 0h2m2 0h2m7 0h2m1 0h2m406 0h2m2 0h2m4 0h2m1 0h2m1 0h7m1 0h16m1 0h22m17 0h2m452 0h2m4 0h2m7 0h3m2 0h6m3 0h6m2 0h4m2 0h2m1 0h2m2 0h6m2 0h2m5 0h7m6 0h2m21 0h2m8 0h2m4 0h10m2 0h2m-1188 1h2m1 0h4m1 0h11m1 0h2m1 0h53m2 0h2m2 0h7m1 0h2m3 0h2m4 0h2m9 0h2m9 0h2m1 0h2m404 0h6m3 0h2m3 0h17m1 0h22m471 0h4m2 0h4m2 0h2m2 0h2m2 0h6m3 0h2m1 0h7m2 0h4m1 0h2m2 0h2m1 0h2m1 0h12m2 0h2m4 0h4m5 0h2m14 0h2m8 0h2m2 0h2m1 0h2m5 0h6m-1188 1h2m1 0h3m6 0h2m1 0h4m4 0h51m4 0h3m1 0h2m1 0h2m2 0h2m1 0h3m6 0h2m20 0h2m1 0h2m404 0h5m9 0h6m1 0h20m1 0h4m2 0h4m1 0h2m4 0h2m466 0h2m4 0h2m1 0h3m2 0h2m2 0h7m1 0h2m2 0h6m2 0h8m2 0h3m2 0h3m1 0h9m8 0h5m4 0h2m28 0h5m2 0h2m3 0h2m5 0h2m2 0h2m-1197 1h2m10 0h4m1 0h2m3 0h51m5 0h6m1 0h2m2 0h6m426 0h2m14 0h3m6 0h6m1 0h28m1 0h2m1 0h3m3 0h2m5 0h2m463 0h4m1 0h2m2 0h2m3 0h10m2 0h5m3 0h6m4 0h3m2 0h3m1 0h9m2 0h4m3 0h4m1 0h3m30 0h5m2 0h2m10 0h2m2 0h2m-1190 1h2m5 0h2m1 0h3m2 0h54m1 0h7m4 0h2m1 0h2m3 0h2m423 0h2m9 0h3m2 0h3m3 0h2m1 0h16m1 0h5m2 0h11m3 0h4m8 0h4m457 0h2m4 0h4m5 0h2m3 0h5m1 0h3m1 0h8m3 0h3m1 0h2m1 0h5m2 0h3m1 0h5m4 0h6m5 0h2m1 0h3m19 0h2m6 0h2m3 0h5m20 0h2m-1197 1h2m1 0h2m5 0h2m1 0h4m2 0h53m1 0h2m2 0h3m4 0h2m5 0h3m3 0h3m428 0h3m2 0h2m4 0h10m2 0h23m1 0h2m3 0h2m10 0h2m459 0h2m9 0h3m1 0h2m6 0h2m1 0h2m2 0h10m1 0h3m1 0h13m1 0h5m1 0h2m1 0h2m3 0h3m3 0h2m2 0h2m2 0h2m15 0h2m6 0h2m1 0h4m1 0h2m20 0h2m-1199 1h4m5 0h2m1 0h2m1 0h61m3 0h4m7 0h2m1 0h2m4 0h3m51 0h2m377 0h2m1 0h2m2 0h12m2 0h2m1 0h12m1 0h2m1 0h2m1 0h2m1 0h3m1 0h2m6 0h2m461 0h2m11 0h3m3 0h2m3 0h3m1 0h2m5 0h2m2 0h3m2 0h2m1 0h6m1 0h5m2 0h8m6 0h3m1 0h2m1 0h2m1 0h2m2 0h2m26 0h4m-1176 1h6m5 0h2m3 0h2m1 0h59m3 0h4m7 0h2m58 0h2m1 0h2m377 0h2m1 0h2m1 0h5m2 0h4m2 0h4m1 0h11m4 0h3m1 0h2m1 0h3m1 0h2m2 0h2m2 0h2m461 0h3m10 0h2m2 0h4m3 0h3m1 0h6m1 0h2m4 0h2m1 0h2m1 0h3m4 0h2m5 0h3m2 0h2m5 0h2m4 0h2m1 0h2m35 0h2m1 0h2m11 0h2m8 0h2m-1202 1h2m2 0h2m1 0h2m1 0h4m2 0h2m1 0h64m1 0h3m7 0h2m51 0h2m3 0h2m383 0h5m3 0h5m2 0h4m3 0h5m1 0h6m2 0h4m2 0h2m5 0h4m2 0h2m462 0h2m8 0h2m4 0h4m6 0h10m4 0h5m1 0h10m4 0h2m1 0h2m3 0h2m1 0h3m19 0h2m26 0h2m11 0h2m8 0h3m-1202 1h2m3 0h3m1 0h6m3 0h2m2 0h60m1 0h3m2 0h2m3 0h2m51 0h2m388 0h3m5 0h14m3 0h2m5 0h2m2 0h4m2 0h2m5 0h2m3 0h2m65 0h2m403 0h2m1 0h4m2 0h2m1 0h2m2 0h2m1 0h2m4 0h6m3 0h4m1 0h2m1 0h8m3 0h5m3 0h5m16 0h2m2 0h2m24 0h2m24 0h2m-1202 1h2m2 0h4m4 0h3m1 0h4m1 0h54m2 0h2m7 0h4m3 0h2m4 0h3m3 0h2m430 0h2m2 0h23m2 0h2m2 0h2m18 0h2m34 0h2m29 0h2m6 0h2m387 0h2m6 0h2m1 0h4m1 0h2m2 0h2m2 0h2m7 0h6m2 0h2m1 0h2m4 0h8m2 0h4m6 0h3m17 0h2m5 0h2m21 0h2m-1177 1h2m3 0h4m4 0h2m2 0h4m1 0h49m2 0h3m1 0h3m6 0h3m5 0h2m4 0h4m2 0h2m411 0h2m14 0h2m1 0h2m2 0h3m6 0h14m2 0h2m1 0h3m4 0h2m48 0h3m36 0h2m10 0h2m375 0h2m5 0h2m5 0h4m9 0h2m2 0h6m1 0h2m1 0h2m1 0h2m8 0h5m1 0h3m8 0h2m15 0h2m7 0h2m-1154 1h2m3 0h2m12 0h5m1 0h51m1 0h2m3 0h3m1 0h2m13 0h3m415 0h2m14 0h2m3 0h2m1 0h2m6 0h11m5 0h2m1 0h3m2 0h4m4 0h2m43 0h2m48 0h2m382 0h2m5 0h2m2 0h2m7 0h2m2 0h2m2 0h2m1 0h2m4 0h3m2 0h2m3 0h5m2 0h4m23 0h2m25 0h2m23 0h2m1 0h2m-1195 1h2m4 0h2m4 0h6m1 0h2m2 0h49m1 0h7m3 0h2m9 0h4m3 0h2m427 0h2m3 0h7m1 0h6m2 0h8m2 0h2m1 0h4m2 0h2m5 0h3m87 0h2m399 0h4m2 0h2m5 0h3m1 0h2m4 0h2m1 0h3m2 0h10m3 0h3m3 0h2m16 0h2m27 0h2m1 0h2m20 0h2m1 0h2m10 0h2m-1205 1h2m2 0h2m3 0h6m2 0h2m2 0h55m5 0h2m9 0h2m5 0h2m27 0h2m1 0h2m402 0h5m1 0h4m5 0h2m1 0h4m2 0h2m1 0h6m5 0h4m82 0h2m4 0h2m401 0h2m2 0h2m1 0h2m1 0h4m7 0h2m2 0h2m4 0h5m12 0h2m10 0h2m4 0h2m1 0h2m27 0h2m35 0h2m-1205 1h2m7 0h3m2 0h2m1 0h2m1 0h52m1 0h2m2 0h2m4 0h2m36 0h2m5 0h2m1 0h2m12 0h2m366 0h2m21 0h2m4 0h3m4 0h6m7 0h6m5 0h2m84 0h2m387 0h2m6 0h2m6 0h2m2 0h2m1 0h2m2 0h5m2 0h3m8 0h5m4 0h2m5 0h2m17 0h2m7 0h2m1 0h2m-1128 1h52m1 0h9m1 0h2m4 0h2m16 0h2m18 0h4m20 0h2m366 0h2m23 0h2m2 0h3m3 0h6m2 0h2m5 0h2m1 0h2m24 0h2m454 0h2m6 0h2m2 0h2m2 0h2m5 0h2m2 0h5m1 0h4m7 0h6m8 0h7m27 0h2m-1147 1h2m1 0h2m13 0h2m1 0h50m1 0h6m1 0h2m5 0h3m17 0h2m9 0h2m9 0h2m406 0h2m1 0h3m1 0h2m1 0h4m3 0h5m3 0h4m2 0h2m7 0h3m5 0h2m8 0h2m1 0h2m12 0h2m440 0h2m6 0h2m2 0h2m2 0h2m9 0h2m1 0h2m1 0h2m5 0h2m1 0h3m4 0h2m2 0h2m2 0h4m1 0h3m-1119 1h2m1 0h2m1 0h4m8 0h2m4 0h47m1 0h2m2 0h4m2 0h2m2 0h3m25 0h2m1 0h2m417 0h2m1 0h3m4 0h2m2 0h2m2 0h3m4 0h4m1 0h5m5 0h3m5 0h2m3 0h2m3 0h2m2 0h2m11 0h2m2 0h2m45 0h2m384 0h2m11 0h2m1 0h2m1 0h2m1 0h2m8 0h2m1 0h4m3 0h2m1 0h2m1 0h2m1 0h2m1 0h7m3 0h2m2 0h3m6 0h2m58 0h2m34 0h2m-1224 1h2m5 0h4m4 0h2m1 0h2m2 0h2m2 0h43m1 0h6m3 0h2m2 0h2m8 0h4m1 0h2m15 0h3m416 0h2m4 0h5m6 0h2m3 0h2m2 0h4m3 0h2m1 0h3m17 0h2m7 0h2m6 0h2m6 0h3m27 0h2m6 0h2m8 0h2m384 0h2m14 0h2m1 0h2m1 0h3m1 0h2m5 0h3m1 0h2m3 0h2m7 0h13m4 0h4m4 0h3m42 0h2m14 0h2m34 0h2m-1224 1h2m2 0h2m9 0h2m1 0h2m2 0h3m1 0h38m1 0h2m2 0h7m1 0h2m4 0h2m8 0h4m1 0h2m16 0h2m416 0h2m4 0h5m6 0h2m1 0h9m3 0h2m3 0h2m34 0h2m6 0h2m28 0h2m1 0h3m2 0h2m7 0h2m5 0h2m13 0h2m375 0h3m8 0h2m1 0h2m3 0h5m1 0h3m8 0h2m2 0h2m1 0h3m1 0h5m6 0h2m4 0h2m43 0h2m-1168 1h2m11 0h2m4 0h2m1 0h49m2 0h3m3 0h3m1 0h2m9 0h2m62 0h2m386 0h3m1 0h3m1 0h2m1 0h2m3 0h2m1 0h2m77 0h3m11 0h2m5 0h2m13 0h2m375 0h3m8 0h2m4 0h4m5 0h2m8 0h2m5 0h5m1 0h2m3 0h2m23 0h2m4 0h2m-1132 1h3m9 0h3m1 0h29m1 0h7m4 0h2m3 0h4m1 0h6m9 0h2m62 0h2m353 0h2m24 0h2m2 0h2m1 0h2m3 0h2m1 0h5m4 0h4m7 0h2m69 0h2m15 0h2m5 0h2m403 0h2m3 0h3m10 0h2m9 0h2m3 0h5m16 0h2m5 0h2m4 0h2m-1144 1h2m7 0h2m1 0h2m10 0h32m1 0h10m1 0h5m1 0h4m3 0h4m2 0h2m36 0h2m386 0h2m24 0h2m1 0h3m5 0h2m2 0h3m6 0h2m1 0h2m6 0h2m15 0h2m34 0h2m16 0h2m5 0h2m2 0h4m2 0h2m5 0h2m397 0h3m3 0h2m3 0h3m10 0h2m2 0h2m2 0h4m4 0h3m18 0h2m-1131 1h2m7 0h2m4 0h2m2 0h44m1 0h3m1 0h5m14 0h2m36 0h2m410 0h2m3 0h3m5 0h2m5 0h2m1 0h2m4 0h2m23 0h2m34 0h2m6 0h2m3 0h2m1 0h4m5 0h2m2 0h8m404 0h4m2 0h2m20 0h2m1 0h5m-1101 1h2m10 0h2m1 0h41m1 0h6m2 0h4m2 0h2m6 0h3m54 0h2m26 0h2m368 0h2m6 0h2m7 0h2m1 0h5m18 0h2m53 0h2m3 0h5m4 0h2m7 0h6m17 0h2m365 0h2m14 0h2m4 0h2m7 0h2m13 0h2m3 0h2m7 0h2m-1110 1h2m1 0h2m3 0h2m3 0h3m2 0h2m1 0h2m2 0h4m1 0h28m1 0h5m4 0h8m2 0h2m2 0h3m4 0h2m45 0h2m1 0h2m9 0h2m2 0h2m11 0h2m367 0h2m3 0h2m2 0h2m3 0h2m1 0h3m2 0h2m6 0h2m1 0h3m6 0h5m36 0h2m20 0h2m3 0h5m8 0h2m1 0h2m2 0h2m13 0h2m365 0h2m10 0h2m2 0h2m12 0h3m13 0h2m10 0h4m3 0h2m4 0h3m-1122 1h2m1 0h2m3 0h2m3 0h3m3 0h10m1 0h25m2 0h4m1 0h2m2 0h3m1 0h6m2 0h2m5 0h3m1 0h2m29 0h2m3 0h2m9 0h2m12 0h2m2 0h2m380 0h2m3 0h2m7 0h2m1 0h2m8 0h2m1 0h2m1 0h3m6 0h2m1 0h2m36 0h2m14 0h2m5 0h8m5 0h6m1 0h2m2 0h3m5 0h2m1 0h2m380 0h3m12 0h2m2 0h2m8 0h3m15 0h2m5 0h2m4 0h3m-1119 1h2m12 0h4m2 0h5m2 0h6m1 0h12m1 0h9m3 0h2m2 0h10m5 0h2m2 0h3m1 0h4m27 0h2m2 0h3m8 0h3m3 0h2m3 0h2m375 0h2m18 0h2m18 0h2m26 0h2m39 0h2m1 0h2m2 0h7m3 0h2m4 0h6m3 0h2m1 0h2m5 0h2m1 0h2m380 0h2m13 0h2m2 0h2m8 0h3m-1090 1h2m14 0h10m1 0h2m2 0h4m1 0h20m4 0h2m1 0h2m2 0h6m7 0h2m6 0h4m1 0h2m7 0h2m19 0h4m1 0h3m2 0h4m3 0h2m3 0h2m375 0h2m8 0h2m8 0h2m29 0h2m1 0h2m12 0h2m36 0h2m1 0h2m5 0h3m7 0h2m3 0h5m1 0h6m1 0h2m2 0h2m2 0h2m401 0h2m6 0h2m4 0h4m13 0h2m10 0h3m-1123 1h2m6 0h2m10 0h4m3 0h31m2 0h2m1 0h2m2 0h5m5 0h2m11 0h2m1 0h2m7 0h2m21 0h2m1 0h3m2 0h2m3 0h2m1 0h2m389 0h2m5 0h2m21 0h2m9 0h2m1 0h2m4 0h2m44 0h2m8 0h2m3 0h9m1 0h5m1 0h5m6 0h2m2 0h2m387 0h2m20 0h2m4 0h4m3 0h2m8 0h2m10 0h3m-1115 1h2m7 0h4m6 0h9m1 0h2m2 0h5m2 0h4m2 0h4m5 0h2m5 0h2m5 0h2m25 0h2m14 0h2m4 0h2m1 0h2m5 0h4m1 0h2m394 0h4m21 0h2m1 0h2m15 0h2m2 0h2m27 0h2m11 0h2m6 0h4m3 0h5m2 0h2m1 0h2m1 0h2m2 0h2m6 0h4m4 0h2m385 0h2m16 0h2m2 0h2m2 0h2m7 0h2m7 0h2m13 0h2m-1129 1h2m11 0h2m7 0h6m4 0h5m2 0h3m3 0h5m1 0h6m2 0h3m3 0h2m1 0h2m3 0h4m4 0h2m26 0h2m13 0h3m3 0h3m1 0h3m1 0h5m399 0h2m26 0h2m1 0h2m7 0h2m7 0h2m27 0h2m11 0h2m6 0h9m3 0h2m1 0h4m1 0h7m3 0h4m2 0h2m2 0h2m395 0h2m6 0h2m6 0h2m6 0h2m2 0h2m4 0h2m7 0h2m4 0h3m-1130 1h2m19 0h2m3 0h2m6 0h3m1 0h4m3 0h5m1 0h5m4 0h2m3 0h2m6 0h2m6 0h4m35 0h2m2 0h2m4 0h2m2 0h7m415 0h2m15 0h2m7 0h2m24 0h2m31 0h14m1 0h9m1 0h2m3 0h4m2 0h2m6 0h2m391 0h2m14 0h2m6 0h2m2 0h2m8 0h2m3 0h2m5 0h2m-1119 1h2m6 0h4m2 0h2m8 0h2m1 0h4m1 0h15m1 0h2m2 0h3m17 0h2m35 0h2m6 0h2m1 0h2m1 0h2m1 0h2m2 0h2m12 0h2m399 0h2m5 0h2m6 0h2m10 0h2m16 0h2m5 0h2m22 0h4m2 0h5m1 0h24m1 0h4m2 0h2m5 0h2m1 0h2m396 0h2m4 0h2m3 0h2m1 0h2m17 0h2m2 0h2m9 0h2m-1122 1h2m6 0h2m4 0h2m8 0h5m3 0h8m1 0h6m1 0h2m1 0h4m1 0h2m4 0h2m45 0h2m1 0h2m3 0h2m1 0h4m6 0h2m5 0h2m5 0h2m364 0h2m37 0h2m1 0h2m6 0h2m10 0h2m13 0h2m1 0h2m29 0h4m2 0h23m1 0h9m4 0h3m4 0h2m9 0h2m388 0h2m4 0h2m6 0h2m3 0h2m16 0h2m9 0h2m59 0h2m-1194 1h2m18 0h2m3 0h3m7 0h4m3 0h2m2 0h2m1 0h6m2 0h2m3 0h2m1 0h4m4 0h4m4 0h2m40 0h14m2 0h5m2 0h5m370 0h2m37 0h2m22 0h2m12 0h2m32 0h3m2 0h3m2 0h19m2 0h8m2 0h2m1 0h2m8 0h2m5 0h2m355 0h2m6 0h2m4 0h2m26 0h2m8 0h2m16 0h2m70 0h2m-1194 1h2m6 0h2m6 0h2m1 0h3m3 0h4m5 0h2m6 0h2m2 0h2m1 0h3m1 0h2m2 0h2m6 0h4m6 0h2m4 0h2m22 0h2m16 0h11m1 0h2m2 0h6m1 0h2m1 0h2m390 0h2m41 0h2m17 0h2m26 0h4m2 0h5m1 0h18m2 0h7m1 0h7m1 0h2m5 0h2m362 0h2m6 0h2m1 0h2m1 0h2m13 0h2m11 0h2m26 0h2m61 0h2m-1177 1h2m6 0h2m1 0h3m3 0h4m5 0h2m6 0h2m2 0h2m7 0h4m6 0h3m8 0h2m27 0h2m16 0h12m3 0h7m4 0h2m390 0h2m60 0h2m21 0h2m3 0h6m3 0h2m1 0h18m2 0h14m2 0h2m380 0h2m4 0h2m10 0h2m18 0h2m8 0h2m23 0h2m47 0h2m-1173 1h2m11 0h2m15 0h2m4 0h3m3 0h4m2 0h2m7 0h2m5 0h2m11 0h2m27 0h3m5 0h9m3 0h2m1 0h3m5 0h2m3 0h2m401 0h2m67 0h4m1 0h2m2 0h2m6 0h8m1 0h7m1 0h11m1 0h5m9 0h3m378 0h2m30 0h2m8 0h2m23 0h2m-1134 1h2m8 0h2m10 0h2m1 0h4m6 0h2m3 0h2m4 0h5m1 0h4m2 0h2m2 0h2m3 0h2m7 0h4m7 0h2m24 0h2m1 0h5m2 0h4m1 0h4m1 0h2m1 0h5m11 0h2m390 0h2m9 0h2m11 0h2m1 0h2m53 0h2m1 0h7m1 0h4m1 0h6m2 0h18m4 0h3m9 0h3m359 0h2m57 0h2m3 0h2m-1112 1h2m18 0h4m1 0h4m3 0h2m1 0h2m2 0h3m6 0h3m5 0h2m4 0h3m9 0h6m2 0h2m29 0h2m3 0h3m2 0h2m3 0h7m1 0h5m2 0h2m399 0h2m14 0h2m6 0h2m1 0h2m41 0h2m15 0h5m1 0h4m3 0h3m1 0h20m2 0h2m3 0h2m369 0h2m21 0h2m6 0h2m26 0h2m3 0h2m70 0h2m-1171 1h2m5 0h4m6 0h4m4 0h4m4 0h2m2 0h4m2 0h2m5 0h3m8 0h2m6 0h2m25 0h2m4 0h2m2 0h7m1 0h3m1 0h2m3 0h5m2 0h2m15 0h2m398 0h2m52 0h2m19 0h2m1 0h3m1 0h2m1 0h28m2 0h2m382 0h2m8 0h2m6 0h2m103 0h2m-1171 1h2m12 0h2m1 0h5m3 0h2m6 0h8m6 0h2m2 0h3m42 0h3m3 0h2m2 0h10m1 0h6m1 0h5m1 0h2m15 0h2m368 0h2m19 0h2m21 0h2m56 0h2m1 0h14m1 0h17m1 0h2m1 0h4m384 0h2m27 0h2m42 0h2m-1107 1h2m3 0h3m1 0h2m7 0h2m1 0h2m2 0h2m6 0h4m1 0h2m43 0h2m2 0h2m5 0h7m2 0h12m17 0h2m369 0h2m19 0h2m13 0h2m6 0h2m50 0h2m3 0h17m2 0h8m2 0h8m3 0h4m376 0h2m35 0h2m42 0h2m-1111 1h6m1 0h2m4 0h2m4 0h2m1 0h2m5 0h3m6 0h3m1 0h2m4 0h2m15 0h2m23 0h3m1 0h7m1 0h3m1 0h14m1 0h4m11 0h2m2 0h2m379 0h2m20 0h2m19 0h2m37 0h2m3 0h2m1 0h3m3 0h28m3 0h3m377 0h2m68 0h2m2 0h2m-1104 1h4m3 0h2m10 0h4m7 0h2m6 0h2m2 0h2m1 0h2m1 0h2m15 0h2m23 0h3m1 0h7m1 0h3m1 0h19m15 0h2m379 0h2m41 0h2m21 0h2m19 0h2m3 0h4m1 0h33m420 0h2m25 0h2m2 0h2m-1111 1h2m7 0h2m1 0h2m1 0h2m2 0h2m7 0h2m18 0h2m2 0h2m1 0h2m35 0h2m2 0h4m2 0h2m2 0h2m1 0h8m1 0h5m3 0h6m462 0h2m24 0h5m2 0h32m373 0h2m44 0h2m-1080 1h2m7 0h2m1 0h2m1 0h3m1 0h2m1 0h2m4 0h2m15 0h2m1 0h2m5 0h2m35 0h2m2 0h2m4 0h2m1 0h16m2 0h3m1 0h2m1 0h2m3 0h2m6 0h2m469 0h2m3 0h3m1 0h4m2 0h8m1 0h13m2 0h2m1 0h3m1 0h2m7 0h2m361 0h2m1 0h2m19 0h2m7 0h2m68 0h2m-1144 1h2m12 0h2m7 0h2m4 0h2m4 0h2m15 0h2m23 0h2m25 0h2m2 0h3m1 0h17m1 0h5m7 0h3m5 0h2m356 0h2m110 0h5m1 0h2m2 0h4m3 0h21m9 0h2m7 0h2m364 0h2m19 0h2m7 0h2m68 0h2m-1144 1h2m12 0h2m42 0h2m2 0h2m13 0h2m25 0h2m2 0h3m1 0h17m1 0h5m1 0h4m3 0h2m363 0h2m97 0h2m11 0h2m1 0h10m1 0h2m1 0h4m2 0h13m1 0h6m373 0h2m-1015 1h2m14 0h2m17 0h2m1 0h3m21 0h2m22 0h2m1 0h2m2 0h4m2 0h4m1 0h2m1 0h5m1 0h4m10 0h2m455 0h2m14 0h7m1 0h6m1 0h3m3 0h12m1 0h6m14 0h2m357 0h2m10 0h2m13 0h2m79 0h2m-1123 1h2m14 0h2m14 0h2m4 0h2m22 0h2m22 0h2m1 0h8m3 0h17m1 0h2m7 0h2m465 0h2m4 0h3m5 0h10m3 0h7m1 0h2m2 0h2m2 0h2m6 0h2m7 0h2m369 0h2m6 0h2m5 0h2m1 0h2m31 0h2m43 0h2m-1143 1h2m7 0h2m41 0h2m42 0h2m9 0h11m2 0h20m474 0h2m4 0h5m5 0h5m1 0h15m2 0h2m2 0h2m6 0h2m386 0h2m8 0h2m31 0h2m-1098 1h2m7 0h2m85 0h2m5 0h2m2 0h11m1 0h10m2 0h5m1 0h2m475 0h2m2 0h2m1 0h4m1 0h25m3 0h5m4 0h2m477 0h2m43 0h2m-1168 1h2m52 0h2m26 0h2m3 0h5m1 0h4m1 0h10m2 0h5m15 0h2m449 0h2m14 0h2m1 0h12m1 0h3m2 0h2m1 0h4m2 0h10m5 0h2m374 0h2m101 0h2m27 0h2m14 0h2m-1168 1h2m52 0h2m22 0h2m6 0h2m3 0h2m1 0h4m1 0h9m3 0h2m17 0h2m449 0h2m3 0h2m14 0h6m5 0h3m2 0h6m6 0h7m19 0h2m357 0h2m1 0h2m49 0h2m50 0h2m27 0h2m-1161 1h2m3 0h2m37 0h2m41 0h2m6 0h4m1 0h2m3 0h2m1 0h6m1 0h6m439 0h2m33 0h2m12 0h2m5 0h2m5 0h2m1 0h5m2 0h2m4 0h2m3 0h2m19 0h2m357 0h2m34 0h2m16 0h2m5 0h2m-1111 1h2m22 0h2m3 0h2m5 0h2m30 0h2m34 0h2m15 0h2m2 0h2m1 0h2m3 0h5m3 0h4m377 0h2m60 0h2m43 0h2m1 0h3m1 0h2m2 0h4m3 0h2m1 0h2m1 0h2m2 0h4m2 0h2m3 0h2m1 0h2m375 0h2m2 0h2m18 0h2m7 0h2m1 0h2m23 0h2m1 0h2m-1114 1h2m27 0h2m5 0h2m12 0h2m52 0h2m19 0h5m1 0h6m15 0h2m368 0h2m105 0h2m1 0h2m2 0h2m1 0h2m1 0h2m14 0h3m4 0h3m3 0h2m370 0h2m3 0h2m2 0h2m18 0h2m7 0h2m29 0h2m-1064 1h2m3 0h2m53 0h2m9 0h3m2 0h3m1 0h3m1 0h2m2 0h2m12 0h2m1 0h2m482 0h2m6 0h2m9 0h2m5 0h3m1 0h4m370 0h2m4 0h2m8 0h2m-1006 1h2m6 0h2m45 0h2m5 0h2m2 0h3m3 0h2m1 0h6m2 0h3m3 0h2m9 0h2m461 0h2m27 0h2m2 0h3m1 0h2m2 0h2m8 0h2m374 0h2m2 0h2m3 0h2m3 0h4m-1000 1h2m5 0h2m45 0h2m2 0h2m2 0h4m3 0h3m4 0h2m3 0h2m18 0h2m452 0h2m22 0h2m7 0h6m2 0h2m384 0h3m1 0h2m1 0h4m5 0h2m-993 1h2m50 0h2m1 0h2m7 0h2m8 0h4m16 0h2m472 0h2m1 0h3m10 0h2m10 0h2m18 0h2m356 0h4m2 0h5m-1034 1h2m53 0h2m16 0h2m26 0h2m10 0h2m5 0h2m3 0h2m6 0h2m465 0h2m7 0h2m6 0h2m1 0h2m4 0h2m17 0h2m14 0h2m2 0h2m355 0h3m4 0h2m1 0h2m4 0h2m-1040 1h2m53 0h2m16 0h2m25 0h2m12 0h2m4 0h2m11 0h2m465 0h2m7 0h2m7 0h2m6 0h3m13 0h2m17 0h2m359 0h2m4 0h2m2 0h2m4 0h2m40 0h2m-1095 1h2m106 0h2m3 0h2m10 0h4m3 0h2m12 0h2m407 0h2m40 0h2m28 0h2m2 0h2m7 0h2m13 0h2m384 0h2m4 0h2m4 0h2m1 0h2m35 0h2m-1095 1h2m106 0h2m14 0h3m5 0h2m421 0h2m40 0h2m24 0h2m1 0h3m6 0h2m8 0h2m14 0h2m375 0h2m2 0h2m3 0h2m4 0h2m1 0h2m51 0h2m1 0h2m-990 1h4m494 0h3m1 0h2m7 0h2m8 0h2m14 0h2m374 0h3m1 0h3m1 0h4m4 0h2m1 0h2m51 0h2m1 0h2m-997 1h2m7 0h4m492 0h2m21 0h2m388 0h5m1 0h2m2 0h8m2 0h3m-1027 1h2m84 0h2m9 0h2m515 0h2m388 0h4m1 0h4m1 0h2m2 0h4m2 0h2m7 0h2m-1035 1h2m1002 0h3m2 0h4m2 0h4m6 0h2m6 0h2m75 0h2m-1014 1h2m531 0h2m372 0h14m6 0h2m83 0h2m-1014 1h2m531 0h2m371 0h2m1 0h11m3 0h2m-1059 1h2m1038 0h5m1 0h4m1 0h4m2 0h3m1 0h2m57 0h2m9 0h2m-1133 1h2m1038 0h10m1 0h4m3 0h2m1 0h2m57 0h2m9 0h2m11 0h2m-1128 1h2m1021 0h3m1 0h4m1 0h2m3 0h4m85 0h2m1 0h2m-1136 1h2m3 0h2m1021 0h3m6 0h2m3 0h4m5 0h2m81 0h2m-1136 1h2m13 0h2m1012 0h2m4 0h3m3 0h2m8 0h2m7 0h2m51 0h2m-1100 1h2m88 0h2m928 0h3m3 0h2m9 0h2m6 0h2m51 0h2m-1010 1h2m502 0h2m416 0h7m2 0h2m4 0h2m2 0h2m4 0h4m-447 1h2m416 0h8m1 0h2m4 0h2m1 0h5m2 0h4m81 0h2m66 0h2m-1147 1h2m966 0h8m6 0h5m1 0h2m2 0h2m27 0h2m54 0h2m66 0h2m-1165 1h2m16 0h2m965 0h11m4 0h5m34 0h2m16 0h2m-1059 1h2m983 0h8m1 0h2m2 0h8m2 0h2m1 0h2m30 0h2m12 0h2m-74 1h15m2 0h4m1 0h3m1 0h2m30 0h2m70 0h2m-132 1h19m1 0h4m2 0h2m81 0h2m19 0h2m-1130 1h2m996 0h13m1 0h5m1 0h3m74 0h2m10 0h2m-1109 1h2m11 0h2m983 0h12m2 0h5m78 0h2m-1084 1h2m983 0h12m2 0h6m6 0h2m1 0h2m62 0h2m-94 1h15m1 0h3m6 0h2m1 0h2m62 0h2m-497 1h2m401 0h19m177 0h2m-601 1h2m400 0h14m1 0h4m8 0h2m123 0h2m43 0h2m-1104 1h2m903 0h10m1 0h4m5 0h2m5 0h2m49 0h2m72 0h2m-1059 1h2m903 0h15m1 0h6m6 0h2m48 0h2m-78 1h12m2 0h4m1 0h3m4 0h2m-1034 1h2m1002 0h16m2 0h2m1 0h3m56 0h3m-1087 1h2m1002 0h4m1 0h6m1 0h4m5 0h2m57 0h3m-1105 1h2m1020 0h3m2 0h6m1 0h4m5 0h2m6 0h2m-1053 1h2m1020 0h11m1 0h3m4 0h2m8 0h2m-30 1h14m2 0h4m-20 1h8m1 0h5m1 0h3m2 0h3m-1016 1h2m76 0h2m912 0h2m2 0h7m2 0h2m1 0h2m3 0h3m-1016 1h2m5 0h2m69 0h2m912 0h13m3 0h2m1 0h5m-1012 1h2m1 0h2m6 0h2m976 0h7m1 0h5m2 0h6m7 0h2m-1059 1h2m38 0h2m9 0h2m975 0h7m1 0h6m2 0h4m9 0h2m-1059 1h2m1026 0h7m1 0h5m3 0h2m2 0h2m3 0h2m-1007 1h2m983 0h2m1 0h10m2 0h2m3 0h2m-1007 1h2m42 0h2m935 0h2m2 0h4m1 0h8m1 0h2m-957 1h2m935 0h2m2 0h10m4 0h2m-17 1h2m3 0h2m2 0h2m2 0h2m12 0h2m-31 1h4m3 0h2m2 0h2m2 0h2m4 0h2m6 0h2m-31 1h4m7 0h6m1 0h2m1 0h2m101 0h2m-125 1h3m5 0h2m2 0h4m1 0h4m102 0h2m-128 1h2m1 0h2m3 0h6m3 0h2m3 0h2m120 0h2m-146 1h2m1 0h2m3 0h6m130 0h2m-1164 1h2m52 0h2m968 0h4m1 0h2m2 0h2m-1035 1h2m52 0h2m968 0h2m3 0h2m2 0h2m-14 1h2m-2 1h2m6 0h2m9 0h2m-19 1h2m4 0h2m1 0h2m5 0h3m-24 1h2m1 0h4m7 0h2m2 0h5m9 0h2m-34 1h2m1 0h2m6 0h2m2 0h2m1 0h4m10 0h2m1 0h2m-36 1h2m2 0h2m4 0h2m2 0h2m11 0h2m5 0h2m-36 1h2m2 0h3m20 0h2m-24 1h2m6 0h2m58 0h2m-70 1h2m1 0h2m3 0h2m58 0h2m-70 1h2m1 0h2m-5 2h2m-2 1h2m3 0h2m6 0h2m-20 1h2m3 0h2m3 0h2m6 0h2m8 0h2m-31 1h4m6 0h2m7 0h2m8 0h2m-31 1h4m6 0h2m6 0h3m-3 1h2m10 0h2m-2 1h2m-19 6h2m-2 1h2m-8 2h2m-2 1h2m221 207h2m-2 1h2m-16 2h2m-35 1h2m31 0h2m-35 1h2m39 0h2m-2 1h2m-30 1h2m5 0h2m-26 1h2m15 0h2m5 0h2m-26 1h2m18 0h2m19 0h2m8 0h2m9 0h2m-44 1h2m19 0h2m8 0h2m9 0h2m-76 1h2m31 0h2m11 0h2m8 0h2m-58 1h2m17 0h2m12 0h2m3 0h3m5 0h2m8 0h4m-41 1h2m17 0h3m4 0h2m8 0h2m1 0h2m6 0h2m-85 1h2m60 0h2m8 0h2m9 0h2m-85 1h2m21 0h2m6 0h2m9 0h2m6 0h2m8 0h2m35 0h2m-76 1h2m6 0h2m9 0h2m6 0h2m3 0h4m1 0h2m35 0h2m-88 1h2m35 0h2m5 0h5m10 0h2m13 0h2m-76 1h2m12 0h2m14 0h2m5 0h3m5 0h5m2 0h2m1 0h2m2 0h2m13 0h2m-491 1h2m425 0h4m14 0h2m5 0h3m8 0h2m2 0h2m1 0h2m1 0h2m12 0h2m-489 1h2m389 0h2m34 0h4m1 0h2m6 0h4m8 0h5m3 0h4m9 0h2m3 0h2m7 0h2m-98 1h2m37 0h4m6 0h4m5 0h10m1 0h6m3 0h6m3 0h2m-492 1h2m440 0h2m2 0h2m10 0h2m1 0h6m2 0h2m3 0h4m3 0h4m-485 1h2m415 0h2m23 0h2m2 0h2m9 0h3m1 0h2m2 0h3m6 0h2m3 0h2m3 0h2m5 0h2m1 0h2m-88 1h2m7 0h2m24 0h2m9 0h2m1 0h2m2 0h2m3 0h2m5 0h2m4 0h2m3 0h2m5 0h2m1 0h2m-502 1h2m412 0h2m10 0h2m21 0h2m9 0h2m2 0h7m1 0h2m5 0h4m11 0h4m-498 1h2m416 0h2m6 0h2m2 0h2m25 0h2m5 0h7m1 0h2m1 0h2m3 0h3m5 0h2m1 0h2m1 0h5m-81 1h2m10 0h2m8 0h2m3 0h2m1 0h2m1 0h2m4 0h2m8 0h6m2 0h2m3 0h3m5 0h2m1 0h2m4 0h3m-109 1h2m12 0h2m28 0h2m1 0h4m3 0h2m1 0h2m1 0h2m4 0h2m9 0h5m2 0h4m1 0h7m1 0h2m8 0h2m6 0h2m-117 1h2m12 0h2m16 0h2m10 0h2m1 0h2m10 0h2m2 0h2m1 0h2m5 0h8m5 0h2m1 0h8m16 0h4m-521 1h2m411 0h2m21 0h2m7 0h2m4 0h2m10 0h6m8 0h8m11 0h5m1 0h2m2 0h2m9 0h2m1 0h2m4 0h2m5 0h2m-535 1h2m6 0h2m403 0h2m12 0h2m1 0h2m13 0h2m3 0h3m6 0h3m3 0h2m3 0h2m9 0h2m2 0h2m1 0h3m6 0h3m1 0h3m2 0h4m10 0h2m4 0h2m5 0h2m-527 1h2m417 0h2m1 0h2m18 0h2m1 0h2m4 0h3m2 0h3m2 0h3m2 0h2m2 0h2m1 0h10m6 0h3m1 0h2m5 0h2m4 0h2m-533 1h2m4 0h2m439 0h2m2 0h2m8 0h2m1 0h3m3 0h2m5 0h2m2 0h2m3 0h2m1 0h4m1 0h3m2 0h3m1 0h6m5 0h2m1 0h2m4 0h2m1 0h7m-533 1h2m4 0h2m4 0h2m9 0h2m399 0h2m23 0h4m8 0h2m1 0h3m4 0h8m7 0h2m1 0h3m2 0h3m3 0h2m2 0h5m8 0h3m1 0h4m1 0h6m13 0h2m-537 1h4m9 0h2m399 0h2m23 0h2m7 0h3m7 0h2m1 0h6m8 0h2m3 0h7m1 0h4m4 0h5m4 0h8m22 0h2m-545 1h2m6 0h3m422 0h2m3 0h2m16 0h3m7 0h2m5 0h2m8 0h12m1 0h4m5 0h4m1 0h2m1 0h7m15 0h2m-537 1h2m7 0h2m3 0h2m1 0h2m414 0h2m3 0h2m3 0h2m6 0h2m4 0h3m13 0h2m1 0h2m1 0h10m1 0h2m1 0h2m2 0h4m4 0h4m1 0h2m1 0h3m2 0h2m4 0h2m9 0h2m-546 1h2m16 0h2m3 0h2m1 0h2m3 0h2m419 0h2m6 0h2m3 0h4m8 0h2m3 0h16m1 0h5m3 0h4m5 0h2m4 0h3m2 0h4m2 0h2m-535 1h2m16 0h2m11 0h2m423 0h3m6 0h4m1 0h2m5 0h2m5 0h7m3 0h2m4 0h4m3 0h4m3 0h6m2 0h5m2 0h2m3 0h2m11 0h2m-542 1h4m437 0h2m6 0h3m2 0h2m3 0h3m1 0h2m13 0h6m3 0h2m2 0h7m2 0h4m3 0h7m1 0h5m7 0h2m11 0h2m-544 1h6m14 0h2m398 0h2m21 0h2m7 0h2m2 0h2m1 0h2m1 0h3m1 0h2m1 0h4m5 0h7m4 0h2m2 0h2m2 0h3m2 0h2m1 0h2m1 0h2m1 0h5m16 0h2m-534 1h4m13 0h2m1 0h2m398 0h2m15 0h2m15 0h2m2 0h3m2 0h2m1 0h2m1 0h4m2 0h2m1 0h10m2 0h2m1 0h2m3 0h2m2 0h8m2 0h2m1 0h2m2 0h2m4 0h5m2 0h2m-561 1h2m23 0h2m2 0h2m4 0h3m6 0h2m418 0h2m5 0h4m3 0h2m1 0h6m3 0h2m10 0h2m2 0h4m1 0h8m3 0h7m2 0h5m2 0h2m2 0h2m2 0h2m4 0h6m-558 1h2m23 0h2m3 0h2m3 0h3m433 0h4m3 0h4m1 0h2m6 0h2m4 0h2m8 0h2m1 0h3m1 0h5m1 0h6m1 0h13m3 0h2m9 0h4m-531 1h7m438 0h3m2 0h5m1 0h2m2 0h2m2 0h2m3 0h3m3 0h2m1 0h7m2 0h4m2 0h6m1 0h6m1 0h5m4 0h2m3 0h3m-524 1h4m1 0h2m5 0h2m431 0h3m1 0h5m4 0h6m2 0h2m1 0h4m2 0h8m1 0h7m2 0h3m5 0h2m1 0h2m2 0h2m2 0h2m1 0h4m1 0h4m6 0h2m-1160 1h1m615 0h2m4 0h3m15 0h2m422 0h2m6 0h7m7 0h16m2 0h6m2 0h4m1 0h7m2 0h5m1 0h2m2 0h2m2 0h2m1 0h4m1 0h4m6 0h2m-546 1h4m4 0h3m439 0h2m6 0h7m6 0h4m1 0h4m2 0h7m1 0h7m1 0h3m1 0h2m1 0h4m3 0h6m9 0h4m5 0h2m3 0h2m4 0h2m-566 1h2m15 0h4m5 0h3m3 0h4m431 0h2m3 0h2m1 0h4m5 0h2m1 0h4m1 0h2m6 0h6m1 0h7m1 0h12m2 0h2m1 0h3m1 0h2m3 0h2m1 0h4m10 0h2m4 0h2m-566 1h2m2 0h2m8 0h3m5 0h3m1 0h3m1 0h6m408 0h2m1 0h2m18 0h4m1 0h7m5 0h15m2 0h13m1 0h8m1 0h3m1 0h6m2 0h4m1 0h3m2 0h4m14 0h2m-582 1h2m1 0h2m15 0h2m8 0h3m5 0h6m2 0h4m3 0h2m9 0h2m377 0h2m15 0h2m1 0h4m16 0h4m2 0h2m7 0h6m2 0h31m1 0h10m2 0h6m2 0h5m1 0h2m14 0h2m5 0h2m-589 1h2m1 0h2m20 0h3m10 0h6m2 0h5m2 0h2m9 0h2m377 0h2m20 0h2m12 0h6m9 0h3m1 0h8m1 0h16m2 0h23m2 0h4m2 0h2m1 0h4m3 0h2m6 0h2m11 0h2m1 0h2m-567 1h3m6 0h2m2 0h5m6 0h2m407 0h2m3 0h2m14 0h5m5 0h2m3 0h3m1 0h3m3 0h2m1 0h2m1 0h3m1 0h4m1 0h2m1 0h2m1 0h5m1 0h2m1 0h5m1 0h7m4 0h10m1 0h2m1 0h3m6 0h2m14 0h2m-612 1h2m25 0h2m11 0h4m2 0h3m1 0h10m1 0h3m1 0h2m411 0h2m2 0h3m6 0h2m6 0h2m8 0h2m6 0h4m2 0h7m4 0h7m1 0h8m1 0h2m1 0h27m1 0h2m1 0h2m3 0h2m-592 1h2m25 0h2m10 0h5m3 0h2m1 0h9m1 0h7m374 0h2m8 0h2m24 0h2m3 0h2m7 0h2m2 0h2m2 0h2m4 0h3m2 0h2m5 0h4m1 0h3m1 0h7m1 0h7m1 0h15m1 0h7m1 0h6m1 0h2m1 0h2m6 0h2m4 0h2m-572 1h2m10 0h2m3 0h5m7 0h8m3 0h6m375 0h2m8 0h3m4 0h2m17 0h2m16 0h2m2 0h2m4 0h7m2 0h2m1 0h4m1 0h6m1 0h4m2 0h2m2 0h18m1 0h11m4 0h2m1 0h3m4 0h3m6 0h2m-1163 1h2m587 0h2m3 0h2m4 0h3m3 0h4m8 0h4m2 0h2m4 0h4m5 0h3m379 0h2m4 0h2m7 0h2m30 0h3m6 0h3m1 0h4m1 0h2m4 0h14m1 0h43m2 0h3m2 0h6m-569 1h2m4 0h2m4 0h2m6 0h2m2 0h4m2 0h5m1 0h7m2 0h3m2 0h2m5 0h2m355 0h2m13 0h2m11 0h2m12 0h2m12 0h2m3 0h3m1 0h2m5 0h3m1 0h4m3 0h15m1 0h26m1 0h11m3 0h2m2 0h3m2 0h5m1 0h2m-1169 1h3m4 0h2m568 0h2m18 0h3m15 0h2m1 0h9m2 0h4m1 0h8m6 0h2m5 0h2m355 0h2m13 0h2m25 0h2m12 0h2m4 0h2m1 0h2m5 0h2m2 0h2m4 0h32m3 0h12m1 0h2m3 0h5m4 0h6m2 0h2m1 0h2m-592 1h2m18 0h2m16 0h2m1 0h5m1 0h4m1 0h6m1 0h2m2 0h2m393 0h2m41 0h4m9 0h33m3 0h21m1 0h3m5 0h5m19 0h2m-587 1h2m2 0h2m8 0h2m2 0h2m2 0h17m1 0h2m3 0h2m392 0h2m1 0h2m25 0h3m9 0h5m2 0h2m4 0h35m2 0h25m6 0h2m21 0h2m-1197 1h1m603 0h2m4 0h2m2 0h2m1 0h2m5 0h6m2 0h9m1 0h2m1 0h4m6 0h2m395 0h2m3 0h2m16 0h2m2 0h3m6 0h2m1 0h5m2 0h3m2 0h36m2 0h15m2 0h7m9 0h2m4 0h2m12 0h2m-1197 1h1m604 0h2m8 0h2m1 0h4m4 0h4m3 0h4m3 0h4m1 0h2m15 0h2m366 0h2m12 0h2m4 0h2m6 0h2m16 0h2m11 0h2m3 0h4m1 0h9m1 0h41m2 0h5m2 0h4m12 0h2m4 0h2m12 0h2m-1197 1h1m6 0h2m3 0h1m577 0h2m14 0h2m1 0h2m3 0h2m4 0h2m6 0h3m1 0h4m6 0h2m1 0h2m15 0h2m343 0h2m21 0h2m12 0h2m4 0h2m17 0h2m6 0h2m13 0h6m4 0h7m1 0h47m2 0h5m1 0h2m5 0h2m9 0h2m-1176 1h2m579 0h2m14 0h2m1 0h2m3 0h2m10 0h5m1 0h5m2 0h2m1 0h4m361 0h2m12 0h2m2 0h2m27 0h2m13 0h2m6 0h2m4 0h2m2 0h2m2 0h6m2 0h10m2 0h46m3 0h9m2 0h4m8 0h2m-1185 1h1m587 0h2m4 0h4m8 0h5m3 0h2m3 0h2m3 0h7m4 0h2m1 0h3m1 0h4m1 0h2m372 0h2m2 0h2m27 0h2m10 0h4m2 0h2m2 0h4m3 0h2m2 0h10m2 0h44m1 0h6m1 0h6m3 0h15m2 0h2m4 0h2m-1186 1h2m3 0h2m2 0h2m4 0h1m573 0h2m4 0h6m7 0h2m1 0h2m2 0h2m3 0h3m1 0h7m5 0h2m1 0h3m1 0h2m3 0h2m395 0h2m10 0h2m1 0h2m5 0h4m1 0h3m2 0h4m2 0h2m1 0h3m1 0h8m4 0h5m1 0h40m1 0h9m4 0h3m1 0h2m1 0h3m6 0h4m14 0h2m-1199 1h1m1 0h2m2 0h1m582 0h2m9 0h2m9 0h6m5 0h2m1 0h4m1 0h2m1 0h2m2 0h2m5 0h2m5 0h2m360 0h2m9 0h2m20 0h2m6 0h2m2 0h5m10 0h2m9 0h6m1 0h5m4 0h2m1 0h55m5 0h6m1 0h2m3 0h4m1 0h3m14 0h2m8 0h2m-1213 1h2m2 0h1m2 0h2m2 0h1m1 0h1m1 0h1m7 0h1m564 0h2m2 0h3m11 0h2m7 0h6m1 0h2m7 0h5m1 0h3m1 0h2m12 0h2m360 0h2m9 0h2m8 0h2m14 0h6m2 0h5m10 0h2m9 0h4m5 0h2m5 0h67m8 0h4m28 0h2m-1204 1h1m1 0h1m2 0h2m3 0h1m568 0h2m2 0h2m5 0h2m2 0h2m1 0h2m1 0h2m1 0h2m1 0h3m3 0h14m1 0h7m12 0h2m364 0h2m15 0h2m14 0h9m2 0h2m2 0h2m6 0h2m10 0h2m5 0h2m3 0h2m1 0h67m10 0h2m-1181 1h5m2 0h3m7 0h1m563 0h2m14 0h2m2 0h2m1 0h2m1 0h5m1 0h4m2 0h14m1 0h5m6 0h2m372 0h2m3 0h2m26 0h2m2 0h7m4 0h2m10 0h6m1 0h3m1 0h2m2 0h2m3 0h2m1 0h53m1 0h3m1 0h4m12 0h2m8 0h2m26 0h2m-1221 1h2m1 0h4m5 0h2m572 0h2m12 0h2m1 0h3m5 0h6m2 0h6m4 0h7m1 0h7m2 0h2m2 0h2m377 0h2m16 0h2m7 0h2m2 0h2m2 0h6m2 0h2m10 0h6m1 0h3m1 0h2m5 0h5m2 0h2m1 0h2m2 0h51m3 0h2m9 0h2m4 0h2m2 0h2m26 0h2m-1222 1h3m3 0h4m3 0h1m587 0h2m1 0h5m3 0h6m2 0h16m2 0h7m2 0h2m1 0h4m7 0h2m380 0h2m1 0h4m7 0h2m2 0h2m2 0h2m2 0h6m1 0h4m4 0h3m7 0h4m5 0h64m4 0h2m1 0h2m2 0h4m5 0h3m-1184 1h4m1 0h1m1 0h1m4 0h1m585 0h2m1 0h3m1 0h23m4 0h8m4 0h4m7 0h2m373 0h6m1 0h2m1 0h2m4 0h2m6 0h3m2 0h2m4 0h2m3 0h6m1 0h4m2 0h2m3 0h4m4 0h4m1 0h53m1 0h7m6 0h3m1 0h4m5 0h2m-1187 1h1m1 0h2m5 0h2m1 0h3m581 0h3m3 0h2m2 0h2m1 0h2m1 0h12m2 0h5m1 0h3m3 0h3m1 0h2m1 0h2m9 0h2m347 0h2m17 0h2m6 0h9m1 0h2m6 0h2m6 0h4m1 0h4m10 0h8m2 0h2m8 0h2m1 0h4m2 0h52m1 0h7m4 0h5m-1181 1h1m5 0h1m3 0h2m1 0h1m4 0h1m3 0h2m578 0h3m4 0h2m2 0h2m3 0h2m1 0h10m3 0h12m3 0h7m6 0h2m347 0h2m13 0h2m2 0h2m6 0h3m4 0h7m10 0h2m1 0h3m1 0h4m11 0h5m5 0h5m4 0h2m4 0h55m1 0h6m5 0h5m1 0h3m1 0h2m3 0h2m4 0h2m7 0h2m-1208 1h1m3 0h2m4 0h1m2 0h1m1 0h2m2 0h1m578 0h2m9 0h3m1 0h6m2 0h12m1 0h5m2 0h7m1 0h2m1 0h4m370 0h2m18 0h6m6 0h2m2 0h5m9 0h2m9 0h2m1 0h2m2 0h8m5 0h8m1 0h55m1 0h3m1 0h5m1 0h6m3 0h2m4 0h2m7 0h3m-1207 1h1m8 0h2m2 0h2m570 0h2m5 0h2m1 0h3m4 0h2m4 0h29m2 0h2m1 0h4m2 0h2m376 0h2m11 0h2m3 0h2m1 0h2m1 0h2m4 0h5m1 0h4m8 0h4m10 0h2m2 0h9m4 0h2m3 0h63m1 0h3m2 0h6m3 0h2m1 0h2m12 0h2m13 0h2m-1223 1h1m4 0h1m3 0h1m6 0h2m568 0h2m5 0h2m1 0h2m5 0h2m4 0h25m6 0h3m2 0h2m2 0h2m2 0h2m368 0h2m2 0h2m1 0h2m7 0h3m1 0h2m2 0h2m2 0h2m3 0h8m1 0h2m1 0h6m3 0h2m13 0h4m1 0h2m1 0h7m4 0h61m7 0h3m3 0h2m2 0h2m1 0h2m5 0h2m20 0h2m-1232 1h1m11 0h8m4 0h3m583 0h4m3 0h4m1 0h22m1 0h3m2 0h6m6 0h2m354 0h2m4 0h2m5 0h3m5 0h2m5 0h4m2 0h2m2 0h2m3 0h2m1 0h3m2 0h4m3 0h7m3 0h4m3 0h2m1 0h9m4 0h7m5 0h53m1 0h5m2 0h8m4 0h2m6 0h2m1 0h2m1 0h2m-1212 1h2m9 0h2m1 0h2m4 0h2m1 0h2m1 0h1m576 0h2m5 0h6m2 0h32m3 0h5m6 0h2m354 0h2m4 0h4m3 0h3m12 0h2m1 0h2m10 0h2m1 0h2m3 0h2m5 0h2m2 0h4m1 0h2m1 0h2m3 0h2m1 0h5m11 0h2m3 0h57m1 0h2m1 0h2m1 0h9m2 0h2m8 0h2m1 0h2m-1204 1h1m3 0h1m5 0h1m5 0h1m1 0h1m2 0h1m569 0h2m5 0h2m5 0h3m4 0h35m1 0h5m5 0h2m5 0h2m356 0h2m20 0h3m1 0h2m1 0h4m2 0h2m5 0h2m1 0h2m3 0h11m4 0h3m3 0h6m9 0h4m1 0h54m1 0h6m1 0h4m1 0h5m3 0h2m12 0h2m-1205 1h1m8 0h3m2 0h2m575 0h2m13 0h4m2 0h42m2 0h4m5 0h2m378 0h11m1 0h3m1 0h2m2 0h2m1 0h2m3 0h7m1 0h2m5 0h3m3 0h2m1 0h3m1 0h2m1 0h2m1 0h2m2 0h11m1 0h61m19 0h2m3 0h2m-1224 1h1m6 0h1m6 0h1m6 0h1m1 0h1m4 0h2m580 0h2m2 0h2m1 0h2m3 0h2m2 0h46m8 0h2m364 0h2m4 0h2m2 0h4m1 0h2m1 0h2m2 0h5m2 0h2m3 0h2m3 0h2m1 0h2m1 0h3m5 0h2m10 0h2m2 0h8m3 0h6m2 0h64m24 0h2m-1198 1h1m1 0h1m5 0h2m574 0h2m2 0h2m1 0h2m1 0h2m1 0h2m1 0h2m1 0h41m1 0h2m7 0h2m350 0h2m12 0h2m2 0h10m1 0h4m5 0h2m8 0h2m3 0h2m2 0h5m5 0h2m3 0h2m5 0h2m3 0h2m1 0h2m5 0h69m1 0h2m1 0h2m6 0h4m-1218 1h1m2 0h1m18 0h1m597 0h2m4 0h3m1 0h4m1 0h41m2 0h2m1 0h2m356 0h2m16 0h3m1 0h2m2 0h2m3 0h3m4 0h3m12 0h3m1 0h10m4 0h5m2 0h5m1 0h2m2 0h4m3 0h54m1 0h15m1 0h3m3 0h2m1 0h4m-1218 1h1m18 0h1m18 0h1m571 0h3m7 0h8m1 0h47m5 0h2m5 0h2m368 0h2m6 0h4m1 0h2m4 0h3m4 0h2m4 0h2m1 0h2m3 0h9m1 0h11m1 0h2m4 0h5m3 0h6m1 0h66m4 0h3m5 0h2m-1206 1h1m3 0h1m6 0h3m1 0h1m579 0h3m8 0h5m2 0h51m1 0h2m6 0h2m371 0h2m3 0h4m2 0h3m3 0h2m1 0h2m1 0h2m4 0h3m2 0h2m4 0h2m2 0h6m1 0h2m1 0h2m1 0h4m4 0h4m6 0h55m1 0h3m2 0h8m1 0h2m4 0h3m4 0h2m-1225 1h2m11 0h1m5 0h1m9 0h1m4 0h2m584 0h2m8 0h4m1 0h41m1 0h6m1 0h2m379 0h2m5 0h2m2 0h3m4 0h4m1 0h2m4 0h4m1 0h2m2 0h4m1 0h2m1 0h5m3 0h2m1 0h2m7 0h5m3 0h56m1 0h6m3 0h2m1 0h6m3 0h2m-1204 1h2m2 0h1m8 0h2m3 0h1m10 0h1m575 0h2m5 0h54m2 0h2m9 0h2m369 0h2m5 0h2m8 0h5m1 0h2m3 0h2m1 0h5m1 0h4m2 0h2m4 0h2m3 0h2m1 0h2m7 0h2m1 0h2m3 0h71m2 0h2m1 0h2m5 0h3m-1229 1h1m4 0h1m18 0h2m4 0h2m16 0h1m580 0h5m3 0h48m2 0h2m9 0h2m348 0h2m19 0h2m4 0h2m4 0h3m2 0h2m2 0h3m2 0h4m2 0h2m2 0h4m1 0h2m7 0h2m2 0h2m1 0h4m5 0h2m1 0h4m1 0h2m1 0h51m1 0h15m3 0h5m3 0h5m14 0h2m-1245 1h1m4 0h1m13 0h1m10 0h1m15 0h2m581 0h2m1 0h54m2 0h2m356 0h4m14 0h2m9 0h2m4 0h5m2 0h5m2 0h2m6 0h4m3 0h2m3 0h6m7 0h2m5 0h2m3 0h4m1 0h4m2 0h50m1 0h10m2 0h5m5 0h2m14 0h2m1 0h2m-1234 1h1m3 0h2m8 0h1m10 0h1m1 0h1m594 0h54m1 0h2m5 0h2m349 0h2m16 0h2m9 0h2m6 0h3m2 0h4m3 0h2m6 0h2m4 0h3m3 0h5m1 0h2m12 0h2m3 0h61m1 0h11m1 0h3m5 0h2m1 0h2m13 0h2m-1249 1h2m19 0h1m1 0h1m12 0h1m3 0h1m4 0h1m580 0h2m3 0h2m8 0h57m4 0h2m360 0h3m7 0h2m2 0h2m2 0h2m2 0h6m1 0h6m3 0h2m12 0h3m5 0h3m1 0h2m10 0h5m4 0h71m1 0h3m5 0h2m1 0h2m-1217 1h2m4 0h1m2 0h2m4 0h1m3 0h2m2 0h1m585 0h2m2 0h3m8 0h58m7 0h2m356 0h3m7 0h2m2 0h2m6 0h6m1 0h3m1 0h2m3 0h2m14 0h2m5 0h2m1 0h2m2 0h2m6 0h5m4 0h57m1 0h13m1 0h2m1 0h2m-1239 1h1m9 0h2m22 0h1m9 0h4m10 0h1m1 0h1m3 0h1m578 0h4m7 0h58m7 0h2m370 0h4m5 0h5m26 0h2m5 0h2m1 0h2m2 0h2m2 0h4m1 0h4m2 0h2m1 0h63m1 0h6m1 0h5m2 0h2m2 0h2m-1247 1h1m9 0h2m4 0h1m15 0h1m2 0h2m2 0h2m4 0h1m10 0h2m587 0h2m3 0h2m2 0h47m1 0h2m2 0h2m1 0h2m380 0h4m7 0h2m7 0h5m1 0h2m1 0h2m13 0h2m1 0h4m6 0h5m2 0h9m2 0h56m1 0h2m2 0h16m2 0h2m-1232 1h2m3 0h1m15 0h2m1 0h1m2 0h1m1 0h1m1 0h1m4 0h2m1 0h1m5 0h3m574 0h2m3 0h2m6 0h2m5 0h47m1 0h3m377 0h2m4 0h2m18 0h5m1 0h5m13 0h2m1 0h4m6 0h5m4 0h12m1 0h43m1 0h8m1 0h2m4 0h2m1 0h9m2 0h2m-1225 1h4m7 0h1m1 0h1m2 0h5m1 0h2m1 0h2m6 0h3m581 0h2m3 0h2m8 0h4m1 0h47m1 0h2m5 0h2m371 0h2m17 0h2m2 0h2m4 0h2m3 0h2m19 0h2m5 0h3m1 0h2m5 0h9m1 0h55m1 0h2m6 0h2m2 0h2m5 0h2m-1220 1h2m2 0h5m4 0h2m1 0h5m2 0h1m6 0h1m582 0h2m9 0h2m1 0h52m1 0h2m1 0h2m2 0h2m1 0h2m379 0h2m6 0h2m2 0h2m4 0h2m5 0h2m10 0h3m4 0h3m4 0h2m2 0h2m3 0h6m1 0h2m1 0h51m2 0h4m1 0h3m9 0h2m1 0h2m2 0h2m1 0h2m-1239 1h2m12 0h1m3 0h1m2 0h3m2 0h3m1 0h1m1 0h1m2 0h5m3 0h1m3 0h3m474 0h2m103 0h2m5 0h2m2 0h2m2 0h2m1 0h2m1 0h51m3 0h5m365 0h2m7 0h2m2 0h2m12 0h2m2 0h2m2 0h2m1 0h2m2 0h2m6 0h4m4 0h2m2 0h4m7 0h2m6 0h50m3 0h5m2 0h3m1 0h3m5 0h2m1 0h2m2 0h2m1 0h2m6 0h2m-1233 1h1m2 0h3m1 0h17m1 0h1m2 0h2m1 0h1m2 0h2m474 0h2m110 0h2m4 0h5m4 0h45m1 0h3m4 0h2m1 0h2m362 0h2m1 0h2m5 0h4m12 0h2m2 0h2m3 0h2m1 0h2m5 0h2m3 0h2m3 0h2m4 0h2m2 0h2m16 0h3m1 0h3m1 0h2m2 0h39m3 0h5m2 0h2m1 0h4m2 0h5m4 0h2m10 0h2m-1240 1h1m4 0h3m1 0h4m1 0h1m1 0h18m1 0h2m1 0h1m1 0h2m3 0h2m588 0h2m1 0h2m2 0h51m371 0h2m4 0h2m2 0h2m10 0h2m2 0h2m2 0h2m3 0h2m13 0h2m22 0h2m1 0h2m1 0h6m5 0h3m1 0h44m1 0h2m2 0h2m1 0h2m2 0h6m5 0h2m-1219 1h2m2 0h25m1 0h1m1 0h1m5 0h2m578 0h4m2 0h54m1 0h4m329 0h2m47 0h2m4 0h2m8 0h2m35 0h2m13 0h2m1 0h6m1 0h10m1 0h45m2 0h4m5 0h2m7 0h2m5 0h2m-1234 1h1m3 0h1m5 0h2m2 0h23m1 0h1m3 0h1m5 0h1m4 0h2m573 0h4m2 0h61m6 0h4m317 0h2m53 0h2m45 0h2m9 0h2m6 0h2m2 0h2m1 0h6m1 0h48m2 0h3m5 0h2m8 0h2m5 0h4m-1236 1h1m7 0h2m1 0h30m1 0h1m1 0h1m562 0h2m28 0h2m2 0h2m1 0h41m2 0h8m6 0h4m353 0h2m25 0h2m5 0h4m27 0h2m10 0h2m6 0h2m2 0h5m2 0h50m1 0h2m1 0h2m5 0h2m6 0h2m9 0h2m1 0h2m-1240 1h2m1 0h1m3 0h2m1 0h30m1 0h3m1 0h2m561 0h2m7 0h2m15 0h4m4 0h52m11 0h2m352 0h2m25 0h2m5 0h4m24 0h2m1 0h2m10 0h2m6 0h2m3 0h2m4 0h6m1 0h28m1 0h12m3 0h2m1 0h2m2 0h2m5 0h2m2 0h2m3 0h2m7 0h4m2 0h2m-1243 1h2m1 0h3m1 0h31m2 0h4m570 0h2m15 0h4m5 0h42m1 0h2m1 0h5m11 0h2m358 0h2m30 0h2m22 0h2m32 0h5m1 0h2m1 0h36m1 0h2m3 0h6m1 0h2m5 0h2m7 0h2m9 0h2m2 0h2m-1247 1h1m3 0h3m2 0h35m1 0h5m2 0h2m576 0h2m4 0h2m3 0h5m1 0h41m1 0h3m6 0h2m366 0h2m30 0h2m16 0h2m7 0h2m1 0h2m19 0h2m5 0h5m1 0h2m1 0h35m2 0h3m2 0h7m1 0h2m6 0h2m-1230 1h1m7 0h2m1 0h3m1 0h34m1 0h2m4 0h1m578 0h2m4 0h2m1 0h7m3 0h39m1 0h2m7 0h2m4 0h2m410 0h2m7 0h2m1 0h2m7 0h2m3 0h2m3 0h4m5 0h7m2 0h3m2 0h5m1 0h12m2 0h7m1 0h2m2 0h4m3 0h5m1 0h3m1 0h2m2 0h2m2 0h2m17 0h2m-1253 1h1m10 0h3m1 0h33m1 0h3m479 0h2m106 0h2m1 0h12m1 0h7m1 0h32m1 0h2m11 0h2m312 0h2m45 0h2m58 0h2m2 0h4m4 0h2m3 0h2m3 0h3m7 0h6m1 0h4m2 0h2m1 0h23m1 0h5m1 0h5m2 0h5m1 0h2m1 0h2m6 0h2m2 0h2m13 0h2m-1258 1h1m4 0h1m13 0h40m5 0h2m470 0h2m97 0h2m7 0h2m1 0h3m1 0h15m2 0h3m1 0h24m2 0h2m1 0h3m5 0h2m3 0h2m312 0h2m45 0h2m58 0h2m2 0h4m7 0h2m6 0h2m5 0h8m1 0h4m2 0h2m1 0h23m1 0h11m3 0h4m4 0h2m10 0h4m-1244 1h2m3 0h1m11 0h1m1 0h37m1 0h1m9 0h2m565 0h2m11 0h3m1 0h10m5 0h4m1 0h12m1 0h5m1 0h4m7 0h4m2 0h3m316 0h2m29 0h2m36 0h2m9 0h4m14 0h2m12 0h2m9 0h2m5 0h6m1 0h5m1 0h2m4 0h3m4 0h21m3 0h10m4 0h4m4 0h2m10 0h4m4 0h2m-1250 1h2m12 0h4m1 0h37m592 0h2m3 0h2m1 0h5m1 0h30m11 0h2m2 0h2m317 0h2m29 0h3m9 0h2m15 0h2m7 0h2m9 0h4m14 0h2m12 0h2m16 0h2m1 0h3m1 0h3m1 0h4m5 0h5m1 0h2m1 0h5m2 0h3m2 0h9m2 0h5m9 0h2m1 0h2m13 0h2m6 0h2m8 0h2m-1246 1h3m2 0h34m1 0h1m1 0h2m9 0h2m437 0h2m36 0h2m102 0h2m2 0h3m2 0h4m1 0h4m2 0h24m366 0h2m9 0h4m6 0h2m5 0h2m26 0h2m5 0h2m8 0h2m11 0h2m7 0h2m12 0h2m1 0h2m2 0h32m3 0h4m12 0h2m3 0h2m26 0h2m-1306 1h1m50 0h1m9 0h2m2 0h35m2 0h2m2 0h1m445 0h2m36 0h2m106 0h2m3 0h2m3 0h4m1 0h25m2 0h3m7 0h2m320 0h2m1 0h2m18 0h2m20 0h2m6 0h2m10 0h2m21 0h2m5 0h2m8 0h2m11 0h2m7 0h2m7 0h4m1 0h2m1 0h2m2 0h12m1 0h19m2 0h2m1 0h2m1 0h2m14 0h4m-1280 1h1m47 0h1m8 0h3m2 0h3m1 0h35m2 0h1m15 0h1m481 0h2m105 0h2m3 0h25m2 0h3m7 0h2m320 0h2m1 0h2m18 0h3m19 0h2m18 0h2m54 0h2m9 0h8m1 0h2m2 0h2m2 0h9m5 0h2m1 0h14m2 0h3m3 0h2m3 0h2m11 0h2m3 0h2m-1235 1h1m3 0h1m2 0h1m3 0h4m1 0h34m3 0h1m454 0h2m10 0h2m29 0h2m90 0h2m13 0h2m3 0h4m5 0h6m1 0h3m2 0h2m2 0h5m7 0h2m318 0h2m24 0h2m19 0h2m11 0h2m34 0h2m10 0h2m13 0h2m9 0h4m2 0h2m1 0h2m2 0h3m1 0h10m8 0h5m1 0h2m1 0h4m3 0h4m1 0h2m3 0h2m10 0h2m4 0h2m-1231 1h1m1 0h2m3 0h41m456 0h2m10 0h2m20 0h2m30 0h2m15 0h2m50 0h2m3 0h2m7 0h2m1 0h3m2 0h3m1 0h4m2 0h2m2 0h4m1 0h2m2 0h5m7 0h2m3 0h2m313 0h2m58 0h2m9 0h2m23 0h2m10 0h2m33 0h4m1 0h2m7 0h4m3 0h2m3 0h2m2 0h2m3 0h2m1 0h2m3 0h3m4 0h2m12 0h2m7 0h2m-1231 1h1m3 0h1m2 0h1m1 0h1m1 0h30m1 0h1m2 0h3m3 0h1m442 0h2m5 0h2m32 0h2m30 0h2m15 0h2m55 0h2m6 0h3m1 0h3m2 0h3m1 0h4m1 0h3m1 0h5m1 0h2m3 0h2m3 0h2m2 0h4m3 0h2m384 0h2m59 0h2m11 0h2m8 0h2m3 0h2m2 0h3m6 0h2m3 0h2m1 0h3m9 0h2m8 0h2m11 0h2m-1278 1h1m46 0h1m6 0h5m1 0h26m1 0h1m1 0h2m3 0h1m14 0h1m431 0h2m18 0h2m131 0h5m3 0h2m1 0h3m2 0h2m2 0h3m1 0h4m4 0h2m1 0h2m3 0h2m2 0h4m355 0h6m31 0h2m4 0h2m50 0h2m1 0h2m1 0h2m2 0h2m3 0h2m4 0h4m3 0h2m2 0h3m1 0h2m2 0h2m4 0h6m18 0h3m18 0h2m-1285 1h1m49 0h1m3 0h6m1 0h28m2 0h4m4 0h2m460 0h2m107 0h2m22 0h2m6 0h2m1 0h3m7 0h2m2 0h4m3 0h2m6 0h2m361 0h6m9 0h2m20 0h2m4 0h2m50 0h2m1 0h2m1 0h2m1 0h3m1 0h4m1 0h5m10 0h2m1 0h2m1 0h3m4 0h4m9 0h2m8 0h6m16 0h4m-1237 1h2m2 0h6m1 0h26m1 0h1m528 0h2m51 0h2m25 0h2m8 0h2m3 0h5m2 0h4m4 0h2m354 0h2m27 0h3m2 0h2m11 0h6m9 0h2m45 0h2m4 0h2m1 0h7m1 0h5m7 0h12m2 0h2m1 0h4m4 0h2m2 0h3m8 0h2m1 0h3m18 0h2m-1240 1h1m3 0h1m2 0h1m3 0h2m1 0h19m1 0h6m3 0h1m2 0h1m1 0h2m483 0h2m3 0h2m30 0h2m57 0h2m9 0h2m8 0h4m1 0h2m3 0h2m3 0h7m8 0h2m7 0h2m345 0h2m14 0h2m1 0h2m3 0h2m4 0h2m2 0h2m11 0h6m5 0h2m2 0h2m45 0h2m9 0h2m1 0h2m1 0h2m1 0h2m4 0h2m1 0h12m2 0h2m3 0h2m4 0h7m8 0h2m-1255 1h2m40 0h2m6 0h1m2 0h20m1 0h2m1 0h2m2 0h2m2 0h1m3 0h2m2 0h2m477 0h2m3 0h2m54 0h2m33 0h2m9 0h2m4 0h2m4 0h2m1 0h2m10 0h5m3 0h4m2 0h2m6 0h2m361 0h2m1 0h2m3 0h2m19 0h2m7 0h2m2 0h2m7 0h4m38 0h2m10 0h2m12 0h4m9 0h2m15 0h2m7 0h2m2 0h2m2 0h4m5 0h2m-1280 1h1m57 0h2m2 0h2m1 0h2m2 0h2m1 0h1m1 0h2m3 0h8m5 0h1m8 0h1m543 0h2m44 0h2m4 0h4m11 0h2m4 0h2m6 0h4m2 0h2m332 0h2m15 0h2m13 0h2m18 0h2m2 0h2m8 0h2m7 0h2m11 0h4m41 0h2m7 0h2m4 0h2m1 0h2m2 0h2m1 0h2m24 0h2m9 0h2m6 0h4m5 0h2m20 0h2m-1305 1h1m2 0h1m51 0h2m1 0h1m2 0h1m1 0h1m5 0h2m1 0h2m1 0h1m1 0h2m1 0h4m4 0h2m3 0h2m4 0h1m1 0h1m2 0h1m12 0h1m439 0h2m18 0h2m28 0h2m2 0h2m89 0h2m9 0h4m4 0h2m346 0h2m15 0h2m8 0h3m2 0h2m6 0h2m1 0h2m7 0h2m2 0h2m21 0h2m5 0h2m5 0h2m2 0h2m23 0h2m9 0h2m9 0h2m2 0h2m1 0h2m2 0h2m12 0h2m7 0h2m4 0h2m9 0h2m32 0h2m3 0h2m-1280 1h2m31 0h1m2 0h1m7 0h4m1 0h1m1 0h1m1 0h1m1 0h1m1 0h2m1 0h1m4 0h1m1 0h3m3 0h1m458 0h2m18 0h4m2 0h2m22 0h2m2 0h2m5 0h2m66 0h2m10 0h2m1 0h2m10 0h2m2 0h2m13 0h2m362 0h3m2 0h2m6 0h2m1 0h2m13 0h2m1 0h2m13 0h2m1 0h2m5 0h2m5 0h2m2 0h2m23 0h2m20 0h2m6 0h2m2 0h2m3 0h4m2 0h4m7 0h2m18 0h4m27 0h2m-1294 1h1m56 0h7m2 0h3m1 0h1m3 0h3m2 0h1m1 0h2m1 0h1m488 0h2m2 0h2m19 0h2m12 0h2m14 0h2m50 0h2m10 0h2m1 0h2m7 0h2m1 0h2m2 0h2m11 0h4m20 0h2m331 0h2m29 0h2m2 0h2m3 0h2m1 0h2m2 0h2m2 0h2m5 0h3m51 0h2m9 0h2m9 0h2m2 0h2m3 0h8m7 0h2m11 0h2m1 0h2m4 0h4m5 0h2m-1288 1h1m81 0h2m1 0h2m3 0h2m1 0h6m2 0h1m1 0h2m509 0h2m14 0h2m12 0h2m25 0h2m47 0h2m12 0h2m4 0h3m21 0h4m329 0h2m29 0h2m2 0h2m7 0h2m1 0h2m2 0h2m6 0h2m19 0h2m30 0h2m4 0h2m3 0h2m8 0h2m10 0h6m4 0h2m1 0h2m11 0h2m1 0h2m6 0h2m5 0h2m-1288 1h1m81 0h1m14 0h1m3 0h1m1 0h1m505 0h2m19 0h2m3 0h2m20 0h2m12 0h2m61 0h2m30 0h2m315 0h2m5 0h2m15 0h2m6 0h2m15 0h2m7 0h2m34 0h2m36 0h2m13 0h2m8 0h2m4 0h2m4 0h2m19 0h2m4 0h2m-1242 1h1m28 0h1m17 0h3m4 0h1m3 0h2m3 0h3m6 0h1m488 0h2m7 0h2m4 0h2m7 0h2m9 0h2m20 0h2m65 0h2m14 0h2m341 0h2m5 0h2m15 0h5m3 0h2m1 0h3m9 0h2m15 0h2m4 0h5m1 0h2m79 0h2m4 0h2m25 0h2m-1311 1h2m37 0h1m69 0h1m1 0h1m5 0h1m1 0h1m2 0h1m1 0h1m4 0h1m486 0h2m18 0h2m4 0h2m7 0h2m7 0h2m31 0h2m2 0h2m61 0h3m13 0h3m359 0h3m4 0h3m3 0h2m1 0h3m4 0h2m3 0h2m11 0h3m1 0h4m2 0h5m1 0h3m3 0h2m12 0h2m25 0h2m32 0h2m8 0h2m2 0h2m3 0h2m-1266 1h1m5 0h1m3 0h2m1 0h1m64 0h1m1 0h1m5 0h1m1 0h1m2 0h1m6 0h2m11 0h1m473 0h2m2 0h2m20 0h2m17 0h2m13 0h2m19 0h2m34 0h2m26 0h2m14 0h2m337 0h2m5 0h2m9 0h2m2 0h3m2 0h2m9 0h2m5 0h2m7 0h4m5 0h3m1 0h6m7 0h2m3 0h2m12 0h2m25 0h2m29 0h2m1 0h2m3 0h2m3 0h2m2 0h2m3 0h2m-1288 1h1m19 0h1m1 0h1m5 0h1m6 0h1m4 0h1m59 0h1m10 0h2m9 0h2m461 0h2m24 0h2m17 0h2m20 0h2m13 0h2m55 0h2m45 0h2m334 0h3m4 0h2m9 0h4m5 0h2m8 0h2m12 0h2m1 0h4m5 0h3m5 0h2m4 0h2m2 0h6m70 0h2m6 0h2m7 0h2m-1249 1h1m3 0h1m1 0h1m8 0h1m50 0h1m6 0h2m476 0h2m43 0h3m14 0h4m3 0h2m8 0h2m27 0h2m76 0h2m335 0h2m9 0h2m6 0h2m2 0h2m1 0h2m5 0h2m1 0h2m10 0h6m8 0h2m8 0h3m1 0h2m2 0h6m19 0h2m66 0h2m-1272 1h2m9 0h1m7 0h1m2 0h1m1 0h2m12 0h1m2 0h1m27 0h2m27 0h1m484 0h3m1 0h2m4 0h2m3 0h2m20 0h3m13 0h4m3 0h2m8 0h2m27 0h2m67 0h4m344 0h2m5 0h4m9 0h3m8 0h2m3 0h3m4 0h2m1 0h2m2 0h2m2 0h2m14 0h3m8 0h3m19 0h2m43 0h2m14 0h2m13 0h2m-1275 1h1m3 0h1m9 0h1m6 0h1m4 0h1m2 0h1m63 0h1m484 0h3m1 0h3m3 0h2m1 0h4m21 0h2m13 0h2m15 0h2m4 0h2m1 0h2m87 0h4m3 0h2m339 0h2m5 0h3m7 0h2m1 0h2m13 0h4m4 0h4m3 0h2m2 0h4m8 0h2m1 0h2m3 0h3m4 0h2m65 0h2m14 0h2m13 0h2m-1276 1h2m4 0h1m2 0h1m10 0h1m1 0h1m4 0h2m5 0h1m84 0h1m454 0h2m8 0h2m2 0h2m2 0h2m9 0h2m12 0h2m2 0h4m12 0h2m4 0h2m1 0h2m7 0h2m1 0h2m23 0h2m3 0h2m53 0h2m9 0h2m2 0h2m343 0h2m6 0h3m1 0h2m13 0h3m7 0h7m1 0h2m1 0h3m1 0h2m1 0h5m1 0h2m3 0h3m4 0h4m6 0h2m55 0h2m14 0h2m-1262 1h1m4 0h1m1 0h2m8 0h1m1 0h2m25 0h1m31 0h1m496 0h2m8 0h2m2 0h2m6 0h2m2 0h7m10 0h2m2 0h4m10 0h4m4 0h2m1 0h2m5 0h3m8 0h2m17 0h2m3 0h2m53 0h3m9 0h2m1 0h2m333 0h2m12 0h2m2 0h9m3 0h2m7 0h2m2 0h2m2 0h7m1 0h13m15 0h4m6 0h2m37 0h2m-1220 1h1m2 0h2m4 0h2m7 0h3m13 0h1m35 0h1m31 0h1m464 0h2m8 0h2m2 0h2m6 0h2m2 0h4m1 0h4m7 0h2m7 0h2m1 0h2m5 0h2m15 0h4m8 0h2m78 0h2m9 0h2m336 0h2m12 0h3m1 0h4m1 0h5m2 0h2m6 0h3m1 0h3m3 0h2m5 0h4m2 0h2m1 0h3m3 0h2m2 0h2m56 0h2m29 0h2m-1251 1h1m9 0h4m4 0h2m1 0h2m11 0h2m3 0h3m558 0h2m7 0h3m3 0h2m1 0h2m1 0h2m3 0h2m13 0h2m2 0h2m13 0h2m425 0h2m11 0h3m6 0h2m1 0h6m6 0h6m2 0h4m5 0h6m5 0h2m2 0h2m2 0h2m12 0h2m73 0h2m5 0h2m-1271 1h2m10 0h1m18 0h2m12 0h1m6 0h2m542 0h3m6 0h2m3 0h2m9 0h4m3 0h3m8 0h2m2 0h2m9 0h2m17 0h2m425 0h2m19 0h2m3 0h8m4 0h10m2 0h2m2 0h2m1 0h3m5 0h2m2 0h2m1 0h4m1 0h3m5 0h4m80 0h2m-1282 1h1m17 0h1m4 0h1m8 0h2m7 0h2m1 0h1m33 0h2m517 0h2m8 0h3m6 0h2m3 0h2m3 0h2m1 0h2m1 0h2m6 0h2m6 0h3m3 0h2m3 0h2m458 0h2m1 0h2m8 0h2m2 0h4m2 0h3m2 0h10m4 0h4m4 0h4m4 0h2m1 0h2m1 0h4m1 0h3m5 0h2m65 0h4m-1265 1h1m22 0h1m6 0h1m8 0h1m2 0h1m2 0h1m5 0h1m68 0h2m1 0h1m470 0h3m1 0h2m6 0h2m16 0h2m1 0h2m4 0h2m3 0h2m6 0h3m2 0h4m2 0h4m15 0h2m428 0h2m7 0h4m1 0h2m3 0h4m5 0h6m2 0h5m2 0h2m2 0h4m4 0h2m1 0h2m1 0h6m2 0h4m1 0h3m1 0h4m40 0h2m7 0h2m22 0h4m27 0h2m-1286 1h2m9 0h1m7 0h4m11 0h1m1 0h1m1 0h2m1 0h2m40 0h1m31 0h1m458 0h2m4 0h2m4 0h2m2 0h2m4 0h4m11 0h2m5 0h2m5 0h2m3 0h2m2 0h2m7 0h4m4 0h2m1 0h4m4 0h2m4 0h3m20 0h2m405 0h2m7 0h2m4 0h2m2 0h8m5 0h3m1 0h9m4 0h2m1 0h4m1 0h3m1 0h7m3 0h2m1 0h2m2 0h2m5 0h2m12 0h2m21 0h2m7 0h2m34 0h2m17 0h2m-1299 1h1m23 0h1m4 0h1m1 0h2m2 0h1m3 0h1m1 0h2m6 0h1m1 0h1m3 0h1m7 0h2m3 0h2m26 0h1m30 0h1m459 0h2m4 0h2m2 0h2m10 0h3m12 0h4m3 0h2m5 0h4m5 0h2m18 0h4m4 0h2m1 0h2m1 0h3m20 0h2m409 0h2m3 0h2m1 0h5m1 0h11m3 0h5m1 0h7m2 0h2m3 0h7m4 0h2m1 0h2m12 0h4m1 0h5m9 0h2m66 0h2m-1280 1h1m22 0h2m2 0h1m3 0h1m1 0h3m6 0h2m3 0h2m2 0h1m2 0h2m6 0h1m534 0h2m10 0h2m8 0h2m3 0h4m7 0h2m1 0h4m6 0h2m6 0h2m2 0h2m6 0h2m8 0h2m10 0h2m421 0h4m6 0h4m2 0h11m4 0h4m1 0h2m1 0h3m2 0h4m3 0h5m3 0h6m1 0h5m1 0h2m3 0h5m2 0h4m8 0h2m-1211 1h1m11 0h3m6 0h1m1 0h1m3 0h1m6 0h1m8 0h1m4 0h2m1 0h1m2 0h1m7 0h1m541 0h2m13 0h4m1 0h3m8 0h2m1 0h2m1 0h2m2 0h2m1 0h2m6 0h6m6 0h2m20 0h2m3 0h2m415 0h3m6 0h2m1 0h3m3 0h4m3 0h3m1 0h2m2 0h2m2 0h2m1 0h3m1 0h5m2 0h3m1 0h3m1 0h7m1 0h8m2 0h3m2 0h4m11 0h2m8 0h2m-1221 1h1m11 0h4m5 0h1m1 0h1m1 0h2m5 0h1m5 0h1m3 0h3m1 0h2m3 0h1m1 0h1m1 0h1m541 0h2m5 0h2m5 0h2m8 0h2m2 0h3m2 0h3m2 0h5m1 0h3m1 0h4m8 0h5m8 0h2m23 0h3m414 0h2m7 0h3m6 0h4m1 0h4m2 0h2m1 0h2m5 0h8m3 0h3m2 0h3m1 0h15m3 0h4m1 0h4m5 0h2m6 0h2m6 0h2m-1209 1h1m2 0h1m22 0h1m2 0h1m9 0h4m68 0h1m473 0h2m2 0h4m6 0h2m9 0h6m2 0h3m2 0h3m3 0h3m3 0h2m5 0h9m3 0h2m2 0h2m24 0h2m424 0h2m2 0h2m3 0h3m1 0h2m1 0h5m1 0h2m1 0h3m1 0h9m2 0h3m2 0h2m2 0h3m1 0h9m4 0h2m1 0h3m2 0h2m5 0h2m6 0h2m-1217 1h2m8 0h2m5 0h2m9 0h1m1 0h1m7 0h1m1 0h2m3 0h1m1 0h2m21 0h1m56 0h1m477 0h4m17 0h5m3 0h2m5 0h15m2 0h6m1 0h2m1 0h4m445 0h2m7 0h2m2 0h2m1 0h5m4 0h8m1 0h3m3 0h8m1 0h2m1 0h2m2 0h4m2 0h3m1 0h2m7 0h2m2 0h2m2 0h2m7 0h4m-1207 1h2m11 0h1m6 0h2m2 0h2m6 0h1m2 0h1m3 0h1m2 0h1m4 0h2m8 0h1m6 0h1m517 0h2m17 0h2m2 0h2m3 0h2m8 0h4m10 0h5m2 0h9m1 0h3m1 0h2m5 0h2m10 0h2m1 0h2m5 0h2m425 0h3m3 0h2m1 0h2m1 0h2m2 0h3m1 0h11m1 0h2m3 0h2m1 0h2m2 0h4m1 0h2m1 0h2m1 0h15m1 0h2m7 0h2m10 0h4m6 0h2m3 0h2m-1206 1h2m4 0h2m2 0h1m2 0h5m1 0h1m3 0h2m3 0h1m2 0h1m14 0h2m520 0h2m8 0h2m4 0h4m3 0h2m3 0h2m8 0h3m5 0h2m1 0h5m1 0h2m2 0h5m1 0h2m2 0h4m10 0h2m3 0h2m2 0h2m1 0h2m5 0h2m8 0h2m412 0h2m2 0h2m1 0h4m1 0h6m1 0h3m1 0h14m1 0h4m2 0h2m1 0h2m2 0h3m4 0h2m1 0h5m1 0h2m1 0h3m1 0h2m3 0h2m2 0h2m5 0h2m3 0h2m8 0h2m3 0h2m26 0h2m31 0h2m-1283 1h2m13 0h1m7 0h2m3 0h2m2 0h2m2 0h1m2 0h1m4 0h1m2 0h1m1 0h1m1 0h1m538 0h2m2 0h4m2 0h4m7 0h2m1 0h3m6 0h2m2 0h5m1 0h6m4 0h5m1 0h3m1 0h6m7 0h8m22 0h2m412 0h2m5 0h2m3 0h10m2 0h11m1 0h5m3 0h2m1 0h2m2 0h2m4 0h2m1 0h7m12 0h2m1 0h4m4 0h2m3 0h2m41 0h2m31 0h2m-1268 1h1m11 0h2m5 0h1m4 0h1m4 0h3m1 0h1m2 0h1m21 0h1m8 0h1m507 0h2m3 0h3m6 0h2m5 0h2m1 0h3m2 0h2m1 0h2m3 0h13m2 0h10m1 0h7m1 0h4m1 0h7m2 0h2m92 0h2m344 0h3m1 0h2m2 0h3m1 0h5m3 0h10m1 0h5m6 0h2m2 0h2m1 0h2m1 0h2m1 0h7m2 0h2m2 0h2m7 0h4m1 0h2m4 0h2m74 0h2m-1286 1h1m4 0h1m12 0h2m5 0h3m3 0h1m6 0h1m2 0h1m8 0h1m5 0h2m16 0h2m11 0h1m16 0h1m504 0h2m2 0h2m1 0h4m1 0h2m1 0h5m2 0h4m1 0h9m1 0h10m3 0h6m1 0h4m2 0h2m4 0h4m2 0h2m1 0h2m1 0h2m82 0h2m342 0h8m2 0h2m1 0h8m1 0h3m4 0h3m2 0h2m1 0h3m3 0h2m3 0h7m3 0h2m2 0h10m1 0h3m6 0h5m3 0h2m11 0h2m61 0h2m-1286 1h1m4 0h1m19 0h5m1 0h1m2 0h1m2 0h5m6 0h1m11 0h2m24 0h1m516 0h2m8 0h3m2 0h5m1 0h29m1 0h4m2 0h4m2 0h2m4 0h2m2 0h4m4 0h5m1 0h2m422 0h13m4 0h4m1 0h8m3 0h7m1 0h5m1 0h2m1 0h11m1 0h2m1 0h2m1 0h2m2 0h4m1 0h7m2 0h2m1 0h2m1 0h2m11 0h4m51 0h2m2 0h2m-1282 1h1m13 0h2m2 0h1m2 0h1m5 0h3m11 0h1m8 0h1m1 0h1m12 0h4m11 0h2m517 0h2m4 0h2m9 0h2m4 0h6m1 0h14m2 0h5m3 0h2m2 0h3m3 0h3m1 0h3m4 0h2m2 0h3m5 0h4m426 0h4m4 0h2m1 0h4m4 0h11m1 0h7m4 0h5m3 0h3m4 0h5m1 0h4m1 0h2m9 0h6m7 0h2m11 0h2m53 0h2m2 0h2m-1265 1h1m2 0h5m6 0h2m2 0h1m5 0h2m8 0h2m7 0h1m5 0h1m5 0h1m32 0h1m493 0h2m4 0h4m6 0h2m4 0h2m1 0h4m2 0h7m1 0h6m1 0h15m3 0h7m1 0h2m1 0h2m5 0h7m427 0h5m7 0h4m2 0h11m1 0h5m2 0h4m2 0h2m1 0h4m5 0h13m1 0h3m1 0h2m3 0h4m2 0h2m-1205 1h1m10 0h2m7 0h2m2 0h1m1 0h1m6 0h1m2 0h1m1 0h3m10 0h2m2 0h1m1 0h1m8 0h1m540 0h2m2 0h2m3 0h2m1 0h2m2 0h4m5 0h3m3 0h26m3 0h7m1 0h2m1 0h2m1 0h2m2 0h6m3 0h2m4 0h2m417 0h5m5 0h4m1 0h2m1 0h2m1 0h13m1 0h6m2 0h2m1 0h8m1 0h6m1 0h6m1 0h6m3 0h3m1 0h2m23 0h2m35 0h2m20 0h2m-1288 1h2m1 0h1m8 0h1m1 0h2m11 0h1m3 0h3m1 0h1m3 0h1m1 0h4m2 0h2m8 0h1m7 0h1m6 0h1m5 0h2m43 0h1m476 0h2m3 0h2m1 0h2m7 0h4m3 0h2m5 0h7m2 0h11m2 0h5m3 0h7m5 0h3m6 0h2m5 0h3m3 0h4m2 0h2m423 0h2m2 0h2m3 0h2m4 0h5m1 0h7m1 0h5m2 0h2m1 0h2m2 0h6m1 0h5m1 0h5m5 0h4m3 0h2m1 0h2m21 0h6m33 0h2m20 0h2m-1276 1h1m10 0h1m4 0h1m2 0h1m1 0h1m3 0h3m1 0h3m1 0h2m1 0h1m6 0h4m6 0h1m5 0h2m68 0h2m457 0h2m3 0h2m3 0h2m3 0h2m2 0h4m1 0h4m1 0h6m1 0h10m1 0h4m1 0h4m1 0h2m2 0h2m1 0h6m1 0h5m6 0h4m1 0h2m8 0h2m420 0h4m3 0h4m4 0h5m3 0h4m1 0h3m1 0h10m1 0h5m2 0h8m1 0h8m8 0h4m8 0h2m2 0h2m13 0h2m2 0h2m27 0h2m-1250 1h1m1 0h1m10 0h1m3 0h2m1 0h1m1 0h3m1 0h1m1 0h1m2 0h1m3 0h3m2 0h2m4 0h5m10 0h1m1 0h1m1 0h1m531 0h2m1 0h4m1 0h3m1 0h4m1 0h4m1 0h5m2 0h20m1 0h6m2 0h9m6 0h6m1 0h2m5 0h2m423 0h4m2 0h7m2 0h5m5 0h7m1 0h6m1 0h2m2 0h7m1 0h6m3 0h6m3 0h2m5 0h4m6 0h2m2 0h2m46 0h2m-1245 1h3m1 0h1m2 0h1m3 0h2m4 0h3m1 0h1m1 0h3m2 0h2m1 0h2m3 0h1m1 0h1m7 0h2m29 0h1m514 0h2m2 0h4m1 0h2m1 0h3m2 0h47m2 0h3m4 0h2m12 0h2m429 0h4m1 0h10m1 0h3m1 0h6m3 0h8m1 0h11m8 0h2m2 0h2m1 0h2m5 0h4m3 0h2m45 0h2m-1235 1h7m1 0h3m3 0h3m1 0h1m1 0h7m2 0h2m3 0h1m5 0h2m16 0h2m3 0h1m518 0h2m10 0h4m1 0h6m2 0h52m2 0h4m2 0h3m12 0h3m420 0h2m1 0h2m3 0h6m1 0h3m1 0h3m1 0h2m1 0h31m2 0h2m3 0h2m1 0h2m3 0h6m3 0h2m29 0h2m14 0h2m-1240 1h1m7 0h1m5 0h10m2 0h2m2 0h1m1 0h1m2 0h1m9 0h1m11 0h1m14 0h2m12 0h2m498 0h3m12 0h2m1 0h8m1 0h7m1 0h12m1 0h29m3 0h2m2 0h5m4 0h4m4 0h3m417 0h2m1 0h4m4 0h2m7 0h5m2 0h33m2 0h3m6 0h2m2 0h5m4 0h2m1 0h2m3 0h2m21 0h2m-1230 1h1m9 0h1m1 0h1m4 0h1m2 0h1m1 0h4m1 0h2m2 0h3m1 0h1m2 0h1m5 0h3m1 0h2m13 0h1m28 0h2m498 0h2m13 0h4m1 0h6m1 0h3m1 0h2m2 0h28m1 0h11m9 0h4m5 0h4m1 0h2m2 0h2m46 0h2m369 0h2m3 0h6m3 0h2m3 0h12m4 0h19m1 0h11m5 0h2m5 0h3m6 0h2m3 0h2m37 0h2m-1244 1h2m1 0h2m3 0h2m2 0h1m2 0h1m2 0h1m4 0h3m2 0h7m2 0h3m4 0h1m1 0h1m8 0h1m13 0h1m9 0h1m9 0h1m513 0h6m1 0h3m1 0h5m2 0h2m1 0h3m1 0h37m1 0h2m3 0h2m3 0h2m10 0h2m2 0h2m22 0h2m22 0h2m369 0h2m2 0h7m1 0h4m3 0h2m3 0h13m1 0h16m1 0h11m3 0h2m2 0h2m4 0h2m1 0h2m39 0h4m4 0h2m-1252 1h1m3 0h1m11 0h1m1 0h2m1 0h1m4 0h5m1 0h6m1 0h4m3 0h4m4 0h3m2 0h1m2 0h2m1 0h3m19 0h1m519 0h9m1 0h3m2 0h6m2 0h4m1 0h2m1 0h40m1 0h2m3 0h3m7 0h2m2 0h2m24 0h2m393 0h3m1 0h4m2 0h6m5 0h4m1 0h25m1 0h13m4 0h9m1 0h2m1 0h2m3 0h2m3 0h2m29 0h6m11 0h2m-1257 1h1m14 0h4m3 0h16m1 0h3m1 0h3m3 0h3m3 0h1m5 0h1m1 0h1m539 0h5m1 0h3m1 0h3m2 0h2m2 0h2m2 0h36m1 0h8m1 0h2m1 0h5m1 0h2m1 0h2m4 0h2m2 0h2m420 0h2m3 0h6m1 0h3m5 0h30m1 0h26m1 0h2m6 0h2m3 0h4m31 0h2m11 0h2m-1251 1h1m4 0h1m2 0h1m2 0h3m2 0h16m1 0h8m8 0h1m1 0h3m14 0h1m525 0h3m3 0h2m1 0h2m2 0h3m4 0h7m1 0h43m1 0h2m2 0h4m4 0h2m437 0h5m4 0h2m2 0h12m1 0h23m1 0h11m2 0h6m6 0h2m9 0h2m15 0h2m-1224 1h3m4 0h1m1 0h3m1 0h2m4 0h22m1 0h3m2 0h1m1 0h1m1 0h1m1 0h2m541 0h3m5 0h7m2 0h10m1 0h4m1 0h36m6 0h4m441 0h2m1 0h2m1 0h5m1 0h4m1 0h4m1 0h41m3 0h6m6 0h2m26 0h2m29 0h2m-1256 1h3m3 0h9m2 0h23m3 0h4m1 0h4m1 0h3m2 0h1m10 0h1m2 0h1m531 0h7m2 0h55m3 0h5m2 0h2m6 0h2m35 0h2m392 0h2m1 0h2m3 0h13m1 0h12m2 0h23m1 0h3m3 0h2m49 0h2m18 0h2m-1259 1h1m3 0h1m1 0h1m2 0h1m4 0h4m2 0h24m2 0h4m1 0h2m1 0h1m1 0h3m7 0h3m538 0h2m2 0h10m1 0h46m1 0h7m3 0h4m1 0h2m2 0h3m35 0h2m388 0h2m1 0h2m7 0h21m1 0h32m4 0h3m11 0h5m16 0h4m12 0h2m20 0h2m1 0h2m2 0h2m-1265 1h3m5 0h1m3 0h29m1 0h3m1 0h1m1 0h2m1 0h4m1 0h1m536 0h2m4 0h3m1 0h2m4 0h5m1 0h2m1 0h7m1 0h39m1 0h5m5 0h4m1 0h2m2 0h2m426 0h5m4 0h2m1 0h25m1 0h15m1 0h6m1 0h9m1 0h6m7 0h5m14 0h6m34 0h2m1 0h2m2 0h2m-1263 1h1m2 0h1m4 0h1m3 0h26m1 0h6m1 0h1m7 0h1m1 0h1m9 0h1m6 0h1m517 0h2m4 0h6m2 0h6m3 0h51m2 0h3m6 0h2m6 0h2m427 0h4m3 0h2m1 0h2m1 0h4m1 0h40m1 0h9m1 0h6m4 0h2m4 0h2m11 0h2m1 0h2m47 0h2m-1266 1h1m5 0h1m1 0h2m1 0h30m2 0h5m7 0h2m10 0h1m7 0h1m4 0h2m1 0h1m515 0h4m3 0h6m2 0h3m2 0h56m10 0h2m429 0h3m6 0h2m5 0h47m1 0h2m1 0h2m7 0h3m9 0h2m6 0h2m50 0h2m-1269 1h1m1 0h2m5 0h1m1 0h1m2 0h30m1 0h7m1 0h1m10 0h2m12 0h1m513 0h2m9 0h2m6 0h4m1 0h56m1 0h5m2 0h2m4 0h2m1 0h2m429 0h4m4 0h6m4 0h18m1 0h2m2 0h25m1 0h6m2 0h2m10 0h2m30 0h2m26 0h2m-1273 1h2m4 0h1m6 0h1m1 0h1m3 0h29m1 0h2m1 0h3m3 0h1m2 0h1m10 0h1m523 0h2m9 0h2m5 0h8m1 0h4m1 0h46m6 0h3m1 0h3m3 0h2m1 0h2m20 0h2m409 0h7m1 0h6m2 0h21m2 0h19m1 0h5m1 0h6m6 0h2m23 0h2m13 0h2m24 0h4m-1263 1h2m4 0h33m1 0h1m1 0h4m1 0h2m1 0h2m4 0h2m2 0h2m531 0h2m9 0h3m1 0h5m1 0h41m1 0h7m4 0h2m2 0h2m2 0h2m28 0h2m7 0h2m397 0h2m1 0h54m2 0h8m1 0h4m8 0h2m23 0h2m39 0h4m-1271 1h1m3 0h7m1 0h1m2 0h1m1 0h30m3 0h2m2 0h6m3 0h1m1 0h1m8 0h2m525 0h2m1 0h4m4 0h55m1 0h2m4 0h4m5 0h2m37 0h2m397 0h2m1 0h2m1 0h5m3 0h35m1 0h16m2 0h4m6 0h2m68 0h2m-1270 1h1m5 0h1m1 0h4m2 0h35m1 0h7m5 0h3m1 0h2m19 0h1m506 0h2m1 0h2m4 0h13m1 0h60m5 0h2m448 0h54m2 0h3m7 0h2m7 0h2m6 0h2m49 0h2m-1265 1h1m4 0h4m2 0h34m1 0h2m2 0h3m6 0h1m24 0h1m25 0h1m480 0h2m1 0h2m7 0h7m1 0h2m3 0h56m445 0h2m2 0h2m1 0h2m2 0h9m2 0h46m1 0h2m3 0h2m11 0h2m6 0h2m16 0h2m31 0h2m6 0h2m7 0h2m-1283 1h2m7 0h1m1 0h35m1 0h4m3 0h1m2 0h2m1 0h1m534 0h5m1 0h2m1 0h3m9 0h44m2 0h5m2 0h6m4 0h2m11 0h2m424 0h3m1 0h9m1 0h6m2 0h46m1 0h2m3 0h3m26 0h2m8 0h2m13 0h2m24 0h2m7 0h2m-1283 1h1m1 0h1m7 0h35m1 0h1m1 0h1m1 0h2m7 0h1m537 0h6m2 0h2m7 0h53m1 0h3m1 0h5m2 0h2m1 0h2m8 0h2m421 0h2m1 0h13m1 0h2m2 0h2m3 0h37m1 0h2m1 0h2m4 0h3m1 0h4m4 0h3m18 0h2m23 0h2m-1254 1h1m9 0h1m3 0h2m1 0h38m2 0h4m12 0h1m12 0h1m511 0h2m6 0h2m10 0h52m3 0h7m1 0h2m1 0h6m431 0h9m2 0h8m2 0h2m2 0h32m1 0h10m4 0h9m4 0h3m-1209 1h1m6 0h4m2 0h1m1 0h40m3 0h1m1 0h1m10 0h3m5 0h1m518 0h2m4 0h2m2 0h2m1 0h2m5 0h54m1 0h5m3 0h2m1 0h4m435 0h2m4 0h5m1 0h5m1 0h2m2 0h33m1 0h4m1 0h7m2 0h8m6 0h2m30 0h2m5 0h2m-1246 1h2m4 0h1m8 0h39m4 0h1m2 0h3m13 0h1m517 0h2m5 0h2m2 0h2m1 0h2m3 0h52m1 0h3m1 0h7m1 0h2m13 0h2m422 0h2m2 0h2m3 0h8m1 0h5m2 0h2m1 0h38m3 0h2m1 0h5m1 0h3m3 0h4m7 0h2m22 0h2m1 0h2m2 0h2m29 0h2m-1271 1h1m5 0h42m2 0h3m6 0h1m13 0h1m2 0h2m511 0h2m5 0h8m4 0h59m2 0h3m12 0h2m2 0h2m422 0h2m2 0h2m3 0h3m1 0h64m7 0h6m5 0h2m25 0h2m10 0h2m21 0h2m-1278 1h1m6 0h1m3 0h5m1 0h35m1 0h2m2 0h3m17 0h2m524 0h16m1 0h52m1 0h2m2 0h2m12 0h2m428 0h2m5 0h63m11 0h9m42 0h2m-1244 1h45m5 0h1m13 0h2m2 0h1m525 0h63m3 0h6m13 0h2m31 0h2m396 0h2m7 0h9m2 0h43m1 0h2m6 0h2m4 0h2m1 0h2m5 0h2m19 0h2m-1231 1h2m8 0h3m1 0h38m2 0h1m2 0h2m1 0h2m4 0h1m11 0h1m521 0h11m1 0h60m2 0h3m3 0h2m1 0h2m4 0h2m31 0h2m404 0h10m2 0h46m4 0h4m2 0h5m9 0h2m17 0h2m8 0h2m-1236 1h5m1 0h2m1 0h38m2 0h3m2 0h3m10 0h2m526 0h4m1 0h5m5 0h2m1 0h52m2 0h5m3 0h2m1 0h2m442 0h7m2 0h51m3 0h3m1 0h4m1 0h2m9 0h2m27 0h2m-1242 1h1m4 0h1m1 0h3m1 0h2m2 0h1m1 0h34m3 0h4m4 0h2m533 0h2m3 0h2m2 0h2m1 0h2m2 0h2m4 0h58m6 0h2m5 0h2m21 0h2m413 0h5m6 0h38m1 0h5m1 0h4m4 0h5m4 0h2m44 0h2m-1250 1h3m2 0h3m1 0h2m1 0h2m2 0h1m1 0h37m5 0h3m1 0h1m533 0h4m1 0h2m1 0h2m2 0h3m1 0h61m9 0h2m5 0h4m19 0h2m408 0h2m3 0h10m1 0h34m1 0h4m2 0h8m1 0h2m2 0h4m2 0h4m1 0h2m1 0h2m38 0h2m-1250 1h1m1 0h1m2 0h1m3 0h2m1 0h2m2 0h39m1 0h3m3 0h7m29 0h1m498 0h2m1 0h2m1 0h2m1 0h2m1 0h65m12 0h2m1 0h2m2 0h2m9 0h2m416 0h4m4 0h2m1 0h13m3 0h30m3 0h11m1 0h4m2 0h4m1 0h2m1 0h2m47 0h2m-1253 1h1m6 0h2m2 0h37m3 0h1m2 0h1m4 0h1m32 0h1m498 0h2m10 0h3m1 0h61m12 0h2m1 0h2m13 0h2m416 0h2m3 0h2m4 0h54m1 0h5m1 0h4m4 0h2m2 0h3m48 0h2m-1254 1h2m4 0h3m2 0h38m3 0h2m3 0h1m4 0h1m43 0h2m492 0h2m5 0h50m1 0h7m2 0h2m2 0h2m17 0h2m3 0h2m419 0h2m4 0h2m2 0h10m2 0h39m1 0h5m2 0h4m12 0h3m63 0h2m-1258 1h1m1 0h34m1 0h6m2 0h1m2 0h1m1 0h3m2 0h1m50 0h1m478 0h2m2 0h2m4 0h8m1 0h42m1 0h2m1 0h5m1 0h2m2 0h2m17 0h2m3 0h2m16 0h2m401 0h2m4 0h2m2 0h7m1 0h2m3 0h2m1 0h42m1 0h4m12 0h2m1 0h2m46 0h2m10 0h2m1 0h2m-1266 1h1m1 0h3m1 0h1m1 0h1m3 0h34m1 0h5m1 0h1m2 0h3m1 0h1m6 0h1m11 0h1m27 0h1m6 0h1m478 0h3m1 0h4m2 0h60m5 0h2m3 0h2m1 0h2m1 0h2m13 0h2m14 0h2m399 0h2m3 0h2m1 0h2m2 0h7m1 0h6m2 0h2m1 0h44m2 0h4m2 0h2m2 0h2m1 0h2m14 0h2m28 0h4m10 0h2m3 0h2m40 0h2m-1316 1h1m7 0h2m1 0h6m1 0h32m1 0h1m1 0h1m3 0h1m6 0h1m8 0h1m3 0h2m34 0h1m486 0h2m1 0h5m1 0h61m4 0h3m2 0h2m1 0h2m1 0h2m6 0h2m5 0h2m415 0h4m1 0h2m1 0h2m2 0h3m2 0h2m2 0h5m2 0h28m3 0h12m1 0h9m2 0h3m20 0h2m28 0h2m17 0h2m40 0h2m-1308 1h1m3 0h1m1 0h3m1 0h32m1 0h1m1 0h2m2 0h3m16 0h1m525 0h6m1 0h2m4 0h55m2 0h5m1 0h2m1 0h2m10 0h2m424 0h2m3 0h4m4 0h10m2 0h33m2 0h9m1 0h9m3 0h2m1 0h2m71 0h2m-1277 1h3m2 0h3m3 0h1m1 0h1m2 0h30m1 0h1m4 0h1m4 0h1m16 0h1m44 0h2m476 0h2m1 0h2m2 0h5m2 0h46m1 0h5m1 0h2m1 0h2m1 0h3m3 0h2m1 0h2m5 0h2m432 0h6m3 0h11m2 0h34m4 0h2m2 0h2m1 0h3m2 0h4m6 0h2m5 0h2m64 0h2m-1275 1h1m3 0h3m2 0h2m4 0h29m1 0h2m4 0h2m3 0h2m25 0h2m10 0h2m498 0h2m2 0h2m1 0h53m1 0h4m1 0h6m2 0h2m13 0h2m432 0h2m1 0h2m2 0h6m1 0h2m2 0h44m3 0h2m5 0h4m1 0h2m2 0h4m4 0h2m28 0h2m-1237 1h1m7 0h37m1 0h1m5 0h1m2 0h1m541 0h56m1 0h4m1 0h7m1 0h3m2 0h2m17 0h2m29 0h2m395 0h2m2 0h2m1 0h6m2 0h43m4 0h2m3 0h2m5 0h2m2 0h4m13 0h2m19 0h2m-1239 1h1m4 0h1m5 0h33m1 0h3m1 0h1m3 0h1m3 0h3m5 0h1m527 0h2m6 0h53m1 0h5m1 0h7m2 0h2m2 0h2m2 0h2m13 0h4m27 0h2m394 0h2m5 0h7m2 0h44m5 0h2m1 0h2m21 0h2m3 0h2m-1213 1h1m2 0h2m3 0h3m1 0h28m1 0h2m3 0h1m3 0h2m1 0h2m37 0h1m492 0h2m1 0h2m4 0h2m1 0h4m5 0h52m1 0h3m1 0h2m4 0h3m1 0h2m2 0h2m1 0h2m8 0h2m15 0h2m404 0h4m5 0h2m1 0h4m4 0h42m5 0h2m1 0h4m19 0h2m-1208 1h3m1 0h3m2 0h4m1 0h19m1 0h6m1 0h6m20 0h1m517 0h2m6 0h3m2 0h55m1 0h7m2 0h5m1 0h5m3 0h2m1 0h2m3 0h4m18 0h2m404 0h2m4 0h2m4 0h8m1 0h40m7 0h6m4 0h2m-1191 1h1m1 0h1m1 0h1m3 0h1m1 0h1m1 0h18m5 0h6m1 0h2m19 0h1m1 0h1m519 0h2m4 0h2m5 0h53m1 0h2m1 0h5m3 0h3m2 0h4m10 0h5m422 0h2m6 0h4m2 0h8m1 0h37m2 0h4m1 0h5m8 0h2m-1195 1h1m2 0h1m2 0h1m1 0h1m3 0h4m1 0h18m1 0h4m2 0h1m2 0h1m1 0h3m12 0h1m28 0h1m9 0h1m487 0h2m7 0h2m2 0h5m1 0h49m3 0h4m7 0h2m1 0h2m10 0h2m425 0h2m7 0h3m2 0h5m2 0h34m7 0h9m27 0h2m73 0h2m-1288 1h1m2 0h1m6 0h2m2 0h2m1 0h1m1 0h1m1 0h9m1 0h1m2 0h5m2 0h2m1 0h2m2 0h1m3 0h1m9 0h1m19 0h1m11 0h1m6 0h3m493 0h3m2 0h2m2 0h51m1 0h2m11 0h2m448 0h4m2 0h3m4 0h4m1 0h16m1 0h15m3 0h2m2 0h3m3 0h2m7 0h3m15 0h2m1 0h2m2 0h2m3 0h2m61 0h2m-1288 1h1m2 0h1m3 0h2m2 0h3m1 0h1m3 0h4m1 0h2m1 0h1m1 0h5m1 0h2m4 0h1m2 0h1m2 0h1m3 0h2m2 0h1m31 0h2m508 0h4m1 0h3m1 0h43m2 0h9m1 0h2m1 0h2m3 0h4m448 0h2m1 0h6m3 0h8m2 0h7m1 0h20m3 0h2m2 0h4m2 0h4m4 0h4m17 0h3m2 0h2m3 0h2m-1226 1h2m7 0h2m2 0h4m1 0h1m1 0h2m2 0h6m1 0h3m2 0h1m4 0h1m4 0h2m12 0h1m2 0h1m11 0h1m30 0h1m493 0h2m2 0h52m2 0h2m2 0h2m1 0h2m2 0h5m4 0h2m439 0h2m2 0h22m1 0h12m2 0h5m2 0h2m1 0h2m4 0h2m1 0h4m1 0h6m3 0h2m11 0h2m6 0h2m8 0h2m61 0h2m-1296 1h1m6 0h1m8 0h2m5 0h1m2 0h1m2 0h7m2 0h4m2 0h1m1 0h3m1 0h4m2 0h2m12 0h1m11 0h1m7 0h1m2 0h1m6 0h1m1 0h1m3 0h1m500 0h4m1 0h47m1 0h5m7 0h6m7 0h2m439 0h2m2 0h6m1 0h5m1 0h9m1 0h11m1 0h5m2 0h7m4 0h5m1 0h10m13 0h3m16 0h2m61 0h2m-1296 1h1m3 0h1m6 0h1m2 0h2m2 0h2m4 0h1m2 0h8m2 0h4m2 0h3m1 0h1m1 0h5m4 0h1m8 0h1m5 0h1m6 0h1m9 0h1m1 0h2m2 0h1m5 0h1m3 0h2m499 0h4m1 0h53m1 0h2m1 0h2m1 0h5m2 0h2m13 0h2m429 0h4m1 0h4m2 0h2m1 0h3m2 0h4m2 0h8m2 0h9m1 0h5m1 0h3m6 0h3m1 0h5m3 0h3m3 0h2m7 0h3m6 0h2m4 0h2m18 0h2m59 0h2m-1296 1h1m3 0h1m4 0h2m1 0h1m1 0h1m1 0h2m1 0h1m3 0h1m2 0h1m4 0h1m3 0h4m3 0h3m14 0h1m17 0h4m1 0h1m3 0h1m13 0h2m496 0h48m2 0h6m1 0h5m4 0h4m7 0h2m3 0h2m425 0h2m2 0h4m1 0h2m4 0h2m1 0h4m3 0h3m3 0h14m1 0h10m3 0h3m3 0h5m1 0h2m3 0h3m3 0h2m8 0h2m6 0h2m4 0h2m4 0h2m12 0h2m59 0h2m-1301 1h1m11 0h3m6 0h4m2 0h2m3 0h3m1 0h2m5 0h4m2 0h2m7 0h1m13 0h2m1 0h1m5 0h1m1 0h2m3 0h1m1 0h1m3 0h1m10 0h1m2 0h1m494 0h48m2 0h4m5 0h2m5 0h4m4 0h2m1 0h2m61 0h2m367 0h2m10 0h4m4 0h2m3 0h17m1 0h14m1 0h4m2 0h6m1 0h2m3 0h2m6 0h2m26 0h2m44 0h2m-1281 1h2m7 0h1m4 0h2m4 0h1m1 0h2m2 0h2m1 0h6m1 0h2m8 0h2m1 0h1m1 0h6m2 0h1m24 0h1m5 0h5m1 0h1m14 0h1m2 0h2m493 0h2m1 0h3m1 0h54m2 0h2m12 0h2m64 0h2m379 0h4m2 0h3m4 0h12m1 0h19m1 0h3m1 0h4m2 0h2m5 0h3m6 0h2m57 0h2m13 0h2m2 0h2m-1267 1h1m1 0h1m2 0h5m2 0h1m2 0h1m3 0h3m2 0h2m1 0h2m4 0h2m10 0h2m18 0h1m5 0h9m3 0h6m1 0h1m2 0h1m497 0h2m1 0h3m1 0h29m1 0h16m2 0h6m2 0h2m461 0h2m2 0h3m4 0h4m1 0h7m1 0h2m1 0h5m2 0h5m7 0h6m2 0h2m3 0h4m12 0h2m13 0h2m8 0h2m27 0h2m17 0h2m-1260 1h2m2 0h3m3 0h1m1 0h1m2 0h4m2 0h1m1 0h1m3 0h1m33 0h2m1 0h1m2 0h1m2 0h3m4 0h3m3 0h1m507 0h29m1 0h13m8 0h5m1 0h2m6 0h5m440 0h2m7 0h2m3 0h2m4 0h4m3 0h2m1 0h2m5 0h4m2 0h5m4 0h2m1 0h2m1 0h2m2 0h4m1 0h6m11 0h2m6 0h2m5 0h2m8 0h2m-1225 1h1m12 0h1m2 0h2m1 0h1m1 0h1m1 0h1m3 0h2m2 0h1m1 0h1m1 0h2m29 0h1m7 0h2m1 0h1m1 0h3m1 0h1m2 0h5m1 0h2m10 0h1m489 0h2m8 0h32m1 0h4m1 0h6m2 0h2m3 0h5m1 0h2m6 0h5m439 0h3m4 0h4m2 0h4m2 0h2m3 0h3m4 0h2m3 0h10m1 0h10m2 0h2m1 0h5m1 0h3m1 0h2m1 0h2m16 0h2m46 0h2m-1251 1h1m3 0h1m12 0h2m2 0h1m1 0h1m3 0h1m5 0h1m35 0h2m3 0h4m4 0h7m1 0h1m8 0h1m489 0h2m3 0h2m7 0h16m1 0h17m4 0h6m9 0h2m7 0h2m8 0h3m429 0h3m4 0h5m2 0h4m2 0h2m2 0h5m1 0h15m4 0h9m2 0h2m1 0h2m2 0h2m1 0h2m4 0h2m4 0h2m30 0h2m3 0h2m21 0h2m-1251 1h1m3 0h1m2 0h1m9 0h1m3 0h1m1 0h2m2 0h1m5 0h3m1 0h2m1 0h2m28 0h1m4 0h3m1 0h1m2 0h4m3 0h5m484 0h2m1 0h2m11 0h2m2 0h2m2 0h37m3 0h4m20 0h2m1 0h2m4 0h3m429 0h2m5 0h6m3 0h2m6 0h5m1 0h7m1 0h6m3 0h10m3 0h3m3 0h3m13 0h2m30 0h2m3 0h2m1 0h2m-1225 1h1m10 0h1m3 0h2m2 0h1m42 0h1m1 0h1m1 0h9m2 0h3m3 0h2m2 0h3m5 0h1m476 0h2m1 0h2m9 0h3m3 0h2m2 0h38m1 0h2m1 0h2m8 0h2m2 0h2m6 0h2m1 0h2m5 0h2m435 0h3m1 0h3m3 0h2m7 0h12m2 0h3m5 0h8m6 0h2m3 0h2m5 0h2m18 0h2m27 0h2m-1220 1h1m8 0h1m1 0h1m16 0h2m31 0h1m2 0h1m1 0h10m1 0h2m8 0h2m1 0h1m490 0h4m4 0h30m1 0h4m3 0h8m6 0h4m2 0h2m3 0h2m11 0h2m429 0h2m1 0h2m1 0h3m7 0h2m8 0h8m1 0h4m3 0h2m2 0h3m1 0h8m2 0h4m9 0h5m10 0h2m3 0h4m-1203 1h2m5 0h1m8 0h1m1 0h2m5 0h1m18 0h1m21 0h2m3 0h11m1 0h5m4 0h2m2 0h1m496 0h8m2 0h31m3 0h8m6 0h2m9 0h2m76 0h2m364 0h2m1 0h2m11 0h2m6 0h2m4 0h4m1 0h4m1 0h26m9 0h3m6 0h2m2 0h2m5 0h2m-1196 1h3m3 0h1m4 0h1m11 0h1m13 0h1m22 0h2m2 0h1m1 0h2m1 0h12m2 0h2m8 0h1m485 0h2m5 0h6m1 0h2m1 0h11m1 0h8m1 0h6m2 0h6m5 0h5m11 0h3m78 0h2m372 0h2m13 0h4m2 0h2m4 0h2m3 0h16m2 0h2m4 0h2m2 0h2m9 0h2m3 0h2m17 0h2m10 0h2m7 0h2m-1226 1h1m6 0h2m8 0h1m6 0h1m28 0h1m12 0h1m1 0h4m1 0h5m1 0h1m1 0h4m5 0h2m2 0h1m479 0h2m4 0h2m7 0h2m2 0h4m1 0h5m3 0h2m1 0h5m2 0h5m1 0h2m1 0h8m5 0h4m3 0h2m2 0h2m2 0h3m3 0h2m25 0h2m5 0h2m413 0h2m13 0h4m1 0h4m2 0h6m2 0h8m1 0h5m12 0h3m6 0h4m22 0h2m10 0h2m7 0h2m4 0h4m42 0h2m-1258 1h1m6 0h1m36 0h2m1 0h1m1 0h3m1 0h1m1 0h5m3 0h4m1 0h2m484 0h2m8 0h2m7 0h4m4 0h2m2 0h4m1 0h5m1 0h4m1 0h3m1 0h2m3 0h3m1 0h2m4 0h4m1 0h3m1 0h2m2 0h2m4 0h2m25 0h2m5 0h2m412 0h2m18 0h13m5 0h2m1 0h2m1 0h5m1 0h4m2 0h2m3 0h5m4 0h2m2 0h2m37 0h2m8 0h4m42 0h2m-1251 1h1m32 0h2m1 0h2m2 0h2m8 0h4m1 0h4m498 0h2m7 0h3m2 0h3m3 0h5m1 0h2m1 0h2m3 0h2m1 0h2m6 0h4m1 0h2m2 0h2m2 0h2m2 0h2m61 0h2m396 0h2m7 0h2m8 0h3m3 0h4m1 0h6m6 0h4m1 0h2m1 0h4m1 0h3m3 0h2m1 0h4m2 0h2m2 0h2m37 0h2m3 0h2m4 0h2m8 0h2m5 0h2m-1245 1h1m20 0h2m31 0h4m1 0h1m4 0h3m1 0h5m2 0h2m2 0h3m1 0h2m4 0h1m478 0h2m3 0h2m9 0h2m2 0h3m2 0h3m3 0h4m4 0h2m1 0h8m6 0h2m6 0h3m12 0h2m12 0h2m41 0h2m405 0h2m8 0h6m2 0h2m3 0h5m3 0h4m7 0h3m1 0h2m4 0h2m3 0h2m50 0h2m4 0h2m5 0h5m5 0h2m-1253 1h1m9 0h1m1 0h2m15 0h1m32 0h3m2 0h1m2 0h1m1 0h2m2 0h3m1 0h2m1 0h1m6 0h1m8 0h1m476 0h2m3 0h2m9 0h2m4 0h2m6 0h2m1 0h2m2 0h13m7 0h2m5 0h3m10 0h4m12 0h2m439 0h2m1 0h2m16 0h4m8 0h4m3 0h2m2 0h2m3 0h6m5 0h9m20 0h2m31 0h2m7 0h4m4 0h2m24 0h2m-1277 1h1m23 0h1m4 0h1m34 0h1m2 0h1m2 0h1m4 0h4m3 0h4m1 0h1m2 0h1m8 0h1m496 0h4m6 0h2m1 0h2m2 0h2m2 0h7m6 0h2m1 0h2m2 0h6m10 0h3m13 0h2m23 0h2m413 0h3m1 0h2m13 0h2m1 0h2m5 0h2m1 0h2m1 0h2m8 0h2m1 0h5m1 0h2m2 0h2m1 0h9m1 0h2m11 0h2m4 0h2m31 0h2m11 0h2m2 0h2m2 0h2m20 0h2m-1254 1h2m49 0h3m6 0h1m3 0h1m2 0h2m504 0h3m7 0h2m1 0h2m7 0h2m2 0h2m6 0h2m3 0h6m1 0h2m21 0h2m27 0h2m10 0h2m2 0h2m2 0h2m2 0h3m3 0h2m375 0h2m6 0h2m16 0h3m4 0h2m2 0h8m2 0h4m5 0h2m1 0h2m5 0h5m8 0h2m8 0h2m1 0h2m14 0h2m18 0h2m1 0h2m7 0h2m2 0h2m6 0h2m-1238 1h1m47 0h1m5 0h1m1 0h3m1 0h2m4 0h1m5 0h1m4 0h1m486 0h2m14 0h2m3 0h2m1 0h3m1 0h4m4 0h4m3 0h2m1 0h2m6 0h2m5 0h2m10 0h2m9 0h2m3 0h2m10 0h2m21 0h3m2 0h3m1 0h2m2 0h3m3 0h3m374 0h2m6 0h2m16 0h2m5 0h2m3 0h8m1 0h4m1 0h2m1 0h2m9 0h5m18 0h2m17 0h2m18 0h4m1 0h4m3 0h2m2 0h4m1 0h2m-1247 1h1m56 0h1m2 0h1m5 0h1m7 0h1m9 0h1m3 0h2m486 0h2m9 0h2m8 0h2m1 0h2m2 0h4m4 0h4m3 0h2m1 0h2m1 0h2m1 0h2m6 0h3m10 0h2m12 0h4m5 0h2m3 0h2m7 0h3m11 0h2m4 0h2m12 0h2m391 0h2m6 0h2m11 0h2m3 0h4m5 0h2m1 0h2m9 0h2m34 0h2m11 0h2m5 0h2m6 0h2m1 0h4m8 0h3m1 0h2m-1219 1h2m27 0h1m3 0h1m1 0h1m5 0h1m7 0h1m1 0h2m6 0h1m490 0h2m7 0h2m11 0h2m4 0h3m3 0h2m9 0h4m1 0h2m6 0h5m22 0h2m6 0h3m12 0h3m5 0h4m22 0h2m391 0h2m6 0h2m3 0h2m5 0h6m2 0h3m4 0h2m9 0h5m14 0h2m8 0h2m8 0h2m11 0h2m3 0h4m6 0h2m13 0h2m3 0h2m-1188 1h1m2 0h3m1 0h1m9 0h1m7 0h1m1 0h1m487 0h2m1 0h2m7 0h2m16 0h4m1 0h2m11 0h2m6 0h2m3 0h5m30 0h2m21 0h4m9 0h2m6 0h2m9 0h2m396 0h6m3 0h6m3 0h2m15 0h7m12 0h2m8 0h2m11 0h2m5 0h4m4 0h3m7 0h2m4 0h2m1 0h2m9 0h4m-1250 1h2m10 0h1m52 0h1m1 0h1m17 0h1m489 0h2m10 0h2m16 0h2m3 0h2m6 0h2m11 0h2m9 0h2m3 0h2m46 0h4m8 0h3m2 0h5m8 0h3m376 0h3m17 0h2m2 0h2m4 0h2m1 0h2m3 0h2m18 0h4m20 0h2m2 0h2m1 0h2m6 0h2m5 0h4m5 0h2m5 0h4m4 0h5m4 0h3m4 0h2m-1251 1h1m13 0h3m1 0h2m569 0h2m6 0h2m20 0h2m11 0h2m9 0h2m3 0h2m48 0h2m3 0h2m2 0h5m1 0h4m8 0h3m2 0h2m373 0h3m14 0h2m11 0h2m1 0h2m3 0h4m16 0h2m22 0h2m2 0h2m1 0h2m15 0h2m5 0h2m4 0h5m5 0h4m4 0h3m3 0h2m-1259 1h2m7 0h1m5 0h2m8 0h1m52 0h1m16 0h1m502 0h2m6 0h4m30 0h3m20 0h2m1 0h2m2 0h4m21 0h2m1 0h2m3 0h2m3 0h2m2 0h2m1 0h6m5 0h2m3 0h2m1 0h2m3 0h2m390 0h2m7 0h2m10 0h5m7 0h3m5 0h2m15 0h2m6 0h2m4 0h2m6 0h2m12 0h2m1 0h2m2 0h3m5 0h2m1 0h4m8 0h4m-1264 1h1m28 0h2m52 0h1m529 0h2m30 0h4m2 0h2m12 0h2m1 0h2m1 0h2m2 0h4m3 0h2m5 0h2m9 0h2m1 0h7m1 0h4m2 0h11m1 0h4m3 0h2m1 0h3m389 0h2m12 0h2m13 0h2m7 0h3m22 0h2m6 0h3m8 0h5m3 0h2m7 0h2m1 0h2m2 0h3m1 0h6m1 0h2m4 0h4m2 0h2m-666 1h2m23 0h2m11 0h4m8 0h3m2 0h2m7 0h4m1 0h2m4 0h2m9 0h2m2 0h2m1 0h2m13 0h12m1 0h16m6 0h3m3 0h2m374 0h2m7 0h3m15 0h2m14 0h2m1 0h4m7 0h2m23 0h2m8 0h4m4 0h2m10 0h4m1 0h8m1 0h2m1 0h2m1 0h7m1 0h2m-667 1h2m17 0h2m4 0h2m11 0h4m2 0h2m4 0h2m3 0h2m7 0h4m22 0h2m8 0h2m2 0h2m1 0h10m1 0h2m1 0h2m1 0h4m2 0h9m1 0h5m4 0h2m374 0h2m7 0h2m16 0h2m14 0h2m1 0h4m7 0h2m5 0h2m1 0h3m19 0h2m3 0h2m3 0h2m1 0h2m1 0h2m3 0h6m1 0h11m1 0h10m1 0h2m6 0h2m-667 1h2m9 0h2m17 0h5m1 0h2m9 0h2m43 0h6m1 0h2m1 0h7m2 0h10m1 0h4m1 0h10m374 0h2m31 0h2m7 0h2m2 0h2m5 0h2m8 0h2m5 0h2m1 0h3m19 0h2m3 0h4m1 0h2m1 0h2m1 0h2m3 0h6m1 0h5m2 0h9m1 0h3m2 0h3m6 0h2m-1240 1h2m571 0h2m1 0h2m26 0h4m5 0h2m26 0h2m23 0h3m7 0h6m1 0h17m1 0h5m378 0h2m30 0h2m8 0h2m2 0h2m4 0h3m6 0h2m32 0h2m4 0h6m2 0h2m1 0h2m3 0h11m3 0h5m1 0h2m5 0h5m-1251 1h2m9 0h1m6 0h1m575 0h2m35 0h2m14 0h2m10 0h2m23 0h2m9 0h5m1 0h2m1 0h17m400 0h2m11 0h2m18 0h2m7 0h2m2 0h2m22 0h2m4 0h4m5 0h3m2 0h2m1 0h5m1 0h15m1 0h6m4 0h6m1 0h4m-1222 1h1m595 0h4m1 0h2m9 0h2m47 0h6m2 0h9m2 0h5m4 0h2m5 0h2m383 0h2m3 0h2m36 0h3m5 0h2m22 0h2m6 0h5m6 0h4m2 0h3m5 0h13m1 0h6m4 0h11m-626 1h5m2 0h2m35 0h2m10 0h2m1 0h2m2 0h26m1 0h3m5 0h2m383 0h2m29 0h2m10 0h3m18 0h2m9 0h2m3 0h2m2 0h4m3 0h2m1 0h4m2 0h4m4 0h8m3 0h9m4 0h5m4 0h2m-669 1h2m38 0h2m2 0h2m4 0h2m35 0h2m4 0h2m3 0h23m1 0h13m386 0h2m22 0h2m10 0h2m31 0h2m14 0h2m9 0h2m1 0h4m2 0h4m1 0h2m1 0h9m2 0h10m1 0h6m-662 1h2m38 0h2m21 0h2m28 0h3m2 0h4m1 0h7m1 0h10m1 0h2m1 0h2m1 0h5m388 0h2m22 0h2m43 0h2m24 0h2m4 0h2m1 0h18m1 0h17m-1216 1h2m569 0h2m17 0h2m5 0h2m11 0h2m6 0h2m29 0h2m1 0h3m3 0h7m2 0h4m1 0h4m1 0h2m1 0h4m1 0h4m1 0h2m372 0h2m42 0h2m8 0h2m25 0h2m14 0h2m5 0h2m1 0h5m1 0h2m1 0h18m1 0h4m3 0h2m1 0h7m10 0h2m-657 1h2m13 0h2m1 0h5m2 0h3m11 0h2m40 0h5m1 0h2m1 0h2m3 0h14m1 0h8m1 0h2m372 0h2m42 0h2m8 0h2m41 0h2m5 0h2m3 0h3m1 0h4m1 0h2m1 0h4m1 0h7m3 0h3m1 0h5m1 0h5m11 0h2m4 0h2m-1281 1h1m50 0h1m566 0h2m13 0h2m1 0h2m1 0h2m2 0h2m12 0h2m32 0h2m4 0h2m2 0h19m1 0h6m1 0h5m1 0h2m2 0h2m427 0h2m39 0h4m14 0h3m1 0h2m2 0h10m1 0h11m3 0h4m16 0h2m10 0h2m-1293 1h1m50 0h1m568 0h2m27 0h2m6 0h2m16 0h2m14 0h2m4 0h2m2 0h4m1 0h7m1 0h13m3 0h2m2 0h2m2 0h2m4 0h2m378 0h2m41 0h2m36 0h2m1 0h4m3 0h4m1 0h2m5 0h2m1 0h7m1 0h2m1 0h14m4 0h4m3 0h2m23 0h2m-673 1h2m27 0h2m5 0h2m17 0h2m9 0h2m19 0h15m1 0h4m1 0h4m12 0h2m378 0h2m64 0h2m13 0h2m2 0h2m4 0h4m1 0h4m6 0h5m2 0h15m1 0h4m2 0h2m1 0h3m1 0h2m-671 1h2m46 0h2m9 0h2m28 0h2m16 0h19m1 0h7m400 0h2m34 0h2m21 0h2m17 0h2m8 0h5m4 0h2m1 0h4m2 0h5m1 0h8m2 0h4m1 0h2m2 0h3m-668 1h2m41 0h2m3 0h2m14 0h2m41 0h10m2 0h3m1 0h13m5 0h2m379 0h3m9 0h2m14 0h2m1 0h2m15 0h2m6 0h2m41 0h4m1 0h2m2 0h9m1 0h5m1 0h12m3 0h2m7 0h2m-629 1h2m3 0h2m14 0h2m42 0h2m1 0h3m1 0h2m1 0h11m2 0h2m1 0h2m1 0h2m2 0h2m379 0h3m8 0h2m15 0h2m1 0h2m16 0h3m4 0h2m31 0h2m4 0h2m2 0h4m1 0h3m1 0h2m1 0h3m1 0h8m1 0h5m1 0h4m2 0h4m1 0h2m5 0h2m-1267 1h2m641 0h2m44 0h2m5 0h2m2 0h2m4 0h2m1 0h3m1 0h12m1 0h2m4 0h2m390 0h2m2 0h2m36 0h3m32 0h2m3 0h2m4 0h2m2 0h4m2 0h2m1 0h4m4 0h10m2 0h3m5 0h7m5 0h2m-627 1h2m47 0h2m5 0h2m2 0h3m6 0h2m3 0h2m2 0h2m3 0h2m5 0h2m10 0h2m361 0h2m17 0h2m75 0h2m22 0h4m5 0h2m1 0h4m3 0h4m8 0h2m22 0h2m-1254 1h2m8 0h1m601 0h2m18 0h2m39 0h2m5 0h2m2 0h3m7 0h2m6 0h2m10 0h2m361 0h2m2 0h3m47 0h2m48 0h2m10 0h2m3 0h3m1 0h3m1 0h2m1 0h2m1 0h2m2 0h3m3 0h2m28 0h2m-1245 1h1m592 0h2m28 0h2m46 0h2m2 0h3m5 0h4m7 0h2m4 0h2m370 0h3m47 0h2m48 0h2m10 0h2m4 0h6m2 0h2m2 0h3m3 0h2m3 0h2m7 0h2m6 0h2m-1232 1h1m592 0h2m14 0h2m53 0h4m15 0h4m7 0h2m4 0h2m366 0h3m84 0h2m15 0h2m16 0h3m1 0h2m2 0h7m3 0h2m9 0h2m1 0h2m6 0h2m-1262 1h1m621 0h2m15 0h2m52 0h5m2 0h2m3 0h4m7 0h2m380 0h3m53 0h2m14 0h2m13 0h2m11 0h8m9 0h2m4 0h2m1 0h2m4 0h2m6 0h2m5 0h2m2 0h2m1 0h2m-1224 1h1m591 0h2m63 0h2m4 0h2m5 0h2m3 0h4m5 0h4m380 0h2m9 0h2m43 0h2m14 0h2m26 0h4m1 0h3m9 0h5m15 0h2m7 0h3m14 0h2m-1233 1h1m656 0h3m10 0h2m12 0h2m382 0h2m9 0h2m51 0h2m14 0h2m37 0h3m8 0h2m5 0h2m7 0h2m4 0h2m6 0h2m1 0h2m25 0h2m-602 1h2m4 0h2m4 0h2m460 0h2m14 0h2m27 0h2m19 0h4m5 0h2m8 0h2m1 0h3m5 0h2m28 0h2m-1299 1h1m5 0h1m696 0h2m4 0h2m4 0h2m9 0h2m380 0h2m8 0h2m1 0h2m57 0h2m34 0h2m15 0h3m3 0h2m4 0h3m8 0h2m2 0h2m-1256 1h1m673 0h2m27 0h2m4 0h2m9 0h2m380 0h2m8 0h2m1 0h2m29 0h2m21 0h2m3 0h2m48 0h2m1 0h3m9 0h2m-567 1h2m43 0h2m425 0h2m21 0h2m43 0h2m8 0h2m17 0h2m-526 1h2m404 0h4m85 0h2m7 0h2m18 0h2m-1203 1h1m1062 0h2m2 0h2m14 0h4m3 0h2m89 0h2m6 0h2m-1191 1h1m1057 0h2m3 0h2m2 0h2m10 0h2m9 0h2m1 0h2m40 0h2m15 0h2m35 0h2m-520 1h2m385 0h2m4 0h5m6 0h2m2 0h3m4 0h2m5 0h2m40 0h2m15 0h2m-483 1h2m391 0h3m2 0h2m3 0h4m2 0h2m4 0h2m-1141 1h2m699 0h2m408 0h2m5 0h2m2 0h2m3 0h4m2 0h2m-434 1h2m408 0h2m5 0h2m13 0h2m-19 1h2m19 0h2m-23 1h3m1 0h2m1 0h2m2 0h2m8 0h2m86 0h2m-116 1h2m4 0h2m1 0h2m1 0h6m7 0h2m9 0h2m76 0h2m-116 1h4m8 0h5m7 0h3m2 0h2m5 0h2m55 0h2m64 0h2m-159 1h2m6 0h4m8 0h4m3 0h2m32 0h2m28 0h2m64 0h2m-159 1h2m6 0h2m8 0h4m39 0h2m53 0h2m-118 1h4m6 0h2m6 0h4m94 0h2m9 0h2m-129 1h5m3 0h6m1 0h2m3 0h2m105 0h2m-130 1h2m2 0h3m2 0h2m1 0h3m1 0h2m-18 1h4m1 0h2m2 0h2m1 0h2m-12 1h3m2 0h6m3 0h2m-17 1h4m2 0h6m1 0h4m-19 1h6m9 0h4m5 0h2m4 0h2m-32 1h6m4 0h3m11 0h2m4 0h2m-31 1h5m4 0h5m10 0h2m-26 1h3m1 0h2m2 0h2m1 0h5m8 0h2m-26 1h2m2 0h2m2 0h2m1 0h2m1 0h2m8 0h2m-16 1h2m7 0h2m3 0h2m-24 1h2m6 0h5m1 0h2m1 0h2m-19 1h2m3 0h2m1 0h5m1 0h2m6 0h2m-26 1h4m3 0h6m11 0h2m7 0h2m-35 1h4m5 0h4m4 0h2m14 0h2m-25 1h2m5 0h2m-16 1h2m6 0h2m-10 1h2m6 0h4m18 0h2m-32 1h3m3 0h2m2 0h2m1 0h2m15 0h2m-31 1h2m1 0h4m3 0h4m-11 1h2m5 0h2m2 2h2m-20 1h2m6 0h3m7 0h2m-21 1h3m3 0h2m1 0h3m2 0h4m3 0h2m1 0h2m-26 1h2m4 0h2m1 0h2m3 0h4m3 0h2m1 0h2m-25 1h2m8 0h2m1 0h2m2 0h2m-19 1h2m6 0h4m2 0h2m1 0h2m-19 1h3m5 0h2m1 0h2m1 0h2m-15 1h2m2 0h2m4 0h2m-8 1h2m-1 1h2m-3 1h3m6 0h2m-11 1h2m7 0h2m-8 2h2m1 0h2m-5 1h2m1 0h2m-8 1h3m-3 1h3m3 3h2m-2 1h3m-2 1h2m2 0h2m-2 1h2m-12 2h2m-2 1h2m10 2h2m-2 1h3m-14 1h2m10 0h2m-14 1h2" stroke="#000" stroke-width="1" fill="none" shape-rendering="crispEdges"/>
</svg>
</body></html>
